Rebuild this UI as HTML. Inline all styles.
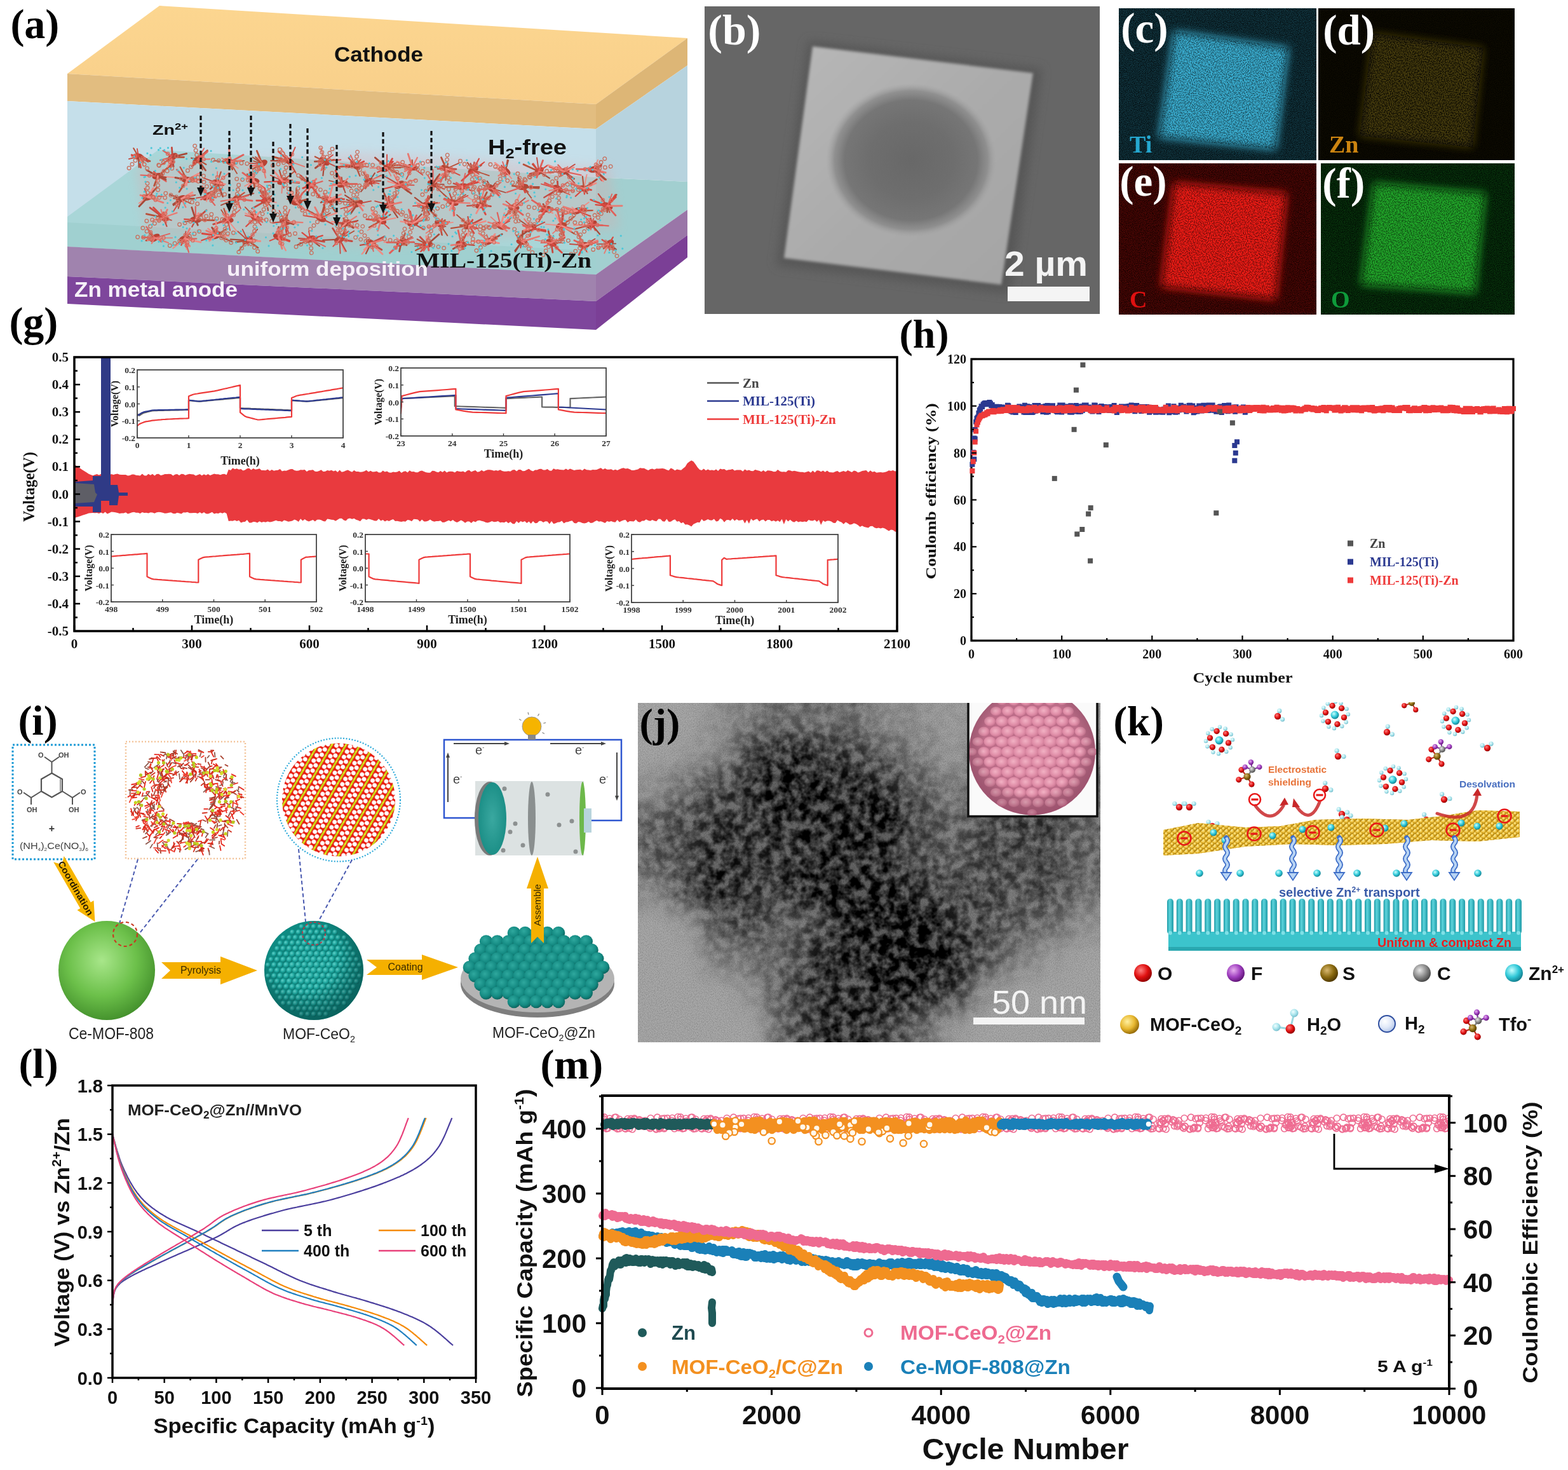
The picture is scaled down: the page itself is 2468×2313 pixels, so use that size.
<!DOCTYPE html>
<html><head><meta charset="utf-8"><title>Figure</title>
<style>html,body{margin:0;padding:0;background:#fff;}svg{display:block;}</style></head>
<body><svg width="2468" height="2313" viewBox="0 0 2468 2313">
<defs><linearGradient id="gTop" x1="0" y1="0" x2="0" y2="1"><stop offset="0" stop-color="#FCD690"/><stop offset="1" stop-color="#F8CF8A"/></linearGradient>
<filter id="blur8" x="-20%" y="-20%" width="140%" height="140%"><feGaussianBlur stdDeviation="8"/></filter>
<filter id="blur2" x="-10%" y="-10%" width="120%" height="120%"><feGaussianBlur stdDeviation="2"/></filter>
<linearGradient id="gSq" x1="0" y1="0" x2="1" y2="1"><stop offset="0" stop-color="#B8B8B8"/><stop offset="0.5" stop-color="#ABABAB"/><stop offset="1" stop-color="#A4A4A4"/></linearGradient>
<radialGradient id="gEll"><stop offset="0" stop-color="#686868"/><stop offset="0.5" stop-color="#6E6E6E"/><stop offset="0.78" stop-color="#767676"/><stop offset="0.9" stop-color="#888888" stop-opacity="0.8"/><stop offset="1" stop-color="#A0A0A0" stop-opacity="0"/></radialGradient>
<clipPath id="clipcf0"><rect x="1761" y="13" width="311" height="239"/></clipPath>
<clipPath id="clipcf1"><rect x="2075" y="13" width="309" height="239"/></clipPath>
<clipPath id="clipcf2"><rect x="1761" y="257" width="311" height="238"/></clipPath>
<clipPath id="clipcf3"><rect x="2079" y="257" width="305" height="238"/></clipPath>
<filter id="edsblur" x="-20%" y="-20%" width="140%" height="140%"><feGaussianBlur stdDeviation="7"/></filter>
<filter id="speck" x="0" y="0" width="100%" height="100%"><feTurbulence type="fractalNoise" baseFrequency="0.9" numOctaves="1" seed="3" result="n"/><feColorMatrix in="n" type="matrix" values="0 0 0 0 0  0 0 0 0 0  0 0 0 0 0  0 0 0 -6 3.6" result="a"/><feComposite in="SourceGraphic" in2="a" operator="in"/></filter>
<filter id="speck2" x="-5%" y="-5%" width="110%" height="110%"><feTurbulence type="fractalNoise" baseFrequency="0.6" numOctaves="1" seed="8" result="n"/><feColorMatrix in="n" type="matrix" values="0 0 0 0 0  0 0 0 0 0  0 0 0 0 0  0 0 0 -5 2.9" result="a"/><feComposite in="SourceGraphic" in2="a" operator="in" result="c"/><feGaussianBlur in="c" stdDeviation="0.6"/></filter>
<radialGradient id="gGreen" cx="0.45" cy="0.4" r="0.65"><stop offset="0" stop-color="#A8E68A"/><stop offset="0.55" stop-color="#6CC04A"/><stop offset="1" stop-color="#3E8A28"/></radialGradient>
<radialGradient id="gBall" cx="0.35" cy="0.35" r="0.7"><stop offset="0" stop-color="#5FD0C8"/><stop offset="0.6" stop-color="#18A098"/><stop offset="1" stop-color="#0B6E68"/></radialGradient>
<radialGradient id="gBall2" cx="0.4" cy="0.35" r="0.7"><stop offset="0" stop-color="#2FA89E"/><stop offset="0.6" stop-color="#148A82"/><stop offset="1" stop-color="#0A5E58"/></radialGradient>
<radialGradient id="gShade" cx="0.4" cy="0.35" r="0.7"><stop offset="0.5" stop-color="#000" stop-opacity="0"/><stop offset="1" stop-color="#043030" stop-opacity="0.45"/></radialGradient>
<radialGradient id="gDisc" cx="0.5" cy="0.5" r="0.6"><stop offset="0" stop-color="#3AA8A0"/><stop offset="1" stop-color="#168A82"/></radialGradient>
<pattern id="latt" width="24" height="12" patternUnits="userSpaceOnUse" patternTransform="rotate(30) scale(0.8)"><rect width="24" height="12" fill="#E81C10"/><rect x="0" y="0" width="4" height="12" fill="#C8D818"/><circle cx="2" cy="6" r="1.8" fill="#F4E820"/><circle cx="10.5" cy="3" r="4.3" fill="#fff"/><circle cx="18.5" cy="9" r="4.3" fill="#fff"/><circle cx="18.5" cy="-3" r="4.3" fill="#fff"/><circle cx="10.5" cy="15" r="4.3" fill="#fff"/></pattern>
<clipPath id="clipJ"><rect x="1004" y="1106" width="728" height="534"/></clipPath>
<clipPath id="clipJi"><rect x="1523" y="1106" width="205" height="179"/></clipPath>
<filter id="temMass" x="-5%" y="-5%" width="110%" height="110%">
<feGaussianBlur in="SourceGraphic" stdDeviation="17" result="m"/>
<feTurbulence type="fractalNoise" baseFrequency="0.065" numOctaves="3" seed="4" result="t"/>
<feColorMatrix in="t" type="matrix" values="0 0 0 0 0  0 0 0 0 0  0 0 0 0 0  2.4 0 0 0 -0.7" result="ta"/>
<feComposite in="m" in2="ta" operator="arithmetic" k1="1.0" k2="0.62" k3="0" k4="0"/>
</filter>
<filter id="grain" x="0" y="0" width="100%" height="100%">
<feTurbulence type="fractalNoise" baseFrequency="0.7" numOctaves="1" seed="9" result="t"/>
<feColorMatrix in="t" type="matrix" values="0 0 0 0 0  0 0 0 0 0  0 0 0 0 0  2 0 0 0 -0.8"/>
</filter>
<radialGradient id="gPink" cx="0.45" cy="0.45" r="0.62"><stop offset="0" stop-color="#F2B2C4"/><stop offset="0.6" stop-color="#E08EA8"/><stop offset="1" stop-color="#C4708C"/></radialGradient>
<radialGradient id="gPinkShade" cx="0.5" cy="0.45" r="0.55"><stop offset="0.7" stop-color="#000" stop-opacity="0"/><stop offset="1" stop-color="#6A2040" stop-opacity="0.35"/></radialGradient>
<clipPath id="clipK"><rect x="1740" y="1105" width="728" height="560"/></clipPath>
<radialGradient id="kO" cx="0.38" cy="0.35" r="0.7"><stop offset="0" stop-color="#FF8080"/><stop offset="0.55" stop-color="#E01010"/><stop offset="1" stop-color="#8A0000"/></radialGradient>
<radialGradient id="kH" cx="0.38" cy="0.35" r="0.7"><stop offset="0" stop-color="#F0FFFF"/><stop offset="0.55" stop-color="#A8E4EC"/><stop offset="1" stop-color="#70B8C8"/></radialGradient>
<radialGradient id="kZn" cx="0.38" cy="0.35" r="0.7"><stop offset="0" stop-color="#C8FFFF"/><stop offset="0.55" stop-color="#30C8D8"/><stop offset="1" stop-color="#107888"/></radialGradient>
<radialGradient id="kF" cx="0.38" cy="0.35" r="0.7"><stop offset="0" stop-color="#E8B0F0"/><stop offset="0.55" stop-color="#A040C0"/><stop offset="1" stop-color="#5A1070"/></radialGradient>
<radialGradient id="kS" cx="0.38" cy="0.35" r="0.7"><stop offset="0" stop-color="#D8B870"/><stop offset="0.55" stop-color="#8A6A10"/><stop offset="1" stop-color="#4A3400"/></radialGradient>
<radialGradient id="kC" cx="0.38" cy="0.35" r="0.7"><stop offset="0" stop-color="#E8E8E8"/><stop offset="0.55" stop-color="#8A8A8A"/><stop offset="1" stop-color="#404040"/></radialGradient>
<radialGradient id="kMofBall" cx="0.38" cy="0.35" r="0.7"><stop offset="0" stop-color="#FFF0A0"/><stop offset="0.55" stop-color="#E8B830"/><stop offset="1" stop-color="#8A6000"/></radialGradient>
<radialGradient id="kH2" cx="0.38" cy="0.35" r="0.7"><stop offset="0" stop-color="#FFFFFF"/><stop offset="0.55" stop-color="#E0E8F8"/><stop offset="1" stop-color="#B0C4E8"/></radialGradient>
<linearGradient id="kPil" x1="0" y1="0" x2="1" y2="0"><stop offset="0" stop-color="#1E9AA6"/><stop offset="0.4" stop-color="#5CD4DC"/><stop offset="1" stop-color="#1E9AA6"/></linearGradient>
<pattern id="kMof" width="9" height="8" patternUnits="userSpaceOnUse"><circle cx="4.5" cy="4" r="4.3" fill="url(#kMofBall)"/><circle cx="0" cy="0" r="3" fill="url(#kMofBall)"/><circle cx="9" cy="0" r="3" fill="url(#kMofBall)"/><circle cx="0" cy="8" r="3" fill="url(#kMofBall)"/><circle cx="9" cy="8" r="3" fill="url(#kMofBall)"/></pattern>
<pattern id="pinkCE" width="120" height="32" patternUnits="userSpaceOnUse" x="950" y="1751"><g fill="none" stroke="#EE6A90" stroke-width="1.6"><circle cx="74.7" cy="20.8" r="5"/><circle cx="95.4" cy="24.8" r="5"/><circle cx="88.8" cy="24.4" r="5"/><circle cx="3.5" cy="15.3" r="5"/><circle cx="123.5" cy="15.3" r="5"/><circle cx="113.2" cy="19.0" r="5"/><circle cx="108.1" cy="8.3" r="5"/><circle cx="56.3" cy="10.9" r="5"/><circle cx="65.3" cy="17.5" r="5"/><circle cx="1.6" cy="10.3" r="5"/><circle cx="121.6" cy="10.3" r="5"/><circle cx="33.5" cy="24.3" r="5"/><circle cx="91.9" cy="9.2" r="5"/><circle cx="95.7" cy="8.8" r="5"/><circle cx="74.1" cy="8.5" r="5"/><circle cx="0.2" cy="23.4" r="5"/><circle cx="120.2" cy="23.4" r="5"/><circle cx="25.1" cy="10.3" r="5"/><circle cx="-2.1" cy="23.4" r="5"/><circle cx="117.9" cy="23.4" r="5"/><circle cx="34.7" cy="25.2" r="5"/><circle cx="64.7" cy="19.6" r="5"/><circle cx="24.6" cy="24.8" r="5"/><circle cx="82.9" cy="25.3" r="5"/><circle cx="107.2" cy="12.0" r="5"/><circle cx="43.3" cy="9.3" r="5"/><circle cx="17.5" cy="7.3" r="5"/><circle cx="36.2" cy="18.1" r="5"/><circle cx="0.4" cy="19.6" r="5"/><circle cx="120.4" cy="19.6" r="5"/><circle cx="40.5" cy="12.2" r="5"/><circle cx="98.2" cy="15.6" r="5"/><circle cx="37.9" cy="15.6" r="5"/><circle cx="84.6" cy="7.1" r="5"/><circle cx="-3.0" cy="6.5" r="5"/><circle cx="117.0" cy="6.5" r="5"/><circle cx="90.0" cy="22.9" r="5"/><circle cx="2.2" cy="21.8" r="5"/><circle cx="122.2" cy="21.8" r="5"/><circle cx="43.9" cy="17.6" r="5"/><circle cx="1.1" cy="6.9" r="5"/><circle cx="121.1" cy="6.9" r="5"/><circle cx="21.7" cy="25.1" r="5"/><circle cx="23.6" cy="21.1" r="5"/><circle cx="111.6" cy="24.8" r="5"/><circle cx="41.3" cy="13.1" r="5"/><circle cx="63.0" cy="21.5" r="5"/><circle cx="13.0" cy="21.0" r="5"/><circle cx="95.7" cy="23.2" r="5"/><circle cx="4.4" cy="24.9" r="5"/><circle cx="124.4" cy="24.9" r="5"/><circle cx="10.9" cy="12.8" r="5"/><circle cx="73.3" cy="24.4" r="5"/><circle cx="40.8" cy="24.5" r="5"/><circle cx="65.4" cy="12.2" r="5"/><circle cx="38.0" cy="9.5" r="5"/><circle cx="9.4" cy="9.0" r="5"/><circle cx="82.7" cy="25.9" r="5"/><circle cx="19.4" cy="7.0" r="5"/><circle cx="-1.6" cy="16.7" r="5"/><circle cx="118.4" cy="16.7" r="5"/><circle cx="48.7" cy="10.7" r="5"/><circle cx="71.3" cy="22.5" r="5"/><circle cx="54.7" cy="14.4" r="5"/><circle cx="6.7" cy="24.3" r="5"/><circle cx="3.9" cy="15.9" r="5"/><circle cx="123.9" cy="15.9" r="5"/><circle cx="100.6" cy="8.6" r="5"/><circle cx="87.8" cy="25.0" r="5"/><circle cx="75.6" cy="21.8" r="5"/><circle cx="12.8" cy="14.7" r="5"/><circle cx="17.9" cy="22.9" r="5"/><circle cx="35.4" cy="15.1" r="5"/><circle cx="-0.1" cy="23.0" r="5"/><circle cx="119.9" cy="23.0" r="5"/><circle cx="-2.9" cy="15.1" r="5"/><circle cx="117.1" cy="15.1" r="5"/><circle cx="58.6" cy="20.6" r="5"/><circle cx="57.5" cy="11.8" r="5"/><circle cx="48.5" cy="8.9" r="5"/><circle cx="45.2" cy="25.8" r="5"/><circle cx="-4.8" cy="18.5" r="5"/><circle cx="115.2" cy="18.5" r="5"/><circle cx="59.9" cy="12.8" r="5"/></g></pattern></defs>
<rect width="2468" height="2313" fill="#fff"/>
<polygon points="106,116 251,9 1082,60 938,164" fill="url(#gTop)" />
<polygon points="938,164 1082,60 1082,103 938,203" fill="#DDB676" />
<polygon points="938,203 1082,103 1082,286 938,279" fill="#B7D3DE" />
<polygon points="938,279 1082,286 1082,330 938,432" fill="#A2CFD0" />
<polygon points="938,432 1082,330 1082,370 938,474" fill="#9A76A8" />
<polygon points="938,474 1082,370 1082,405 938,519" fill="#7B3F96" />
<polygon points="106,116 938,164 938,203 106,159" fill="#E2BD80" />
<polygon points="106,159 938,203 938,432 106,388" fill="#C5DFEA" />
<polygon points="106,341 249,236 938,279 938,432 106,388" fill="#A9D6D8" />
<polygon points="106,350 938,395 938,432 106,388" fill="#A0D0D0" />
<polygon points="106,388 938,432 938,474 106,435" fill="#A083AE" />
<polygon points="106,435 938,474 938,519 106,478" fill="#7E469C" />
<polygon points="213,262 560,240 960,262 975,360 600,388 230,372" fill="#E8A0A0" opacity="0.25" filter="url(#blur8)"/>
<g fill="#B84234"><ellipse cx="217.9" cy="246.5" rx="9" ry="5" transform="rotate(12.1 217.9 246.5)"/><ellipse cx="271.6" cy="247" rx="9" ry="5" transform="rotate(-32.5 271.6 247)"/><ellipse cx="311.2" cy="250.9" rx="9" ry="5" transform="rotate(-38 311.2 250.9)"/><ellipse cx="362.1" cy="255" rx="9" ry="5" transform="rotate(26.8 362.1 255)"/><ellipse cx="412.7" cy="257.7" rx="9" ry="5" transform="rotate(-31.5 412.7 257.7)"/><ellipse cx="455" cy="253.6" rx="9" ry="5" transform="rotate(32.5 455 253.6)"/><ellipse cx="510.7" cy="253.7" rx="9" ry="5" transform="rotate(39.2 510.7 253.7)"/><ellipse cx="559.6" cy="260.6" rx="9" ry="5" transform="rotate(36.5 559.6 260.6)"/><ellipse cx="609" cy="264" rx="9" ry="5" transform="rotate(-34 609 264)"/><ellipse cx="649.1" cy="263.1" rx="9" ry="5" transform="rotate(12.2 649.1 263.1)"/><ellipse cx="702.4" cy="265.5" rx="9" ry="5" transform="rotate(31.6 702.4 265.5)"/><ellipse cx="744.6" cy="267.9" rx="9" ry="5" transform="rotate(-28.6 744.6 267.9)"/><ellipse cx="795.7" cy="269" rx="9" ry="5" transform="rotate(36.3 795.7 269)"/><ellipse cx="848.1" cy="269.8" rx="9" ry="5" transform="rotate(-36.8 848.1 269.8)"/><ellipse cx="887.7" cy="269.8" rx="9" ry="5" transform="rotate(-8.3 887.7 269.8)"/><ellipse cx="934.8" cy="266.5" rx="9" ry="5" transform="rotate(-10.8 934.8 266.5)"/><ellipse cx="248.4" cy="277.2" rx="9" ry="5" transform="rotate(-13.5 248.4 277.2)"/><ellipse cx="294.4" cy="282.9" rx="9" ry="5" transform="rotate(0.6 294.4 282.9)"/><ellipse cx="341.9" cy="287.8" rx="9" ry="5" transform="rotate(16.1 341.9 287.8)"/><ellipse cx="399.5" cy="284.6" rx="9" ry="5" transform="rotate(6.2 399.5 284.6)"/><ellipse cx="444.8" cy="285" rx="9" ry="5" transform="rotate(-24.3 444.8 285)"/><ellipse cx="488.9" cy="291.2" rx="9" ry="5" transform="rotate(-23.2 488.9 291.2)"/><ellipse cx="539" cy="289.5" rx="9" ry="5" transform="rotate(-23.2 539 289.5)"/><ellipse cx="581.5" cy="285" rx="9" ry="5" transform="rotate(12.7 581.5 285)"/><ellipse cx="628.7" cy="290.9" rx="9" ry="5" transform="rotate(-36.8 628.7 290.9)"/><ellipse cx="681.4" cy="289.3" rx="9" ry="5" transform="rotate(20.4 681.4 289.3)"/><ellipse cx="727.5" cy="293.5" rx="9" ry="5" transform="rotate(-11.3 727.5 293.5)"/><ellipse cx="773.7" cy="296.4" rx="9" ry="5" transform="rotate(35.2 773.7 296.4)"/><ellipse cx="822.9" cy="294" rx="9" ry="5" transform="rotate(-6.7 822.9 294)"/><ellipse cx="878.4" cy="297.2" rx="9" ry="5" transform="rotate(31.8 878.4 297.2)"/><ellipse cx="919" cy="296.7" rx="9" ry="5" transform="rotate(10.6 919 296.7)"/><ellipse cx="232.7" cy="310.2" rx="9" ry="5" transform="rotate(-17.2 232.7 310.2)"/><ellipse cx="285.6" cy="312.7" rx="9" ry="5" transform="rotate(-20.6 285.6 312.7)"/><ellipse cx="326.8" cy="308.7" rx="9" ry="5" transform="rotate(-38.8 326.8 308.7)"/><ellipse cx="372" cy="312.6" rx="9" ry="5" transform="rotate(-39.4 372 312.6)"/><ellipse cx="419.3" cy="315.6" rx="9" ry="5" transform="rotate(-11.1 419.3 315.6)"/><ellipse cx="467" cy="318.1" rx="9" ry="5" transform="rotate(-8.5 467 318.1)"/><ellipse cx="517.4" cy="314.4" rx="9" ry="5" transform="rotate(16.1 517.4 314.4)"/><ellipse cx="563" cy="320.5" rx="9" ry="5" transform="rotate(-26.9 563 320.5)"/><ellipse cx="612.4" cy="322.3" rx="9" ry="5" transform="rotate(-22.3 612.4 322.3)"/><ellipse cx="669.1" cy="323" rx="9" ry="5" transform="rotate(-19.6 669.1 323)"/><ellipse cx="713" cy="318.7" rx="9" ry="5" transform="rotate(15.9 713 318.7)"/><ellipse cx="756.6" cy="322.4" rx="9" ry="5" transform="rotate(-24 756.6 322.4)"/><ellipse cx="808.6" cy="326.8" rx="9" ry="5" transform="rotate(4.7 808.6 326.8)"/><ellipse cx="859" cy="329.2" rx="9" ry="5" transform="rotate(-17.4 859 329.2)"/><ellipse cx="908.2" cy="331.9" rx="9" ry="5" transform="rotate(-22.1 908.2 331.9)"/><ellipse cx="955.9" cy="324.1" rx="9" ry="5" transform="rotate(23.8 955.9 324.1)"/><ellipse cx="257.1" cy="342.3" rx="9" ry="5" transform="rotate(28.7 257.1 342.3)"/><ellipse cx="308" cy="345.8" rx="9" ry="5" transform="rotate(4 308 345.8)"/><ellipse cx="358.7" cy="346.5" rx="9" ry="5" transform="rotate(-0.1 358.7 346.5)"/><ellipse cx="401.7" cy="342.3" rx="9" ry="5" transform="rotate(31.4 401.7 342.3)"/><ellipse cx="448.6" cy="348.6" rx="9" ry="5" transform="rotate(16.1 448.6 348.6)"/><ellipse cx="504.9" cy="343.5" rx="9" ry="5" transform="rotate(26.3 504.9 343.5)"/><ellipse cx="544.5" cy="351.3" rx="9" ry="5" transform="rotate(-25.3 544.5 351.3)"/><ellipse cx="599.7" cy="347.3" rx="9" ry="5" transform="rotate(21 599.7 347.3)"/><ellipse cx="649.9" cy="351.4" rx="9" ry="5" transform="rotate(-11.7 649.9 351.4)"/><ellipse cx="692.3" cy="352.5" rx="9" ry="5" transform="rotate(31.1 692.3 352.5)"/><ellipse cx="738.4" cy="355" rx="9" ry="5" transform="rotate(-24.3 738.4 355)"/><ellipse cx="787.9" cy="355.4" rx="9" ry="5" transform="rotate(30.8 787.9 355.4)"/><ellipse cx="836.6" cy="359.2" rx="9" ry="5" transform="rotate(-34.2 836.6 359.2)"/><ellipse cx="883.6" cy="355.1" rx="9" ry="5" transform="rotate(-14 883.6 355.1)"/><ellipse cx="931.6" cy="353.4" rx="9" ry="5" transform="rotate(-34.6 931.6 353.4)"/><ellipse cx="243.7" cy="374.3" rx="9" ry="5" transform="rotate(-36 243.7 374.3)"/><ellipse cx="290.6" cy="375.6" rx="9" ry="5" transform="rotate(-14.2 290.6 375.6)"/><ellipse cx="340.8" cy="370.3" rx="9" ry="5" transform="rotate(-27.9 340.8 370.3)"/><ellipse cx="389.7" cy="378" rx="9" ry="5" transform="rotate(-31 389.7 378)"/><ellipse cx="438.4" cy="373.1" rx="9" ry="5" transform="rotate(23.3 438.4 373.1)"/><ellipse cx="488.5" cy="376.3" rx="9" ry="5" transform="rotate(-24.2 488.5 376.3)"/><ellipse cx="534.6" cy="376.7" rx="9" ry="5" transform="rotate(-21.9 534.6 376.7)"/><ellipse cx="584.1" cy="382.6" rx="9" ry="5" transform="rotate(30.3 584.1 382.6)"/><ellipse cx="631.5" cy="381.3" rx="9" ry="5" transform="rotate(-35.4 631.5 381.3)"/><ellipse cx="672.6" cy="384.7" rx="9" ry="5" transform="rotate(-6 672.6 384.7)"/><ellipse cx="726.2" cy="383.9" rx="9" ry="5" transform="rotate(14.2 726.2 383.9)"/><ellipse cx="769.6" cy="379.6" rx="9" ry="5" transform="rotate(-27.2 769.6 379.6)"/><ellipse cx="821.4" cy="380.1" rx="9" ry="5" transform="rotate(6.4 821.4 380.1)"/><ellipse cx="867.7" cy="382.1" rx="9" ry="5" transform="rotate(28.1 867.7 382.1)"/><ellipse cx="919.2" cy="385.7" rx="9" ry="5" transform="rotate(-3.3 919.2 385.7)"/><ellipse cx="958.3" cy="383.7" rx="9" ry="5" transform="rotate(-35.6 958.3 383.7)"/></g>
<path d="M217.9 246.5L236 253.6M217.9 246.5L225.4 254.2M271.6 247L268.4 261.1M271.6 247L289.5 247.3M311.2 250.9L326.4 236.8M362.1 255L365.7 266.5M412.7 257.7L404.3 237.4M455 253.6L428.9 246.4M510.7 253.7L496.4 264.3M702.4 265.5L694.5 247.7M848.1 269.8L824.1 258.8M934.8 266.5L953.6 282.5M248.4 277.2L242.7 292.3M248.4 277.2L267.4 261.1M294.4 282.9L282 301.9M399.5 284.6L400.5 295.5M628.7 290.9L642.4 301.4M681.4 289.3L691.9 274.3M681.4 289.3L701.6 276.9M727.5 293.5L701 294.4M727.5 293.5L738 294.9M822.9 294L848.1 296M822.9 294L806.4 292.4M232.7 310.2L246.5 295.4M285.6 312.7L273.6 312M467 318.1L466.6 297.5M467 318.1L484.1 313.3M669.1 323L679.1 305.7M669.1 323L683.9 318.1M713 318.7L729.1 315.7M756.6 322.4L766.3 302.6M756.6 322.4L764 316.4M808.6 326.8L811 338.5M908.2 331.9L922.6 328.3M908.2 331.9L893.5 335.4M955.9 324.1L970.1 306.4M955.9 324.1L955.8 333.7M257.1 342.3L230.4 336.6M308 345.8L336.8 346.7M504.9 343.5L510.6 322.7M504.9 343.5L490.2 334.3M599.7 347.3L608.2 341.9M692.3 352.5L700.4 346.5M738.4 355L728.1 346.2M738.4 355L724.4 354.4M243.7 374.3L230 378.3M243.7 374.3L235.6 367.3M389.7 378L371.4 380.9M389.7 378L406 389.8M389.7 378L404 378.3M438.4 373.1L455.7 378.8M488.5 376.3L499.2 374.3M631.5 381.3L640 385.8M821.4 380.1L822.8 363.4M867.7 382.1L863.1 363.3M919.2 385.7L937.2 381.7" stroke="#B8503A" stroke-width="2.8" fill="none" stroke-linecap="round"/><path d="M217.9 246.5L207.2 246.1M311.2 250.9L330.1 250.3M412.7 257.7L418 279.7M510.7 253.7L505.1 232.8M559.6 260.6L535.7 257.5M609 264L630.8 258.4M649.1 263.1L656.8 248M744.6 267.9L755.1 270.7M795.7 269L784.5 276.7M887.7 269.8L893.4 262.4M934.8 266.5L944.5 272.8M539 289.5L547.2 281M539 289.5L518.7 292.3M539 289.5L523.4 289.7M628.7 290.9L655.1 282.2M628.7 290.9L620.2 274.9M285.6 312.7L292.4 326.1M669.1 323L691.8 319.2M713 318.7L739.5 319.7M756.6 322.4L761.3 299.7M808.6 326.8L794.7 341.9M808.6 326.8L831.7 315.4M257.1 342.3L249.6 348.5M257.1 342.3L253.5 330.1M257.1 342.3L240.6 347M257.1 342.3L278.5 334.9M257.1 342.3L262.1 350.3M401.7 342.3L417.2 346.3M448.6 348.6L476.4 350.1M504.9 343.5L511.8 327.4M544.5 351.3L561.1 340.3M544.5 351.3L563.9 359.4M787.9 355.4L768.2 349.6M836.6 359.2L825.1 344.5M243.7 374.3L238.8 383M243.7 374.3L264.9 382M672.6 384.7L659.1 384.4" stroke="#E87A72" stroke-width="2.2" fill="none" stroke-linecap="round"/><path d="M217.9 246.5L233.1 254.3M271.6 247L270.4 232.1M702.4 265.5L717.9 266.1M848.1 269.8L833.9 273.6M934.8 266.5L946.2 261.2M341.9 287.8L351.9 291.4M341.9 287.8L345 296M727.5 293.5L750.7 287M822.9 294L815.8 279.1M878.4 297.2L877.4 285.3M878.4 297.2L864.6 306.5M326.8 308.7L339.9 310.6M419.3 315.6L396.9 328M517.4 314.4L526.1 330.7M612.4 322.3L612 309.1M669.1 323L675.6 336.8M756.6 322.4L772.5 324.6M257.1 342.3L236.1 326.8M308 345.8L324.9 330.8M358.7 346.5L335.7 352.9M358.7 346.5L365.7 337.8M448.6 348.6L450.8 365.6M544.5 351.3L540.8 343.6M649.9 351.4L636.3 346M738.4 355L758.1 344.8M836.6 359.2L858.7 364.2M931.6 353.4L929.5 343.5M438.4 373.1L451.2 368.5M488.5 376.3L510.5 380.3M534.6 376.7L554.1 379.5M534.6 376.7L523.7 359.3M584.1 382.6L605.4 371.9M584.1 382.6L600.8 393M672.6 384.7L661.1 372.7M867.7 382.1L869.9 397" stroke="#C44A40" stroke-width="2.8" fill="none" stroke-linecap="round"/><path d="M217.9 246.5L221.6 263.7M217.9 246.5L207.2 243.8M455 253.6L438.3 238.5M559.6 260.6L572.7 254M559.6 260.6L531.2 262.6M609 264L617.4 249.8M609 264L618.3 254.3M744.6 267.9L726.8 284.2M887.7 269.8L865.2 262.3M934.8 266.5L947 283.8M248.4 277.2L242.5 270.3M488.9 291.2L503.1 310.2M488.9 291.2L476.8 296.1M539 289.5L528.1 268.4M727.5 293.5L753.3 286.4M822.9 294L826.6 302.7M919 296.7L939 282.5M919 296.7L930.6 298.8M419.3 315.6L403.7 315.6M517.4 314.4L541.6 313.4M517.4 314.4L537.9 312.4M612.4 322.3L621.6 329.2M756.6 322.4L764.3 337.4M756.6 322.4L773 307.2M955.9 324.1L929.7 314.2M257.1 342.3L241.5 326.6M448.6 348.6L441.6 369.4M599.7 347.3L609.4 333.9M599.7 347.3L576.9 344.9M692.3 352.5L706.9 349.1M738.4 355L751.2 359.3M738.4 355L746 366.9M738.4 355L743.8 346M836.6 359.2L858.5 362.5M836.6 359.2L825.7 363.4M883.6 355.1L888.5 374.2M340.8 370.3L318.2 367.5M438.4 373.1L455.4 379.7M769.6 379.6L756.9 378.9M867.7 382.1L884.4 397.5M867.7 382.1L886.6 375.3M919.2 385.7L911.2 401M958.3 383.7L965 392.5" stroke="#D9483F" stroke-width="2.8" fill="none" stroke-linecap="round"/><path d="M217.9 246.5L231.4 249.9M271.6 247L273.6 262.3M362.1 255L336.6 252.8M412.7 257.7L397.8 247.5M795.7 269L800.2 252.3M294.4 282.9L308.2 280.5M539 289.5L553 295M539 289.5L543.5 303.2M581.5 285L568.1 301.6M581.5 285L599.8 275.7M681.4 289.3L680 303.6M681.4 289.3L698.5 305.9M681.4 289.3L698.7 290.1M773.7 296.4L795.8 303M285.6 312.7L307.3 306.8M285.6 312.7L280.7 328M326.8 308.7L345.4 293M372 312.6L347.9 322.9M372 312.6L380.6 305.5M612.4 322.3L605.3 328.2M669.1 323L664.4 332.2M756.6 322.4L753.8 299.9M308 345.8L289.2 349.3M544.5 351.3L563.4 347M544.5 351.3L533.1 360.2M692.3 352.5L701.5 356.5M836.6 359.2L817.6 346.2M243.7 374.3L233.6 378M290.6 375.6L279.3 383.5M389.7 378L405.3 360.8M672.6 384.7L653.2 387.4M821.4 380.1L818.6 372.3M958.3 383.7L969.2 383.3" stroke="#A84A3A" stroke-width="1.8" fill="none" stroke-linecap="round"/><path d="M217.9 246.5L226.8 261.7M362.1 255L374.8 264.5M455 253.6L460.1 267.8M795.7 269L805.2 280.9M934.8 266.5L941.1 251.6M248.4 277.2L273.6 279M399.5 284.6L413.3 301.8M399.5 284.6L385.2 292.8M399.5 284.6L386.8 281.7M581.5 285L600.5 276.8M581.5 285L574.5 268.9M628.7 290.9L622.7 270.4M919 296.7L923.6 274.8M232.7 310.2L218.7 319.7M326.8 308.7L325.1 317M372 312.6L383.4 303.1M419.3 315.6L434.7 318.7M563 320.5L544.8 327.5M756.6 322.4L735.5 309.7M808.6 326.8L807.4 344M908.2 331.9L926.8 318.2M908.2 331.9L933.9 330.8M908.2 331.9L900.5 326.1M358.7 346.5L372.1 363.1M401.7 342.3L386 335.4M448.6 348.6L469.7 353.1M599.7 347.3L578.7 362.5M649.9 351.4L656.7 342.7M692.3 352.5L713 349.8M883.6 355.1L859 352.7M931.6 353.4L927.3 343.4M290.6 375.6L293.7 392.5M290.6 375.6L298.5 388.5M534.6 376.7L542.1 395.8M584.1 382.6L594.3 386.5M584.1 382.6L574.5 385.3M631.5 381.3L604.5 381M867.7 382.1L889.4 371.6M867.7 382.1L879.3 377.2M919.2 385.7L924.9 397.3M958.3 383.7L952.5 391.9" stroke="#F08C84" stroke-width="1.8" fill="none" stroke-linecap="round"/><path d="M217.9 246.5L210.2 233.3M311.2 250.9L324.4 258.8M311.2 250.9L318.7 267M412.7 257.7L397.9 265.8M510.7 253.7L495.8 246.4M559.6 260.6L566.4 276.8M559.6 260.6L536.2 261.8M609 264L629.4 274.4M609 264L630.2 263.9M609 264L622.5 259.4M649.1 263.1L648.7 251.9M744.6 267.9L735.8 256M744.6 267.9L757.8 260M795.7 269L798.8 251.9M848.1 269.8L838 258.3M294.4 282.9L283.6 262.8M341.9 287.8L347.7 270.6M399.5 284.6L389.1 273.8M444.8 285L439.8 267.9M488.9 291.2L472.2 279.6M488.9 291.2L474.8 305.2M539 289.5L537.7 279.2M773.7 296.4L786.5 304.3M773.7 296.4L760.9 285.7M919 296.7L916.9 277.5M419.3 315.6L409.6 299.3M517.4 314.4L505.9 317.5M669.1 323L688.2 318.8M713 318.7L698.2 305.6M713 318.7L699.4 312.3M756.6 322.4L765.7 311.1M908.2 331.9L932.4 331.1M358.7 346.5L352.4 328.2M504.9 343.5L511.2 325.8M599.7 347.3L580.9 357.8M649.9 351.4L672.4 344.4M692.3 352.5L695.8 369.8M692.3 352.5L704.1 370.5M738.4 355L710 359.1M883.6 355.1L903.9 367.7M931.6 353.4L905.9 360.1M534.6 376.7L541 365.8M672.6 384.7L654.2 394M672.6 384.7L656.7 376.4M726.2 383.9L732.6 370.1M726.2 383.9L729.6 372.3M958.3 383.7L949.9 391.2" stroke="#B8503A" stroke-width="2.2" fill="none" stroke-linecap="round"/><path d="M217.9 246.5L202.9 250.1M311.2 250.9L304.4 260.9M362.1 255L362.1 244.9M412.7 257.7L392 256.9M412.7 257.7L408.7 267M510.7 253.7L535.1 265.1M559.6 260.6L567.8 251.1M649.1 263.1L624.5 259.5M702.4 265.5L684.4 262.9M702.4 265.5L699.6 278.1M702.4 265.5L688.6 265.8M744.6 267.9L760.1 256.9M848.1 269.8L845 248.1M887.7 269.8L862.5 271M887.7 269.8L904.9 258.6M887.7 269.8L904.5 288.1M341.9 287.8L320.4 280.2M444.8 285L425.8 275.7M488.9 291.2L481.9 278.4M488.9 291.2L474.1 276.4M581.5 285L572.2 272M581.5 285L586 292.8M773.7 296.4L759.6 291M822.9 294L831.5 302.2M232.7 310.2L248.2 309.3M326.8 308.7L309 311.6M372 312.6L378.8 328M467 318.1L452 313.1M517.4 314.4L541.7 317.8M563 320.5L572.4 323.6M563 320.5L584.1 316.3M563 320.5L541.3 317.1M612.4 322.3L590 316.4M808.6 326.8L826.7 311.5M257.1 342.3L269.9 346.6M504.9 343.5L508.4 332M692.3 352.5L694.9 368.8M836.6 359.2L857.3 349.6M883.6 355.1L887.8 333.8M290.6 375.6L292.5 364.1M389.7 378L381.7 360.9M389.7 378L374.2 364M534.6 376.7L535.6 398.7M584.1 382.6L579.2 390M631.5 381.3L652.2 381.3M631.5 381.3L648.8 372.6M726.2 383.9L723.4 393.7M726.2 383.9L730.1 392.3M867.7 382.1L883.5 381.8M919.2 385.7L896.8 384M919.2 385.7L936.6 375.9M919.2 385.7L923.2 395.9M958.3 383.7L939.5 384.1M958.3 383.7L959.4 393.8" stroke="#C44A40" stroke-width="1.8" fill="none" stroke-linecap="round"/><path d="M217.9 246.5L218.7 263.2M311.2 250.9L316.7 258M311.2 250.9L301.1 248.7M455 253.6L426.4 252.8M510.7 253.7L508.4 276.2M702.4 265.5L704.9 257.8M744.6 267.9L740.7 257.3M848.1 269.8L864.9 280.4M848.1 269.8L833.7 277.2M248.4 277.2L236.7 271.3M581.5 285L589.8 272.5M581.5 285L599.1 284.7M773.7 296.4L766.8 285.2M773.7 296.4L779.4 288.4M822.9 294L848.7 294.2M822.9 294L815.4 283.8M919 296.7L924.5 304.4M919 296.7L939.6 282.2M232.7 310.2L220.6 323M285.6 312.7L267.8 306.5M372 312.6L399.1 304.3M419.3 315.6L422 331M517.4 314.4L504.9 318.8M563 320.5L543.1 307.2M563 320.5L545.7 314.2M612.4 322.3L625.8 342.2M669.1 323L652.9 310.8M448.6 348.6L462.2 353.1M599.7 347.3L614.4 337.7M649.9 351.4L663.5 336.9M931.6 353.4L944 368.5M340.8 370.3L364.9 380.2M389.7 378L362.9 376.7M488.5 376.3L502.9 387.1M488.5 376.3L468.1 385.5M534.6 376.7L508.2 377.9M584.1 382.6L576 399M726.2 383.9L730.3 374.1M821.4 380.1L811.1 395.8M821.4 380.1L810.5 394.4" stroke="#A84A3A" stroke-width="2.2" fill="none" stroke-linecap="round"/><path d="M217.9 246.5L215.9 234.2M271.6 247L268.7 265.4M311.2 250.9L301.5 262M455 253.6L440.7 251.6M455 253.6L464.6 231.8M510.7 253.7L536.5 251.3M510.7 253.7L524 243.7M559.6 260.6L552.3 253.3M609 264L609.1 243.3M649.1 263.1L665.3 275.3M649.1 263.1L639.4 282M702.4 265.5L723.7 275.6M744.6 267.9L762.4 255.1M934.8 266.5L918.8 266M444.8 285L460.3 283.5M581.5 285L596.5 288.8M628.7 290.9L651.6 291.4M628.7 290.9L638.7 293.6M878.4 297.2L852 289.5M878.4 297.2L857.4 287.2M232.7 310.2L227.5 296.6M285.6 312.7L272.6 333M419.3 315.6L409.2 300.9M467 318.1L475.2 329.7M517.4 314.4L508.8 322.4M563 320.5L536.3 328.4M669.1 323L650 324.2M713 318.7L736.4 307.7M808.6 326.8L796.4 316.6M859 329.2L855.9 337.2M859 329.2L848.2 333.3M358.7 346.5L345.2 348.8M358.7 346.5L362.1 362.5M401.7 342.3L410.9 354.1M448.6 348.6L454.5 367.4M448.6 348.6L439.5 331.4M504.9 343.5L477.5 339M544.5 351.3L561.6 348.6M599.7 347.3L612.3 359.5M599.7 347.3L604.8 332.7M787.9 355.4L802.2 347.7M931.6 353.4L937 362.7M389.7 378L390.6 386.4M438.4 373.1L457 366M438.4 373.1L424.6 378.9M438.4 373.1L451.8 377.1M488.5 376.3L472.8 378.2M488.5 376.3L486 363.7M534.6 376.7L524.3 387.7M821.4 380.1L839.4 375.4M867.7 382.1L871 370.6M958.3 383.7L941.1 390.3" stroke="#D9483F" stroke-width="1.8" fill="none" stroke-linecap="round"/><path d="M271.6 247L263.9 262.6M412.7 257.7L405.6 247.7M455 253.6L466.6 273.7M649.1 263.1L624.7 254M649.1 263.1L662.9 254.8M744.6 267.9L755.5 288.3M795.7 269L785.5 269.1M795.7 269L780.1 263.4M934.8 266.5L949.5 285.3M248.4 277.2L260.2 281.1M294.4 282.9L291 291.2M294.4 282.9L320.4 283.8M399.5 284.6L391.4 265.8M628.7 290.9L610.4 285.4M681.4 289.3L694.5 280.4M681.4 289.3L696.5 272.9M878.4 297.2L875.3 306.5M419.3 315.6L421.1 325.4M467 318.1L457.2 298.9M467 318.1L464.3 310.3M563 320.5L572.9 324.3M612.4 322.3L616.1 331.6M713 318.7L713.8 340M808.6 326.8L818.1 306.3M859 329.2L864.3 308.7M859 329.2L869.8 335.3M859 329.2L844.4 347.8M358.7 346.5L356.3 332.1M504.9 343.5L530 335.1M544.5 351.3L521.9 348.8M599.7 347.3L622.6 343M649.9 351.4L630.4 348.3M738.4 355L736.4 371.4M883.6 355.1L874.7 338M931.6 353.4L903.2 354.3M290.6 375.6L272.3 390.6M340.8 370.3L339.9 347.6M340.8 370.3L327.4 359.6M438.4 373.1L449.9 394.1M584.1 382.6L569.6 399.7M631.5 381.3L612.9 397.9M726.2 383.9L721.7 399M769.6 379.6L759.9 382.7M821.4 380.1L819.2 368.3M821.4 380.1L837.2 389M821.4 380.1L812.2 370.3" stroke="#F08C84" stroke-width="2.2" fill="none" stroke-linecap="round"/><path d="M271.6 247L254.5 258.9M311.2 250.9L304.7 257.6M455 253.6L459.1 243.3M609 264L594.2 270.9M744.6 267.9L753.5 273.7M744.6 267.9L753.9 249.7M795.7 269L794.6 278.2M848.1 269.8L839.2 257.4M848.1 269.8L861.4 260.3M294.4 282.9L286.9 274.1M399.5 284.6L416.5 295.9M444.8 285L446.6 295.6M444.8 285L416.3 286.4M581.5 285L573.5 294.9M628.7 290.9L605.7 296.8M727.5 293.5L741.4 299.8M727.5 293.5L748.2 284.7M773.7 296.4L785.5 307.8M919 296.7L905.8 308.8M919 296.7L919.9 305.3M419.3 315.6L410 307.8M419.3 315.6L417 296.9M612.4 322.3L628.6 337.3M669.1 323L674 308.1M669.1 323L666.9 337.6M859 329.2L848.2 348.7M908.2 331.9L929.2 340.1M908.2 331.9L921.7 329.6M955.9 324.1L969.7 310M955.9 324.1L968.5 306.3M955.9 324.1L937.5 322.1M308 345.8L290.1 344.8M308 345.8L306.7 337.8M401.7 342.3L387.3 356.2M649.9 351.4L645.8 332.4M787.9 355.4L803.6 343.7M883.6 355.1L883.6 369.3M290.6 375.6L285.3 385.8M340.8 370.3L317.3 378.3M488.5 376.3L475.5 366.1M488.5 376.3L507.8 370.6M534.6 376.7L548.3 364M672.6 384.7L653.4 383.6M672.6 384.7L662.3 395.8M726.2 383.9L734.4 367.6M769.6 379.6L782.5 375.6M958.3 383.7L964.8 373.3M958.3 383.7L947.6 377.2" stroke="#D9483F" stroke-width="2.2" fill="none" stroke-linecap="round"/><path d="M271.6 247L256.7 237M271.6 247L252.2 252.1M510.7 253.7L505.7 268.1M559.6 260.6L579.5 262.5M649.1 263.1L642.7 271M702.4 265.5L693.7 286.8M795.7 269L795.9 280.7M848.1 269.8L839.5 277.3M887.7 269.8L914.6 275.5M887.7 269.8L878.3 259.5M248.4 277.2L221.5 275.5M248.4 277.2L261.6 285.5M399.5 284.6L390.1 295.2M444.8 285L437 277.6M444.8 285L444.1 276.9M488.9 291.2L479.9 300.8M488.9 291.2L507.5 285.3M488.9 291.2L483.3 306.9M681.4 289.3L681.5 267.1M681.4 289.3L673.2 275.7M773.7 296.4L752 298.9M822.9 294L797.8 302.6M919 296.7L908.6 296.4M232.7 310.2L255.5 309M326.8 308.7L337.4 305.8M326.8 308.7L338.2 322.9M372 312.6L390.7 307.8M563 320.5L547.7 333.7M908.2 331.9L891.5 328.5M308 345.8L307.7 325M308 345.8L312.8 338.2M401.7 342.3L413.1 349.5M738.4 355L748 360.8M787.9 355.4L782.8 334.7M883.6 355.1L905 361M931.6 353.4L934.2 344M931.6 353.4L957.7 355.4M243.7 374.3L230.3 356.6M290.6 375.6L297 396.8M290.6 375.6L309.3 375.6M340.8 370.3L341.1 359.6M340.8 370.3L335.6 359.1M631.5 381.3L651.3 380.5M867.7 382.1L856.8 388M919.2 385.7L941.1 381" stroke="#E0605A" stroke-width="2.2" fill="none" stroke-linecap="round"/><path d="M271.6 247L271.8 260.9M455 253.6L465.2 271.3M559.6 260.6L548.6 248.5M744.6 267.9L746.4 255.3M795.7 269L789.4 260.5M934.8 266.5L950.1 271.8M934.8 266.5L946.9 259.1M341.9 287.8L336.3 306.6M488.9 291.2L472.5 275.5M539 289.5L541.6 298.5M628.7 290.9L605.9 277.6M681.4 289.3L699.1 297.6M727.5 293.5L713.8 288.6M822.9 294L812.6 294.3M878.4 297.2L856.3 310.8M419.3 315.6L413.9 301.2M517.4 314.4L501.2 310.1M713 318.7L706.6 301.3M756.6 322.4L735.1 323.9M808.6 326.8L797.5 323.4M955.9 324.1L941.8 305.2M257.1 342.3L262.5 356.1M308 345.8L302.3 356.8M401.7 342.3L401 331.5M448.6 348.6L429.4 350.6M504.9 343.5L524.1 352.8M504.9 343.5L482.6 329.8M544.5 351.3L527.4 350.1M649.9 351.4L667.6 361.2M692.3 352.5L696.1 344.4M738.4 355L736.5 341.2M883.6 355.1L885.6 334.4M488.5 376.3L470.1 375.1M534.6 376.7L544.7 395.4M584.1 382.6L567 385.9M726.2 383.9L746.5 386M821.4 380.1L819.3 389.7" stroke="#C44A40" stroke-width="2.2" fill="none" stroke-linecap="round"/><path d="M271.6 247L284 244.3M311.2 250.9L321.2 233.4M362.1 255L360 244.5M559.6 260.6L551.9 244.3M649.1 263.1L637 266.2M795.7 269L791.1 254.6M887.7 269.8L880.2 278.3M294.4 282.9L315.9 271.2M727.5 293.5L732.3 272.8M727.5 293.5L727.2 302M773.7 296.4L760.6 297.6M773.7 296.4L788.5 286.9M773.7 296.4L784.3 308M878.4 297.2L903.4 300.5M878.4 297.2L896.9 306.4M878.4 297.2L893.6 286.4M878.4 297.2L856.7 288.7M326.8 308.7L337.4 311.1M372 312.6L347.5 316.7M467 318.1L470.4 302.9M517.4 314.4L508.9 304.7M756.6 322.4L762.3 329.3M859 329.2L849.6 342.6M859 329.2L869.6 328.1M955.9 324.1L963.2 305.5M358.7 346.5L377.4 330.2M401.7 342.3L409.8 347M401.7 342.3L386 339M448.6 348.6L455.9 329.8M649.9 351.4L663.9 347M787.9 355.4L765.8 357.2M787.9 355.4L801.3 359.9M787.9 355.4L799.3 357.7M836.6 359.2L831.5 350.8M836.6 359.2L822.1 353.2M931.6 353.4L916 356.6M931.6 353.4L929.9 361.5M931.6 353.4L919.6 339.8M243.7 374.3L233.7 378.3M243.7 374.3L267.2 367.7M290.6 375.6L299.7 365.7M389.7 378L402.8 363.6M389.7 378L398.8 381.5M488.5 376.3L512 387.9M584.1 382.6L587.8 395.4M631.5 381.3L650.3 374.5M672.6 384.7L674.1 373M769.6 379.6L766 369.3M867.7 382.1L851.3 382.1" stroke="#E0605A" stroke-width="1.8" fill="none" stroke-linecap="round"/><path d="M271.6 247L293.7 241.6M311.2 250.9L323.5 268M510.7 253.7L496.8 264M510.7 253.7L495.4 254.1M559.6 260.6L548.7 263M609 264L590.4 248M887.7 269.8L903.5 281.3M934.8 266.5L952 282.3M248.4 277.2L261 282.8M248.4 277.2L261 279.3M248.4 277.2L231 267.8M294.4 282.9L275.9 279.5M341.9 287.8L350.8 309.2M341.9 287.8L331.1 297.3M444.8 285L470.9 287.6M581.5 285L575.1 296.4M628.7 290.9L647.3 304.7M681.4 289.3L673.7 299.8M681.4 289.3L689.1 277.7M232.7 310.2L219 324.8M232.7 310.2L241.7 300.3M285.6 312.7L305.5 312.6M285.6 312.7L272.7 321.3M285.6 312.7L273.2 322.7M372 312.6L362.1 321.3M563 320.5L551.9 336.1M612.4 322.3L604.6 304.2M669.1 323L685.5 339.8M859 329.2L855 321.2M308 345.8L311.3 354.2M308 345.8L301.8 326.3M448.6 348.6L451.7 338.7M544.5 351.3L556.2 358.5M544.5 351.3L537.4 359M836.6 359.2L815 374.3M340.8 370.3L333.6 357.9M438.4 373.1L438.5 357.5M631.5 381.3L637.5 367.7M631.5 381.3L628.6 395.5M672.6 384.7L690.9 368.8M726.2 383.9L713.2 391.6M769.6 379.6L790.2 368.4M958.3 383.7L969.5 392.7" stroke="#A84A3A" stroke-width="2.8" fill="none" stroke-linecap="round"/><path d="M311.2 250.9L326.5 238.6M362.1 255L383.1 243.6M848.1 269.8L844.8 279.3M848.1 269.8L854.5 252.5M934.8 266.5L907.3 266.1M294.4 282.9L278.4 267.1M399.5 284.6L381.9 271.9M539 289.5L534.5 278.4M539 289.5L561.8 289.5M628.7 290.9L645.1 298.4M727.5 293.5L718.3 287.6M727.5 293.5L715.1 296.8M822.9 294L823.8 283.3M919 296.7L898.8 289.1M326.8 308.7L316.3 313.9M326.8 308.7L336.1 314.6M326.8 308.7L318.4 293.3M372 312.6L397 315.8M467 318.1L476.4 303.4M467 318.1L452.3 303.7M612.4 322.3L624.1 307.1M713 318.7L714.9 338.8M713 318.7L698.7 313.4M713 318.7L728.2 313.7M808.6 326.8L823.2 338.1M859 329.2L837.3 314.8M859 329.2L886.3 330.5M955.9 324.1L968.9 338.9M955.9 324.1L942.6 335.9M257.1 342.3L257.3 334.1M358.7 346.5L364.6 337.8M649.9 351.4L643.3 329.9M649.9 351.4L655.6 338.9M787.9 355.4L801.8 359M836.6 359.2L823.6 355.1M883.6 355.1L877.5 332.6M931.6 353.4L948.4 354.7M243.7 374.3L224.5 373.4M488.5 376.3L497.4 382M534.6 376.7L544.5 366.5M631.5 381.3L608.8 381.3M631.5 381.3L613.7 398.2M672.6 384.7L666.9 394.3M672.6 384.7L674.9 393.8M726.2 383.9L721.1 362.5M769.6 379.6L757.9 381.8M769.6 379.6L746.5 380M919.2 385.7L903.9 378.2M919.2 385.7L908.2 365.4" stroke="#E0605A" stroke-width="2.8" fill="none" stroke-linecap="round"/><path d="M362.1 255L373 273M362.1 255L384.4 252.8M412.7 257.7L399 253.3M412.7 257.7L402.1 247M455 253.6L435.7 252.2M510.7 253.7L526.3 250.9M510.7 253.7L500.7 253.4M609 264L621.6 256.8M649.1 263.1L628.2 263.3M702.4 265.5L721.9 256.9M702.4 265.5L701.4 283.7M744.6 267.9L769.9 276.3M341.9 287.8L340.8 301.1M444.8 285L463.6 269.5M539 289.5L517.9 284.2M822.9 294L836.4 311.6M822.9 294L813.4 286.1M878.4 297.2L889.6 303.2M285.6 312.7L299.8 320.1M372 312.6L385 303.1M419.3 315.6L427.4 307.9M419.3 315.6L426.5 325M467 318.1L469.8 306.8M517.4 314.4L527.6 333.2M563 320.5L548.9 321.9M713 318.7L733 306.2M808.6 326.8L795.7 339.1M955.9 324.1L959.6 334.3M308 345.8L316.9 338.5M358.7 346.5L348.2 330.3M401.7 342.3L409.8 332.8M401.7 342.3L385.8 325.9M504.9 343.5L519.9 335.3M544.5 351.3L540.7 373.7M738.4 355L718.9 338M836.6 359.2L834.2 371.8M883.6 355.1L904.4 340.7M340.8 370.3L355.3 360.6M389.7 378L375.9 394.2M534.6 376.7L557.3 363.5M726.2 383.9L727.8 392.7M821.4 380.1L812.7 370" stroke="#B8503A" stroke-width="1.8" fill="none" stroke-linecap="round"/><path d="M362.1 255L379.4 252.5M412.7 257.7L393.4 262.4M559.6 260.6L576.2 257.1M649.1 263.1L637 269.6M649.1 263.1L642.3 242.2M702.4 265.5L703.8 277.2M934.8 266.5L953.3 271.7M341.9 287.8L330.2 286.7M399.5 284.6L398.8 274.1M399.5 284.6L388.6 279.9M444.8 285L470.9 286.6M488.9 291.2L499.5 294.6M488.9 291.2L497.8 281.5M628.7 290.9L619 293.6M232.7 310.2L256.9 318.9M232.7 310.2L221 307.2M285.6 312.7L303.7 306.5M326.8 308.7L340.8 310M326.8 308.7L339.3 297.6M467 318.1L482 332.1M563 320.5L571 331.2M612.4 322.3L631.6 318.4M808.6 326.8L792.2 321.2M908.2 331.9L886.8 325.3M908.2 331.9L888.1 336.6M955.9 324.1L979.1 323.8M257.1 342.3L263.3 329.9M358.7 346.5L350.7 336.5M448.6 348.6L447.7 357.1M448.6 348.6L434.8 365.6M504.9 343.5L487.3 334.8M504.9 343.5L495.7 326.2M599.7 347.3L594.5 363M599.7 347.3L585.7 336.4M692.3 352.5L705.9 349.3M692.3 352.5L673.8 357.6M692.3 352.5L703.6 351.7M787.9 355.4L797.6 363.3M243.7 374.3L232.4 378M290.6 375.6L298.8 359.7M340.8 370.3L324.8 362.9M438.4 373.1L444 391.4M488.5 376.3L477.8 379.9M584.1 382.6L602 377.6M726.2 383.9L710.1 385.8M769.6 379.6L753.8 366.8M821.4 380.1L848.5 372M867.7 382.1L876.1 376.8M919.2 385.7L940.7 378.6" stroke="#E87A72" stroke-width="2.8" fill="none" stroke-linecap="round"/><path d="M362.1 255L369.1 261M362.1 255L360.4 233.4M702.4 265.5L715.3 269.3M795.7 269L779.1 256.4M887.7 269.8L862.9 260M887.7 269.8L903.2 263.5M248.4 277.2L247.5 285.3M294.4 282.9L310.3 286.1M294.4 282.9L293.5 291.7M294.4 282.9L312.8 273.3M341.9 287.8L354.3 289.8M399.5 284.6L414.4 296.8M444.8 285L429.5 267.5M727.5 293.5L728.7 302.8M919 296.7L938 288.1M232.7 310.2L241.3 295.9M232.7 310.2L247.8 309.9M285.6 312.7L302.7 302.7M372 312.6L375.7 326.4M467 318.1L460.8 308.2M517.4 314.4L536.8 305.8M517.4 314.4L522.9 294.3M669.1 323L654.5 318.8M713 318.7L708 330.7M756.6 322.4L749.7 335.6M808.6 326.8L811.2 318.6M908.2 331.9L879.5 331.8M308 345.8L312.4 335.4M401.7 342.3L398.6 327.5M401.7 342.3L407.6 334.4M544.5 351.3L529.9 365.1M599.7 347.3L584.7 331M649.9 351.4L671.7 338.5M738.4 355L764.4 348M787.9 355.4L806.5 337.9M787.9 355.4L794 335.5M836.6 359.2L824.7 361.8M883.6 355.1L898.9 363.3M290.6 375.6L316 381.1M340.8 370.3L329.6 379M340.8 370.3L359.8 371.2M389.7 378L409.8 379.5M584.1 382.6L602 399.7M584.1 382.6L573.2 392.9M672.6 384.7L671 371.6M769.6 379.6L785.4 382.7M769.6 379.6L742.1 379.5M769.6 379.6L779.1 368.4M919.2 385.7L933 380.7" stroke="#F08C84" stroke-width="2.8" fill="none" stroke-linecap="round"/><path d="M362.1 255L349.3 248.8M412.7 257.7L418.1 271.8M412.7 257.7L403.5 274.3M455 253.6L442.5 233.6M455 253.6L479.1 262.2M609 264L582.4 264.3M609 264L615.3 276.7M795.7 269L783.2 266.1M848.1 269.8L867.1 272.9M887.7 269.8L877.4 262.5M341.9 287.8L360.4 271.7M341.9 287.8L342.1 270.2M444.8 285L443.4 303.6M539 289.5L548.1 296.1M581.5 285L573.7 294.2M773.7 296.4L788.2 305.9M878.4 297.2L864.3 299.8M919 296.7L895.6 284.8M372 312.6L355.8 315.3M612.4 322.3L608.8 311.2M612.4 322.3L602.9 327.3M859 329.2L861.8 314.7M358.7 346.5L350.5 351.8M649.9 351.4L644 359.1M692.3 352.5L670.6 366.8M787.9 355.4L772.5 341.3M883.6 355.1L870 367.1M243.7 374.3L253.8 379.7M243.7 374.3L271.3 374.3M290.6 375.6L299.2 387.2M438.4 373.1L436.2 360M438.4 373.1L443.4 358.8M438.4 373.1L447 359.6M534.6 376.7L527.3 385.8M631.5 381.3L624.1 374.4M769.6 379.6L754.1 387.6M821.4 380.1L839.5 362.2M867.7 382.1L842.1 377.7M919.2 385.7L911.8 375.2M958.3 383.7L940.2 390.8M958.3 383.7L951.2 398.5" stroke="#E87A72" stroke-width="1.8" fill="none" stroke-linecap="round"/>
<path d="M224.3 250a2.6 2.6 0 1 0 5.2 0a2.6 2.6 0 1 0 -5.2 0M209.9 246.3a2.6 2.6 0 1 0 5.2 0a2.6 2.6 0 1 0 -5.2 0M222.9 250.4a2.6 2.6 0 1 0 5.2 0a2.6 2.6 0 1 0 -5.2 0M222 248.2a2.6 2.6 0 1 0 5.2 0a2.6 2.6 0 1 0 -5.2 0M209.9 245.1a2.6 2.6 0 1 0 5.2 0a2.6 2.6 0 1 0 -5.2 0M265.1 254.8a2.6 2.6 0 1 0 5.2 0a2.6 2.6 0 1 0 -5.2 0M261.5 242a2.6 2.6 0 1 0 5.2 0a2.6 2.6 0 1 0 -5.2 0M269.1 253.9a2.6 2.6 0 1 0 5.2 0a2.6 2.6 0 1 0 -5.2 0M275.2 245.6a2.6 2.6 0 1 0 5.2 0a2.6 2.6 0 1 0 -5.2 0M270 254.6a2.6 2.6 0 1 0 5.2 0a2.6 2.6 0 1 0 -5.2 0M316.2 244.8a2.6 2.6 0 1 0 5.2 0a2.6 2.6 0 1 0 -5.2 0M318 250.6a2.6 2.6 0 1 0 5.2 0a2.6 2.6 0 1 0 -5.2 0M311.4 254.5a2.6 2.6 0 1 0 5.2 0a2.6 2.6 0 1 0 -5.2 0M358.5 249.8a2.6 2.6 0 1 0 5.2 0a2.6 2.6 0 1 0 -5.2 0M363 258a2.6 2.6 0 1 0 5.2 0a2.6 2.6 0 1 0 -5.2 0M361.3 260.7a2.6 2.6 0 1 0 5.2 0a2.6 2.6 0 1 0 -5.2 0M353.1 251.9a2.6 2.6 0 1 0 5.2 0a2.6 2.6 0 1 0 -5.2 0M405.5 266a2.6 2.6 0 1 0 5.2 0a2.6 2.6 0 1 0 -5.2 0M412.7 268.7a2.6 2.6 0 1 0 5.2 0a2.6 2.6 0 1 0 -5.2 0M402.7 261.8a2.6 2.6 0 1 0 5.2 0a2.6 2.6 0 1 0 -5.2 0M442.8 252.9a2.6 2.6 0 1 0 5.2 0a2.6 2.6 0 1 0 -5.2 0M439.4 250a2.6 2.6 0 1 0 5.2 0a2.6 2.6 0 1 0 -5.2 0M445.2 252.6a2.6 2.6 0 1 0 5.2 0a2.6 2.6 0 1 0 -5.2 0M454.9 260.7a2.6 2.6 0 1 0 5.2 0a2.6 2.6 0 1 0 -5.2 0M457.2 242.7a2.6 2.6 0 1 0 5.2 0a2.6 2.6 0 1 0 -5.2 0M438.1 253.2a2.6 2.6 0 1 0 5.2 0a2.6 2.6 0 1 0 -5.2 0M501 259a2.6 2.6 0 1 0 5.2 0a2.6 2.6 0 1 0 -5.2 0M507 264.9a2.6 2.6 0 1 0 5.2 0a2.6 2.6 0 1 0 -5.2 0M515.9 252.3a2.6 2.6 0 1 0 5.2 0a2.6 2.6 0 1 0 -5.2 0M501.1 258.8a2.6 2.6 0 1 0 5.2 0a2.6 2.6 0 1 0 -5.2 0M503.1 253.5a2.6 2.6 0 1 0 5.2 0a2.6 2.6 0 1 0 -5.2 0M500.5 253.9a2.6 2.6 0 1 0 5.2 0a2.6 2.6 0 1 0 -5.2 0M565.3 258.9a2.6 2.6 0 1 0 5.2 0a2.6 2.6 0 1 0 -5.2 0M567 261.6a2.6 2.6 0 1 0 5.2 0a2.6 2.6 0 1 0 -5.2 0M551.5 261.8a2.6 2.6 0 1 0 5.2 0a2.6 2.6 0 1 0 -5.2 0M561.1 255.8a2.6 2.6 0 1 0 5.2 0a2.6 2.6 0 1 0 -5.2 0M551.5 254.5a2.6 2.6 0 1 0 5.2 0a2.6 2.6 0 1 0 -5.2 0M542.8 261.6a2.6 2.6 0 1 0 5.2 0a2.6 2.6 0 1 0 -5.2 0M616.6 269.2a2.6 2.6 0 1 0 5.2 0a2.6 2.6 0 1 0 -5.2 0M593.1 264.2a2.6 2.6 0 1 0 5.2 0a2.6 2.6 0 1 0 -5.2 0M599 267.5a2.6 2.6 0 1 0 5.2 0a2.6 2.6 0 1 0 -5.2 0M611.1 259.2a2.6 2.6 0 1 0 5.2 0a2.6 2.6 0 1 0 -5.2 0M597.1 256a2.6 2.6 0 1 0 5.2 0a2.6 2.6 0 1 0 -5.2 0M640.5 264.7a2.6 2.6 0 1 0 5.2 0a2.6 2.6 0 1 0 -5.2 0M643.3 267a2.6 2.6 0 1 0 5.2 0a2.6 2.6 0 1 0 -5.2 0M634.2 261.3a2.6 2.6 0 1 0 5.2 0a2.6 2.6 0 1 0 -5.2 0M641.6 272.5a2.6 2.6 0 1 0 5.2 0a2.6 2.6 0 1 0 -5.2 0M710.5 270.6a2.6 2.6 0 1 0 5.2 0a2.6 2.6 0 1 0 -5.2 0M690.8 264.2a2.6 2.6 0 1 0 5.2 0a2.6 2.6 0 1 0 -5.2 0M695.5 276.1a2.6 2.6 0 1 0 5.2 0a2.6 2.6 0 1 0 -5.2 0M707.6 265.8a2.6 2.6 0 1 0 5.2 0a2.6 2.6 0 1 0 -5.2 0M692.9 265.7a2.6 2.6 0 1 0 5.2 0a2.6 2.6 0 1 0 -5.2 0M747.4 278.1a2.6 2.6 0 1 0 5.2 0a2.6 2.6 0 1 0 -5.2 0M742.9 261.6a2.6 2.6 0 1 0 5.2 0a2.6 2.6 0 1 0 -5.2 0M740.1 262.6a2.6 2.6 0 1 0 5.2 0a2.6 2.6 0 1 0 -5.2 0M746.6 258.8a2.6 2.6 0 1 0 5.2 0a2.6 2.6 0 1 0 -5.2 0M787.5 272.8a2.6 2.6 0 1 0 5.2 0a2.6 2.6 0 1 0 -5.2 0M790 264.7a2.6 2.6 0 1 0 5.2 0a2.6 2.6 0 1 0 -5.2 0M785.3 266.2a2.6 2.6 0 1 0 5.2 0a2.6 2.6 0 1 0 -5.2 0M853.9 275.1a2.6 2.6 0 1 0 5.2 0a2.6 2.6 0 1 0 -5.2 0M841.2 273.6a2.6 2.6 0 1 0 5.2 0a2.6 2.6 0 1 0 -5.2 0M838.3 273.5a2.6 2.6 0 1 0 5.2 0a2.6 2.6 0 1 0 -5.2 0M872.7 264.9a2.6 2.6 0 1 0 5.2 0a2.6 2.6 0 1 0 -5.2 0M881.3 274a2.6 2.6 0 1 0 5.2 0a2.6 2.6 0 1 0 -5.2 0M887.9 266.1a2.6 2.6 0 1 0 5.2 0a2.6 2.6 0 1 0 -5.2 0M893.5 278.9a2.6 2.6 0 1 0 5.2 0a2.6 2.6 0 1 0 -5.2 0M935.4 259a2.6 2.6 0 1 0 5.2 0a2.6 2.6 0 1 0 -5.2 0M939.8 269.1a2.6 2.6 0 1 0 5.2 0a2.6 2.6 0 1 0 -5.2 0M938.3 262.8a2.6 2.6 0 1 0 5.2 0a2.6 2.6 0 1 0 -5.2 0M918.5 266.3a2.6 2.6 0 1 0 5.2 0a2.6 2.6 0 1 0 -5.2 0M924.2 266.2a2.6 2.6 0 1 0 5.2 0a2.6 2.6 0 1 0 -5.2 0M938.3 275.2a2.6 2.6 0 1 0 5.2 0a2.6 2.6 0 1 0 -5.2 0M255.3 269.1a2.6 2.6 0 1 0 5.2 0a2.6 2.6 0 1 0 -5.2 0M232.4 276.3a2.6 2.6 0 1 0 5.2 0a2.6 2.6 0 1 0 -5.2 0M239.9 274.2a2.6 2.6 0 1 0 5.2 0a2.6 2.6 0 1 0 -5.2 0M304.8 283.4a2.6 2.6 0 1 0 5.2 0a2.6 2.6 0 1 0 -5.2 0M288.1 278.5a2.6 2.6 0 1 0 5.2 0a2.6 2.6 0 1 0 -5.2 0M298.7 281.7a2.6 2.6 0 1 0 5.2 0a2.6 2.6 0 1 0 -5.2 0M285.6 292.4a2.6 2.6 0 1 0 5.2 0a2.6 2.6 0 1 0 -5.2 0M282.6 281.2a2.6 2.6 0 1 0 5.2 0a2.6 2.6 0 1 0 -5.2 0M345.5 288.8a2.6 2.6 0 1 0 5.2 0a2.6 2.6 0 1 0 -5.2 0M343.7 298.5a2.6 2.6 0 1 0 5.2 0a2.6 2.6 0 1 0 -5.2 0M348.6 279.7a2.6 2.6 0 1 0 5.2 0a2.6 2.6 0 1 0 -5.2 0M340.9 291.9a2.6 2.6 0 1 0 5.2 0a2.6 2.6 0 1 0 -5.2 0M339.4 279a2.6 2.6 0 1 0 5.2 0a2.6 2.6 0 1 0 -5.2 0M336.5 297.2a2.6 2.6 0 1 0 5.2 0a2.6 2.6 0 1 0 -5.2 0M333.4 287.3a2.6 2.6 0 1 0 5.2 0a2.6 2.6 0 1 0 -5.2 0M455.3 285.8a2.6 2.6 0 1 0 5.2 0a2.6 2.6 0 1 0 -5.2 0M450 284.2a2.6 2.6 0 1 0 5.2 0a2.6 2.6 0 1 0 -5.2 0M493.4 300.7a2.6 2.6 0 1 0 5.2 0a2.6 2.6 0 1 0 -5.2 0M490.8 286.3a2.6 2.6 0 1 0 5.2 0a2.6 2.6 0 1 0 -5.2 0M572.2 293.3a2.6 2.6 0 1 0 5.2 0a2.6 2.6 0 1 0 -5.2 0M574.9 289.9a2.6 2.6 0 1 0 5.2 0a2.6 2.6 0 1 0 -5.2 0M575.7 290.7a2.6 2.6 0 1 0 5.2 0a2.6 2.6 0 1 0 -5.2 0M586.4 286.9a2.6 2.6 0 1 0 5.2 0a2.6 2.6 0 1 0 -5.2 0M575.4 276.9a2.6 2.6 0 1 0 5.2 0a2.6 2.6 0 1 0 -5.2 0M574.3 278.5a2.6 2.6 0 1 0 5.2 0a2.6 2.6 0 1 0 -5.2 0M634.3 294.7a2.6 2.6 0 1 0 5.2 0a2.6 2.6 0 1 0 -5.2 0M637.5 291.2a2.6 2.6 0 1 0 5.2 0a2.6 2.6 0 1 0 -5.2 0M623.1 280.7a2.6 2.6 0 1 0 5.2 0a2.6 2.6 0 1 0 -5.2 0M688.9 283.1a2.6 2.6 0 1 0 5.2 0a2.6 2.6 0 1 0 -5.2 0M678.1 296.4a2.6 2.6 0 1 0 5.2 0a2.6 2.6 0 1 0 -5.2 0M687.4 297.6a2.6 2.6 0 1 0 5.2 0a2.6 2.6 0 1 0 -5.2 0M687.7 293.4a2.6 2.6 0 1 0 5.2 0a2.6 2.6 0 1 0 -5.2 0M731.8 296.6a2.6 2.6 0 1 0 5.2 0a2.6 2.6 0 1 0 -5.2 0M718.7 295.1a2.6 2.6 0 1 0 5.2 0a2.6 2.6 0 1 0 -5.2 0M777.5 300.4a2.6 2.6 0 1 0 5.2 0a2.6 2.6 0 1 0 -5.2 0M778.5 291.7a2.6 2.6 0 1 0 5.2 0a2.6 2.6 0 1 0 -5.2 0M760.3 297.6a2.6 2.6 0 1 0 5.2 0a2.6 2.6 0 1 0 -5.2 0M776.4 302.2a2.6 2.6 0 1 0 5.2 0a2.6 2.6 0 1 0 -5.2 0M764.1 293.7a2.6 2.6 0 1 0 5.2 0a2.6 2.6 0 1 0 -5.2 0M778.4 301.1a2.6 2.6 0 1 0 5.2 0a2.6 2.6 0 1 0 -5.2 0M832.9 295a2.6 2.6 0 1 0 5.2 0a2.6 2.6 0 1 0 -5.2 0M833.2 294.1a2.6 2.6 0 1 0 5.2 0a2.6 2.6 0 1 0 -5.2 0M815.5 290a2.6 2.6 0 1 0 5.2 0a2.6 2.6 0 1 0 -5.2 0M815.1 294.2a2.6 2.6 0 1 0 5.2 0a2.6 2.6 0 1 0 -5.2 0M816.5 288.9a2.6 2.6 0 1 0 5.2 0a2.6 2.6 0 1 0 -5.2 0M888.3 298.8a2.6 2.6 0 1 0 5.2 0a2.6 2.6 0 1 0 -5.2 0M865.3 292.2a2.6 2.6 0 1 0 5.2 0a2.6 2.6 0 1 0 -5.2 0M883.4 291.8a2.6 2.6 0 1 0 5.2 0a2.6 2.6 0 1 0 -5.2 0M922.2 297.8a2.6 2.6 0 1 0 5.2 0a2.6 2.6 0 1 0 -5.2 0M919.2 300.6a2.6 2.6 0 1 0 5.2 0a2.6 2.6 0 1 0 -5.2 0M926.7 289.5a2.6 2.6 0 1 0 5.2 0a2.6 2.6 0 1 0 -5.2 0M237.9 309.7a2.6 2.6 0 1 0 5.2 0a2.6 2.6 0 1 0 -5.2 0M242.2 314.6a2.6 2.6 0 1 0 5.2 0a2.6 2.6 0 1 0 -5.2 0M224.3 308.7a2.6 2.6 0 1 0 5.2 0a2.6 2.6 0 1 0 -5.2 0M234.6 305.3a2.6 2.6 0 1 0 5.2 0a2.6 2.6 0 1 0 -5.2 0M276.5 322.8a2.6 2.6 0 1 0 5.2 0a2.6 2.6 0 1 0 -5.2 0M293.8 309.8a2.6 2.6 0 1 0 5.2 0a2.6 2.6 0 1 0 -5.2 0M276.8 317.7a2.6 2.6 0 1 0 5.2 0a2.6 2.6 0 1 0 -5.2 0M292.1 309.6a2.6 2.6 0 1 0 5.2 0a2.6 2.6 0 1 0 -5.2 0M320 301a2.6 2.6 0 1 0 5.2 0a2.6 2.6 0 1 0 -5.2 0M329.5 309.9a2.6 2.6 0 1 0 5.2 0a2.6 2.6 0 1 0 -5.2 0M329.9 315.8a2.6 2.6 0 1 0 5.2 0a2.6 2.6 0 1 0 -5.2 0M330.4 303.1a2.6 2.6 0 1 0 5.2 0a2.6 2.6 0 1 0 -5.2 0M361.3 314a2.6 2.6 0 1 0 5.2 0a2.6 2.6 0 1 0 -5.2 0M381.9 314.2a2.6 2.6 0 1 0 5.2 0a2.6 2.6 0 1 0 -5.2 0M371.3 319.5a2.6 2.6 0 1 0 5.2 0a2.6 2.6 0 1 0 -5.2 0M364.5 316.9a2.6 2.6 0 1 0 5.2 0a2.6 2.6 0 1 0 -5.2 0M417.6 320.5a2.6 2.6 0 1 0 5.2 0a2.6 2.6 0 1 0 -5.2 0M420.7 311.8a2.6 2.6 0 1 0 5.2 0a2.6 2.6 0 1 0 -5.2 0M411.9 307.4a2.6 2.6 0 1 0 5.2 0a2.6 2.6 0 1 0 -5.2 0M415.5 306.2a2.6 2.6 0 1 0 5.2 0a2.6 2.6 0 1 0 -5.2 0M464.2 307.8a2.6 2.6 0 1 0 5.2 0a2.6 2.6 0 1 0 -5.2 0M469.1 310.8a2.6 2.6 0 1 0 5.2 0a2.6 2.6 0 1 0 -5.2 0M463 314.2a2.6 2.6 0 1 0 5.2 0a2.6 2.6 0 1 0 -5.2 0M457.1 310.9a2.6 2.6 0 1 0 5.2 0a2.6 2.6 0 1 0 -5.2 0M510.5 318.4a2.6 2.6 0 1 0 5.2 0a2.6 2.6 0 1 0 -5.2 0M508.5 316.6a2.6 2.6 0 1 0 5.2 0a2.6 2.6 0 1 0 -5.2 0M510.5 309.6a2.6 2.6 0 1 0 5.2 0a2.6 2.6 0 1 0 -5.2 0M526.9 316.1a2.6 2.6 0 1 0 5.2 0a2.6 2.6 0 1 0 -5.2 0M519.1 322.5a2.6 2.6 0 1 0 5.2 0a2.6 2.6 0 1 0 -5.2 0M506.7 312.3a2.6 2.6 0 1 0 5.2 0a2.6 2.6 0 1 0 -5.2 0M553.3 321.2a2.6 2.6 0 1 0 5.2 0a2.6 2.6 0 1 0 -5.2 0M550.4 313.8a2.6 2.6 0 1 0 5.2 0a2.6 2.6 0 1 0 -5.2 0M549.5 318.8a2.6 2.6 0 1 0 5.2 0a2.6 2.6 0 1 0 -5.2 0M605.9 313.3a2.6 2.6 0 1 0 5.2 0a2.6 2.6 0 1 0 -5.2 0M617.9 329.8a2.6 2.6 0 1 0 5.2 0a2.6 2.6 0 1 0 -5.2 0M611.7 327a2.6 2.6 0 1 0 5.2 0a2.6 2.6 0 1 0 -5.2 0M669 315.5a2.6 2.6 0 1 0 5.2 0a2.6 2.6 0 1 0 -5.2 0M656.9 323.6a2.6 2.6 0 1 0 5.2 0a2.6 2.6 0 1 0 -5.2 0M677.8 321.1a2.6 2.6 0 1 0 5.2 0a2.6 2.6 0 1 0 -5.2 0M664.2 327.6a2.6 2.6 0 1 0 5.2 0a2.6 2.6 0 1 0 -5.2 0M711.4 328.7a2.6 2.6 0 1 0 5.2 0a2.6 2.6 0 1 0 -5.2 0M720.4 312.5a2.6 2.6 0 1 0 5.2 0a2.6 2.6 0 1 0 -5.2 0M703.3 316.1a2.6 2.6 0 1 0 5.2 0a2.6 2.6 0 1 0 -5.2 0M743.5 316a2.6 2.6 0 1 0 5.2 0a2.6 2.6 0 1 0 -5.2 0M752.6 311.1a2.6 2.6 0 1 0 5.2 0a2.6 2.6 0 1 0 -5.2 0M758.9 312.5a2.6 2.6 0 1 0 5.2 0a2.6 2.6 0 1 0 -5.2 0M762 323.5a2.6 2.6 0 1 0 5.2 0a2.6 2.6 0 1 0 -5.2 0M743.3 323.2a2.6 2.6 0 1 0 5.2 0a2.6 2.6 0 1 0 -5.2 0M799.5 332.9a2.6 2.6 0 1 0 5.2 0a2.6 2.6 0 1 0 -5.2 0M800.4 325.1a2.6 2.6 0 1 0 5.2 0a2.6 2.6 0 1 0 -5.2 0M799 334.3a2.6 2.6 0 1 0 5.2 0a2.6 2.6 0 1 0 -5.2 0M817.5 321.1a2.6 2.6 0 1 0 5.2 0a2.6 2.6 0 1 0 -5.2 0M807.3 322.7a2.6 2.6 0 1 0 5.2 0a2.6 2.6 0 1 0 -5.2 0M810.8 316.5a2.6 2.6 0 1 0 5.2 0a2.6 2.6 0 1 0 -5.2 0M845.6 322a2.6 2.6 0 1 0 5.2 0a2.6 2.6 0 1 0 -5.2 0M859 318.9a2.6 2.6 0 1 0 5.2 0a2.6 2.6 0 1 0 -5.2 0M861.8 332.2a2.6 2.6 0 1 0 5.2 0a2.6 2.6 0 1 0 -5.2 0M854.4 325.2a2.6 2.6 0 1 0 5.2 0a2.6 2.6 0 1 0 -5.2 0M916.1 336a2.6 2.6 0 1 0 5.2 0a2.6 2.6 0 1 0 -5.2 0M912.8 330.1a2.6 2.6 0 1 0 5.2 0a2.6 2.6 0 1 0 -5.2 0M914.9 325.1a2.6 2.6 0 1 0 5.2 0a2.6 2.6 0 1 0 -5.2 0M918.5 331.3a2.6 2.6 0 1 0 5.2 0a2.6 2.6 0 1 0 -5.2 0M946.2 314.7a2.6 2.6 0 1 0 5.2 0a2.6 2.6 0 1 0 -5.2 0M959.6 315.2a2.6 2.6 0 1 0 5.2 0a2.6 2.6 0 1 0 -5.2 0M257.6 336.1a2.6 2.6 0 1 0 5.2 0a2.6 2.6 0 1 0 -5.2 0M260.9 344.4a2.6 2.6 0 1 0 5.2 0a2.6 2.6 0 1 0 -5.2 0M257 346.3a2.6 2.6 0 1 0 5.2 0a2.6 2.6 0 1 0 -5.2 0M254.6 338.2a2.6 2.6 0 1 0 5.2 0a2.6 2.6 0 1 0 -5.2 0M319.8 346.3a2.6 2.6 0 1 0 5.2 0a2.6 2.6 0 1 0 -5.2 0M313.9 338.3a2.6 2.6 0 1 0 5.2 0a2.6 2.6 0 1 0 -5.2 0M307.8 342a2.6 2.6 0 1 0 5.2 0a2.6 2.6 0 1 0 -5.2 0M365.4 338.4a2.6 2.6 0 1 0 5.2 0a2.6 2.6 0 1 0 -5.2 0M354.9 339.3a2.6 2.6 0 1 0 5.2 0a2.6 2.6 0 1 0 -5.2 0M406.8 344.3a2.6 2.6 0 1 0 5.2 0a2.6 2.6 0 1 0 -5.2 0M397.5 334.9a2.6 2.6 0 1 0 5.2 0a2.6 2.6 0 1 0 -5.2 0M403.7 348.2a2.6 2.6 0 1 0 5.2 0a2.6 2.6 0 1 0 -5.2 0M391.9 349.2a2.6 2.6 0 1 0 5.2 0a2.6 2.6 0 1 0 -5.2 0M391.1 334.1a2.6 2.6 0 1 0 5.2 0a2.6 2.6 0 1 0 -5.2 0M404.8 345.9a2.6 2.6 0 1 0 5.2 0a2.6 2.6 0 1 0 -5.2 0M449 358a2.6 2.6 0 1 0 5.2 0a2.6 2.6 0 1 0 -5.2 0M459.9 349.4a2.6 2.6 0 1 0 5.2 0a2.6 2.6 0 1 0 -5.2 0M447.6 343.7a2.6 2.6 0 1 0 5.2 0a2.6 2.6 0 1 0 -5.2 0M504.1 337.7a2.6 2.6 0 1 0 5.2 0a2.6 2.6 0 1 0 -5.2 0M495 338.9a2.6 2.6 0 1 0 5.2 0a2.6 2.6 0 1 0 -5.2 0M540 362.5a2.6 2.6 0 1 0 5.2 0a2.6 2.6 0 1 0 -5.2 0M547.7 354.9a2.6 2.6 0 1 0 5.2 0a2.6 2.6 0 1 0 -5.2 0M540 347.5a2.6 2.6 0 1 0 5.2 0a2.6 2.6 0 1 0 -5.2 0M585.7 346.1a2.6 2.6 0 1 0 5.2 0a2.6 2.6 0 1 0 -5.2 0M586.6 354.9a2.6 2.6 0 1 0 5.2 0a2.6 2.6 0 1 0 -5.2 0M590.1 341.9a2.6 2.6 0 1 0 5.2 0a2.6 2.6 0 1 0 -5.2 0M644 340.7a2.6 2.6 0 1 0 5.2 0a2.6 2.6 0 1 0 -5.2 0M637.6 349.8a2.6 2.6 0 1 0 5.2 0a2.6 2.6 0 1 0 -5.2 0M694.3 354.5a2.6 2.6 0 1 0 5.2 0a2.6 2.6 0 1 0 -5.2 0M691.6 348.5a2.6 2.6 0 1 0 5.2 0a2.6 2.6 0 1 0 -5.2 0M691 360.7a2.6 2.6 0 1 0 5.2 0a2.6 2.6 0 1 0 -5.2 0M700.1 351.1a2.6 2.6 0 1 0 5.2 0a2.6 2.6 0 1 0 -5.2 0M697 350.8a2.6 2.6 0 1 0 5.2 0a2.6 2.6 0 1 0 -5.2 0M695.4 352.1a2.6 2.6 0 1 0 5.2 0a2.6 2.6 0 1 0 -5.2 0M730.6 350.6a2.6 2.6 0 1 0 5.2 0a2.6 2.6 0 1 0 -5.2 0M726.1 346.5a2.6 2.6 0 1 0 5.2 0a2.6 2.6 0 1 0 -5.2 0M728.8 354.7a2.6 2.6 0 1 0 5.2 0a2.6 2.6 0 1 0 -5.2 0M734.8 348.1a2.6 2.6 0 1 0 5.2 0a2.6 2.6 0 1 0 -5.2 0M774.3 356.3a2.6 2.6 0 1 0 5.2 0a2.6 2.6 0 1 0 -5.2 0M791 356.6a2.6 2.6 0 1 0 5.2 0a2.6 2.6 0 1 0 -5.2 0M792.2 357.2a2.6 2.6 0 1 0 5.2 0a2.6 2.6 0 1 0 -5.2 0M775.4 352.5a2.6 2.6 0 1 0 5.2 0a2.6 2.6 0 1 0 -5.2 0M828 360.5a2.6 2.6 0 1 0 5.2 0a2.6 2.6 0 1 0 -5.2 0M831.4 355a2.6 2.6 0 1 0 5.2 0a2.6 2.6 0 1 0 -5.2 0M826.7 356.2a2.6 2.6 0 1 0 5.2 0a2.6 2.6 0 1 0 -5.2 0M845 361.7a2.6 2.6 0 1 0 5.2 0a2.6 2.6 0 1 0 -5.2 0M882 344.7a2.6 2.6 0 1 0 5.2 0a2.6 2.6 0 1 0 -5.2 0M881 362.2a2.6 2.6 0 1 0 5.2 0a2.6 2.6 0 1 0 -5.2 0M874.2 361.1a2.6 2.6 0 1 0 5.2 0a2.6 2.6 0 1 0 -5.2 0M883.4 364.6a2.6 2.6 0 1 0 5.2 0a2.6 2.6 0 1 0 -5.2 0M937.4 354a2.6 2.6 0 1 0 5.2 0a2.6 2.6 0 1 0 -5.2 0M923 346.6a2.6 2.6 0 1 0 5.2 0a2.6 2.6 0 1 0 -5.2 0M928 348.5a2.6 2.6 0 1 0 5.2 0a2.6 2.6 0 1 0 -5.2 0M234.4 365.4a2.6 2.6 0 1 0 5.2 0a2.6 2.6 0 1 0 -5.2 0M236.1 376.3a2.6 2.6 0 1 0 5.2 0a2.6 2.6 0 1 0 -5.2 0M234.2 376.3a2.6 2.6 0 1 0 5.2 0a2.6 2.6 0 1 0 -5.2 0M254.9 374.3a2.6 2.6 0 1 0 5.2 0a2.6 2.6 0 1 0 -5.2 0M251.7 378.2a2.6 2.6 0 1 0 5.2 0a2.6 2.6 0 1 0 -5.2 0M300.7 378.4a2.6 2.6 0 1 0 5.2 0a2.6 2.6 0 1 0 -5.2 0M285.3 380.7a2.6 2.6 0 1 0 5.2 0a2.6 2.6 0 1 0 -5.2 0M292.3 381.4a2.6 2.6 0 1 0 5.2 0a2.6 2.6 0 1 0 -5.2 0M291.2 386.2a2.6 2.6 0 1 0 5.2 0a2.6 2.6 0 1 0 -5.2 0M297.4 375.6a2.6 2.6 0 1 0 5.2 0a2.6 2.6 0 1 0 -5.2 0M289 369.9a2.6 2.6 0 1 0 5.2 0a2.6 2.6 0 1 0 -5.2 0M282.4 379.5a2.6 2.6 0 1 0 5.2 0a2.6 2.6 0 1 0 -5.2 0M337.7 358.9a2.6 2.6 0 1 0 5.2 0a2.6 2.6 0 1 0 -5.2 0M326.5 374.3a2.6 2.6 0 1 0 5.2 0a2.6 2.6 0 1 0 -5.2 0M338.4 364.9a2.6 2.6 0 1 0 5.2 0a2.6 2.6 0 1 0 -5.2 0M334.6 364.1a2.6 2.6 0 1 0 5.2 0a2.6 2.6 0 1 0 -5.2 0M350.3 375.2a2.6 2.6 0 1 0 5.2 0a2.6 2.6 0 1 0 -5.2 0M394.9 369.4a2.6 2.6 0 1 0 5.2 0a2.6 2.6 0 1 0 -5.2 0M397.1 378.8a2.6 2.6 0 1 0 5.2 0a2.6 2.6 0 1 0 -5.2 0M434.7 366.6a2.6 2.6 0 1 0 5.2 0a2.6 2.6 0 1 0 -5.2 0M444.3 376.4a2.6 2.6 0 1 0 5.2 0a2.6 2.6 0 1 0 -5.2 0M440.1 366.3a2.6 2.6 0 1 0 5.2 0a2.6 2.6 0 1 0 -5.2 0M438.6 382.3a2.6 2.6 0 1 0 5.2 0a2.6 2.6 0 1 0 -5.2 0M441.6 383.6a2.6 2.6 0 1 0 5.2 0a2.6 2.6 0 1 0 -5.2 0M480.6 378.1a2.6 2.6 0 1 0 5.2 0a2.6 2.6 0 1 0 -5.2 0M491.3 375.3a2.6 2.6 0 1 0 5.2 0a2.6 2.6 0 1 0 -5.2 0M541.8 378.1a2.6 2.6 0 1 0 5.2 0a2.6 2.6 0 1 0 -5.2 0M526.9 382.2a2.6 2.6 0 1 0 5.2 0a2.6 2.6 0 1 0 -5.2 0M583.4 389a2.6 2.6 0 1 0 5.2 0a2.6 2.6 0 1 0 -5.2 0M579.1 386.3a2.6 2.6 0 1 0 5.2 0a2.6 2.6 0 1 0 -5.2 0M586.6 384.5a2.6 2.6 0 1 0 5.2 0a2.6 2.6 0 1 0 -5.2 0M589.9 387.8a2.6 2.6 0 1 0 5.2 0a2.6 2.6 0 1 0 -5.2 0M576.7 383.9a2.6 2.6 0 1 0 5.2 0a2.6 2.6 0 1 0 -5.2 0M619.6 389.6a2.6 2.6 0 1 0 5.2 0a2.6 2.6 0 1 0 -5.2 0M639.3 381.3a2.6 2.6 0 1 0 5.2 0a2.6 2.6 0 1 0 -5.2 0M620 389.7a2.6 2.6 0 1 0 5.2 0a2.6 2.6 0 1 0 -5.2 0M631.9 374.5a2.6 2.6 0 1 0 5.2 0a2.6 2.6 0 1 0 -5.2 0M633.2 383.5a2.6 2.6 0 1 0 5.2 0a2.6 2.6 0 1 0 -5.2 0M670.8 378.8a2.6 2.6 0 1 0 5.2 0a2.6 2.6 0 1 0 -5.2 0M660.8 389.3a2.6 2.6 0 1 0 5.2 0a2.6 2.6 0 1 0 -5.2 0M660.3 386.1a2.6 2.6 0 1 0 5.2 0a2.6 2.6 0 1 0 -5.2 0M664.8 390.2a2.6 2.6 0 1 0 5.2 0a2.6 2.6 0 1 0 -5.2 0M717.1 387.8a2.6 2.6 0 1 0 5.2 0a2.6 2.6 0 1 0 -5.2 0M725.3 378.1a2.6 2.6 0 1 0 5.2 0a2.6 2.6 0 1 0 -5.2 0M721.3 391.5a2.6 2.6 0 1 0 5.2 0a2.6 2.6 0 1 0 -5.2 0M725.6 388.1a2.6 2.6 0 1 0 5.2 0a2.6 2.6 0 1 0 -5.2 0M774.9 381.2a2.6 2.6 0 1 0 5.2 0a2.6 2.6 0 1 0 -5.2 0M777.3 374a2.6 2.6 0 1 0 5.2 0a2.6 2.6 0 1 0 -5.2 0M771.7 374a2.6 2.6 0 1 0 5.2 0a2.6 2.6 0 1 0 -5.2 0M827.8 371.1a2.6 2.6 0 1 0 5.2 0a2.6 2.6 0 1 0 -5.2 0M817.4 376.2a2.6 2.6 0 1 0 5.2 0a2.6 2.6 0 1 0 -5.2 0M826.7 384.5a2.6 2.6 0 1 0 5.2 0a2.6 2.6 0 1 0 -5.2 0M862.8 372.7a2.6 2.6 0 1 0 5.2 0a2.6 2.6 0 1 0 -5.2 0M873.5 389.8a2.6 2.6 0 1 0 5.2 0a2.6 2.6 0 1 0 -5.2 0M866.8 376.3a2.6 2.6 0 1 0 5.2 0a2.6 2.6 0 1 0 -5.2 0M852.3 379.9a2.6 2.6 0 1 0 5.2 0a2.6 2.6 0 1 0 -5.2 0M927.4 382.1a2.6 2.6 0 1 0 5.2 0a2.6 2.6 0 1 0 -5.2 0M927.6 383.3a2.6 2.6 0 1 0 5.2 0a2.6 2.6 0 1 0 -5.2 0M908.9 381.9a2.6 2.6 0 1 0 5.2 0a2.6 2.6 0 1 0 -5.2 0M925.3 380.8a2.6 2.6 0 1 0 5.2 0a2.6 2.6 0 1 0 -5.2 0M918.6 390.8a2.6 2.6 0 1 0 5.2 0a2.6 2.6 0 1 0 -5.2 0M961.3 388.2a2.6 2.6 0 1 0 5.2 0a2.6 2.6 0 1 0 -5.2 0M956.2 388.8a2.6 2.6 0 1 0 5.2 0a2.6 2.6 0 1 0 -5.2 0M950.3 380.5a2.6 2.6 0 1 0 5.2 0a2.6 2.6 0 1 0 -5.2 0" fill="none" stroke="#D86A5C" stroke-width="1.2"/><path d="M219.7 252.7a2.8 2.8 0 1 0 5.6 0a2.8 2.8 0 1 0 -5.6 0M224.3 258.8a2.8 2.8 0 1 0 5.6 0a2.8 2.8 0 1 0 -5.6 0M228.8 265a2.8 2.8 0 1 0 5.6 0a2.8 2.8 0 1 0 -5.6 0M210.2 252.5a2.8 2.8 0 1 0 5.6 0a2.8 2.8 0 1 0 -5.6 0M205.2 258.5a2.8 2.8 0 1 0 5.6 0a2.8 2.8 0 1 0 -5.6 0M200.3 264.5a2.8 2.8 0 1 0 5.6 0a2.8 2.8 0 1 0 -5.6 0M261.7 251.5a2.8 2.8 0 1 0 5.6 0a2.8 2.8 0 1 0 -5.6 0M254.7 256a2.8 2.8 0 1 0 5.6 0a2.8 2.8 0 1 0 -5.6 0M247.7 260.5a2.8 2.8 0 1 0 5.6 0a2.8 2.8 0 1 0 -5.6 0M261.5 251.2a2.8 2.8 0 1 0 5.6 0a2.8 2.8 0 1 0 -5.6 0M254.3 255.5a2.8 2.8 0 1 0 5.6 0a2.8 2.8 0 1 0 -5.6 0M247 259.8a2.8 2.8 0 1 0 5.6 0a2.8 2.8 0 1 0 -5.6 0M306.9 243.8a2.8 2.8 0 1 0 5.6 0a2.8 2.8 0 1 0 -5.6 0M305.4 236.7a2.8 2.8 0 1 0 5.6 0a2.8 2.8 0 1 0 -5.6 0M303.9 229.6a2.8 2.8 0 1 0 5.6 0a2.8 2.8 0 1 0 -5.6 0M303.1 256.8a2.8 2.8 0 1 0 5.6 0a2.8 2.8 0 1 0 -5.6 0M297.9 262.6a2.8 2.8 0 1 0 5.6 0a2.8 2.8 0 1 0 -5.6 0M292.6 268.4a2.8 2.8 0 1 0 5.6 0a2.8 2.8 0 1 0 -5.6 0M350.4 253.9a2.8 2.8 0 1 0 5.6 0a2.8 2.8 0 1 0 -5.6 0M341.5 252.9a2.8 2.8 0 1 0 5.6 0a2.8 2.8 0 1 0 -5.6 0M332.6 251.8a2.8 2.8 0 1 0 5.6 0a2.8 2.8 0 1 0 -5.6 0M368.3 255.8a2.8 2.8 0 1 0 5.6 0a2.8 2.8 0 1 0 -5.6 0M377.2 256.7a2.8 2.8 0 1 0 5.6 0a2.8 2.8 0 1 0 -5.6 0M386.1 257.5a2.8 2.8 0 1 0 5.6 0a2.8 2.8 0 1 0 -5.6 0M403.9 263a2.8 2.8 0 1 0 5.6 0a2.8 2.8 0 1 0 -5.6 0M397.9 268.4a2.8 2.8 0 1 0 5.6 0a2.8 2.8 0 1 0 -5.6 0M391.9 273.8a2.8 2.8 0 1 0 5.6 0a2.8 2.8 0 1 0 -5.6 0M405.1 263.8a2.8 2.8 0 1 0 5.6 0a2.8 2.8 0 1 0 -5.6 0M400.4 269.9a2.8 2.8 0 1 0 5.6 0a2.8 2.8 0 1 0 -5.6 0M395.7 276a2.8 2.8 0 1 0 5.6 0a2.8 2.8 0 1 0 -5.6 0M443.7 255.9a2.8 2.8 0 1 0 5.6 0a2.8 2.8 0 1 0 -5.6 0M435.2 258.3a2.8 2.8 0 1 0 5.6 0a2.8 2.8 0 1 0 -5.6 0M426.7 260.6a2.8 2.8 0 1 0 5.6 0a2.8 2.8 0 1 0 -5.6 0M447.3 247.6a2.8 2.8 0 1 0 5.6 0a2.8 2.8 0 1 0 -5.6 0M442.4 241.5a2.8 2.8 0 1 0 5.6 0a2.8 2.8 0 1 0 -5.6 0M437.5 235.5a2.8 2.8 0 1 0 5.6 0a2.8 2.8 0 1 0 -5.6 0M512 247.2a2.8 2.8 0 1 0 5.6 0a2.8 2.8 0 1 0 -5.6 0M516.1 240.8a2.8 2.8 0 1 0 5.6 0a2.8 2.8 0 1 0 -5.6 0M520.2 234.4a2.8 2.8 0 1 0 5.6 0a2.8 2.8 0 1 0 -5.6 0M506 246.6a2.8 2.8 0 1 0 5.6 0a2.8 2.8 0 1 0 -5.6 0M504 239.6a2.8 2.8 0 1 0 5.6 0a2.8 2.8 0 1 0 -5.6 0M502.1 232.6a2.8 2.8 0 1 0 5.6 0a2.8 2.8 0 1 0 -5.6 0M557.7 253.4a2.8 2.8 0 1 0 5.6 0a2.8 2.8 0 1 0 -5.6 0M558.7 246.3a2.8 2.8 0 1 0 5.6 0a2.8 2.8 0 1 0 -5.6 0M559.7 239.1a2.8 2.8 0 1 0 5.6 0a2.8 2.8 0 1 0 -5.6 0M565.8 260.3a2.8 2.8 0 1 0 5.6 0a2.8 2.8 0 1 0 -5.6 0M574.8 260a2.8 2.8 0 1 0 5.6 0a2.8 2.8 0 1 0 -5.6 0M583.8 259.7a2.8 2.8 0 1 0 5.6 0a2.8 2.8 0 1 0 -5.6 0M614.1 267.5a2.8 2.8 0 1 0 5.6 0a2.8 2.8 0 1 0 -5.6 0M621.9 271a2.8 2.8 0 1 0 5.6 0a2.8 2.8 0 1 0 -5.6 0M629.8 274.5a2.8 2.8 0 1 0 5.6 0a2.8 2.8 0 1 0 -5.6 0M614.4 261.1a2.8 2.8 0 1 0 5.6 0a2.8 2.8 0 1 0 -5.6 0M622.6 258.2a2.8 2.8 0 1 0 5.6 0a2.8 2.8 0 1 0 -5.6 0M630.9 255.3a2.8 2.8 0 1 0 5.6 0a2.8 2.8 0 1 0 -5.6 0M654.3 266.3a2.8 2.8 0 1 0 5.6 0a2.8 2.8 0 1 0 -5.6 0M662.4 269.5a2.8 2.8 0 1 0 5.6 0a2.8 2.8 0 1 0 -5.6 0M670.5 272.7a2.8 2.8 0 1 0 5.6 0a2.8 2.8 0 1 0 -5.6 0M654.4 260.1a2.8 2.8 0 1 0 5.6 0a2.8 2.8 0 1 0 -5.6 0M662.6 257a2.8 2.8 0 1 0 5.6 0a2.8 2.8 0 1 0 -5.6 0M670.7 253.9a2.8 2.8 0 1 0 5.6 0a2.8 2.8 0 1 0 -5.6 0M701.2 272.6a2.8 2.8 0 1 0 5.6 0a2.8 2.8 0 1 0 -5.6 0M702.8 279.7a2.8 2.8 0 1 0 5.6 0a2.8 2.8 0 1 0 -5.6 0M704.4 286.8a2.8 2.8 0 1 0 5.6 0a2.8 2.8 0 1 0 -5.6 0M700.2 258.3a2.8 2.8 0 1 0 5.6 0a2.8 2.8 0 1 0 -5.6 0M700.8 251.2a2.8 2.8 0 1 0 5.6 0a2.8 2.8 0 1 0 -5.6 0M701.4 244a2.8 2.8 0 1 0 5.6 0a2.8 2.8 0 1 0 -5.6 0M735.1 263a2.8 2.8 0 1 0 5.6 0a2.8 2.8 0 1 0 -5.6 0M728.4 258.2a2.8 2.8 0 1 0 5.6 0a2.8 2.8 0 1 0 -5.6 0M721.7 253.4a2.8 2.8 0 1 0 5.6 0a2.8 2.8 0 1 0 -5.6 0M741.1 275a2.8 2.8 0 1 0 5.6 0a2.8 2.8 0 1 0 -5.6 0M740.4 282.2a2.8 2.8 0 1 0 5.6 0a2.8 2.8 0 1 0 -5.6 0M739.7 289.4a2.8 2.8 0 1 0 5.6 0a2.8 2.8 0 1 0 -5.6 0M785 265.6a2.8 2.8 0 1 0 5.6 0a2.8 2.8 0 1 0 -5.6 0M777 262.2a2.8 2.8 0 1 0 5.6 0a2.8 2.8 0 1 0 -5.6 0M769.1 258.8a2.8 2.8 0 1 0 5.6 0a2.8 2.8 0 1 0 -5.6 0M788.7 275.3a2.8 2.8 0 1 0 5.6 0a2.8 2.8 0 1 0 -5.6 0M784.6 281.7a2.8 2.8 0 1 0 5.6 0a2.8 2.8 0 1 0 -5.6 0M780.4 288.1a2.8 2.8 0 1 0 5.6 0a2.8 2.8 0 1 0 -5.6 0M838.3 274.4a2.8 2.8 0 1 0 5.6 0a2.8 2.8 0 1 0 -5.6 0M831.4 279a2.8 2.8 0 1 0 5.6 0a2.8 2.8 0 1 0 -5.6 0M824.4 283.5a2.8 2.8 0 1 0 5.6 0a2.8 2.8 0 1 0 -5.6 0M837.8 273.9a2.8 2.8 0 1 0 5.6 0a2.8 2.8 0 1 0 -5.6 0M830.4 277.9a2.8 2.8 0 1 0 5.6 0a2.8 2.8 0 1 0 -5.6 0M823 282a2.8 2.8 0 1 0 5.6 0a2.8 2.8 0 1 0 -5.6 0M878.9 275.1a2.8 2.8 0 1 0 5.6 0a2.8 2.8 0 1 0 -5.6 0M872.8 280.4a2.8 2.8 0 1 0 5.6 0a2.8 2.8 0 1 0 -5.6 0M866.7 285.7a2.8 2.8 0 1 0 5.6 0a2.8 2.8 0 1 0 -5.6 0M875.9 269.6a2.8 2.8 0 1 0 5.6 0a2.8 2.8 0 1 0 -5.6 0M866.9 269.4a2.8 2.8 0 1 0 5.6 0a2.8 2.8 0 1 0 -5.6 0M857.9 269.3a2.8 2.8 0 1 0 5.6 0a2.8 2.8 0 1 0 -5.6 0M937.7 260.9a2.8 2.8 0 1 0 5.6 0a2.8 2.8 0 1 0 -5.6 0M943.3 255.3a2.8 2.8 0 1 0 5.6 0a2.8 2.8 0 1 0 -5.6 0M949 249.7a2.8 2.8 0 1 0 5.6 0a2.8 2.8 0 1 0 -5.6 0M940.8 264.9a2.8 2.8 0 1 0 5.6 0a2.8 2.8 0 1 0 -5.6 0M949.6 263.4a2.8 2.8 0 1 0 5.6 0a2.8 2.8 0 1 0 -5.6 0M958.4 261.9a2.8 2.8 0 1 0 5.6 0a2.8 2.8 0 1 0 -5.6 0M245.7 284.4a2.8 2.8 0 1 0 5.6 0a2.8 2.8 0 1 0 -5.6 0M245.8 291.6a2.8 2.8 0 1 0 5.6 0a2.8 2.8 0 1 0 -5.6 0M245.9 298.8a2.8 2.8 0 1 0 5.6 0a2.8 2.8 0 1 0 -5.6 0M253 273.1a2.8 2.8 0 1 0 5.6 0a2.8 2.8 0 1 0 -5.6 0M260.4 269a2.8 2.8 0 1 0 5.6 0a2.8 2.8 0 1 0 -5.6 0M267.8 264.9a2.8 2.8 0 1 0 5.6 0a2.8 2.8 0 1 0 -5.6 0M300.5 284.1a2.8 2.8 0 1 0 5.6 0a2.8 2.8 0 1 0 -5.6 0M309.3 285.3a2.8 2.8 0 1 0 5.6 0a2.8 2.8 0 1 0 -5.6 0M318.2 286.5a2.8 2.8 0 1 0 5.6 0a2.8 2.8 0 1 0 -5.6 0M300.2 281a2.8 2.8 0 1 0 5.6 0a2.8 2.8 0 1 0 -5.6 0M308.9 279a2.8 2.8 0 1 0 5.6 0a2.8 2.8 0 1 0 -5.6 0M317.6 277a2.8 2.8 0 1 0 5.6 0a2.8 2.8 0 1 0 -5.6 0M337.1 294.8a2.8 2.8 0 1 0 5.6 0a2.8 2.8 0 1 0 -5.6 0M335 301.8a2.8 2.8 0 1 0 5.6 0a2.8 2.8 0 1 0 -5.6 0M332.9 308.8a2.8 2.8 0 1 0 5.6 0a2.8 2.8 0 1 0 -5.6 0M330.9 290.6a2.8 2.8 0 1 0 5.6 0a2.8 2.8 0 1 0 -5.6 0M322.6 293.5a2.8 2.8 0 1 0 5.6 0a2.8 2.8 0 1 0 -5.6 0M314.3 296.3a2.8 2.8 0 1 0 5.6 0a2.8 2.8 0 1 0 -5.6 0M387.8 283.6a2.8 2.8 0 1 0 5.6 0a2.8 2.8 0 1 0 -5.6 0M378.9 282.6a2.8 2.8 0 1 0 5.6 0a2.8 2.8 0 1 0 -5.6 0M369.9 281.6a2.8 2.8 0 1 0 5.6 0a2.8 2.8 0 1 0 -5.6 0M401.5 290.7a2.8 2.8 0 1 0 5.6 0a2.8 2.8 0 1 0 -5.6 0M406.2 296.8a2.8 2.8 0 1 0 5.6 0a2.8 2.8 0 1 0 -5.6 0M411 302.9a2.8 2.8 0 1 0 5.6 0a2.8 2.8 0 1 0 -5.6 0M446.8 291.1a2.8 2.8 0 1 0 5.6 0a2.8 2.8 0 1 0 -5.6 0M451.6 297.2a2.8 2.8 0 1 0 5.6 0a2.8 2.8 0 1 0 -5.6 0M456.3 303.3a2.8 2.8 0 1 0 5.6 0a2.8 2.8 0 1 0 -5.6 0M443.8 277.9a2.8 2.8 0 1 0 5.6 0a2.8 2.8 0 1 0 -5.6 0M445.6 270.9a2.8 2.8 0 1 0 5.6 0a2.8 2.8 0 1 0 -5.6 0M447.4 263.8a2.8 2.8 0 1 0 5.6 0a2.8 2.8 0 1 0 -5.6 0M479.7 286.2a2.8 2.8 0 1 0 5.6 0a2.8 2.8 0 1 0 -5.6 0M473.3 281.1a2.8 2.8 0 1 0 5.6 0a2.8 2.8 0 1 0 -5.6 0M466.8 276.1a2.8 2.8 0 1 0 5.6 0a2.8 2.8 0 1 0 -5.6 0M493.9 294.9a2.8 2.8 0 1 0 5.6 0a2.8 2.8 0 1 0 -5.6 0M501.6 298.6a2.8 2.8 0 1 0 5.6 0a2.8 2.8 0 1 0 -5.6 0M509.3 302.2a2.8 2.8 0 1 0 5.6 0a2.8 2.8 0 1 0 -5.6 0M530.7 283.8a2.8 2.8 0 1 0 5.6 0a2.8 2.8 0 1 0 -5.6 0M525.3 278.1a2.8 2.8 0 1 0 5.6 0a2.8 2.8 0 1 0 -5.6 0M519.8 272.4a2.8 2.8 0 1 0 5.6 0a2.8 2.8 0 1 0 -5.6 0M545.1 290.5a2.8 2.8 0 1 0 5.6 0a2.8 2.8 0 1 0 -5.6 0M554 291.4a2.8 2.8 0 1 0 5.6 0a2.8 2.8 0 1 0 -5.6 0M563 292.3a2.8 2.8 0 1 0 5.6 0a2.8 2.8 0 1 0 -5.6 0M573.7 279a2.8 2.8 0 1 0 5.6 0a2.8 2.8 0 1 0 -5.6 0M568.7 273a2.8 2.8 0 1 0 5.6 0a2.8 2.8 0 1 0 -5.6 0M563.6 267.1a2.8 2.8 0 1 0 5.6 0a2.8 2.8 0 1 0 -5.6 0M572.6 290.3a2.8 2.8 0 1 0 5.6 0a2.8 2.8 0 1 0 -5.6 0M566.5 295.5a2.8 2.8 0 1 0 5.6 0a2.8 2.8 0 1 0 -5.6 0M560.4 300.8a2.8 2.8 0 1 0 5.6 0a2.8 2.8 0 1 0 -5.6 0M622.2 297.5a2.8 2.8 0 1 0 5.6 0a2.8 2.8 0 1 0 -5.6 0M618.6 304.1a2.8 2.8 0 1 0 5.6 0a2.8 2.8 0 1 0 -5.6 0M614.9 310.6a2.8 2.8 0 1 0 5.6 0a2.8 2.8 0 1 0 -5.6 0M634.4 288.6a2.8 2.8 0 1 0 5.6 0a2.8 2.8 0 1 0 -5.6 0M642.9 286.3a2.8 2.8 0 1 0 5.6 0a2.8 2.8 0 1 0 -5.6 0M651.5 284.1a2.8 2.8 0 1 0 5.6 0a2.8 2.8 0 1 0 -5.6 0M673.1 294.9a2.8 2.8 0 1 0 5.6 0a2.8 2.8 0 1 0 -5.6 0M667.6 300.6a2.8 2.8 0 1 0 5.6 0a2.8 2.8 0 1 0 -5.6 0M662.1 306.3a2.8 2.8 0 1 0 5.6 0a2.8 2.8 0 1 0 -5.6 0M686.9 292a2.8 2.8 0 1 0 5.6 0a2.8 2.8 0 1 0 -5.6 0M695.3 294.8a2.8 2.8 0 1 0 5.6 0a2.8 2.8 0 1 0 -5.6 0M703.6 297.5a2.8 2.8 0 1 0 5.6 0a2.8 2.8 0 1 0 -5.6 0M733.4 295.2a2.8 2.8 0 1 0 5.6 0a2.8 2.8 0 1 0 -5.6 0M742.1 296.9a2.8 2.8 0 1 0 5.6 0a2.8 2.8 0 1 0 -5.6 0M750.9 298.7a2.8 2.8 0 1 0 5.6 0a2.8 2.8 0 1 0 -5.6 0M724.3 300.7a2.8 2.8 0 1 0 5.6 0a2.8 2.8 0 1 0 -5.6 0M724 307.9a2.8 2.8 0 1 0 5.6 0a2.8 2.8 0 1 0 -5.6 0M723.7 315.1a2.8 2.8 0 1 0 5.6 0a2.8 2.8 0 1 0 -5.6 0M762 295.8a2.8 2.8 0 1 0 5.6 0a2.8 2.8 0 1 0 -5.6 0M753 295.2a2.8 2.8 0 1 0 5.6 0a2.8 2.8 0 1 0 -5.6 0M744 294.6a2.8 2.8 0 1 0 5.6 0a2.8 2.8 0 1 0 -5.6 0M764.8 291.1a2.8 2.8 0 1 0 5.6 0a2.8 2.8 0 1 0 -5.6 0M758.7 285.8a2.8 2.8 0 1 0 5.6 0a2.8 2.8 0 1 0 -5.6 0M752.6 280.6a2.8 2.8 0 1 0 5.6 0a2.8 2.8 0 1 0 -5.6 0M817.4 287.1a2.8 2.8 0 1 0 5.6 0a2.8 2.8 0 1 0 -5.6 0M814.7 280.2a2.8 2.8 0 1 0 5.6 0a2.8 2.8 0 1 0 -5.6 0M812.1 273.3a2.8 2.8 0 1 0 5.6 0a2.8 2.8 0 1 0 -5.6 0M812 290.7a2.8 2.8 0 1 0 5.6 0a2.8 2.8 0 1 0 -5.6 0M804 287.4a2.8 2.8 0 1 0 5.6 0a2.8 2.8 0 1 0 -5.6 0M796 284.2a2.8 2.8 0 1 0 5.6 0a2.8 2.8 0 1 0 -5.6 0M876.2 304.4a2.8 2.8 0 1 0 5.6 0a2.8 2.8 0 1 0 -5.6 0M876.7 311.6a2.8 2.8 0 1 0 5.6 0a2.8 2.8 0 1 0 -5.6 0M877.2 318.8a2.8 2.8 0 1 0 5.6 0a2.8 2.8 0 1 0 -5.6 0M871 303.4a2.8 2.8 0 1 0 5.6 0a2.8 2.8 0 1 0 -5.6 0M866.4 309.6a2.8 2.8 0 1 0 5.6 0a2.8 2.8 0 1 0 -5.6 0M861.9 315.8a2.8 2.8 0 1 0 5.6 0a2.8 2.8 0 1 0 -5.6 0M907.5 298.4a2.8 2.8 0 1 0 5.6 0a2.8 2.8 0 1 0 -5.6 0M898.7 300.2a2.8 2.8 0 1 0 5.6 0a2.8 2.8 0 1 0 -5.6 0M890 302a2.8 2.8 0 1 0 5.6 0a2.8 2.8 0 1 0 -5.6 0M907.6 294.6a2.8 2.8 0 1 0 5.6 0a2.8 2.8 0 1 0 -5.6 0M899 292.4a2.8 2.8 0 1 0 5.6 0a2.8 2.8 0 1 0 -5.6 0M890.4 290.3a2.8 2.8 0 1 0 5.6 0a2.8 2.8 0 1 0 -5.6 0M238.9 310.5a2.8 2.8 0 1 0 5.6 0a2.8 2.8 0 1 0 -5.6 0M247.9 310.8a2.8 2.8 0 1 0 5.6 0a2.8 2.8 0 1 0 -5.6 0M256.9 311.1a2.8 2.8 0 1 0 5.6 0a2.8 2.8 0 1 0 -5.6 0M229.6 303a2.8 2.8 0 1 0 5.6 0a2.8 2.8 0 1 0 -5.6 0M229.4 295.8a2.8 2.8 0 1 0 5.6 0a2.8 2.8 0 1 0 -5.6 0M229.2 288.6a2.8 2.8 0 1 0 5.6 0a2.8 2.8 0 1 0 -5.6 0M291.2 315.4a2.8 2.8 0 1 0 5.6 0a2.8 2.8 0 1 0 -5.6 0M299.6 318a2.8 2.8 0 1 0 5.6 0a2.8 2.8 0 1 0 -5.6 0M307.9 320.7a2.8 2.8 0 1 0 5.6 0a2.8 2.8 0 1 0 -5.6 0M274.6 309.9a2.8 2.8 0 1 0 5.6 0a2.8 2.8 0 1 0 -5.6 0M266.3 307a2.8 2.8 0 1 0 5.6 0a2.8 2.8 0 1 0 -5.6 0M258 304.1a2.8 2.8 0 1 0 5.6 0a2.8 2.8 0 1 0 -5.6 0M330.8 304a2.8 2.8 0 1 0 5.6 0a2.8 2.8 0 1 0 -5.6 0M337.6 299.3a2.8 2.8 0 1 0 5.6 0a2.8 2.8 0 1 0 -5.6 0M344.4 294.6a2.8 2.8 0 1 0 5.6 0a2.8 2.8 0 1 0 -5.6 0M332.9 307.7a2.8 2.8 0 1 0 5.6 0a2.8 2.8 0 1 0 -5.6 0M341.8 306.8a2.8 2.8 0 1 0 5.6 0a2.8 2.8 0 1 0 -5.6 0M350.7 305.9a2.8 2.8 0 1 0 5.6 0a2.8 2.8 0 1 0 -5.6 0M368.1 319.7a2.8 2.8 0 1 0 5.6 0a2.8 2.8 0 1 0 -5.6 0M366.9 326.9a2.8 2.8 0 1 0 5.6 0a2.8 2.8 0 1 0 -5.6 0M365.8 334a2.8 2.8 0 1 0 5.6 0a2.8 2.8 0 1 0 -5.6 0M370.5 305.5a2.8 2.8 0 1 0 5.6 0a2.8 2.8 0 1 0 -5.6 0M371.7 298.3a2.8 2.8 0 1 0 5.6 0a2.8 2.8 0 1 0 -5.6 0M372.9 291.2a2.8 2.8 0 1 0 5.6 0a2.8 2.8 0 1 0 -5.6 0M418 308.5a2.8 2.8 0 1 0 5.6 0a2.8 2.8 0 1 0 -5.6 0M419.5 301.4a2.8 2.8 0 1 0 5.6 0a2.8 2.8 0 1 0 -5.6 0M421 294.3a2.8 2.8 0 1 0 5.6 0a2.8 2.8 0 1 0 -5.6 0M414.5 322.6a2.8 2.8 0 1 0 5.6 0a2.8 2.8 0 1 0 -5.6 0M412.4 329.6a2.8 2.8 0 1 0 5.6 0a2.8 2.8 0 1 0 -5.6 0M410.4 336.6a2.8 2.8 0 1 0 5.6 0a2.8 2.8 0 1 0 -5.6 0M464.8 310.9a2.8 2.8 0 1 0 5.6 0a2.8 2.8 0 1 0 -5.6 0M465.4 303.8a2.8 2.8 0 1 0 5.6 0a2.8 2.8 0 1 0 -5.6 0M466 296.6a2.8 2.8 0 1 0 5.6 0a2.8 2.8 0 1 0 -5.6 0M468.6 324.4a2.8 2.8 0 1 0 5.6 0a2.8 2.8 0 1 0 -5.6 0M473 330.7a2.8 2.8 0 1 0 5.6 0a2.8 2.8 0 1 0 -5.6 0M477.4 337a2.8 2.8 0 1 0 5.6 0a2.8 2.8 0 1 0 -5.6 0M523.3 316.3a2.8 2.8 0 1 0 5.6 0a2.8 2.8 0 1 0 -5.6 0M532 318.1a2.8 2.8 0 1 0 5.6 0a2.8 2.8 0 1 0 -5.6 0M540.7 319.9a2.8 2.8 0 1 0 5.6 0a2.8 2.8 0 1 0 -5.6 0M506.4 311.5a2.8 2.8 0 1 0 5.6 0a2.8 2.8 0 1 0 -5.6 0M498.1 308.5a2.8 2.8 0 1 0 5.6 0a2.8 2.8 0 1 0 -5.6 0M489.9 305.6a2.8 2.8 0 1 0 5.6 0a2.8 2.8 0 1 0 -5.6 0M559.6 313.3a2.8 2.8 0 1 0 5.6 0a2.8 2.8 0 1 0 -5.6 0M559 306.1a2.8 2.8 0 1 0 5.6 0a2.8 2.8 0 1 0 -5.6 0M558.4 298.9a2.8 2.8 0 1 0 5.6 0a2.8 2.8 0 1 0 -5.6 0M556.9 313.7a2.8 2.8 0 1 0 5.6 0a2.8 2.8 0 1 0 -5.6 0M553.7 307a2.8 2.8 0 1 0 5.6 0a2.8 2.8 0 1 0 -5.6 0M550.4 300.3a2.8 2.8 0 1 0 5.6 0a2.8 2.8 0 1 0 -5.6 0M613.8 315.9a2.8 2.8 0 1 0 5.6 0a2.8 2.8 0 1 0 -5.6 0M617.9 309.5a2.8 2.8 0 1 0 5.6 0a2.8 2.8 0 1 0 -5.6 0M622 303.1a2.8 2.8 0 1 0 5.6 0a2.8 2.8 0 1 0 -5.6 0M616.1 327.3a2.8 2.8 0 1 0 5.6 0a2.8 2.8 0 1 0 -5.6 0M622.5 332.3a2.8 2.8 0 1 0 5.6 0a2.8 2.8 0 1 0 -5.6 0M629 337.4a2.8 2.8 0 1 0 5.6 0a2.8 2.8 0 1 0 -5.6 0M667.6 330.1a2.8 2.8 0 1 0 5.6 0a2.8 2.8 0 1 0 -5.6 0M668.9 337.2a2.8 2.8 0 1 0 5.6 0a2.8 2.8 0 1 0 -5.6 0M670.3 344.3a2.8 2.8 0 1 0 5.6 0a2.8 2.8 0 1 0 -5.6 0M666.4 330.2a2.8 2.8 0 1 0 5.6 0a2.8 2.8 0 1 0 -5.6 0M666.4 337.4a2.8 2.8 0 1 0 5.6 0a2.8 2.8 0 1 0 -5.6 0M666.5 344.6a2.8 2.8 0 1 0 5.6 0a2.8 2.8 0 1 0 -5.6 0M711.6 311.6a2.8 2.8 0 1 0 5.6 0a2.8 2.8 0 1 0 -5.6 0M713 304.5a2.8 2.8 0 1 0 5.6 0a2.8 2.8 0 1 0 -5.6 0M714.3 297.4a2.8 2.8 0 1 0 5.6 0a2.8 2.8 0 1 0 -5.6 0M702.1 321.9a2.8 2.8 0 1 0 5.6 0a2.8 2.8 0 1 0 -5.6 0M694 325a2.8 2.8 0 1 0 5.6 0a2.8 2.8 0 1 0 -5.6 0M685.9 328.1a2.8 2.8 0 1 0 5.6 0a2.8 2.8 0 1 0 -5.6 0M750 315.9a2.8 2.8 0 1 0 5.6 0a2.8 2.8 0 1 0 -5.6 0M746.2 309.4a2.8 2.8 0 1 0 5.6 0a2.8 2.8 0 1 0 -5.6 0M742.3 302.9a2.8 2.8 0 1 0 5.6 0a2.8 2.8 0 1 0 -5.6 0M759.8 317a2.8 2.8 0 1 0 5.6 0a2.8 2.8 0 1 0 -5.6 0M765.8 311.7a2.8 2.8 0 1 0 5.6 0a2.8 2.8 0 1 0 -5.6 0M771.8 306.3a2.8 2.8 0 1 0 5.6 0a2.8 2.8 0 1 0 -5.6 0M806.8 333.9a2.8 2.8 0 1 0 5.6 0a2.8 2.8 0 1 0 -5.6 0M807.9 341.1a2.8 2.8 0 1 0 5.6 0a2.8 2.8 0 1 0 -5.6 0M808.9 348.2a2.8 2.8 0 1 0 5.6 0a2.8 2.8 0 1 0 -5.6 0M808.4 333.7a2.8 2.8 0 1 0 5.6 0a2.8 2.8 0 1 0 -5.6 0M811 340.6a2.8 2.8 0 1 0 5.6 0a2.8 2.8 0 1 0 -5.6 0M813.6 347.5a2.8 2.8 0 1 0 5.6 0a2.8 2.8 0 1 0 -5.6 0M847.3 328.1a2.8 2.8 0 1 0 5.6 0a2.8 2.8 0 1 0 -5.6 0M838.4 326.9a2.8 2.8 0 1 0 5.6 0a2.8 2.8 0 1 0 -5.6 0M829.6 325.8a2.8 2.8 0 1 0 5.6 0a2.8 2.8 0 1 0 -5.6 0M865.2 329.3a2.8 2.8 0 1 0 5.6 0a2.8 2.8 0 1 0 -5.6 0M874.2 329.4a2.8 2.8 0 1 0 5.6 0a2.8 2.8 0 1 0 -5.6 0M883.2 329.6a2.8 2.8 0 1 0 5.6 0a2.8 2.8 0 1 0 -5.6 0M896.6 333.2a2.8 2.8 0 1 0 5.6 0a2.8 2.8 0 1 0 -5.6 0M887.7 334.6a2.8 2.8 0 1 0 5.6 0a2.8 2.8 0 1 0 -5.6 0M878.9 335.9a2.8 2.8 0 1 0 5.6 0a2.8 2.8 0 1 0 -5.6 0M900.5 337.9a2.8 2.8 0 1 0 5.6 0a2.8 2.8 0 1 0 -5.6 0M895.6 344a2.8 2.8 0 1 0 5.6 0a2.8 2.8 0 1 0 -5.6 0M890.6 350a2.8 2.8 0 1 0 5.6 0a2.8 2.8 0 1 0 -5.6 0M948.3 330.2a2.8 2.8 0 1 0 5.6 0a2.8 2.8 0 1 0 -5.6 0M943.5 336.3a2.8 2.8 0 1 0 5.6 0a2.8 2.8 0 1 0 -5.6 0M938.6 342.3a2.8 2.8 0 1 0 5.6 0a2.8 2.8 0 1 0 -5.6 0M946.5 329a2.8 2.8 0 1 0 5.6 0a2.8 2.8 0 1 0 -5.6 0M939.9 333.9a2.8 2.8 0 1 0 5.6 0a2.8 2.8 0 1 0 -5.6 0M933.3 338.8a2.8 2.8 0 1 0 5.6 0a2.8 2.8 0 1 0 -5.6 0M247.5 347a2.8 2.8 0 1 0 5.6 0a2.8 2.8 0 1 0 -5.6 0M240.6 351.6a2.8 2.8 0 1 0 5.6 0a2.8 2.8 0 1 0 -5.6 0M233.8 356.3a2.8 2.8 0 1 0 5.6 0a2.8 2.8 0 1 0 -5.6 0M245.6 344.1a2.8 2.8 0 1 0 5.6 0a2.8 2.8 0 1 0 -5.6 0M236.9 345.9a2.8 2.8 0 1 0 5.6 0a2.8 2.8 0 1 0 -5.6 0M228.1 347.7a2.8 2.8 0 1 0 5.6 0a2.8 2.8 0 1 0 -5.6 0M313.5 343a2.8 2.8 0 1 0 5.6 0a2.8 2.8 0 1 0 -5.6 0M321.7 340.1a2.8 2.8 0 1 0 5.6 0a2.8 2.8 0 1 0 -5.6 0M330 337.2a2.8 2.8 0 1 0 5.6 0a2.8 2.8 0 1 0 -5.6 0M296.8 348.3a2.8 2.8 0 1 0 5.6 0a2.8 2.8 0 1 0 -5.6 0M288.3 350.7a2.8 2.8 0 1 0 5.6 0a2.8 2.8 0 1 0 -5.6 0M279.8 353.2a2.8 2.8 0 1 0 5.6 0a2.8 2.8 0 1 0 -5.6 0M347.1 345.3a2.8 2.8 0 1 0 5.6 0a2.8 2.8 0 1 0 -5.6 0M338.2 344.1a2.8 2.8 0 1 0 5.6 0a2.8 2.8 0 1 0 -5.6 0M329.3 342.9a2.8 2.8 0 1 0 5.6 0a2.8 2.8 0 1 0 -5.6 0M353.7 353.4a2.8 2.8 0 1 0 5.6 0a2.8 2.8 0 1 0 -5.6 0M351.4 360.4a2.8 2.8 0 1 0 5.6 0a2.8 2.8 0 1 0 -5.6 0M349.1 367.4a2.8 2.8 0 1 0 5.6 0a2.8 2.8 0 1 0 -5.6 0M407.6 344.1a2.8 2.8 0 1 0 5.6 0a2.8 2.8 0 1 0 -5.6 0M416.3 346a2.8 2.8 0 1 0 5.6 0a2.8 2.8 0 1 0 -5.6 0M424.9 347.9a2.8 2.8 0 1 0 5.6 0a2.8 2.8 0 1 0 -5.6 0M398.5 349.4a2.8 2.8 0 1 0 5.6 0a2.8 2.8 0 1 0 -5.6 0M398.2 356.6a2.8 2.8 0 1 0 5.6 0a2.8 2.8 0 1 0 -5.6 0M397.8 363.8a2.8 2.8 0 1 0 5.6 0a2.8 2.8 0 1 0 -5.6 0M445.9 341.4a2.8 2.8 0 1 0 5.6 0a2.8 2.8 0 1 0 -5.6 0M446 334.2a2.8 2.8 0 1 0 5.6 0a2.8 2.8 0 1 0 -5.6 0M446.1 327a2.8 2.8 0 1 0 5.6 0a2.8 2.8 0 1 0 -5.6 0M440 343.2a2.8 2.8 0 1 0 5.6 0a2.8 2.8 0 1 0 -5.6 0M434.1 337.7a2.8 2.8 0 1 0 5.6 0a2.8 2.8 0 1 0 -5.6 0M428.2 332.3a2.8 2.8 0 1 0 5.6 0a2.8 2.8 0 1 0 -5.6 0M496.7 349.2a2.8 2.8 0 1 0 5.6 0a2.8 2.8 0 1 0 -5.6 0M491.2 354.9a2.8 2.8 0 1 0 5.6 0a2.8 2.8 0 1 0 -5.6 0M485.8 360.6a2.8 2.8 0 1 0 5.6 0a2.8 2.8 0 1 0 -5.6 0M507.2 337.5a2.8 2.8 0 1 0 5.6 0a2.8 2.8 0 1 0 -5.6 0M512.2 331.5a2.8 2.8 0 1 0 5.6 0a2.8 2.8 0 1 0 -5.6 0M517.3 325.6a2.8 2.8 0 1 0 5.6 0a2.8 2.8 0 1 0 -5.6 0M541.7 344.1a2.8 2.8 0 1 0 5.6 0a2.8 2.8 0 1 0 -5.6 0M541.7 336.9a2.8 2.8 0 1 0 5.6 0a2.8 2.8 0 1 0 -5.6 0M541.7 329.7a2.8 2.8 0 1 0 5.6 0a2.8 2.8 0 1 0 -5.6 0M550.5 352.9a2.8 2.8 0 1 0 5.6 0a2.8 2.8 0 1 0 -5.6 0M559.3 354.5a2.8 2.8 0 1 0 5.6 0a2.8 2.8 0 1 0 -5.6 0M568 356.1a2.8 2.8 0 1 0 5.6 0a2.8 2.8 0 1 0 -5.6 0M588.5 344.7a2.8 2.8 0 1 0 5.6 0a2.8 2.8 0 1 0 -5.6 0M580.1 342.1a2.8 2.8 0 1 0 5.6 0a2.8 2.8 0 1 0 -5.6 0M571.7 339.5a2.8 2.8 0 1 0 5.6 0a2.8 2.8 0 1 0 -5.6 0M592.6 341a2.8 2.8 0 1 0 5.6 0a2.8 2.8 0 1 0 -5.6 0M588.3 334.7a2.8 2.8 0 1 0 5.6 0a2.8 2.8 0 1 0 -5.6 0M584 328.3a2.8 2.8 0 1 0 5.6 0a2.8 2.8 0 1 0 -5.6 0M645 358.4a2.8 2.8 0 1 0 5.6 0a2.8 2.8 0 1 0 -5.6 0M642.9 365.4a2.8 2.8 0 1 0 5.6 0a2.8 2.8 0 1 0 -5.6 0M640.8 372.4a2.8 2.8 0 1 0 5.6 0a2.8 2.8 0 1 0 -5.6 0M641.7 345.7a2.8 2.8 0 1 0 5.6 0a2.8 2.8 0 1 0 -5.6 0M636.3 339.9a2.8 2.8 0 1 0 5.6 0a2.8 2.8 0 1 0 -5.6 0M630.9 334.1a2.8 2.8 0 1 0 5.6 0a2.8 2.8 0 1 0 -5.6 0M680.9 354.6a2.8 2.8 0 1 0 5.6 0a2.8 2.8 0 1 0 -5.6 0M672.3 356.6a2.8 2.8 0 1 0 5.6 0a2.8 2.8 0 1 0 -5.6 0M663.6 358.7a2.8 2.8 0 1 0 5.6 0a2.8 2.8 0 1 0 -5.6 0M685.8 345.9a2.8 2.8 0 1 0 5.6 0a2.8 2.8 0 1 0 -5.6 0M682.1 339.4a2.8 2.8 0 1 0 5.6 0a2.8 2.8 0 1 0 -5.6 0M678.4 332.8a2.8 2.8 0 1 0 5.6 0a2.8 2.8 0 1 0 -5.6 0M744.5 355.6a2.8 2.8 0 1 0 5.6 0a2.8 2.8 0 1 0 -5.6 0M753.5 356.2a2.8 2.8 0 1 0 5.6 0a2.8 2.8 0 1 0 -5.6 0M762.5 356.7a2.8 2.8 0 1 0 5.6 0a2.8 2.8 0 1 0 -5.6 0M737.6 362a2.8 2.8 0 1 0 5.6 0a2.8 2.8 0 1 0 -5.6 0M739.6 369a2.8 2.8 0 1 0 5.6 0a2.8 2.8 0 1 0 -5.6 0M741.6 376a2.8 2.8 0 1 0 5.6 0a2.8 2.8 0 1 0 -5.6 0M776.3 356.9a2.8 2.8 0 1 0 5.6 0a2.8 2.8 0 1 0 -5.6 0M767.4 358.3a2.8 2.8 0 1 0 5.6 0a2.8 2.8 0 1 0 -5.6 0M758.6 359.8a2.8 2.8 0 1 0 5.6 0a2.8 2.8 0 1 0 -5.6 0M776.2 356.4a2.8 2.8 0 1 0 5.6 0a2.8 2.8 0 1 0 -5.6 0M767.2 357.4a2.8 2.8 0 1 0 5.6 0a2.8 2.8 0 1 0 -5.6 0M758.3 358.3a2.8 2.8 0 1 0 5.6 0a2.8 2.8 0 1 0 -5.6 0M838.5 353.1a2.8 2.8 0 1 0 5.6 0a2.8 2.8 0 1 0 -5.6 0M843.2 346.9a2.8 2.8 0 1 0 5.6 0a2.8 2.8 0 1 0 -5.6 0M847.8 340.8a2.8 2.8 0 1 0 5.6 0a2.8 2.8 0 1 0 -5.6 0M831.9 352.2a2.8 2.8 0 1 0 5.6 0a2.8 2.8 0 1 0 -5.6 0M830 345.1a2.8 2.8 0 1 0 5.6 0a2.8 2.8 0 1 0 -5.6 0M828.2 338.1a2.8 2.8 0 1 0 5.6 0a2.8 2.8 0 1 0 -5.6 0M880.9 362.3a2.8 2.8 0 1 0 5.6 0a2.8 2.8 0 1 0 -5.6 0M881 369.5a2.8 2.8 0 1 0 5.6 0a2.8 2.8 0 1 0 -5.6 0M881.1 376.7a2.8 2.8 0 1 0 5.6 0a2.8 2.8 0 1 0 -5.6 0M880.4 362.3a2.8 2.8 0 1 0 5.6 0a2.8 2.8 0 1 0 -5.6 0M880 369.5a2.8 2.8 0 1 0 5.6 0a2.8 2.8 0 1 0 -5.6 0M879.6 376.7a2.8 2.8 0 1 0 5.6 0a2.8 2.8 0 1 0 -5.6 0M922.8 358.8a2.8 2.8 0 1 0 5.6 0a2.8 2.8 0 1 0 -5.6 0M916.8 364.2a2.8 2.8 0 1 0 5.6 0a2.8 2.8 0 1 0 -5.6 0M910.8 369.5a2.8 2.8 0 1 0 5.6 0a2.8 2.8 0 1 0 -5.6 0M919.9 352.4a2.8 2.8 0 1 0 5.6 0a2.8 2.8 0 1 0 -5.6 0M911 351.4a2.8 2.8 0 1 0 5.6 0a2.8 2.8 0 1 0 -5.6 0M902.1 350.3a2.8 2.8 0 1 0 5.6 0a2.8 2.8 0 1 0 -5.6 0M231.9 373.9a2.8 2.8 0 1 0 5.6 0a2.8 2.8 0 1 0 -5.6 0M222.9 373.4a2.8 2.8 0 1 0 5.6 0a2.8 2.8 0 1 0 -5.6 0M213.9 373a2.8 2.8 0 1 0 5.6 0a2.8 2.8 0 1 0 -5.6 0M234.6 369.1a2.8 2.8 0 1 0 5.6 0a2.8 2.8 0 1 0 -5.6 0M228.3 363.9a2.8 2.8 0 1 0 5.6 0a2.8 2.8 0 1 0 -5.6 0M222.1 358.8a2.8 2.8 0 1 0 5.6 0a2.8 2.8 0 1 0 -5.6 0M280.1 379.3a2.8 2.8 0 1 0 5.6 0a2.8 2.8 0 1 0 -5.6 0M272.3 382.9a2.8 2.8 0 1 0 5.6 0a2.8 2.8 0 1 0 -5.6 0M264.5 386.5a2.8 2.8 0 1 0 5.6 0a2.8 2.8 0 1 0 -5.6 0M295.5 371.8a2.8 2.8 0 1 0 5.6 0a2.8 2.8 0 1 0 -5.6 0M303.1 367.9a2.8 2.8 0 1 0 5.6 0a2.8 2.8 0 1 0 -5.6 0M310.7 364.1a2.8 2.8 0 1 0 5.6 0a2.8 2.8 0 1 0 -5.6 0M345.7 374.1a2.8 2.8 0 1 0 5.6 0a2.8 2.8 0 1 0 -5.6 0M353.3 377.9a2.8 2.8 0 1 0 5.6 0a2.8 2.8 0 1 0 -5.6 0M360.9 381.7a2.8 2.8 0 1 0 5.6 0a2.8 2.8 0 1 0 -5.6 0M346.9 368.9a2.8 2.8 0 1 0 5.6 0a2.8 2.8 0 1 0 -5.6 0M355.7 367.6a2.8 2.8 0 1 0 5.6 0a2.8 2.8 0 1 0 -5.6 0M364.6 366.3a2.8 2.8 0 1 0 5.6 0a2.8 2.8 0 1 0 -5.6 0M392.2 383.8a2.8 2.8 0 1 0 5.6 0a2.8 2.8 0 1 0 -5.6 0M397.6 389.6a2.8 2.8 0 1 0 5.6 0a2.8 2.8 0 1 0 -5.6 0M402.9 395.4a2.8 2.8 0 1 0 5.6 0a2.8 2.8 0 1 0 -5.6 0M382.3 384.2a2.8 2.8 0 1 0 5.6 0a2.8 2.8 0 1 0 -5.6 0M377.7 390.4a2.8 2.8 0 1 0 5.6 0a2.8 2.8 0 1 0 -5.6 0M373.1 396.6a2.8 2.8 0 1 0 5.6 0a2.8 2.8 0 1 0 -5.6 0M444.3 371.2a2.8 2.8 0 1 0 5.6 0a2.8 2.8 0 1 0 -5.6 0M453 369.4a2.8 2.8 0 1 0 5.6 0a2.8 2.8 0 1 0 -5.6 0M461.7 367.5a2.8 2.8 0 1 0 5.6 0a2.8 2.8 0 1 0 -5.6 0M438 366.2a2.8 2.8 0 1 0 5.6 0a2.8 2.8 0 1 0 -5.6 0M440.5 359.2a2.8 2.8 0 1 0 5.6 0a2.8 2.8 0 1 0 -5.6 0M443 352.3a2.8 2.8 0 1 0 5.6 0a2.8 2.8 0 1 0 -5.6 0M478.2 380.3a2.8 2.8 0 1 0 5.6 0a2.8 2.8 0 1 0 -5.6 0M470.8 384.3a2.8 2.8 0 1 0 5.6 0a2.8 2.8 0 1 0 -5.6 0M463.3 388.3a2.8 2.8 0 1 0 5.6 0a2.8 2.8 0 1 0 -5.6 0M486.3 383.5a2.8 2.8 0 1 0 5.6 0a2.8 2.8 0 1 0 -5.6 0M486.9 390.7a2.8 2.8 0 1 0 5.6 0a2.8 2.8 0 1 0 -5.6 0M487.5 397.9a2.8 2.8 0 1 0 5.6 0a2.8 2.8 0 1 0 -5.6 0M530.6 369.6a2.8 2.8 0 1 0 5.6 0a2.8 2.8 0 1 0 -5.6 0M529.4 362.5a2.8 2.8 0 1 0 5.6 0a2.8 2.8 0 1 0 -5.6 0M528.1 355.3a2.8 2.8 0 1 0 5.6 0a2.8 2.8 0 1 0 -5.6 0M532.1 369.5a2.8 2.8 0 1 0 5.6 0a2.8 2.8 0 1 0 -5.6 0M532.4 362.3a2.8 2.8 0 1 0 5.6 0a2.8 2.8 0 1 0 -5.6 0M532.7 355.1a2.8 2.8 0 1 0 5.6 0a2.8 2.8 0 1 0 -5.6 0M576.3 376.6a2.8 2.8 0 1 0 5.6 0a2.8 2.8 0 1 0 -5.6 0M571.2 370.7a2.8 2.8 0 1 0 5.6 0a2.8 2.8 0 1 0 -5.6 0M566.1 364.7a2.8 2.8 0 1 0 5.6 0a2.8 2.8 0 1 0 -5.6 0M573.1 379.6a2.8 2.8 0 1 0 5.6 0a2.8 2.8 0 1 0 -5.6 0M565 376.6a2.8 2.8 0 1 0 5.6 0a2.8 2.8 0 1 0 -5.6 0M556.8 373.6a2.8 2.8 0 1 0 5.6 0a2.8 2.8 0 1 0 -5.6 0M630.6 374.3a2.8 2.8 0 1 0 5.6 0a2.8 2.8 0 1 0 -5.6 0M632.4 367.2a2.8 2.8 0 1 0 5.6 0a2.8 2.8 0 1 0 -5.6 0M634.2 360.2a2.8 2.8 0 1 0 5.6 0a2.8 2.8 0 1 0 -5.6 0M620 379.6a2.8 2.8 0 1 0 5.6 0a2.8 2.8 0 1 0 -5.6 0M611.3 377.9a2.8 2.8 0 1 0 5.6 0a2.8 2.8 0 1 0 -5.6 0M602.5 376.1a2.8 2.8 0 1 0 5.6 0a2.8 2.8 0 1 0 -5.6 0M678.5 386.5a2.8 2.8 0 1 0 5.6 0a2.8 2.8 0 1 0 -5.6 0M687.2 388.4a2.8 2.8 0 1 0 5.6 0a2.8 2.8 0 1 0 -5.6 0M695.9 390.3a2.8 2.8 0 1 0 5.6 0a2.8 2.8 0 1 0 -5.6 0M671.7 377.6a2.8 2.8 0 1 0 5.6 0a2.8 2.8 0 1 0 -5.6 0M673.7 370.6a2.8 2.8 0 1 0 5.6 0a2.8 2.8 0 1 0 -5.6 0M675.6 363.6a2.8 2.8 0 1 0 5.6 0a2.8 2.8 0 1 0 -5.6 0M732.3 382.7a2.8 2.8 0 1 0 5.6 0a2.8 2.8 0 1 0 -5.6 0M741.2 381.5a2.8 2.8 0 1 0 5.6 0a2.8 2.8 0 1 0 -5.6 0M750.1 380.3a2.8 2.8 0 1 0 5.6 0a2.8 2.8 0 1 0 -5.6 0M724.7 376.8a2.8 2.8 0 1 0 5.6 0a2.8 2.8 0 1 0 -5.6 0M726 369.7a2.8 2.8 0 1 0 5.6 0a2.8 2.8 0 1 0 -5.6 0M727.3 362.5a2.8 2.8 0 1 0 5.6 0a2.8 2.8 0 1 0 -5.6 0M760.2 384.5a2.8 2.8 0 1 0 5.6 0a2.8 2.8 0 1 0 -5.6 0M753.7 389.4a2.8 2.8 0 1 0 5.6 0a2.8 2.8 0 1 0 -5.6 0M747.1 394.3a2.8 2.8 0 1 0 5.6 0a2.8 2.8 0 1 0 -5.6 0M762.1 373.4a2.8 2.8 0 1 0 5.6 0a2.8 2.8 0 1 0 -5.6 0M757.4 367.3a2.8 2.8 0 1 0 5.6 0a2.8 2.8 0 1 0 -5.6 0M752.7 361.2a2.8 2.8 0 1 0 5.6 0a2.8 2.8 0 1 0 -5.6 0M824.1 385.8a2.8 2.8 0 1 0 5.6 0a2.8 2.8 0 1 0 -5.6 0M829.6 391.4a2.8 2.8 0 1 0 5.6 0a2.8 2.8 0 1 0 -5.6 0M835.1 397.1a2.8 2.8 0 1 0 5.6 0a2.8 2.8 0 1 0 -5.6 0M814.7 373.6a2.8 2.8 0 1 0 5.6 0a2.8 2.8 0 1 0 -5.6 0M810.9 367.1a2.8 2.8 0 1 0 5.6 0a2.8 2.8 0 1 0 -5.6 0M807 360.6a2.8 2.8 0 1 0 5.6 0a2.8 2.8 0 1 0 -5.6 0M873.8 380.9a2.8 2.8 0 1 0 5.6 0a2.8 2.8 0 1 0 -5.6 0M882.7 379.7a2.8 2.8 0 1 0 5.6 0a2.8 2.8 0 1 0 -5.6 0M891.6 378.6a2.8 2.8 0 1 0 5.6 0a2.8 2.8 0 1 0 -5.6 0M860.7 388.4a2.8 2.8 0 1 0 5.6 0a2.8 2.8 0 1 0 -5.6 0M856.4 394.7a2.8 2.8 0 1 0 5.6 0a2.8 2.8 0 1 0 -5.6 0M852.2 401.1a2.8 2.8 0 1 0 5.6 0a2.8 2.8 0 1 0 -5.6 0M912.4 379.2a2.8 2.8 0 1 0 5.6 0a2.8 2.8 0 1 0 -5.6 0M908.3 372.8a2.8 2.8 0 1 0 5.6 0a2.8 2.8 0 1 0 -5.6 0M904.2 366.4a2.8 2.8 0 1 0 5.6 0a2.8 2.8 0 1 0 -5.6 0M909.7 390.4a2.8 2.8 0 1 0 5.6 0a2.8 2.8 0 1 0 -5.6 0M903 395.2a2.8 2.8 0 1 0 5.6 0a2.8 2.8 0 1 0 -5.6 0M896.3 400a2.8 2.8 0 1 0 5.6 0a2.8 2.8 0 1 0 -5.6 0M959.7 390.1a2.8 2.8 0 1 0 5.6 0a2.8 2.8 0 1 0 -5.6 0M963.9 396.4a2.8 2.8 0 1 0 5.6 0a2.8 2.8 0 1 0 -5.6 0M968.2 402.8a2.8 2.8 0 1 0 5.6 0a2.8 2.8 0 1 0 -5.6 0M947.3 386.7a2.8 2.8 0 1 0 5.6 0a2.8 2.8 0 1 0 -5.6 0M939.1 389.7a2.8 2.8 0 1 0 5.6 0a2.8 2.8 0 1 0 -5.6 0M930.9 392.7a2.8 2.8 0 1 0 5.6 0a2.8 2.8 0 1 0 -5.6 0" fill="none" stroke="#C8705E" stroke-width="1.3"/><path d="M235.3 243.9a1.6 1.6 0 1 0 3.2 0a1.6 1.6 0 1 0 -3.2 0M236.6 232.9a1.6 1.6 0 1 0 3.2 0a1.6 1.6 0 1 0 -3.2 0M218.8 255.7a1.6 1.6 0 1 0 3.2 0a1.6 1.6 0 1 0 -3.2 0M230.3 241.3a1.6 1.6 0 1 0 3.2 0a1.6 1.6 0 1 0 -3.2 0M209.7 246.3a1.6 1.6 0 1 0 3.2 0a1.6 1.6 0 1 0 -3.2 0M252.5 251.3a1.6 1.6 0 1 0 3.2 0a1.6 1.6 0 1 0 -3.2 0M250.7 233.1a1.6 1.6 0 1 0 3.2 0a1.6 1.6 0 1 0 -3.2 0M257.1 236.2a1.6 1.6 0 1 0 3.2 0a1.6 1.6 0 1 0 -3.2 0M262.9 232.7a1.6 1.6 0 1 0 3.2 0a1.6 1.6 0 1 0 -3.2 0M248 235.8a1.6 1.6 0 1 0 3.2 0a1.6 1.6 0 1 0 -3.2 0M330.5 237.5a1.6 1.6 0 1 0 3.2 0a1.6 1.6 0 1 0 -3.2 0M292.1 250a1.6 1.6 0 1 0 3.2 0a1.6 1.6 0 1 0 -3.2 0M302.5 250.4a1.6 1.6 0 1 0 3.2 0a1.6 1.6 0 1 0 -3.2 0M331 254.4a1.6 1.6 0 1 0 3.2 0a1.6 1.6 0 1 0 -3.2 0M287.7 264a1.6 1.6 0 1 0 3.2 0a1.6 1.6 0 1 0 -3.2 0M357.9 244.8a1.6 1.6 0 1 0 3.2 0a1.6 1.6 0 1 0 -3.2 0M338.7 264.6a1.6 1.6 0 1 0 3.2 0a1.6 1.6 0 1 0 -3.2 0M346.1 254.1a1.6 1.6 0 1 0 3.2 0a1.6 1.6 0 1 0 -3.2 0M370.4 256.8a1.6 1.6 0 1 0 3.2 0a1.6 1.6 0 1 0 -3.2 0M352.9 255.6a1.6 1.6 0 1 0 3.2 0a1.6 1.6 0 1 0 -3.2 0M409.2 264.2a1.6 1.6 0 1 0 3.2 0a1.6 1.6 0 1 0 -3.2 0M406 258.2a1.6 1.6 0 1 0 3.2 0a1.6 1.6 0 1 0 -3.2 0M402.1 272.4a1.6 1.6 0 1 0 3.2 0a1.6 1.6 0 1 0 -3.2 0M394 271.1a1.6 1.6 0 1 0 3.2 0a1.6 1.6 0 1 0 -3.2 0M399.1 269.7a1.6 1.6 0 1 0 3.2 0a1.6 1.6 0 1 0 -3.2 0M460 258.6a1.6 1.6 0 1 0 3.2 0a1.6 1.6 0 1 0 -3.2 0M455.4 266a1.6 1.6 0 1 0 3.2 0a1.6 1.6 0 1 0 -3.2 0M474.1 247.4a1.6 1.6 0 1 0 3.2 0a1.6 1.6 0 1 0 -3.2 0M440.9 244.9a1.6 1.6 0 1 0 3.2 0a1.6 1.6 0 1 0 -3.2 0M440.1 265.8a1.6 1.6 0 1 0 3.2 0a1.6 1.6 0 1 0 -3.2 0M509.7 251.4a1.6 1.6 0 1 0 3.2 0a1.6 1.6 0 1 0 -3.2 0M518 253.8a1.6 1.6 0 1 0 3.2 0a1.6 1.6 0 1 0 -3.2 0M527.2 261.8a1.6 1.6 0 1 0 3.2 0a1.6 1.6 0 1 0 -3.2 0M512.2 263.7a1.6 1.6 0 1 0 3.2 0a1.6 1.6 0 1 0 -3.2 0M487.9 259.6a1.6 1.6 0 1 0 3.2 0a1.6 1.6 0 1 0 -3.2 0M560.1 254.6a1.6 1.6 0 1 0 3.2 0a1.6 1.6 0 1 0 -3.2 0M539.8 259.7a1.6 1.6 0 1 0 3.2 0a1.6 1.6 0 1 0 -3.2 0M548.7 247a1.6 1.6 0 1 0 3.2 0a1.6 1.6 0 1 0 -3.2 0M558.3 276.4a1.6 1.6 0 1 0 3.2 0a1.6 1.6 0 1 0 -3.2 0M579.7 257a1.6 1.6 0 1 0 3.2 0a1.6 1.6 0 1 0 -3.2 0M603.5 267.7a1.6 1.6 0 1 0 3.2 0a1.6 1.6 0 1 0 -3.2 0M591.5 275.9a1.6 1.6 0 1 0 3.2 0a1.6 1.6 0 1 0 -3.2 0M606.8 277.2a1.6 1.6 0 1 0 3.2 0a1.6 1.6 0 1 0 -3.2 0M609.6 253.5a1.6 1.6 0 1 0 3.2 0a1.6 1.6 0 1 0 -3.2 0M603.7 257a1.6 1.6 0 1 0 3.2 0a1.6 1.6 0 1 0 -3.2 0M666.3 264a1.6 1.6 0 1 0 3.2 0a1.6 1.6 0 1 0 -3.2 0M646.1 261.5a1.6 1.6 0 1 0 3.2 0a1.6 1.6 0 1 0 -3.2 0M659.9 254.3a1.6 1.6 0 1 0 3.2 0a1.6 1.6 0 1 0 -3.2 0M632.2 278.2a1.6 1.6 0 1 0 3.2 0a1.6 1.6 0 1 0 -3.2 0M630.3 273.5a1.6 1.6 0 1 0 3.2 0a1.6 1.6 0 1 0 -3.2 0M691.8 280a1.6 1.6 0 1 0 3.2 0a1.6 1.6 0 1 0 -3.2 0M700.6 255.5a1.6 1.6 0 1 0 3.2 0a1.6 1.6 0 1 0 -3.2 0M688.6 262.9a1.6 1.6 0 1 0 3.2 0a1.6 1.6 0 1 0 -3.2 0M708.1 279.9a1.6 1.6 0 1 0 3.2 0a1.6 1.6 0 1 0 -3.2 0M685.3 262.1a1.6 1.6 0 1 0 3.2 0a1.6 1.6 0 1 0 -3.2 0M752.5 262a1.6 1.6 0 1 0 3.2 0a1.6 1.6 0 1 0 -3.2 0M733.1 252a1.6 1.6 0 1 0 3.2 0a1.6 1.6 0 1 0 -3.2 0M754.2 281.2a1.6 1.6 0 1 0 3.2 0a1.6 1.6 0 1 0 -3.2 0M748.9 282a1.6 1.6 0 1 0 3.2 0a1.6 1.6 0 1 0 -3.2 0M722 259.3a1.6 1.6 0 1 0 3.2 0a1.6 1.6 0 1 0 -3.2 0M789.5 284.7a1.6 1.6 0 1 0 3.2 0a1.6 1.6 0 1 0 -3.2 0M794.4 260.4a1.6 1.6 0 1 0 3.2 0a1.6 1.6 0 1 0 -3.2 0M807.7 273.9a1.6 1.6 0 1 0 3.2 0a1.6 1.6 0 1 0 -3.2 0M815.7 256.2a1.6 1.6 0 1 0 3.2 0a1.6 1.6 0 1 0 -3.2 0M793 279.2a1.6 1.6 0 1 0 3.2 0a1.6 1.6 0 1 0 -3.2 0M865.9 267.7a1.6 1.6 0 1 0 3.2 0a1.6 1.6 0 1 0 -3.2 0M831.4 257.5a1.6 1.6 0 1 0 3.2 0a1.6 1.6 0 1 0 -3.2 0M828.5 272.3a1.6 1.6 0 1 0 3.2 0a1.6 1.6 0 1 0 -3.2 0M840.5 278.6a1.6 1.6 0 1 0 3.2 0a1.6 1.6 0 1 0 -3.2 0M830.2 255.5a1.6 1.6 0 1 0 3.2 0a1.6 1.6 0 1 0 -3.2 0M872 253.9a1.6 1.6 0 1 0 3.2 0a1.6 1.6 0 1 0 -3.2 0M907.5 268.6a1.6 1.6 0 1 0 3.2 0a1.6 1.6 0 1 0 -3.2 0M883.8 273.6a1.6 1.6 0 1 0 3.2 0a1.6 1.6 0 1 0 -3.2 0M900.1 280.5a1.6 1.6 0 1 0 3.2 0a1.6 1.6 0 1 0 -3.2 0M899.8 266.6a1.6 1.6 0 1 0 3.2 0a1.6 1.6 0 1 0 -3.2 0M931.1 267.1a1.6 1.6 0 1 0 3.2 0a1.6 1.6 0 1 0 -3.2 0M941.5 279.1a1.6 1.6 0 1 0 3.2 0a1.6 1.6 0 1 0 -3.2 0M922.3 267.6a1.6 1.6 0 1 0 3.2 0a1.6 1.6 0 1 0 -3.2 0M948.9 274.1a1.6 1.6 0 1 0 3.2 0a1.6 1.6 0 1 0 -3.2 0M927.5 262.5a1.6 1.6 0 1 0 3.2 0a1.6 1.6 0 1 0 -3.2 0M226.8 278.2a1.6 1.6 0 1 0 3.2 0a1.6 1.6 0 1 0 -3.2 0M242.7 268.8a1.6 1.6 0 1 0 3.2 0a1.6 1.6 0 1 0 -3.2 0M227.4 286.1a1.6 1.6 0 1 0 3.2 0a1.6 1.6 0 1 0 -3.2 0M225.4 278.8a1.6 1.6 0 1 0 3.2 0a1.6 1.6 0 1 0 -3.2 0M266.2 265.7a1.6 1.6 0 1 0 3.2 0a1.6 1.6 0 1 0 -3.2 0M281.1 295.3a1.6 1.6 0 1 0 3.2 0a1.6 1.6 0 1 0 -3.2 0M305.5 279.5a1.6 1.6 0 1 0 3.2 0a1.6 1.6 0 1 0 -3.2 0M296.5 285a1.6 1.6 0 1 0 3.2 0a1.6 1.6 0 1 0 -3.2 0M278.3 268a1.6 1.6 0 1 0 3.2 0a1.6 1.6 0 1 0 -3.2 0M275.7 286.8a1.6 1.6 0 1 0 3.2 0a1.6 1.6 0 1 0 -3.2 0M341.4 281a1.6 1.6 0 1 0 3.2 0a1.6 1.6 0 1 0 -3.2 0M351.4 273.5a1.6 1.6 0 1 0 3.2 0a1.6 1.6 0 1 0 -3.2 0M333.6 274.9a1.6 1.6 0 1 0 3.2 0a1.6 1.6 0 1 0 -3.2 0M348.9 298.2a1.6 1.6 0 1 0 3.2 0a1.6 1.6 0 1 0 -3.2 0M360.9 290.8a1.6 1.6 0 1 0 3.2 0a1.6 1.6 0 1 0 -3.2 0M390.3 274.7a1.6 1.6 0 1 0 3.2 0a1.6 1.6 0 1 0 -3.2 0M418.8 292a1.6 1.6 0 1 0 3.2 0a1.6 1.6 0 1 0 -3.2 0M380.4 299.4a1.6 1.6 0 1 0 3.2 0a1.6 1.6 0 1 0 -3.2 0M380.4 280.9a1.6 1.6 0 1 0 3.2 0a1.6 1.6 0 1 0 -3.2 0M419.2 294.1a1.6 1.6 0 1 0 3.2 0a1.6 1.6 0 1 0 -3.2 0M462.6 285.6a1.6 1.6 0 1 0 3.2 0a1.6 1.6 0 1 0 -3.2 0M425.6 287.4a1.6 1.6 0 1 0 3.2 0a1.6 1.6 0 1 0 -3.2 0M445 291.9a1.6 1.6 0 1 0 3.2 0a1.6 1.6 0 1 0 -3.2 0M443.7 289.4a1.6 1.6 0 1 0 3.2 0a1.6 1.6 0 1 0 -3.2 0M457.7 285.7a1.6 1.6 0 1 0 3.2 0a1.6 1.6 0 1 0 -3.2 0M504.8 280.1a1.6 1.6 0 1 0 3.2 0a1.6 1.6 0 1 0 -3.2 0M478.7 287.5a1.6 1.6 0 1 0 3.2 0a1.6 1.6 0 1 0 -3.2 0M469.1 293.3a1.6 1.6 0 1 0 3.2 0a1.6 1.6 0 1 0 -3.2 0M479.6 305.4a1.6 1.6 0 1 0 3.2 0a1.6 1.6 0 1 0 -3.2 0M488.7 286.2a1.6 1.6 0 1 0 3.2 0a1.6 1.6 0 1 0 -3.2 0M517.4 297.1a1.6 1.6 0 1 0 3.2 0a1.6 1.6 0 1 0 -3.2 0M559.3 299.4a1.6 1.6 0 1 0 3.2 0a1.6 1.6 0 1 0 -3.2 0M519.5 289a1.6 1.6 0 1 0 3.2 0a1.6 1.6 0 1 0 -3.2 0M548.7 278.2a1.6 1.6 0 1 0 3.2 0a1.6 1.6 0 1 0 -3.2 0M524.8 286.8a1.6 1.6 0 1 0 3.2 0a1.6 1.6 0 1 0 -3.2 0M594.1 294.2a1.6 1.6 0 1 0 3.2 0a1.6 1.6 0 1 0 -3.2 0M582.7 277.2a1.6 1.6 0 1 0 3.2 0a1.6 1.6 0 1 0 -3.2 0M571.2 282.5a1.6 1.6 0 1 0 3.2 0a1.6 1.6 0 1 0 -3.2 0M571.9 282.8a1.6 1.6 0 1 0 3.2 0a1.6 1.6 0 1 0 -3.2 0M586.2 298.9a1.6 1.6 0 1 0 3.2 0a1.6 1.6 0 1 0 -3.2 0M637.1 289.9a1.6 1.6 0 1 0 3.2 0a1.6 1.6 0 1 0 -3.2 0M612.4 305.8a1.6 1.6 0 1 0 3.2 0a1.6 1.6 0 1 0 -3.2 0M610.2 305.4a1.6 1.6 0 1 0 3.2 0a1.6 1.6 0 1 0 -3.2 0M612.3 300.6a1.6 1.6 0 1 0 3.2 0a1.6 1.6 0 1 0 -3.2 0M626 299.8a1.6 1.6 0 1 0 3.2 0a1.6 1.6 0 1 0 -3.2 0M675.4 289.9a1.6 1.6 0 1 0 3.2 0a1.6 1.6 0 1 0 -3.2 0M669.3 299.9a1.6 1.6 0 1 0 3.2 0a1.6 1.6 0 1 0 -3.2 0M672 289.5a1.6 1.6 0 1 0 3.2 0a1.6 1.6 0 1 0 -3.2 0M666.7 280.1a1.6 1.6 0 1 0 3.2 0a1.6 1.6 0 1 0 -3.2 0M661.9 299a1.6 1.6 0 1 0 3.2 0a1.6 1.6 0 1 0 -3.2 0M719.4 306.4a1.6 1.6 0 1 0 3.2 0a1.6 1.6 0 1 0 -3.2 0M743.7 304.3a1.6 1.6 0 1 0 3.2 0a1.6 1.6 0 1 0 -3.2 0M705.9 302.6a1.6 1.6 0 1 0 3.2 0a1.6 1.6 0 1 0 -3.2 0M735.1 298.2a1.6 1.6 0 1 0 3.2 0a1.6 1.6 0 1 0 -3.2 0M747.2 279.3a1.6 1.6 0 1 0 3.2 0a1.6 1.6 0 1 0 -3.2 0M784.8 310a1.6 1.6 0 1 0 3.2 0a1.6 1.6 0 1 0 -3.2 0M774.8 307.1a1.6 1.6 0 1 0 3.2 0a1.6 1.6 0 1 0 -3.2 0M755.4 304.5a1.6 1.6 0 1 0 3.2 0a1.6 1.6 0 1 0 -3.2 0M792.8 294.2a1.6 1.6 0 1 0 3.2 0a1.6 1.6 0 1 0 -3.2 0M761.6 288a1.6 1.6 0 1 0 3.2 0a1.6 1.6 0 1 0 -3.2 0M837 289.4a1.6 1.6 0 1 0 3.2 0a1.6 1.6 0 1 0 -3.2 0M840.3 309a1.6 1.6 0 1 0 3.2 0a1.6 1.6 0 1 0 -3.2 0M802.4 289.4a1.6 1.6 0 1 0 3.2 0a1.6 1.6 0 1 0 -3.2 0M810 304.5a1.6 1.6 0 1 0 3.2 0a1.6 1.6 0 1 0 -3.2 0M839.4 302.9a1.6 1.6 0 1 0 3.2 0a1.6 1.6 0 1 0 -3.2 0M874 312.6a1.6 1.6 0 1 0 3.2 0a1.6 1.6 0 1 0 -3.2 0M890.2 310.4a1.6 1.6 0 1 0 3.2 0a1.6 1.6 0 1 0 -3.2 0M890.7 308.3a1.6 1.6 0 1 0 3.2 0a1.6 1.6 0 1 0 -3.2 0M857.2 297.8a1.6 1.6 0 1 0 3.2 0a1.6 1.6 0 1 0 -3.2 0M897 311.1a1.6 1.6 0 1 0 3.2 0a1.6 1.6 0 1 0 -3.2 0M922.4 295.7a1.6 1.6 0 1 0 3.2 0a1.6 1.6 0 1 0 -3.2 0M909.1 288.4a1.6 1.6 0 1 0 3.2 0a1.6 1.6 0 1 0 -3.2 0M905.1 297.1a1.6 1.6 0 1 0 3.2 0a1.6 1.6 0 1 0 -3.2 0M912.3 299.4a1.6 1.6 0 1 0 3.2 0a1.6 1.6 0 1 0 -3.2 0M895.9 292a1.6 1.6 0 1 0 3.2 0a1.6 1.6 0 1 0 -3.2 0M252.6 306.4a1.6 1.6 0 1 0 3.2 0a1.6 1.6 0 1 0 -3.2 0M222.3 311.4a1.6 1.6 0 1 0 3.2 0a1.6 1.6 0 1 0 -3.2 0M244.4 308.2a1.6 1.6 0 1 0 3.2 0a1.6 1.6 0 1 0 -3.2 0M225.7 301.7a1.6 1.6 0 1 0 3.2 0a1.6 1.6 0 1 0 -3.2 0M245.2 304.8a1.6 1.6 0 1 0 3.2 0a1.6 1.6 0 1 0 -3.2 0M266.7 315a1.6 1.6 0 1 0 3.2 0a1.6 1.6 0 1 0 -3.2 0M289.8 319.9a1.6 1.6 0 1 0 3.2 0a1.6 1.6 0 1 0 -3.2 0M292.5 297.1a1.6 1.6 0 1 0 3.2 0a1.6 1.6 0 1 0 -3.2 0M262.1 319.5a1.6 1.6 0 1 0 3.2 0a1.6 1.6 0 1 0 -3.2 0M286.4 326.1a1.6 1.6 0 1 0 3.2 0a1.6 1.6 0 1 0 -3.2 0M306.1 314.3a1.6 1.6 0 1 0 3.2 0a1.6 1.6 0 1 0 -3.2 0M332.9 311.4a1.6 1.6 0 1 0 3.2 0a1.6 1.6 0 1 0 -3.2 0M321.4 305.4a1.6 1.6 0 1 0 3.2 0a1.6 1.6 0 1 0 -3.2 0M334.5 293.4a1.6 1.6 0 1 0 3.2 0a1.6 1.6 0 1 0 -3.2 0M341.4 295.5a1.6 1.6 0 1 0 3.2 0a1.6 1.6 0 1 0 -3.2 0M365.4 317.6a1.6 1.6 0 1 0 3.2 0a1.6 1.6 0 1 0 -3.2 0M373.4 306.5a1.6 1.6 0 1 0 3.2 0a1.6 1.6 0 1 0 -3.2 0M365.6 299.3a1.6 1.6 0 1 0 3.2 0a1.6 1.6 0 1 0 -3.2 0M356.2 323.8a1.6 1.6 0 1 0 3.2 0a1.6 1.6 0 1 0 -3.2 0M362.6 317.8a1.6 1.6 0 1 0 3.2 0a1.6 1.6 0 1 0 -3.2 0M397.6 326.9a1.6 1.6 0 1 0 3.2 0a1.6 1.6 0 1 0 -3.2 0M422.4 301.1a1.6 1.6 0 1 0 3.2 0a1.6 1.6 0 1 0 -3.2 0M406.5 303.2a1.6 1.6 0 1 0 3.2 0a1.6 1.6 0 1 0 -3.2 0M430.5 306.3a1.6 1.6 0 1 0 3.2 0a1.6 1.6 0 1 0 -3.2 0M435.9 323.6a1.6 1.6 0 1 0 3.2 0a1.6 1.6 0 1 0 -3.2 0M472.8 321.3a1.6 1.6 0 1 0 3.2 0a1.6 1.6 0 1 0 -3.2 0M463.7 326.6a1.6 1.6 0 1 0 3.2 0a1.6 1.6 0 1 0 -3.2 0M480 305.8a1.6 1.6 0 1 0 3.2 0a1.6 1.6 0 1 0 -3.2 0M456.2 313.7a1.6 1.6 0 1 0 3.2 0a1.6 1.6 0 1 0 -3.2 0M452.5 304.1a1.6 1.6 0 1 0 3.2 0a1.6 1.6 0 1 0 -3.2 0M521.4 324.6a1.6 1.6 0 1 0 3.2 0a1.6 1.6 0 1 0 -3.2 0M524.8 327.4a1.6 1.6 0 1 0 3.2 0a1.6 1.6 0 1 0 -3.2 0M535.3 314.2a1.6 1.6 0 1 0 3.2 0a1.6 1.6 0 1 0 -3.2 0M515.7 303.4a1.6 1.6 0 1 0 3.2 0a1.6 1.6 0 1 0 -3.2 0M507 317a1.6 1.6 0 1 0 3.2 0a1.6 1.6 0 1 0 -3.2 0M545.8 323a1.6 1.6 0 1 0 3.2 0a1.6 1.6 0 1 0 -3.2 0M563.8 334.6a1.6 1.6 0 1 0 3.2 0a1.6 1.6 0 1 0 -3.2 0M555.2 312.1a1.6 1.6 0 1 0 3.2 0a1.6 1.6 0 1 0 -3.2 0M558.8 312.8a1.6 1.6 0 1 0 3.2 0a1.6 1.6 0 1 0 -3.2 0M549.4 335.4a1.6 1.6 0 1 0 3.2 0a1.6 1.6 0 1 0 -3.2 0M605.2 329.9a1.6 1.6 0 1 0 3.2 0a1.6 1.6 0 1 0 -3.2 0M630.5 329.4a1.6 1.6 0 1 0 3.2 0a1.6 1.6 0 1 0 -3.2 0M590.7 325.6a1.6 1.6 0 1 0 3.2 0a1.6 1.6 0 1 0 -3.2 0M593.2 323.9a1.6 1.6 0 1 0 3.2 0a1.6 1.6 0 1 0 -3.2 0M624.2 309.9a1.6 1.6 0 1 0 3.2 0a1.6 1.6 0 1 0 -3.2 0M684.1 326.5a1.6 1.6 0 1 0 3.2 0a1.6 1.6 0 1 0 -3.2 0M673.3 330.2a1.6 1.6 0 1 0 3.2 0a1.6 1.6 0 1 0 -3.2 0M651.8 319.3a1.6 1.6 0 1 0 3.2 0a1.6 1.6 0 1 0 -3.2 0M648.3 338.7a1.6 1.6 0 1 0 3.2 0a1.6 1.6 0 1 0 -3.2 0M661.2 325.3a1.6 1.6 0 1 0 3.2 0a1.6 1.6 0 1 0 -3.2 0M727.6 304.9a1.6 1.6 0 1 0 3.2 0a1.6 1.6 0 1 0 -3.2 0M710.7 331.5a1.6 1.6 0 1 0 3.2 0a1.6 1.6 0 1 0 -3.2 0M701.6 311a1.6 1.6 0 1 0 3.2 0a1.6 1.6 0 1 0 -3.2 0M690.4 308a1.6 1.6 0 1 0 3.2 0a1.6 1.6 0 1 0 -3.2 0M701.2 325.3a1.6 1.6 0 1 0 3.2 0a1.6 1.6 0 1 0 -3.2 0M739.8 337.8a1.6 1.6 0 1 0 3.2 0a1.6 1.6 0 1 0 -3.2 0M758.3 313.8a1.6 1.6 0 1 0 3.2 0a1.6 1.6 0 1 0 -3.2 0M760.2 332.4a1.6 1.6 0 1 0 3.2 0a1.6 1.6 0 1 0 -3.2 0M754 307.4a1.6 1.6 0 1 0 3.2 0a1.6 1.6 0 1 0 -3.2 0M761.5 327.3a1.6 1.6 0 1 0 3.2 0a1.6 1.6 0 1 0 -3.2 0M818.4 331.3a1.6 1.6 0 1 0 3.2 0a1.6 1.6 0 1 0 -3.2 0M798.1 342.6a1.6 1.6 0 1 0 3.2 0a1.6 1.6 0 1 0 -3.2 0M794.5 329a1.6 1.6 0 1 0 3.2 0a1.6 1.6 0 1 0 -3.2 0M791.9 338.4a1.6 1.6 0 1 0 3.2 0a1.6 1.6 0 1 0 -3.2 0M823.2 319.3a1.6 1.6 0 1 0 3.2 0a1.6 1.6 0 1 0 -3.2 0M845.3 330.5a1.6 1.6 0 1 0 3.2 0a1.6 1.6 0 1 0 -3.2 0M863.3 330.7a1.6 1.6 0 1 0 3.2 0a1.6 1.6 0 1 0 -3.2 0M879.1 330.2a1.6 1.6 0 1 0 3.2 0a1.6 1.6 0 1 0 -3.2 0M872.4 343.8a1.6 1.6 0 1 0 3.2 0a1.6 1.6 0 1 0 -3.2 0M838.8 344.3a1.6 1.6 0 1 0 3.2 0a1.6 1.6 0 1 0 -3.2 0M908.7 328.1a1.6 1.6 0 1 0 3.2 0a1.6 1.6 0 1 0 -3.2 0M920.9 341.3a1.6 1.6 0 1 0 3.2 0a1.6 1.6 0 1 0 -3.2 0M922.9 327.3a1.6 1.6 0 1 0 3.2 0a1.6 1.6 0 1 0 -3.2 0M887.5 347.2a1.6 1.6 0 1 0 3.2 0a1.6 1.6 0 1 0 -3.2 0M896.4 337a1.6 1.6 0 1 0 3.2 0a1.6 1.6 0 1 0 -3.2 0M933.1 314.5a1.6 1.6 0 1 0 3.2 0a1.6 1.6 0 1 0 -3.2 0M957.4 310a1.6 1.6 0 1 0 3.2 0a1.6 1.6 0 1 0 -3.2 0M940.2 331.1a1.6 1.6 0 1 0 3.2 0a1.6 1.6 0 1 0 -3.2 0M944.4 318.5a1.6 1.6 0 1 0 3.2 0a1.6 1.6 0 1 0 -3.2 0M943 334.8a1.6 1.6 0 1 0 3.2 0a1.6 1.6 0 1 0 -3.2 0M237.5 353.4a1.6 1.6 0 1 0 3.2 0a1.6 1.6 0 1 0 -3.2 0M258.6 326.8a1.6 1.6 0 1 0 3.2 0a1.6 1.6 0 1 0 -3.2 0M255.4 353.4a1.6 1.6 0 1 0 3.2 0a1.6 1.6 0 1 0 -3.2 0M243 340.8a1.6 1.6 0 1 0 3.2 0a1.6 1.6 0 1 0 -3.2 0M269.8 332.7a1.6 1.6 0 1 0 3.2 0a1.6 1.6 0 1 0 -3.2 0M323.1 331.7a1.6 1.6 0 1 0 3.2 0a1.6 1.6 0 1 0 -3.2 0M303.5 350.3a1.6 1.6 0 1 0 3.2 0a1.6 1.6 0 1 0 -3.2 0M286.6 357.4a1.6 1.6 0 1 0 3.2 0a1.6 1.6 0 1 0 -3.2 0M287.6 348.9a1.6 1.6 0 1 0 3.2 0a1.6 1.6 0 1 0 -3.2 0M292.4 359.3a1.6 1.6 0 1 0 3.2 0a1.6 1.6 0 1 0 -3.2 0M350.4 354.5a1.6 1.6 0 1 0 3.2 0a1.6 1.6 0 1 0 -3.2 0M357 360.2a1.6 1.6 0 1 0 3.2 0a1.6 1.6 0 1 0 -3.2 0M339.2 346a1.6 1.6 0 1 0 3.2 0a1.6 1.6 0 1 0 -3.2 0M373.1 349.6a1.6 1.6 0 1 0 3.2 0a1.6 1.6 0 1 0 -3.2 0M358.9 333.3a1.6 1.6 0 1 0 3.2 0a1.6 1.6 0 1 0 -3.2 0M419.8 335.3a1.6 1.6 0 1 0 3.2 0a1.6 1.6 0 1 0 -3.2 0M402.5 357.9a1.6 1.6 0 1 0 3.2 0a1.6 1.6 0 1 0 -3.2 0M418 349.5a1.6 1.6 0 1 0 3.2 0a1.6 1.6 0 1 0 -3.2 0M401.6 333.9a1.6 1.6 0 1 0 3.2 0a1.6 1.6 0 1 0 -3.2 0M382.3 329.6a1.6 1.6 0 1 0 3.2 0a1.6 1.6 0 1 0 -3.2 0M433.8 352.6a1.6 1.6 0 1 0 3.2 0a1.6 1.6 0 1 0 -3.2 0M462.3 357.8a1.6 1.6 0 1 0 3.2 0a1.6 1.6 0 1 0 -3.2 0M429.1 355.6a1.6 1.6 0 1 0 3.2 0a1.6 1.6 0 1 0 -3.2 0M440.4 337.8a1.6 1.6 0 1 0 3.2 0a1.6 1.6 0 1 0 -3.2 0M467.5 354.2a1.6 1.6 0 1 0 3.2 0a1.6 1.6 0 1 0 -3.2 0M508.6 336.8a1.6 1.6 0 1 0 3.2 0a1.6 1.6 0 1 0 -3.2 0M485.2 336.1a1.6 1.6 0 1 0 3.2 0a1.6 1.6 0 1 0 -3.2 0M512.2 341.6a1.6 1.6 0 1 0 3.2 0a1.6 1.6 0 1 0 -3.2 0M510.4 353.3a1.6 1.6 0 1 0 3.2 0a1.6 1.6 0 1 0 -3.2 0M486.7 349.3a1.6 1.6 0 1 0 3.2 0a1.6 1.6 0 1 0 -3.2 0M535.2 339.7a1.6 1.6 0 1 0 3.2 0a1.6 1.6 0 1 0 -3.2 0M562.8 363.9a1.6 1.6 0 1 0 3.2 0a1.6 1.6 0 1 0 -3.2 0M527.3 354.1a1.6 1.6 0 1 0 3.2 0a1.6 1.6 0 1 0 -3.2 0M546.3 336.8a1.6 1.6 0 1 0 3.2 0a1.6 1.6 0 1 0 -3.2 0M538.2 359.3a1.6 1.6 0 1 0 3.2 0a1.6 1.6 0 1 0 -3.2 0M609.2 340.1a1.6 1.6 0 1 0 3.2 0a1.6 1.6 0 1 0 -3.2 0M592.1 360.7a1.6 1.6 0 1 0 3.2 0a1.6 1.6 0 1 0 -3.2 0M599.4 340.5a1.6 1.6 0 1 0 3.2 0a1.6 1.6 0 1 0 -3.2 0M603.8 339.6a1.6 1.6 0 1 0 3.2 0a1.6 1.6 0 1 0 -3.2 0M610 332.6a1.6 1.6 0 1 0 3.2 0a1.6 1.6 0 1 0 -3.2 0M664.8 347.7a1.6 1.6 0 1 0 3.2 0a1.6 1.6 0 1 0 -3.2 0M665.8 358.2a1.6 1.6 0 1 0 3.2 0a1.6 1.6 0 1 0 -3.2 0M660.3 354.8a1.6 1.6 0 1 0 3.2 0a1.6 1.6 0 1 0 -3.2 0M648.7 354.9a1.6 1.6 0 1 0 3.2 0a1.6 1.6 0 1 0 -3.2 0M666.1 345.3a1.6 1.6 0 1 0 3.2 0a1.6 1.6 0 1 0 -3.2 0M699.9 351a1.6 1.6 0 1 0 3.2 0a1.6 1.6 0 1 0 -3.2 0M683.8 342.6a1.6 1.6 0 1 0 3.2 0a1.6 1.6 0 1 0 -3.2 0M686.4 345.5a1.6 1.6 0 1 0 3.2 0a1.6 1.6 0 1 0 -3.2 0M677.3 360a1.6 1.6 0 1 0 3.2 0a1.6 1.6 0 1 0 -3.2 0M691.4 350.5a1.6 1.6 0 1 0 3.2 0a1.6 1.6 0 1 0 -3.2 0M740.5 351.1a1.6 1.6 0 1 0 3.2 0a1.6 1.6 0 1 0 -3.2 0M715.2 365.6a1.6 1.6 0 1 0 3.2 0a1.6 1.6 0 1 0 -3.2 0M749.4 353.8a1.6 1.6 0 1 0 3.2 0a1.6 1.6 0 1 0 -3.2 0M716.7 367.4a1.6 1.6 0 1 0 3.2 0a1.6 1.6 0 1 0 -3.2 0M738.3 341.3a1.6 1.6 0 1 0 3.2 0a1.6 1.6 0 1 0 -3.2 0M806.4 363.7a1.6 1.6 0 1 0 3.2 0a1.6 1.6 0 1 0 -3.2 0M803.1 342.5a1.6 1.6 0 1 0 3.2 0a1.6 1.6 0 1 0 -3.2 0M770.6 356.4a1.6 1.6 0 1 0 3.2 0a1.6 1.6 0 1 0 -3.2 0M791.4 349.8a1.6 1.6 0 1 0 3.2 0a1.6 1.6 0 1 0 -3.2 0M786.7 370.1a1.6 1.6 0 1 0 3.2 0a1.6 1.6 0 1 0 -3.2 0M814.3 365a1.6 1.6 0 1 0 3.2 0a1.6 1.6 0 1 0 -3.2 0M850.4 357a1.6 1.6 0 1 0 3.2 0a1.6 1.6 0 1 0 -3.2 0M851.6 349a1.6 1.6 0 1 0 3.2 0a1.6 1.6 0 1 0 -3.2 0M854.5 357.3a1.6 1.6 0 1 0 3.2 0a1.6 1.6 0 1 0 -3.2 0M844.1 351.3a1.6 1.6 0 1 0 3.2 0a1.6 1.6 0 1 0 -3.2 0M861.2 361.2a1.6 1.6 0 1 0 3.2 0a1.6 1.6 0 1 0 -3.2 0M869.2 347.4a1.6 1.6 0 1 0 3.2 0a1.6 1.6 0 1 0 -3.2 0M902.4 359.7a1.6 1.6 0 1 0 3.2 0a1.6 1.6 0 1 0 -3.2 0M886 360.1a1.6 1.6 0 1 0 3.2 0a1.6 1.6 0 1 0 -3.2 0M886.3 361.3a1.6 1.6 0 1 0 3.2 0a1.6 1.6 0 1 0 -3.2 0M913 345.4a1.6 1.6 0 1 0 3.2 0a1.6 1.6 0 1 0 -3.2 0M943.1 346.6a1.6 1.6 0 1 0 3.2 0a1.6 1.6 0 1 0 -3.2 0M924.8 361.9a1.6 1.6 0 1 0 3.2 0a1.6 1.6 0 1 0 -3.2 0M917.9 343.6a1.6 1.6 0 1 0 3.2 0a1.6 1.6 0 1 0 -3.2 0M917.7 349.7a1.6 1.6 0 1 0 3.2 0a1.6 1.6 0 1 0 -3.2 0M255.8 387.2a1.6 1.6 0 1 0 3.2 0a1.6 1.6 0 1 0 -3.2 0M248.4 380.3a1.6 1.6 0 1 0 3.2 0a1.6 1.6 0 1 0 -3.2 0M221.5 379a1.6 1.6 0 1 0 3.2 0a1.6 1.6 0 1 0 -3.2 0M254.1 379.6a1.6 1.6 0 1 0 3.2 0a1.6 1.6 0 1 0 -3.2 0M226.2 370a1.6 1.6 0 1 0 3.2 0a1.6 1.6 0 1 0 -3.2 0M311 364a1.6 1.6 0 1 0 3.2 0a1.6 1.6 0 1 0 -3.2 0M281.2 383.7a1.6 1.6 0 1 0 3.2 0a1.6 1.6 0 1 0 -3.2 0M274.4 373.2a1.6 1.6 0 1 0 3.2 0a1.6 1.6 0 1 0 -3.2 0M270.6 385.9a1.6 1.6 0 1 0 3.2 0a1.6 1.6 0 1 0 -3.2 0M301.8 367.7a1.6 1.6 0 1 0 3.2 0a1.6 1.6 0 1 0 -3.2 0M341.1 367.1a1.6 1.6 0 1 0 3.2 0a1.6 1.6 0 1 0 -3.2 0M323.1 378.2a1.6 1.6 0 1 0 3.2 0a1.6 1.6 0 1 0 -3.2 0M333.6 376.9a1.6 1.6 0 1 0 3.2 0a1.6 1.6 0 1 0 -3.2 0M334 370.1a1.6 1.6 0 1 0 3.2 0a1.6 1.6 0 1 0 -3.2 0M333.3 386.2a1.6 1.6 0 1 0 3.2 0a1.6 1.6 0 1 0 -3.2 0M389.1 372.3a1.6 1.6 0 1 0 3.2 0a1.6 1.6 0 1 0 -3.2 0M384.4 377.4a1.6 1.6 0 1 0 3.2 0a1.6 1.6 0 1 0 -3.2 0M377.5 363.8a1.6 1.6 0 1 0 3.2 0a1.6 1.6 0 1 0 -3.2 0M369.8 367.2a1.6 1.6 0 1 0 3.2 0a1.6 1.6 0 1 0 -3.2 0M370.1 382a1.6 1.6 0 1 0 3.2 0a1.6 1.6 0 1 0 -3.2 0M428.4 367.2a1.6 1.6 0 1 0 3.2 0a1.6 1.6 0 1 0 -3.2 0M446.5 358.9a1.6 1.6 0 1 0 3.2 0a1.6 1.6 0 1 0 -3.2 0M441.6 359.9a1.6 1.6 0 1 0 3.2 0a1.6 1.6 0 1 0 -3.2 0M416.9 373.5a1.6 1.6 0 1 0 3.2 0a1.6 1.6 0 1 0 -3.2 0M421.4 386.9a1.6 1.6 0 1 0 3.2 0a1.6 1.6 0 1 0 -3.2 0M481.9 386.2a1.6 1.6 0 1 0 3.2 0a1.6 1.6 0 1 0 -3.2 0M496.1 371.9a1.6 1.6 0 1 0 3.2 0a1.6 1.6 0 1 0 -3.2 0M504.1 375a1.6 1.6 0 1 0 3.2 0a1.6 1.6 0 1 0 -3.2 0M489.2 363.3a1.6 1.6 0 1 0 3.2 0a1.6 1.6 0 1 0 -3.2 0M506.4 390.4a1.6 1.6 0 1 0 3.2 0a1.6 1.6 0 1 0 -3.2 0M546.8 368.8a1.6 1.6 0 1 0 3.2 0a1.6 1.6 0 1 0 -3.2 0M539.9 372.9a1.6 1.6 0 1 0 3.2 0a1.6 1.6 0 1 0 -3.2 0M548 365a1.6 1.6 0 1 0 3.2 0a1.6 1.6 0 1 0 -3.2 0M534.8 371.5a1.6 1.6 0 1 0 3.2 0a1.6 1.6 0 1 0 -3.2 0M547.1 371.8a1.6 1.6 0 1 0 3.2 0a1.6 1.6 0 1 0 -3.2 0M580.8 384.8a1.6 1.6 0 1 0 3.2 0a1.6 1.6 0 1 0 -3.2 0M561.6 370.8a1.6 1.6 0 1 0 3.2 0a1.6 1.6 0 1 0 -3.2 0M604.5 372.5a1.6 1.6 0 1 0 3.2 0a1.6 1.6 0 1 0 -3.2 0M573.3 383.1a1.6 1.6 0 1 0 3.2 0a1.6 1.6 0 1 0 -3.2 0M593.3 369.8a1.6 1.6 0 1 0 3.2 0a1.6 1.6 0 1 0 -3.2 0M618.1 391.6a1.6 1.6 0 1 0 3.2 0a1.6 1.6 0 1 0 -3.2 0M618.1 370.9a1.6 1.6 0 1 0 3.2 0a1.6 1.6 0 1 0 -3.2 0M646.3 396.6a1.6 1.6 0 1 0 3.2 0a1.6 1.6 0 1 0 -3.2 0M639.7 368.8a1.6 1.6 0 1 0 3.2 0a1.6 1.6 0 1 0 -3.2 0M628.3 384.3a1.6 1.6 0 1 0 3.2 0a1.6 1.6 0 1 0 -3.2 0M670 385a1.6 1.6 0 1 0 3.2 0a1.6 1.6 0 1 0 -3.2 0M680.3 390.4a1.6 1.6 0 1 0 3.2 0a1.6 1.6 0 1 0 -3.2 0M690.9 388.5a1.6 1.6 0 1 0 3.2 0a1.6 1.6 0 1 0 -3.2 0M655.9 389.6a1.6 1.6 0 1 0 3.2 0a1.6 1.6 0 1 0 -3.2 0M681.8 368.8a1.6 1.6 0 1 0 3.2 0a1.6 1.6 0 1 0 -3.2 0M709.2 394.7a1.6 1.6 0 1 0 3.2 0a1.6 1.6 0 1 0 -3.2 0M704.4 383.8a1.6 1.6 0 1 0 3.2 0a1.6 1.6 0 1 0 -3.2 0M734.8 381.4a1.6 1.6 0 1 0 3.2 0a1.6 1.6 0 1 0 -3.2 0M730.3 390.6a1.6 1.6 0 1 0 3.2 0a1.6 1.6 0 1 0 -3.2 0M710.5 372a1.6 1.6 0 1 0 3.2 0a1.6 1.6 0 1 0 -3.2 0M760.7 378.9a1.6 1.6 0 1 0 3.2 0a1.6 1.6 0 1 0 -3.2 0M771.5 394.9a1.6 1.6 0 1 0 3.2 0a1.6 1.6 0 1 0 -3.2 0M753.1 392.2a1.6 1.6 0 1 0 3.2 0a1.6 1.6 0 1 0 -3.2 0M754.4 395.4a1.6 1.6 0 1 0 3.2 0a1.6 1.6 0 1 0 -3.2 0M755.3 384.8a1.6 1.6 0 1 0 3.2 0a1.6 1.6 0 1 0 -3.2 0M800.1 395.7a1.6 1.6 0 1 0 3.2 0a1.6 1.6 0 1 0 -3.2 0M821.6 387.8a1.6 1.6 0 1 0 3.2 0a1.6 1.6 0 1 0 -3.2 0M803.5 384.5a1.6 1.6 0 1 0 3.2 0a1.6 1.6 0 1 0 -3.2 0M814.3 372a1.6 1.6 0 1 0 3.2 0a1.6 1.6 0 1 0 -3.2 0M833.6 365.1a1.6 1.6 0 1 0 3.2 0a1.6 1.6 0 1 0 -3.2 0M859.2 369.1a1.6 1.6 0 1 0 3.2 0a1.6 1.6 0 1 0 -3.2 0M860.8 369.7a1.6 1.6 0 1 0 3.2 0a1.6 1.6 0 1 0 -3.2 0M886.8 382a1.6 1.6 0 1 0 3.2 0a1.6 1.6 0 1 0 -3.2 0M856.6 376.6a1.6 1.6 0 1 0 3.2 0a1.6 1.6 0 1 0 -3.2 0M869.6 371.8a1.6 1.6 0 1 0 3.2 0a1.6 1.6 0 1 0 -3.2 0M939.3 370.5a1.6 1.6 0 1 0 3.2 0a1.6 1.6 0 1 0 -3.2 0M921.9 392a1.6 1.6 0 1 0 3.2 0a1.6 1.6 0 1 0 -3.2 0M914.3 396.2a1.6 1.6 0 1 0 3.2 0a1.6 1.6 0 1 0 -3.2 0M934.9 386.1a1.6 1.6 0 1 0 3.2 0a1.6 1.6 0 1 0 -3.2 0M914.5 397.5a1.6 1.6 0 1 0 3.2 0a1.6 1.6 0 1 0 -3.2 0M975.7 371.1a1.6 1.6 0 1 0 3.2 0a1.6 1.6 0 1 0 -3.2 0M957.3 397.4a1.6 1.6 0 1 0 3.2 0a1.6 1.6 0 1 0 -3.2 0M960.5 383.7a1.6 1.6 0 1 0 3.2 0a1.6 1.6 0 1 0 -3.2 0M978.2 391.2a1.6 1.6 0 1 0 3.2 0a1.6 1.6 0 1 0 -3.2 0M967.3 393.9a1.6 1.6 0 1 0 3.2 0a1.6 1.6 0 1 0 -3.2 0" fill="#4CC8D8"/>
<line x1="316" y1="182" x2="316" y2="297" stroke="#111" stroke-width="3.2" stroke-dasharray="7 4"/>
<polygon points="310,295 322,295 316,309" fill="#111" />
<line x1="361" y1="206" x2="361" y2="322" stroke="#111" stroke-width="3.2" stroke-dasharray="7 4"/>
<polygon points="355,320 367,320 361,334" fill="#111" />
<line x1="395" y1="182" x2="395" y2="297" stroke="#111" stroke-width="3.2" stroke-dasharray="7 4"/>
<polygon points="389,295 401,295 395,309" fill="#111" />
<line x1="430" y1="223" x2="430" y2="338" stroke="#111" stroke-width="3.2" stroke-dasharray="7 4"/>
<polygon points="424,336 436,336 430,350" fill="#111" />
<line x1="457" y1="195" x2="457" y2="310" stroke="#111" stroke-width="3.2" stroke-dasharray="7 4"/>
<polygon points="451,308 463,308 457,322" fill="#111" />
<line x1="484" y1="202" x2="484" y2="318" stroke="#111" stroke-width="3.2" stroke-dasharray="7 4"/>
<polygon points="478,316 490,316 484,330" fill="#111" />
<line x1="530" y1="228" x2="530" y2="344" stroke="#111" stroke-width="3.2" stroke-dasharray="7 4"/>
<polygon points="524,342 536,342 530,356" fill="#111" />
<line x1="603" y1="208" x2="603" y2="324" stroke="#111" stroke-width="3.2" stroke-dasharray="7 4"/>
<polygon points="597,322 609,322 603,336" fill="#111" />
<line x1="679" y1="206" x2="679" y2="322" stroke="#111" stroke-width="3.2" stroke-dasharray="7 4"/>
<polygon points="673,320 685,320 679,334" fill="#111" />
<text x="526" y="97" font-family="'Liberation Sans', sans-serif" font-size="34" font-weight="bold" fill="#111" text-anchor="start" textLength="140" lengthAdjust="spacingAndGlyphs">Cathode</text>
<text x="240" y="212" font-family="'Liberation Sans', sans-serif" font-size="22" font-weight="bold" fill="#111" text-anchor="start" textLength="56" lengthAdjust="spacingAndGlyphs">Zn<tspan font-size="14" dy="-8">2+</tspan></text>
<text x="768" y="243" font-family="'Liberation Sans', sans-serif" font-size="33" font-weight="bold" fill="#111" text-anchor="start" textLength="124" lengthAdjust="spacingAndGlyphs">H<tspan font-size="22" dy="6">2</tspan><tspan dy="-6">-free</tspan></text>
<text x="655" y="421" font-family="'Liberation Serif', serif" font-size="34" font-weight="bold" fill="#111" text-anchor="start" textLength="276" lengthAdjust="spacingAndGlyphs">MIL-125(Ti)-Zn</text>
<text x="357" y="434" font-family="'Liberation Sans', sans-serif" font-size="32" font-weight="bold" fill="#F6F0F8" text-anchor="start" textLength="317" lengthAdjust="spacingAndGlyphs">uniform deposition</text>
<text x="117" y="467" font-family="'Liberation Sans', sans-serif" font-size="33" font-weight="bold" fill="#F6F0F8" text-anchor="start" textLength="257" lengthAdjust="spacingAndGlyphs">Zn metal anode</text>
<text x="16.4" y="59.5" font-family="'Liberation Serif', serif" font-size="66" font-weight="bold" fill="#000" text-anchor="start" >(a)</text>
<rect x="1109" y="10" width="622" height="484" fill="#666666" />
<polygon points="1272,64 1640,108 1590,462 1222,418" fill="#575757" filter="url(#blur8)"/>
<polygon points="1279,73 1626,115 1576,448 1234,406" fill="url(#gSq)" filter="url(#blur2)"/>
<ellipse cx="1434" cy="252" rx="134" ry="121" fill="url(#gEll)"/>
<text x="1581" y="434" font-family="'Liberation Sans', sans-serif" font-size="56" font-weight="bold" fill="#F4F4F4" text-anchor="start" textLength="131" lengthAdjust="spacingAndGlyphs">2 µm</text>
<rect x="1586" y="451" width="129" height="23" fill="#F4F4F4" />
<text x="1114.3" y="69.9" font-family="'Liberation Serif', serif" font-size="68" font-weight="bold" fill="#FFFFFF" text-anchor="start" >(b)</text>
<rect x="1761" y="13" width="311" height="239" fill="#061418" />
<g clip-path="url(#clipcf0)">
<rect x="1761" y="13" width="311" height="239" fill="#3AAFD2" filter="url(#speck)" opacity="0.2"/>
<polygon points="1848,49 2028,75 2008,235 1824,216" fill="#3AAFD2" filter="url(#edsblur)"/>
<polygon points="1848,49 2028,75 2008,235 1824,216" fill="#000" filter="url(#speck2)" opacity="0.45"/>
</g>
<text x="1764.3" y="67.2" font-family="'Liberation Serif', serif" font-size="67" font-weight="bold" fill="#FFFFFF" text-anchor="start" >(c)</text>
<text x="1778" y="240" font-family="'Liberation Serif', serif" font-size="38" font-weight="bold" fill="#25A8D0" text-anchor="start" >Ti</text>
<rect x="2075" y="13" width="309" height="239" fill="#050400" />
<g clip-path="url(#clipcf1)">
<rect x="2075" y="13" width="309" height="239" fill="#443A0A" filter="url(#speck)" opacity="0.12"/>
<polygon points="2160,52 2335,75 2318,232 2140,214" fill="#443A0A" filter="url(#edsblur)"/>
<polygon points="2160,52 2335,75 2318,232 2140,214" fill="#000" filter="url(#speck2)" opacity="0.7"/>
</g>
<text x="2082.3" y="70.2" font-family="'Liberation Serif', serif" font-size="67" font-weight="bold" fill="#FFFFFF" text-anchor="start" >(d)</text>
<text x="2092" y="240" font-family="'Liberation Serif', serif" font-size="38" font-weight="bold" fill="#CC8410" text-anchor="start" >Zn</text>
<rect x="1761" y="257" width="311" height="238" fill="#1E0201" />
<g clip-path="url(#clipcf2)">
<rect x="1761" y="257" width="311" height="238" fill="#F21A14" filter="url(#speck)" opacity="0.2"/>
<polygon points="1848,288 2025,304 2008,471 1828,451" fill="#F21A14" filter="url(#edsblur)"/>
<polygon points="1848,288 2025,304 2008,471 1828,451" fill="#000" filter="url(#speck2)" opacity="0.45"/>
</g>
<text x="1762.3" y="308.2" font-family="'Liberation Serif', serif" font-size="67" font-weight="bold" fill="#FFFFFF" text-anchor="start" >(e)</text>
<text x="1778" y="484" font-family="'Liberation Serif', serif" font-size="38" font-weight="bold" fill="#E01010" text-anchor="start" >C</text>
<rect x="2079" y="257" width="305" height="238" fill="#011204" />
<g clip-path="url(#clipcf3)">
<rect x="2079" y="257" width="305" height="238" fill="#22A82A" filter="url(#speck)" opacity="0.2"/>
<polygon points="2162,288 2338,304 2322,461 2142,448" fill="#22A82A" filter="url(#edsblur)"/>
<polygon points="2162,288 2338,304 2322,461 2142,448" fill="#000" filter="url(#speck2)" opacity="0.45"/>
</g>
<text x="2081.3" y="311.2" font-family="'Liberation Serif', serif" font-size="67" font-weight="bold" fill="#FFFFFF" text-anchor="start" >(f)</text>
<text x="2095" y="484" font-family="'Liberation Serif', serif" font-size="38" font-weight="bold" fill="#0E9A3A" text-anchor="start" >O</text>
<polygon points="117,731 120.2,733.1 123.5,735.2 126.7,737.3 129.9,739.4 133.2,741.5 136.4,743.6 139.7,745.7 142.9,746.9 146.1,748.3 149.4,747 152.6,746.1 155.8,747.4 159.1,745.8 162.3,745.8 165.6,747.6 168.8,748.4 172,747.5 175.3,746 178.5,747.1 181.8,746.1 185,745.6 188.2,746.8 191.5,747.1 194.7,747 197.9,746.9 201.2,748.5 204.4,748 207.7,746.4 210.9,746.4 214.1,747.8 217.4,748 220.6,748.4 223.8,745.5 227.1,748.2 230.3,748.4 233.6,745.7 236.8,747.8 240,745.8 243.3,748.4 246.5,745.9 249.7,745.8 253,747.9 256.2,747.2 259.4,746.1 262.7,745.9 265.9,745.8 269.2,746.1 272.4,748.4 275.6,746.4 278.9,746.1 282.1,748.1 285.4,745.8 288.6,746.1 291.8,747.8 295.1,746.4 298.3,745.8 301.5,746.2 304.8,746.6 308,748.4 311.2,747.2 314.5,746 317.7,748.2 321,746.2 324.2,747.7 327.4,746.1 330.7,748.1 333.9,746.8 337.1,745.6 340.4,746.2 343.6,746.3 346.9,747.3 350.1,746 353.3,745.7 356.6,747.2 359.8,738.8 363.1,740.1 366.3,736.5 369.5,738.3 372.8,737.2 376,738.8 379.2,738 382.5,740.6 385.7,739.4 388.9,737.3 392.2,736.8 395.4,739.6 398.7,736.9 401.9,738.8 405.1,738.2 408.4,737.3 411.6,740 414.9,740.1 418.1,740.3 421.3,738.6 424.6,740.9 427.8,739 431,740.8 434.3,739.9 437.5,739.8 440.8,737.9 444,741.6 447.2,740.6 450.5,740.7 453.7,739.5 456.9,738.2 460.2,738 463.4,739.9 466.6,740.8 469.9,740.5 473.1,739.2 476.4,739.4 479.6,739.1 482.8,741.9 486.1,740.1 489.3,739.7 492.6,739.3 495.8,741.8 499,742.1 502.3,741 505.5,739.2 508.7,742.1 512,741.7 515.2,740 518.5,740.7 521.7,739.8 524.9,741.5 528.2,740.3 531.4,743 534.6,739.5 537.9,742.7 541.1,742.1 544.4,740.5 547.6,739.4 550.8,741.2 554.1,742.7 557.3,740 560.5,742 563.8,742.1 567,742.8 570.2,742.4 573.5,741.6 576.7,739.7 580,742.6 583.2,740.8 586.4,742.6 589.7,742.3 592.9,741.4 596.1,743.5 599.4,743.6 602.6,740.4 605.9,742.4 609.1,741.4 612.3,743.5 615.6,743.7 618.8,742.6 622,742.9 625.3,742.5 628.5,740.8 631.8,743.9 635,742.1 638.2,741.3 641.5,743.4 644.7,740.3 648,742.2 651.2,741.9 654.4,743.2 657.7,743.2 660.9,741.3 664.1,740.5 667.4,742 670.6,743.3 673.9,743.7 677.1,743.7 680.3,740.8 683.6,741 686.8,742.4 690,743.2 693.3,741 696.5,743.1 699.8,740.6 703,743.6 706.2,741.9 709.5,741.8 712.7,742 715.9,743.4 719.2,741.1 722.4,741.7 725.6,742.2 728.9,741.5 732.1,743.2 735.4,740.4 738.6,739.8 741.8,742.5 745.1,741.1 748.3,739.9 751.5,742.8 754.8,742.1 758,739.7 761.3,741.7 764.5,740.3 767.7,739.2 771,739.3 774.2,739.7 777.5,740.8 780.7,740.1 783.9,740.7 787.2,739.3 790.4,741 793.6,741.8 796.9,741.7 800.1,741.2 803.4,741.8 806.6,739.4 809.8,739 813.1,741.6 816.3,738.9 819.5,738.9 822.8,741.2 826,741 829.2,739.3 832.5,737.7 835.7,740.3 839,741.4 842.2,739.5 845.4,739.5 848.7,738.1 851.9,737.8 855.1,739.5 858.4,739.5 861.6,737.9 864.9,740.5 868.1,740.8 871.3,737.3 874.6,738.8 877.8,738.2 881,738.9 884.3,739.2 887.5,739.6 890.8,737.5 894,739.6 897.2,737.4 900.5,738.7 903.7,740.1 907,739.3 910.2,739 913.4,738.8 916.7,740.3 919.9,737.4 923.1,739.3 926.4,739.6 929.6,739.9 932.9,739 936.1,739.3 939.3,739.1 942.6,737.5 945.8,736.2 949,738.7 952.3,737 955.5,738.8 958.8,738.7 962,738.2 965.2,740 968.5,738.8 971.7,739.9 974.9,738.5 978.2,737 981.4,736.2 984.6,737.5 987.9,737 991.1,738.2 994.4,739.9 997.6,740 1000.8,739.2 1004.1,738.4 1007.3,736.2 1010.5,736.7 1013.8,736.7 1017,738.5 1020.3,739.9 1023.5,738.2 1026.7,737.6 1030,738.8 1033.2,737.3 1036.5,737.4 1039.7,737.2 1042.9,736.9 1046.2,737.8 1049.4,739.3 1052.6,740.3 1055.9,736.6 1059.1,738.1 1062.3,740.3 1065.6,738.6 1068.8,739.2 1072.1,739.8 1075.3,737 1078.5,734.5 1081.8,728.9 1085,726.4 1088.2,724.5 1091.5,726.2 1094.7,730.6 1098,735.4 1101.2,739 1104.4,739.9 1107.7,737.5 1110.9,740.2 1114.2,738.6 1117.4,739.9 1120.6,739.6 1123.9,740.3 1127.1,738.4 1130.3,741.1 1133.6,737.6 1136.8,738.6 1140,738 1143.3,740.3 1146.5,739.2 1149.8,739.1 1153,738.1 1156.2,740.4 1159.5,739.6 1162.7,739.5 1166,739.4 1169.2,741.8 1172.4,738.6 1175.7,740.5 1178.9,739.5 1182.1,741 1185.4,741.3 1188.6,739 1191.8,740 1195.1,740.8 1198.3,742.3 1201.6,739.9 1204.8,742.5 1208,740.2 1211.3,740.4 1214.5,741.1 1217.8,742.3 1221,742 1224.2,739.1 1227.5,741.4 1230.7,742.4 1233.9,742.3 1237.2,742.8 1240.4,739.9 1243.7,740.3 1246.9,741.5 1250.1,740.8 1253.4,741.4 1256.6,742.3 1259.8,742.8 1263.1,742.8 1266.3,743.4 1269.5,742.5 1272.8,741.4 1276,743.7 1279.3,740.5 1282.5,743.6 1285.7,740.2 1289,740.5 1292.2,742.2 1295.5,740.6 1298.7,742.7 1301.9,740.6 1305.2,742.9 1308.4,743.2 1311.6,743.5 1314.9,742.1 1318.1,740.9 1321.3,743.2 1324.6,742.1 1327.8,741.1 1331.1,742.6 1334.3,740 1337.5,741.5 1340.8,742.9 1344,740.6 1347.2,741.3 1350.5,743.5 1353.7,742.5 1357,741 1360.2,740.6 1363.4,740 1366.7,743.3 1369.9,740.2 1373.2,742.8 1376.4,741.8 1379.6,743.7 1382.9,743.3 1386.1,743 1389.3,743.5 1392.6,743.1 1395.8,741.9 1399,740.3 1402.3,740.9 1405.5,739.9 1408.8,741.5 1412,741 1412,836.9 1408.8,836.6 1405.5,834 1402.3,833.5 1399,835.6 1395.8,833.6 1392.6,831.5 1389.3,830.4 1386.1,831.5 1382.9,830.4 1379.6,831.3 1376.4,830.2 1373.2,827.8 1369.9,828.1 1366.7,830.4 1363.4,829.8 1360.2,829 1357,827.3 1353.7,829.1 1350.5,826.2 1347.2,824.3 1344,823.3 1340.8,825 1337.5,825.4 1334.3,823.2 1331.1,821.5 1327.8,824.7 1324.6,821.8 1321.3,820.6 1318.1,818.6 1314.9,823 1311.6,822.8 1308.4,820.5 1305.2,819.6 1301.9,819.4 1298.7,820.9 1295.5,818.9 1292.2,826.1 1289,818 1285.7,820.9 1282.5,817.9 1279.3,819.6 1276,819.3 1272.8,818.1 1269.5,821.3 1266.3,820.4 1263.1,821.3 1259.8,820.4 1256.6,821.6 1253.4,819.6 1250.1,821.7 1246.9,820.6 1243.7,817.8 1240.4,820.4 1237.2,817 1233.9,825.1 1230.7,816.8 1227.5,821.3 1224.2,819 1221,820.7 1217.8,819.1 1214.5,820.2 1211.3,818.1 1208,817.9 1204.8,820.5 1201.6,817.6 1198.3,818.2 1195.1,820.5 1191.8,816.5 1188.6,817.6 1185.4,819.3 1182.1,816.2 1178.9,824.1 1175.7,818.1 1172.4,823.6 1169.2,817.8 1166,818.4 1162.7,818.9 1159.5,816.9 1156.2,819.4 1153,816.1 1149.8,819.3 1146.5,817.9 1143.3,818.3 1140,821.8 1136.8,817.6 1133.6,815.8 1130.3,819.9 1127.1,820.4 1123.9,816.5 1120.6,818.7 1117.4,818.4 1114.2,816.9 1110.9,818.7 1107.7,820 1104.4,816.8 1101.2,822.2 1098,821.7 1094.7,823.3 1091.5,824.7 1088.2,828.5 1085,826.4 1081.8,825.3 1078.5,825.6 1075.3,821.7 1072.1,823.3 1068.8,820 1065.6,820.7 1062.3,817.3 1059.1,818.5 1055.9,820.7 1052.6,820.9 1049.4,816.5 1046.2,820.8 1042.9,820.2 1039.7,816.7 1036.5,816.6 1033.2,820.2 1030,819.4 1026.7,818.1 1023.5,819.8 1020.3,818.9 1017,817.2 1013.8,819.4 1010.5,819.4 1007.3,821.8 1004.1,821 1000.8,817.6 997.6,820.5 994.4,820.2 991.1,820 987.9,822 984.6,818.1 981.4,818.6 978.2,819.7 974.9,821.5 971.7,818 968.5,821.7 965.2,821.2 962,820 958.8,821 955.5,819.9 952.3,823 949,821.5 945.8,820.2 942.6,820.8 939.3,818.9 936.1,820.6 932.9,822.5 929.6,823.1 926.4,820.8 923.1,822.7 919.9,823.4 916.7,822.9 913.4,821.5 910.2,821 907,823.4 903.7,823.1 900.5,819.2 897.2,820 894,821.2 890.8,821.5 887.5,823.5 884.3,819.4 881,821.5 877.8,821.7 874.6,823.2 871.3,824.2 868.1,819.9 864.9,824.4 861.6,820.5 858.4,820.2 855.1,822.1 851.9,819.7 848.7,819.8 845.4,822.9 842.2,823.3 839,820.1 835.7,824 832.5,820.5 829.2,822.9 826,820.1 822.8,821.6 819.5,819.9 816.3,823 813.1,820.1 809.8,824.4 806.6,824 803.4,820.9 800.1,823.3 796.9,820.4 793.6,822.3 790.4,821.8 787.2,822.3 783.9,819.9 780.7,821.1 777.5,821.2 774.2,820 771,821.5 767.7,822.5 764.5,821.9 761.3,820.4 758,819.8 754.8,818.8 751.5,819.2 748.3,821.6 745.1,820.1 741.8,822.9 738.6,820.5 735.4,820.6 732.1,822.8 728.9,820.2 725.6,818.4 722.4,820.5 719.2,822 715.9,820.5 712.7,818 709.5,820.3 706.2,818.7 703,820.2 699.8,821.8 696.5,822 693.3,819.3 690,820.1 686.8,819.9 683.6,820.8 680.3,819.7 677.1,817.5 673.9,819.4 670.6,820.4 667.4,820.5 664.1,817.5 660.9,820.7 657.7,817.5 654.4,816.9 651.2,816.7 648,820.3 644.7,818.6 641.5,818.1 638.2,820.8 635,820.2 631.8,821.1 628.5,820.6 625.3,819.7 622,820.1 618.8,817 615.6,818.3 612.3,819.9 609.1,818.7 605.9,820.4 602.6,818 599.4,819.4 596.1,816.2 592.9,819.6 589.7,819.4 586.4,818.2 583.2,817.3 580,816.5 576.7,817.9 573.5,816.4 570.2,816.5 567,820.3 563.8,818.8 560.5,817.7 557.3,815.7 554.1,816.7 550.8,815.6 547.6,816.2 544.4,819.5 541.1,818.4 537.9,815.7 534.6,815.7 531.4,817.8 528.2,819.8 524.9,818.1 521.7,817.7 518.5,817 515.2,816.5 512,820.4 508.7,820 505.5,818.2 502.3,817.4 499,817.8 495.8,820.4 492.6,818.1 489.3,819.3 486.1,820.5 482.8,819.3 479.6,816.9 476.4,819.5 473.1,816.3 469.9,820.9 466.6,818.8 463.4,817.5 460.2,819.4 456.9,820.2 453.7,820.7 450.5,819.5 447.2,818.6 444,821.1 440.8,820 437.5,819.9 434.3,818.8 431,819.9 427.8,821 424.6,821.5 421.3,820.6 418.1,821.8 414.9,820.9 411.6,821.9 408.4,820.2 405.1,822.5 401.9,821.3 398.7,820.9 395.4,822.6 392.2,822.4 388.9,818.1 385.7,820.9 382.5,821.3 379.2,822.6 376,818.8 372.8,820.1 369.5,818.6 366.3,819.7 363.1,819.4 359.8,819.9 356.6,808.1 353.3,806.2 350.1,807.7 346.9,806.4 343.6,808 340.4,807.6 337.1,808.4 333.9,805.8 330.7,807.3 327.4,808.4 324.2,808.3 321,806.1 317.7,808 314.5,806 311.2,808.1 308,807 304.8,806.9 301.5,807.3 298.3,807.2 295.1,805.7 291.8,806.5 288.6,806.3 285.4,808.5 282.1,807.4 278.9,806.7 275.6,808.2 272.4,807.9 269.2,806.3 265.9,806.8 262.7,807.4 259.4,807.7 256.2,806.8 253,806 249.7,805.7 246.5,806.2 243.3,807.8 240,806.5 236.8,806.3 233.6,807.4 230.3,806.7 227.1,806.9 223.8,806.1 220.6,808 217.4,806.7 214.1,806.7 210.9,805.7 207.7,806.2 204.4,807.6 201.2,808.5 197.9,806.3 194.7,807.5 191.5,807.4 188.2,808 185,806.9 181.8,806.2 178.5,805.7 175.3,805.5 172,807.3 168.8,808.4 165.6,805.6 162.3,807.9 159.1,806.4 155.8,807.9 152.6,807 149.4,807.3 146.1,806.9 142.9,807.2 139.7,807.6 136.4,808.7 133.2,809.8 129.9,810.8 126.7,811.9 123.5,812.9 120.2,814 117,815" fill="#E93A3E" />
<polygon points="118,758 146,756 146,749 159,749 159,562 174,562 174,763 185,763 187,775 201,775 201,780 187,780 185,795 172,795 172,788 159,788 159,806 146,806 146,797 118,797" fill="#2F3A86" />
<polygon points="118,760 148,762 150,775 153,778 148,790 118,792" fill="#5E5E66" />
<rect x="117" y="562" width="1295" height="431" fill="none" stroke="#000" stroke-width="3.5"/>
<line x1="117" y1="993" x2="126" y2="993" stroke="#000" stroke-width="2.5" />
<line x1="117" y1="971.5" x2="122" y2="971.5" stroke="#000" stroke-width="2.5" />
<line x1="117" y1="949.9" x2="126" y2="949.9" stroke="#000" stroke-width="2.5" />
<line x1="117" y1="928.4" x2="122" y2="928.4" stroke="#000" stroke-width="2.5" />
<line x1="117" y1="906.8" x2="126" y2="906.8" stroke="#000" stroke-width="2.5" />
<line x1="117" y1="885.2" x2="122" y2="885.2" stroke="#000" stroke-width="2.5" />
<line x1="117" y1="863.7" x2="126" y2="863.7" stroke="#000" stroke-width="2.5" />
<line x1="117" y1="842.1" x2="122" y2="842.1" stroke="#000" stroke-width="2.5" />
<line x1="117" y1="820.6" x2="126" y2="820.6" stroke="#000" stroke-width="2.5" />
<line x1="117" y1="799" x2="122" y2="799" stroke="#000" stroke-width="2.5" />
<line x1="117" y1="777.5" x2="126" y2="777.5" stroke="#000" stroke-width="2.5" />
<line x1="117" y1="756" x2="122" y2="756" stroke="#000" stroke-width="2.5" />
<line x1="117" y1="734.4" x2="126" y2="734.4" stroke="#000" stroke-width="2.5" />
<line x1="117" y1="712.8" x2="122" y2="712.8" stroke="#000" stroke-width="2.5" />
<line x1="117" y1="691.3" x2="126" y2="691.3" stroke="#000" stroke-width="2.5" />
<line x1="117" y1="669.8" x2="122" y2="669.8" stroke="#000" stroke-width="2.5" />
<line x1="117" y1="648.2" x2="126" y2="648.2" stroke="#000" stroke-width="2.5" />
<line x1="117" y1="626.6" x2="122" y2="626.6" stroke="#000" stroke-width="2.5" />
<line x1="117" y1="605.1" x2="126" y2="605.1" stroke="#000" stroke-width="2.5" />
<line x1="117" y1="583.5" x2="122" y2="583.5" stroke="#000" stroke-width="2.5" />
<line x1="117" y1="562" x2="126" y2="562" stroke="#000" stroke-width="2.5" />
<line x1="117" y1="993" x2="117" y2="984" stroke="#000" stroke-width="2.5" />
<line x1="209.5" y1="993" x2="209.5" y2="988" stroke="#000" stroke-width="2.5" />
<line x1="302" y1="993" x2="302" y2="984" stroke="#000" stroke-width="2.5" />
<line x1="394.5" y1="993" x2="394.5" y2="988" stroke="#000" stroke-width="2.5" />
<line x1="487" y1="993" x2="487" y2="984" stroke="#000" stroke-width="2.5" />
<line x1="579.5" y1="993" x2="579.5" y2="988" stroke="#000" stroke-width="2.5" />
<line x1="672" y1="993" x2="672" y2="984" stroke="#000" stroke-width="2.5" />
<line x1="764.5" y1="993" x2="764.5" y2="988" stroke="#000" stroke-width="2.5" />
<line x1="857" y1="993" x2="857" y2="984" stroke="#000" stroke-width="2.5" />
<line x1="949.5" y1="993" x2="949.5" y2="988" stroke="#000" stroke-width="2.5" />
<line x1="1042" y1="993" x2="1042" y2="984" stroke="#000" stroke-width="2.5" />
<line x1="1134.5" y1="993" x2="1134.5" y2="988" stroke="#000" stroke-width="2.5" />
<line x1="1227" y1="993" x2="1227" y2="984" stroke="#000" stroke-width="2.5" />
<line x1="1319.5" y1="993" x2="1319.5" y2="988" stroke="#000" stroke-width="2.5" />
<line x1="1412" y1="993" x2="1412" y2="984" stroke="#000" stroke-width="2.5" />
<text x="108" y="1000" font-family="'Liberation Serif', serif" font-size="21" font-weight="bold" fill="#111" text-anchor="end" >-0.5</text>
<text x="108" y="956.9" font-family="'Liberation Serif', serif" font-size="21" font-weight="bold" fill="#111" text-anchor="end" >-0.4</text>
<text x="108" y="913.8" font-family="'Liberation Serif', serif" font-size="21" font-weight="bold" fill="#111" text-anchor="end" >-0.3</text>
<text x="108" y="870.7" font-family="'Liberation Serif', serif" font-size="21" font-weight="bold" fill="#111" text-anchor="end" >-0.2</text>
<text x="108" y="827.6" font-family="'Liberation Serif', serif" font-size="21" font-weight="bold" fill="#111" text-anchor="end" >-0.1</text>
<text x="108" y="784.5" font-family="'Liberation Serif', serif" font-size="21" font-weight="bold" fill="#111" text-anchor="end" >0.0</text>
<text x="108" y="741.4" font-family="'Liberation Serif', serif" font-size="21" font-weight="bold" fill="#111" text-anchor="end" >0.1</text>
<text x="108" y="698.3" font-family="'Liberation Serif', serif" font-size="21" font-weight="bold" fill="#111" text-anchor="end" >0.2</text>
<text x="108" y="655.2" font-family="'Liberation Serif', serif" font-size="21" font-weight="bold" fill="#111" text-anchor="end" >0.3</text>
<text x="108" y="612.1" font-family="'Liberation Serif', serif" font-size="21" font-weight="bold" fill="#111" text-anchor="end" >0.4</text>
<text x="108" y="569" font-family="'Liberation Serif', serif" font-size="21" font-weight="bold" fill="#111" text-anchor="end" >0.5</text>
<text x="117" y="1020" font-family="'Liberation Serif', serif" font-size="21" font-weight="bold" fill="#111" text-anchor="middle" >0</text>
<text x="302" y="1020" font-family="'Liberation Serif', serif" font-size="21" font-weight="bold" fill="#111" text-anchor="middle" >300</text>
<text x="487" y="1020" font-family="'Liberation Serif', serif" font-size="21" font-weight="bold" fill="#111" text-anchor="middle" >600</text>
<text x="672" y="1020" font-family="'Liberation Serif', serif" font-size="21" font-weight="bold" fill="#111" text-anchor="middle" >900</text>
<text x="857" y="1020" font-family="'Liberation Serif', serif" font-size="21" font-weight="bold" fill="#111" text-anchor="middle" >1200</text>
<text x="1042" y="1020" font-family="'Liberation Serif', serif" font-size="21" font-weight="bold" fill="#111" text-anchor="middle" >1500</text>
<text x="1227" y="1020" font-family="'Liberation Serif', serif" font-size="21" font-weight="bold" fill="#111" text-anchor="middle" >1800</text>
<text x="1412" y="1020" font-family="'Liberation Serif', serif" font-size="21" font-weight="bold" fill="#111" text-anchor="middle" >2100</text>
<text x="0" y="0" font-family="'Liberation Serif', serif" font-size="26" font-weight="bold" fill="#111" text-anchor="middle" transform="translate(54 766) rotate(-90)" textLength="110" lengthAdjust="spacingAndGlyphs">Voltage(V)</text>
<line x1="1113" y1="602.5" x2="1163" y2="602.5" stroke="#555555" stroke-width="2.5" />
<text x="1169" y="609.5" font-family="'Liberation Serif', serif" font-size="21" font-weight="bold" fill="#444" text-anchor="start" >Zn</text>
<line x1="1113" y1="631" x2="1163" y2="631" stroke="#2B3990" stroke-width="2.5" />
<text x="1169" y="638" font-family="'Liberation Serif', serif" font-size="21" font-weight="bold" fill="#2B3990" text-anchor="start" >MIL-125(Ti)</text>
<line x1="1113" y1="659.5" x2="1163" y2="659.5" stroke="#EE3A3A" stroke-width="2.5" />
<text x="1169" y="666.5" font-family="'Liberation Serif', serif" font-size="21" font-weight="bold" fill="#EE3A3A" text-anchor="start" >MIL-125(Ti)-Zn</text>
<rect x="216" y="582" width="324" height="107" fill="#FFFFFF" />
<polyline points="216,651.5 219.4,653.8 222.8,651.5 226.1,649.7 229.5,648.9 232.9,648 236.2,647.2 239.6,646.4 243,646.1 246.4,646.1 249.8,646 253.1,645.9 256.5,645.8 259.9,645.7 263.2,645.7 266.6,645.6 270,645.5 273.4,645.4 276.8,645.3 280.1,645.3 283.5,645.2 286.9,645.1 290.2,645 293.6,644.9 297,644.9 297,630.1 300.4,630.5 303.8,630.8 307.1,631.2 310.5,631.5 313.9,631.7 317.2,631.4 320.6,631.1 324,630.8 327.4,630.5 330.8,630.2 334.1,629.9 337.5,629.5 340.9,629.2 344.2,628.9 347.6,628.6 351,628.3 354.4,628 357.8,627.7 361.1,627.4 364.5,627.1 367.9,626.8 371.2,626.5 374.6,626.2 378,625.9 378,642.2 381.4,642.3 384.8,642.5 388.1,642.6 391.5,642.7 394.9,642.9 398.2,643 401.6,643.1 405,643.3 408.4,643.4 411.8,643.5 415.1,643.7 418.5,643.8 421.9,643.9 425.2,644.1 428.6,644.2 432,644.3 435.4,644.5 438.8,644.6 442.1,644.7 445.5,644.9 448.9,645 452.2,645.1 455.6,645.3 459,645.4 459,630.1 462.4,630.4 465.8,630.6 469.1,630.8 472.5,631 475.9,631.3 479.2,631.5 482.6,631.7 486,631.5 489.4,631.2 492.8,630.8 496.1,630.5 499.5,630.1 502.9,629.8 506.2,629.5 509.6,629.1 513,628.8 516.4,628.5 519.8,628.1 523.1,627.8 526.5,627.5 529.9,627.1 533.2,626.8 536.6,626.5 540,626.1" fill="none" stroke="#666666" stroke-width="2.2" stroke-linejoin="round"/>
<polyline points="216,654.2 219.4,652 222.8,649.8 226.1,648.4 229.5,647.7 232.9,647 236.2,646.3 239.6,645.5 243,645.3 246.4,645.3 249.8,645.2 253.1,645.2 256.5,645.1 259.9,645 263.2,645 266.6,644.9 270,644.8 273.4,644.8 276.8,644.7 280.1,644.6 283.5,644.6 286.9,644.5 290.2,644.5 293.6,644.4 297,644.3 297,629.6 300.4,630 303.8,630.4 307.1,630.8 310.5,631.2 313.9,631.4 317.2,631.1 320.6,630.7 324,630.4 327.4,630 330.8,629.7 334.1,629.3 337.5,629 340.9,628.6 344.2,628.3 347.6,627.9 351,627.6 354.4,627.2 357.8,626.9 361.1,626.5 364.5,626.2 367.9,625.8 371.2,625.5 374.6,625.1 378,624.8 378,643 381.4,643.1 384.8,643.3 388.1,643.4 391.5,643.5 394.9,643.7 398.2,643.8 401.6,643.9 405,644.1 408.4,644.2 411.8,644.3 415.1,644.5 418.5,644.6 421.9,644.7 425.2,644.9 428.6,645 432,645.1 435.4,645.3 438.8,645.4 442.1,645.5 445.5,645.7 448.9,645.8 452.2,645.9 455.6,646.1 459,646.2 459,629.6 462.4,629.9 465.8,630.1 469.1,630.4 472.5,630.7 475.9,630.9 479.2,631.2 482.6,631.4 486,631.2 489.4,630.8 492.8,630.5 496.1,630.1 499.5,629.7 502.9,629.4 506.2,629 509.6,628.6 513,628.3 516.4,627.9 519.8,627.5 523.1,627.2 526.5,626.8 529.9,626.4 533.2,626.1 536.6,625.7 540,625.3" fill="none" stroke="#2B3990" stroke-width="2.2" stroke-linejoin="round"/>
<polyline points="216,670.3 219.4,667.3 222.8,665.7 226.1,664.4 229.5,663.4 232.9,662.9 236.2,662.3 239.6,661.7 243,661.3 246.4,661 249.8,660.7 253.1,660.4 256.5,660 259.9,659.9 263.2,659.7 266.6,659.5 270,659.3 273.4,659.1 276.8,659 280.1,658.8 283.5,658.7 286.9,658.6 290.2,658.5 293.6,658.4 297,658.2 297,623.5 300.4,622.1 303.8,620.8 307.1,620 310.5,619.5 313.9,618.9 317.2,618.4 320.6,617.9 324,617.4 327.4,616.9 330.8,616.4 334.1,615.9 337.5,615.4 340.9,614.7 344.2,613.9 347.6,613.1 351,612.3 354.4,611.5 357.8,610.8 361.1,610 364.5,609.2 367.9,608.4 371.2,607.6 374.6,606.9 378,606.1 378,648.9 381.4,651.7 384.8,654.4 388.1,656.1 391.5,656.9 394.9,657.8 398.2,658.6 401.6,659.5 405,660.3 408.4,660.5 411.8,660.2 415.1,659.8 418.5,659.5 421.9,659.2 425.2,658.9 428.6,658.6 432,658.3 435.4,658 438.8,657.7 442.1,657.4 445.5,657.1 448.9,656.8 452.2,656.4 455.6,656.1 459,655.8 459,626.1 462.4,624.7 465.8,623.2 469.1,622.3 472.5,621.7 475.9,621.2 479.2,620.6 482.6,620 486,619.5 489.4,618.9 492.8,618.3 496.1,617.8 499.5,617.2 502.9,616.6 506.2,616.1 509.6,615.5 513,614.9 516.4,614.3 519.8,613.8 523.1,613.2 526.5,612.6 529.9,612.1 533.2,611.5 536.6,610.9 540,610.4" fill="none" stroke="#EE3A3A" stroke-width="2.2" stroke-linejoin="round"/>
<rect x="216" y="582" width="324" height="107" fill="none" stroke="#444" stroke-width="1.8"/>
<line x1="216" y1="689" x2="220" y2="689" stroke="#444" stroke-width="1.5" />
<text x="213" y="694" font-family="'Liberation Serif', serif" font-size="13.5" font-weight="bold" fill="#333" text-anchor="end" >-0.2</text>
<line x1="216" y1="662.2" x2="220" y2="662.2" stroke="#444" stroke-width="1.5" />
<text x="213" y="667.2" font-family="'Liberation Serif', serif" font-size="13.5" font-weight="bold" fill="#333" text-anchor="end" >-0.1</text>
<line x1="216" y1="635.5" x2="220" y2="635.5" stroke="#444" stroke-width="1.5" />
<text x="213" y="640.5" font-family="'Liberation Serif', serif" font-size="13.5" font-weight="bold" fill="#333" text-anchor="end" >0.0</text>
<line x1="216" y1="608.8" x2="220" y2="608.8" stroke="#444" stroke-width="1.5" />
<text x="213" y="613.8" font-family="'Liberation Serif', serif" font-size="13.5" font-weight="bold" fill="#333" text-anchor="end" >0.1</text>
<line x1="216" y1="582" x2="220" y2="582" stroke="#444" stroke-width="1.5" />
<text x="213" y="587" font-family="'Liberation Serif', serif" font-size="13.5" font-weight="bold" fill="#333" text-anchor="end" >0.2</text>
<line x1="216" y1="689" x2="216" y2="685" stroke="#444" stroke-width="1.5" />
<text x="216" y="705" font-family="'Liberation Serif', serif" font-size="13.5" font-weight="bold" fill="#333" text-anchor="middle" >0</text>
<line x1="297" y1="689" x2="297" y2="685" stroke="#444" stroke-width="1.5" />
<text x="297" y="705" font-family="'Liberation Serif', serif" font-size="13.5" font-weight="bold" fill="#333" text-anchor="middle" >1</text>
<line x1="378" y1="689" x2="378" y2="685" stroke="#444" stroke-width="1.5" />
<text x="378" y="705" font-family="'Liberation Serif', serif" font-size="13.5" font-weight="bold" fill="#333" text-anchor="middle" >2</text>
<line x1="459" y1="689" x2="459" y2="685" stroke="#444" stroke-width="1.5" />
<text x="459" y="705" font-family="'Liberation Serif', serif" font-size="13.5" font-weight="bold" fill="#333" text-anchor="middle" >3</text>
<line x1="540" y1="689" x2="540" y2="685" stroke="#444" stroke-width="1.5" />
<text x="540" y="705" font-family="'Liberation Serif', serif" font-size="13.5" font-weight="bold" fill="#333" text-anchor="middle" >4</text>
<text x="378" y="731" font-family="'Liberation Serif', serif" font-size="18" font-weight="bold" fill="#222" text-anchor="middle" >Time(h)</text>
<text x="0" y="0" font-family="'Liberation Serif', serif" font-size="16" font-weight="bold" fill="#222" text-anchor="middle" transform="translate(186 635.5) rotate(-90)">Voltage(V)</text>
<rect x="631" y="579" width="323" height="107" fill="#FFFFFF" />
<polyline points="631,640.5 631.2,638.9 631.4,637.2 631.6,635.5 631.8,633.8 632,632.2 632.2,630.5 632.4,628.8 632.6,627.1 632.6,627.1 643,626.6 653.4,626.1 663.8,625.6 674.2,625.1 684.6,624.6 695,624.1 705.4,623.6 715.8,623.1 715.8,639.2 725.9,639.5 736,639.9 746.1,640.2 756.2,640.5 766.3,640.9 776.4,641.2 786.4,641.5 796.5,641.9 796.5,627.1 803.6,626.8 810.7,626.5 817.7,626.1 824.8,625.8 831.9,625.5 838.9,625.1 846,624.8 853.1,624.5 853.1,640.5 858.6,640.6 864.2,640.7 869.7,640.7 875.3,640.8 880.8,640.9 886.4,640.9 891.9,641 897.5,641.1 897.5,627.1 904.5,626.8 911.6,626.5 918.7,626.1 925.7,625.8 932.8,625.5 939.9,625.1 946.9,624.8 954,624.5" fill="none" stroke="#666666" stroke-width="2.2" stroke-linejoin="round"/>
<polyline points="631,643.2 631.2,641.2 631.4,639.2 631.6,637.2 631.8,635.2 632,633.2 632.2,631.2 632.4,629.2 632.6,627.1 632.6,627.1 643.2,626.5 653.8,625.8 664.4,625.1 675,624.5 685.6,623.8 696.2,623.1 706.8,622.5 717.4,621.8 717.4,643.2 727.3,643.5 737.2,643.9 747.1,644.2 757,644.5 766.9,644.9 776.8,645.2 786.6,645.5 796.5,645.9 796.5,625.8 806.8,625 817.1,624.1 827.4,623.3 837.7,622.5 848,621.6 858.3,620.8 868.6,620 878.9,619.1 878.9,640.5 888.3,641 897.7,641.5 907.1,642 916.5,642.5 925.8,643 935.2,643.5 944.6,644 954,644.5" fill="none" stroke="#2B3990" stroke-width="2.2" stroke-linejoin="round"/>
<polyline points="631,651.2 631.1,648.9 631.3,646.5 631.4,644.2 631.5,641.9 631.7,639.5 631.8,637.2 631.9,634.8 632.1,632.5 632.2,630.2 632.3,627.8 632.5,625.5 632.6,623.1 632.6,623.1 639.7,621.3 646.7,619.4 653.8,617.6 660.9,616.2 667.9,615.7 675,615.2 682.1,614.6 689.1,614.1 696.2,613.5 703.3,613 710.3,612.4 717.4,611.9 717.4,644.5 724,645.7 730.6,646.8 737.2,647.9 743.8,648.6 750.4,648.8 757,649 763.6,649.2 770.2,649.4 776.8,649.6 783.3,649.8 789.9,650 796.5,650.2 796.5,623.1 803.4,621.3 810.3,619.4 817.1,617.6 824,616.2 830.9,615.7 837.7,615.2 844.6,614.6 851.4,614.1 858.3,613.5 865.2,613 872,612.4 878.9,611.9 878.9,644.5 885.2,645.7 891.4,646.8 897.7,647.9 903.9,648.6 910.2,648.8 916.5,649 922.7,649.2 929,649.4 935.2,649.6 941.5,649.8 947.7,650 954,650.2" fill="none" stroke="#EE3A3A" stroke-width="2.2" stroke-linejoin="round"/>
<rect x="631" y="579" width="323" height="107" fill="none" stroke="#444" stroke-width="1.8"/>
<line x1="631" y1="686" x2="635" y2="686" stroke="#444" stroke-width="1.5" />
<text x="628" y="691" font-family="'Liberation Serif', serif" font-size="13.5" font-weight="bold" fill="#333" text-anchor="end" >-0.2</text>
<line x1="631" y1="659.2" x2="635" y2="659.2" stroke="#444" stroke-width="1.5" />
<text x="628" y="664.2" font-family="'Liberation Serif', serif" font-size="13.5" font-weight="bold" fill="#333" text-anchor="end" >-0.1</text>
<line x1="631" y1="632.5" x2="635" y2="632.5" stroke="#444" stroke-width="1.5" />
<text x="628" y="637.5" font-family="'Liberation Serif', serif" font-size="13.5" font-weight="bold" fill="#333" text-anchor="end" >0.0</text>
<line x1="631" y1="605.8" x2="635" y2="605.8" stroke="#444" stroke-width="1.5" />
<text x="628" y="610.8" font-family="'Liberation Serif', serif" font-size="13.5" font-weight="bold" fill="#333" text-anchor="end" >0.1</text>
<line x1="631" y1="579" x2="635" y2="579" stroke="#444" stroke-width="1.5" />
<text x="628" y="584" font-family="'Liberation Serif', serif" font-size="13.5" font-weight="bold" fill="#333" text-anchor="end" >0.2</text>
<line x1="631" y1="686" x2="631" y2="682" stroke="#444" stroke-width="1.5" />
<text x="631" y="702" font-family="'Liberation Serif', serif" font-size="13.5" font-weight="bold" fill="#333" text-anchor="middle" >23</text>
<line x1="711.8" y1="686" x2="711.8" y2="682" stroke="#444" stroke-width="1.5" />
<text x="711.8" y="702" font-family="'Liberation Serif', serif" font-size="13.5" font-weight="bold" fill="#333" text-anchor="middle" >24</text>
<line x1="792.5" y1="686" x2="792.5" y2="682" stroke="#444" stroke-width="1.5" />
<text x="792.5" y="702" font-family="'Liberation Serif', serif" font-size="13.5" font-weight="bold" fill="#333" text-anchor="middle" >25</text>
<line x1="873.2" y1="686" x2="873.2" y2="682" stroke="#444" stroke-width="1.5" />
<text x="873.2" y="702" font-family="'Liberation Serif', serif" font-size="13.5" font-weight="bold" fill="#333" text-anchor="middle" >26</text>
<line x1="954" y1="686" x2="954" y2="682" stroke="#444" stroke-width="1.5" />
<text x="954" y="702" font-family="'Liberation Serif', serif" font-size="13.5" font-weight="bold" fill="#333" text-anchor="middle" >27</text>
<text x="792.5" y="720" font-family="'Liberation Serif', serif" font-size="18" font-weight="bold" fill="#222" text-anchor="middle" >Time(h)</text>
<text x="0" y="0" font-family="'Liberation Serif', serif" font-size="16" font-weight="bold" fill="#222" text-anchor="middle" transform="translate(601 632.5) rotate(-90)">Voltage(V)</text>
<rect x="175" y="841" width="323" height="106" fill="#FFFFFF" />
<polyline points="175,875.5 177.4,875.3 179.7,875.1 182.1,874.9 184.4,874.7 186.8,874.5 189.1,874.3 191.5,874.1 193.8,873.9 196.2,873.8 198.6,873.6 200.9,873.4 203.3,873.2 205.6,873 208,872.8 210.3,872.6 212.7,872.4 215,872.3 217.4,872.1 219.7,871.9 222.1,871.7 224.5,871.5 226.8,871.3 229.2,871.1 231.5,870.9 231.5,907.2 234.9,908.9 238.3,910.6 241.6,911.4 245,911.6 248.3,911.9 251.7,912.1 255.1,912.4 258.4,912.6 261.8,912.8 265.2,913.1 268.5,913.3 271.9,913.6 275.3,913.8 278.6,914.1 282,914.3 285.4,914.6 288.7,914.8 292.1,915.1 295.5,915.3 298.8,915.5 302.2,915.8 305.5,916 308.9,916.3 312.3,916.5 312.3,880.8 315.6,879.1 319,877.4 322.4,876.6 325.7,876.3 329.1,876.1 332.5,875.8 335.8,875.5 339.2,875.3 342.6,875 345.9,874.7 349.3,874.5 352.6,874.2 356,873.9 359.4,873.6 362.7,873.4 366.1,873.1 369.5,872.8 372.8,872.6 376.2,872.3 379.6,872 382.9,871.8 386.3,871.5 389.7,871.2 393,870.9 393,907.2 396.4,908.9 399.8,910.6 403.1,911.4 406.5,911.6 409.8,911.9 413.2,912.1 416.6,912.4 419.9,912.6 423.3,912.8 426.7,913.1 430,913.3 433.4,913.6 436.8,913.8 440.1,914.1 443.5,914.3 446.9,914.6 450.2,914.8 453.6,915.1 457,915.3 460.3,915.5 463.7,915.8 467,916 470.4,916.3 473.8,916.5 473.8,880.8 474.8,880.2 475.8,879.6 476.8,879.1 477.8,878.5 478.8,878 479.8,877.4 480.8,876.9 481.9,876.7 482.9,876.6 483.9,876.6 484.9,876.5 485.9,876.4 486.9,876.3 487.9,876.2 488.9,876.2 489.9,876.1 490.9,876 491.9,875.9 493,875.8 494,875.8 495,875.7 496,875.6 497,875.5 498,875.5" fill="none" stroke="#EE3A3A" stroke-width="2.2" stroke-linejoin="round"/>
<rect x="175" y="841" width="323" height="106" fill="none" stroke="#444" stroke-width="1.8"/>
<line x1="175" y1="947" x2="179" y2="947" stroke="#444" stroke-width="1.5" />
<text x="172" y="952" font-family="'Liberation Serif', serif" font-size="13.5" font-weight="bold" fill="#333" text-anchor="end" >-0.2</text>
<line x1="175" y1="920.5" x2="179" y2="920.5" stroke="#444" stroke-width="1.5" />
<text x="172" y="925.5" font-family="'Liberation Serif', serif" font-size="13.5" font-weight="bold" fill="#333" text-anchor="end" >-0.1</text>
<line x1="175" y1="894" x2="179" y2="894" stroke="#444" stroke-width="1.5" />
<text x="172" y="899" font-family="'Liberation Serif', serif" font-size="13.5" font-weight="bold" fill="#333" text-anchor="end" >0.0</text>
<line x1="175" y1="867.5" x2="179" y2="867.5" stroke="#444" stroke-width="1.5" />
<text x="172" y="872.5" font-family="'Liberation Serif', serif" font-size="13.5" font-weight="bold" fill="#333" text-anchor="end" >0.1</text>
<line x1="175" y1="841" x2="179" y2="841" stroke="#444" stroke-width="1.5" />
<text x="172" y="846" font-family="'Liberation Serif', serif" font-size="13.5" font-weight="bold" fill="#333" text-anchor="end" >0.2</text>
<line x1="175" y1="947" x2="175" y2="943" stroke="#444" stroke-width="1.5" />
<text x="175" y="963" font-family="'Liberation Serif', serif" font-size="13.5" font-weight="bold" fill="#333" text-anchor="middle" >498</text>
<line x1="255.8" y1="947" x2="255.8" y2="943" stroke="#444" stroke-width="1.5" />
<text x="255.8" y="963" font-family="'Liberation Serif', serif" font-size="13.5" font-weight="bold" fill="#333" text-anchor="middle" >499</text>
<line x1="336.5" y1="947" x2="336.5" y2="943" stroke="#444" stroke-width="1.5" />
<text x="336.5" y="963" font-family="'Liberation Serif', serif" font-size="13.5" font-weight="bold" fill="#333" text-anchor="middle" >500</text>
<line x1="417.2" y1="947" x2="417.2" y2="943" stroke="#444" stroke-width="1.5" />
<text x="417.2" y="963" font-family="'Liberation Serif', serif" font-size="13.5" font-weight="bold" fill="#333" text-anchor="middle" >501</text>
<line x1="498" y1="947" x2="498" y2="943" stroke="#444" stroke-width="1.5" />
<text x="498" y="963" font-family="'Liberation Serif', serif" font-size="13.5" font-weight="bold" fill="#333" text-anchor="middle" >502</text>
<text x="336.5" y="981" font-family="'Liberation Serif', serif" font-size="18" font-weight="bold" fill="#222" text-anchor="middle" >Time(h)</text>
<text x="0" y="0" font-family="'Liberation Serif', serif" font-size="16" font-weight="bold" fill="#222" text-anchor="middle" transform="translate(145 894) rotate(-90)">Voltage(V)</text>
<rect x="575" y="841" width="322" height="106" fill="#FFFFFF" />
<polyline points="575,871.5 575.2,871.5 575.5,871.5 575.7,871.5 575.9,871.5 576.2,871.5 576.4,871.5 576.6,871.5 576.9,871.5 577.1,871.5 577.3,871.5 577.6,871.5 577.8,871.5 578.1,871.5 578.3,871.5 578.5,871.5 578.8,871.5 579,871.5 579.2,871.5 579.5,871.5 579.7,871.5 579.9,871.5 580.2,871.5 580.4,871.5 580.6,871.5 580.6,907.2 583.9,908.9 587.2,910.6 590.5,911.4 593.8,911.7 597.1,912 600.4,912.3 603.6,912.6 606.9,912.9 610.2,913.2 613.5,913.6 616.8,913.9 620.1,914.2 623.4,914.5 626.7,914.8 629.9,915.1 633.2,915.4 636.5,915.7 639.8,916 643.1,916.3 646.4,916.6 649.7,916.9 653,917.2 656.2,917.5 659.5,917.9 659.5,880.8 662.9,879.1 666.2,877.4 669.6,876.6 672.9,876.4 676.3,876.1 679.6,875.9 683,875.6 686.4,875.4 689.7,875.2 693.1,874.9 696.4,874.7 699.8,874.4 703.1,874.2 706.5,873.9 709.8,873.7 713.2,873.4 716.5,873.2 719.9,872.9 723.3,872.7 726.6,872.5 730,872.2 733.3,872 736.7,871.7 740,871.5 740,907.2 743.4,908.9 746.7,910.6 750.1,911.4 753.4,911.7 756.8,912 760.1,912.3 763.5,912.6 766.9,912.9 770.2,913.2 773.6,913.6 776.9,913.9 780.3,914.2 783.6,914.5 787,914.8 790.3,915.1 793.7,915.4 797,915.7 800.4,916 803.8,916.3 807.1,916.6 810.5,916.9 813.8,917.2 817.2,917.5 820.5,917.9 820.5,880.8 823.7,879.1 826.9,877.4 830.1,876.6 833.3,876.4 836.5,876.1 839.6,875.9 842.8,875.6 846,875.4 849.2,875.2 852.4,874.9 855.6,874.7 858.8,874.4 861.9,874.2 865.1,873.9 868.3,873.7 871.5,873.4 874.7,873.2 877.9,872.9 881.1,872.7 884.3,872.5 887.4,872.2 890.6,872 893.8,871.7 897,871.5" fill="none" stroke="#EE3A3A" stroke-width="2.2" stroke-linejoin="round"/>
<rect x="575" y="841" width="322" height="106" fill="none" stroke="#444" stroke-width="1.8"/>
<line x1="575" y1="947" x2="579" y2="947" stroke="#444" stroke-width="1.5" />
<text x="572" y="952" font-family="'Liberation Serif', serif" font-size="13.5" font-weight="bold" fill="#333" text-anchor="end" >-0.2</text>
<line x1="575" y1="920.5" x2="579" y2="920.5" stroke="#444" stroke-width="1.5" />
<text x="572" y="925.5" font-family="'Liberation Serif', serif" font-size="13.5" font-weight="bold" fill="#333" text-anchor="end" >-0.1</text>
<line x1="575" y1="894" x2="579" y2="894" stroke="#444" stroke-width="1.5" />
<text x="572" y="899" font-family="'Liberation Serif', serif" font-size="13.5" font-weight="bold" fill="#333" text-anchor="end" >0.0</text>
<line x1="575" y1="867.5" x2="579" y2="867.5" stroke="#444" stroke-width="1.5" />
<text x="572" y="872.5" font-family="'Liberation Serif', serif" font-size="13.5" font-weight="bold" fill="#333" text-anchor="end" >0.1</text>
<line x1="575" y1="841" x2="579" y2="841" stroke="#444" stroke-width="1.5" />
<text x="572" y="846" font-family="'Liberation Serif', serif" font-size="13.5" font-weight="bold" fill="#333" text-anchor="end" >0.2</text>
<line x1="575" y1="947" x2="575" y2="943" stroke="#444" stroke-width="1.5" />
<text x="575" y="963" font-family="'Liberation Serif', serif" font-size="13.5" font-weight="bold" fill="#333" text-anchor="middle" >1498</text>
<line x1="655.5" y1="947" x2="655.5" y2="943" stroke="#444" stroke-width="1.5" />
<text x="655.5" y="963" font-family="'Liberation Serif', serif" font-size="13.5" font-weight="bold" fill="#333" text-anchor="middle" >1499</text>
<line x1="736" y1="947" x2="736" y2="943" stroke="#444" stroke-width="1.5" />
<text x="736" y="963" font-family="'Liberation Serif', serif" font-size="13.5" font-weight="bold" fill="#333" text-anchor="middle" >1500</text>
<line x1="816.5" y1="947" x2="816.5" y2="943" stroke="#444" stroke-width="1.5" />
<text x="816.5" y="963" font-family="'Liberation Serif', serif" font-size="13.5" font-weight="bold" fill="#333" text-anchor="middle" >1501</text>
<line x1="897" y1="947" x2="897" y2="943" stroke="#444" stroke-width="1.5" />
<text x="897" y="963" font-family="'Liberation Serif', serif" font-size="13.5" font-weight="bold" fill="#333" text-anchor="middle" >1502</text>
<text x="736" y="981" font-family="'Liberation Serif', serif" font-size="18" font-weight="bold" fill="#222" text-anchor="middle" >Time(h)</text>
<text x="0" y="0" font-family="'Liberation Serif', serif" font-size="16" font-weight="bold" fill="#222" text-anchor="middle" transform="translate(545 894) rotate(-90)">Voltage(V)</text>
<rect x="994" y="841" width="325" height="107" fill="#FFFFFF" />
<polyline points="994,879.8 996.5,879.6 999.1,879.3 1001.6,879.1 1004.2,878.9 1006.7,878.7 1009.2,878.5 1011.8,878.2 1014.3,878 1016.9,877.8 1019.4,877.6 1021.9,877.3 1024.5,877.1 1027,876.9 1029.5,876.7 1032.1,876.4 1034.6,876.2 1037.2,876 1039.7,875.8 1042.2,875.6 1044.8,875.3 1047.3,875.1 1049.9,874.9 1052.4,874.7 1054.9,874.4 1054.9,905.2 1058.3,906.3 1061.7,907.4 1065.1,908.1 1068.5,908.5 1071.9,908.8 1075.2,909.2 1078.6,909.6 1082,910 1085.4,910.3 1088.8,910.7 1092.2,911.1 1095.6,911.4 1098.9,911.8 1102.3,912.2 1105.7,912.6 1109.1,912.9 1112.5,913.3 1115.9,913.7 1119.3,914 1122.6,914.4 1126,916.6 1129.4,919 1132.8,920.1 1136.2,921.2 1136.2,881.1 1139.7,877.8 1143.3,879.8 1146.9,879.5 1150.4,879.3 1154,879 1157.5,878.8 1161.1,878.6 1164.6,878.3 1168.2,878.1 1171.7,877.8 1175.3,877.6 1178.8,877.3 1182.4,877.1 1186,876.9 1189.5,876.6 1193.1,876.4 1196.6,876.1 1200.2,875.9 1203.7,875.6 1207.3,875.4 1210.8,875.2 1214.4,874.9 1217.9,874.7 1221.5,874.4 1221.5,905.2 1224.9,906.3 1228.3,907.4 1231.7,908.1 1235,908.5 1238.4,908.8 1241.8,909.2 1245.2,909.6 1248.6,910 1252,910.3 1255.4,910.7 1258.7,911.1 1262.1,911.4 1265.5,911.8 1268.9,912.2 1272.3,912.6 1275.7,912.9 1279.1,913.3 1282.4,913.7 1285.8,914 1289.2,914.4 1292.6,916.6 1296,919 1299.4,920.1 1302.7,921.2 1302.7,881.1 1303.4,881.1 1304.1,881 1304.8,881 1305.5,880.9 1306.1,880.8 1306.8,880.8 1307.5,880.7 1308.2,880.7 1308.8,880.6 1309.5,880.6 1310.2,880.5 1310.9,880.5 1311.6,880.4 1312.2,880.3 1312.9,880.3 1313.6,880.2 1314.3,880.2 1314.9,880.1 1315.6,880.1 1316.3,880 1317,880 1317.6,879.9 1318.3,879.8 1319,879.8" fill="none" stroke="#EE3A3A" stroke-width="2.2" stroke-linejoin="round"/>
<rect x="994" y="841" width="325" height="107" fill="none" stroke="#444" stroke-width="1.8"/>
<line x1="994" y1="948" x2="998" y2="948" stroke="#444" stroke-width="1.5" />
<text x="991" y="953" font-family="'Liberation Serif', serif" font-size="13.5" font-weight="bold" fill="#333" text-anchor="end" >-0.2</text>
<line x1="994" y1="921.2" x2="998" y2="921.2" stroke="#444" stroke-width="1.5" />
<text x="991" y="926.2" font-family="'Liberation Serif', serif" font-size="13.5" font-weight="bold" fill="#333" text-anchor="end" >-0.1</text>
<line x1="994" y1="894.5" x2="998" y2="894.5" stroke="#444" stroke-width="1.5" />
<text x="991" y="899.5" font-family="'Liberation Serif', serif" font-size="13.5" font-weight="bold" fill="#333" text-anchor="end" >0.0</text>
<line x1="994" y1="867.8" x2="998" y2="867.8" stroke="#444" stroke-width="1.5" />
<text x="991" y="872.8" font-family="'Liberation Serif', serif" font-size="13.5" font-weight="bold" fill="#333" text-anchor="end" >0.1</text>
<line x1="994" y1="841" x2="998" y2="841" stroke="#444" stroke-width="1.5" />
<text x="991" y="846" font-family="'Liberation Serif', serif" font-size="13.5" font-weight="bold" fill="#333" text-anchor="end" >0.2</text>
<line x1="994" y1="948" x2="994" y2="944" stroke="#444" stroke-width="1.5" />
<text x="994" y="964" font-family="'Liberation Serif', serif" font-size="13.5" font-weight="bold" fill="#333" text-anchor="middle" >1998</text>
<line x1="1075.2" y1="948" x2="1075.2" y2="944" stroke="#444" stroke-width="1.5" />
<text x="1075.2" y="964" font-family="'Liberation Serif', serif" font-size="13.5" font-weight="bold" fill="#333" text-anchor="middle" >1999</text>
<line x1="1156.5" y1="948" x2="1156.5" y2="944" stroke="#444" stroke-width="1.5" />
<text x="1156.5" y="964" font-family="'Liberation Serif', serif" font-size="13.5" font-weight="bold" fill="#333" text-anchor="middle" >2000</text>
<line x1="1237.8" y1="948" x2="1237.8" y2="944" stroke="#444" stroke-width="1.5" />
<text x="1237.8" y="964" font-family="'Liberation Serif', serif" font-size="13.5" font-weight="bold" fill="#333" text-anchor="middle" >2001</text>
<line x1="1319" y1="948" x2="1319" y2="944" stroke="#444" stroke-width="1.5" />
<text x="1319" y="964" font-family="'Liberation Serif', serif" font-size="13.5" font-weight="bold" fill="#333" text-anchor="middle" >2002</text>
<text x="1156.5" y="982" font-family="'Liberation Serif', serif" font-size="18" font-weight="bold" fill="#222" text-anchor="middle" >Time(h)</text>
<text x="0" y="0" font-family="'Liberation Serif', serif" font-size="16" font-weight="bold" fill="#222" text-anchor="middle" transform="translate(964 894.5) rotate(-90)">Voltage(V)</text>
<text x="14.4" y="528.5" font-family="'Liberation Serif', serif" font-size="66" font-weight="bold" fill="#000" text-anchor="start" >(g)</text>
<rect x="1529" y="565" width="853" height="443" fill="none" stroke="#000" stroke-width="3.2"/>
<path fill="#2B3990" d="M1526.4 726.7h8v8h-8zM1527.8 707.8h8v8h-8zM1529.3 685.4h8v8h-8zM1530.7 672h8v8h-8zM1532.1 659.8h8v8h-8zM1533.5 654.2h8v8h-8zM1535 652.6h8v8h-8zM1536.4 646h8v8h-8zM1537.8 641.2h8v8h-8zM1539.2 639.2h8v8h-8zM1540.6 635.2h8v8h-8zM1542.1 636h8v8h-8zM1543.5 632.6h8v8h-8zM1544.9 631.3h8v8h-8zM1546.3 630.2h8v8h-8zM1547.7 630.1h8v8h-8zM1549.2 632.2h8v8h-8zM1550.6 631.4h8v8h-8zM1552 631.2h8v8h-8zM1553.4 628.9h8v8h-8zM1554.9 630.7h8v8h-8zM1556.3 634.2h8v8h-8zM1557.7 633.1h8v8h-8zM1559.1 636.8h8v8h-8zM1560.5 636.2h8v8h-8zM1562 638.2h8v8h-8zM1563.4 638.9h8v8h-8zM1564.8 635.8h8v8h-8zM1566.2 638.4h8v8h-8zM1567.7 638.6h8v8h-8zM1569.1 635.9h8v8h-8zM1570.5 636.5h8v8h-8zM1571.9 638.8h8v8h-8zM1573.3 636.5h8v8h-8zM1574.8 638.3h8v8h-8zM1576.2 637.9h8v8h-8zM1577.6 639.8h8v8h-8zM1579 637.3h8v8h-8zM1580.4 638.4h8v8h-8zM1581.9 633.8h8v8h-8zM1583.3 634.6h8v8h-8zM1584.7 641.6h8v8h-8zM1586.1 640.9h8v8h-8zM1587.6 643.2h8v8h-8zM1589 643.4h8v8h-8zM1590.4 644.4h8v8h-8zM1591.8 641.6h8v8h-8zM1593.2 638h8v8h-8zM1594.7 645.1h8v8h-8zM1596.1 637.2h8v8h-8zM1597.5 641.2h8v8h-8zM1598.9 641.5h8v8h-8zM1600.3 635.5h8v8h-8zM1601.8 639.5h8v8h-8zM1603.2 641.4h8v8h-8zM1604.6 639.5h8v8h-8zM1606 636.8h8v8h-8zM1607.5 644.5h8v8h-8zM1608.9 633.7h8v8h-8zM1610.3 644.9h8v8h-8zM1611.7 636.3h8v8h-8zM1613.1 635.2h8v8h-8zM1614.6 645h8v8h-8zM1616 635.9h8v8h-8zM1617.4 640.8h8v8h-8zM1618.8 638.3h8v8h-8zM1620.3 645.1h8v8h-8zM1621.7 644.6h8v8h-8zM1623.1 643h8v8h-8zM1624.5 633.9h8v8h-8zM1625.9 642.8h8v8h-8zM1627.4 636.2h8v8h-8zM1628.8 634.2h8v8h-8zM1630.2 634h8v8h-8zM1631.6 641.1h8v8h-8zM1633 641h8v8h-8zM1634.5 639h8v8h-8zM1635.9 636h8v8h-8zM1637.3 643.9h8v8h-8zM1638.7 636.3h8v8h-8zM1640.2 635.8h8v8h-8zM1641.6 635h8v8h-8zM1643 644.7h8v8h-8zM1644.4 634h8v8h-8zM1645.8 644.1h8v8h-8zM1647.3 641.1h8v8h-8zM1648.7 638h8v8h-8zM1650.1 634.3h8v8h-8zM1651.5 641.2h8v8h-8zM1653 634.3h8v8h-8zM1654.4 638.7h8v8h-8zM1655.8 641.5h8v8h-8zM1657.2 641.4h8v8h-8zM1658.6 643.1h8v8h-8zM1660.1 644.2h8v8h-8zM1661.5 643.4h8v8h-8zM1662.9 637h8v8h-8zM1664.3 633.4h8v8h-8zM1665.7 643.3h8v8h-8zM1667.2 644.6h8v8h-8zM1668.6 633.5h8v8h-8zM1670 638.9h8v8h-8zM1671.4 640.4h8v8h-8zM1672.9 642.4h8v8h-8zM1674.3 638.2h8v8h-8zM1675.7 635.4h8v8h-8zM1677.1 639.8h8v8h-8zM1678.5 640.2h8v8h-8zM1680 644.5h8v8h-8zM1681.4 634.3h8v8h-8zM1682.8 644.8h8v8h-8zM1684.2 639.3h8v8h-8zM1685.6 635.3h8v8h-8zM1687.1 643.6h8v8h-8zM1688.5 636.5h8v8h-8zM1689.9 633.9h8v8h-8zM1691.3 637.7h8v8h-8zM1692.8 635.9h8v8h-8zM1694.2 643.9h8v8h-8zM1695.6 640h8v8h-8zM1697 643.4h8v8h-8zM1698.4 635.2h8v8h-8zM1699.9 641.7h8v8h-8zM1701.3 639.8h8v8h-8zM1702.7 633.4h8v8h-8zM1704.1 635.1h8v8h-8zM1705.6 633.6h8v8h-8zM1707 639.8h8v8h-8zM1708.4 639.4h8v8h-8zM1709.8 636.6h8v8h-8zM1711.2 639.5h8v8h-8zM1712.7 641.7h8v8h-8zM1714.1 640.4h8v8h-8zM1715.5 643.4h8v8h-8zM1716.9 640.7h8v8h-8zM1718.3 633.5h8v8h-8zM1719.8 633.8h8v8h-8zM1721.2 637.8h8v8h-8zM1722.6 639.3h8v8h-8zM1724 641.2h8v8h-8zM1725.5 644.1h8v8h-8zM1726.9 642h8v8h-8zM1728.3 635.9h8v8h-8zM1729.7 634.9h8v8h-8zM1731.1 640.9h8v8h-8zM1732.6 635.9h8v8h-8zM1734 636h8v8h-8zM1735.4 637h8v8h-8zM1736.8 637.3h8v8h-8zM1738.2 636.2h8v8h-8zM1739.7 640.9h8v8h-8zM1741.1 636.8h8v8h-8zM1742.5 641.9h8v8h-8zM1743.9 639.4h8v8h-8zM1745.4 636.1h8v8h-8zM1746.8 637h8v8h-8zM1748.2 641.7h8v8h-8zM1749.6 634h8v8h-8zM1751 637.5h8v8h-8zM1752.5 638.3h8v8h-8zM1753.9 645h8v8h-8zM1755.3 638.7h8v8h-8zM1756.7 642.2h8v8h-8zM1758.2 637.2h8v8h-8zM1759.6 639.7h8v8h-8zM1761 635.5h8v8h-8zM1762.4 637.5h8v8h-8zM1763.8 635.7h8v8h-8zM1765.3 641.1h8v8h-8zM1766.7 637.6h8v8h-8zM1768.1 636.5h8v8h-8zM1769.5 635.4h8v8h-8zM1770.9 641h8v8h-8zM1772.4 635.2h8v8h-8zM1773.8 634.9h8v8h-8zM1775.2 637h8v8h-8zM1776.6 633.6h8v8h-8zM1778.1 633.9h8v8h-8zM1779.5 639h8v8h-8zM1780.9 638.9h8v8h-8zM1782.3 643.2h8v8h-8zM1783.7 635.3h8v8h-8zM1785.2 634.1h8v8h-8zM1786.6 639.5h8v8h-8zM1788 637h8v8h-8zM1789.4 636.7h8v8h-8zM1790.9 636.5h8v8h-8zM1792.3 643.1h8v8h-8zM1793.7 636h8v8h-8zM1795.1 638.3h8v8h-8zM1796.5 637.3h8v8h-8zM1798 640.2h8v8h-8zM1799.4 637.8h8v8h-8zM1800.8 636h8v8h-8zM1802.2 637.6h8v8h-8zM1803.6 636.7h8v8h-8zM1805.1 644.8h8v8h-8zM1806.5 643.3h8v8h-8zM1807.9 640h8v8h-8zM1809.3 637.5h8v8h-8zM1810.8 642.6h8v8h-8zM1812.2 637.1h8v8h-8zM1813.6 637.7h8v8h-8zM1815 644.7h8v8h-8zM1816.4 639.6h8v8h-8zM1817.9 642.5h8v8h-8zM1819.3 644.5h8v8h-8zM1820.7 643.6h8v8h-8zM1822.1 641.4h8v8h-8zM1823.5 643h8v8h-8zM1825 642.9h8v8h-8zM1826.4 644.7h8v8h-8zM1827.8 639.7h8v8h-8zM1829.2 640.7h8v8h-8zM1830.7 637.9h8v8h-8zM1832.1 638.2h8v8h-8zM1833.5 642.4h8v8h-8zM1834.9 634.5h8v8h-8zM1836.3 645.2h8v8h-8zM1837.8 640.4h8v8h-8zM1839.2 641.9h8v8h-8zM1840.6 640.3h8v8h-8zM1842 643.8h8v8h-8zM1843.5 635.3h8v8h-8zM1844.9 640.8h8v8h-8zM1846.3 644.7h8v8h-8zM1847.7 637.9h8v8h-8zM1849.1 644h8v8h-8zM1850.6 638.7h8v8h-8zM1852 641.2h8v8h-8zM1853.4 638.3h8v8h-8zM1854.8 633.8h8v8h-8zM1856.2 635.5h8v8h-8zM1857.7 640.2h8v8h-8zM1859.1 635.6h8v8h-8zM1860.5 637.6h8v8h-8zM1861.9 640.8h8v8h-8zM1863.4 643.5h8v8h-8zM1864.8 638.1h8v8h-8zM1866.2 638.5h8v8h-8zM1867.6 633.9h8v8h-8zM1869 633.7h8v8h-8zM1870.5 638h8v8h-8zM1871.9 641h8v8h-8zM1873.3 634.6h8v8h-8zM1874.7 645.2h8v8h-8zM1876.2 643.9h8v8h-8zM1877.6 638.5h8v8h-8zM1879 637.9h8v8h-8zM1880.4 643.5h8v8h-8zM1881.8 637.7h8v8h-8zM1883.3 634.6h8v8h-8zM1884.7 640.7h8v8h-8zM1886.1 640.1h8v8h-8zM1887.5 642.5h8v8h-8zM1888.9 641.7h8v8h-8zM1890.4 633.7h8v8h-8zM1891.8 640.7h8v8h-8zM1893.2 633.8h8v8h-8zM1894.6 634.4h8v8h-8zM1896.1 638.1h8v8h-8zM1897.5 642.1h8v8h-8zM1898.9 633.6h8v8h-8zM1900.3 639.3h8v8h-8zM1901.7 640.3h8v8h-8zM1903.2 641.4h8v8h-8zM1904.6 633.5h8v8h-8zM1906 639.4h8v8h-8zM1907.4 641.8h8v8h-8zM1908.8 639.5h8v8h-8zM1910.3 643.7h8v8h-8zM1911.7 637.8h8v8h-8zM1913.1 639.9h8v8h-8zM1914.5 641.7h8v8h-8zM1916 635.9h8v8h-8zM1917.4 635.4h8v8h-8zM1918.8 645h8v8h-8zM1920.2 638.9h8v8h-8zM1921.6 641.9h8v8h-8zM1923.1 634.1h8v8h-8zM1924.5 635.9h8v8h-8zM1925.9 642.3h8v8h-8zM1927.3 642h8v8h-8zM1928.8 643.3h8v8h-8zM1930.2 633.5h8v8h-8zM1931.6 641.7h8v8h-8zM1933 638h8v8h-8zM1934.4 639.6h8v8h-8zM1935.9 637.6h8v8h-8zM1937.3 638h8v8h-8zM1938.7 636.4h8v8h-8zM1940.1 643.8h8v8h-8zM1941.5 636.2h8v8h-8zM1943 641.6h8v8h-8zM1944.4 638.9h8v8h-8zM1945.8 641.2h8v8h-8zM1947.2 641.7h8v8h-8zM1948.7 638.9h8v8h-8zM1950.1 639.7h8v8h-8zM1951.5 640.9h8v8h-8zM1952.9 636.4h8v8h-8zM1954.3 638.2h8v8h-8zM1955.8 644.7h8v8h-8zM1957.2 642.2h8v8h-8zM1958.6 639.8h8v8h-8zM1939.3 720.8h8v8h-8zM1940.8 708.7h8v8h-8zM1939.3 696.9h8v8h-8zM1943 691.3h8v8h-8zM1529.3 718.6h8v8h-8zM1530.7 686.5h8v8h-8z"/>
<path fill="#EE3A3A" d="M1526.4 737h8v8h-8zM1527.8 722.3h8v8h-8zM1529.3 708.5h8v8h-8zM1530.7 691.6h8v8h-8zM1532.1 674.6h8v8h-8zM1533.5 664.6h8v8h-8zM1535 660.5h8v8h-8zM1536.4 656.4h8v8h-8zM1537.8 653.8h8v8h-8zM1539.2 651.5h8v8h-8zM1540.6 649.5h8v8h-8zM1542.1 650.3h8v8h-8zM1543.5 649.6h8v8h-8zM1544.9 647.5h8v8h-8zM1546.3 648.7h8v8h-8zM1547.7 647.6h8v8h-8zM1549.2 645.3h8v8h-8zM1550.6 646.8h8v8h-8zM1552 643.8h8v8h-8zM1553.4 643.5h8v8h-8zM1554.9 644.1h8v8h-8zM1556.3 644.3h8v8h-8zM1557.7 642.7h8v8h-8zM1559.1 642.1h8v8h-8zM1560.5 644.2h8v8h-8zM1562 643h8v8h-8zM1563.4 642.6h8v8h-8zM1564.8 642.6h8v8h-8zM1566.2 642.9h8v8h-8zM1567.7 643.2h8v8h-8zM1569.1 641.8h8v8h-8zM1570.5 640.9h8v8h-8zM1571.9 642.9h8v8h-8zM1573.3 642.3h8v8h-8zM1574.8 640.3h8v8h-8zM1576.2 640.2h8v8h-8zM1577.6 640.4h8v8h-8zM1579 642.1h8v8h-8zM1580.4 639.9h8v8h-8zM1581.9 636.8h8v8h-8zM1583.3 636.7h8v8h-8zM1584.7 638.4h8v8h-8zM1586.1 642.3h8v8h-8zM1587.6 637.6h8v8h-8zM1589 641.3h8v8h-8zM1590.4 638.8h8v8h-8zM1591.8 637h8v8h-8zM1593.2 638.4h8v8h-8zM1594.7 641.8h8v8h-8zM1596.1 640.9h8v8h-8zM1597.5 637.2h8v8h-8zM1598.9 641.7h8v8h-8zM1600.3 639h8v8h-8zM1601.8 640.1h8v8h-8zM1603.2 641.6h8v8h-8zM1604.6 638.9h8v8h-8zM1606 642.3h8v8h-8zM1607.5 641.9h8v8h-8zM1608.9 640.3h8v8h-8zM1610.3 642.2h8v8h-8zM1611.7 642.2h8v8h-8zM1613.1 639.2h8v8h-8zM1614.6 638.2h8v8h-8zM1616 637.4h8v8h-8zM1617.4 641.8h8v8h-8zM1618.8 640h8v8h-8zM1620.3 640.7h8v8h-8zM1621.7 639h8v8h-8zM1623.1 639.7h8v8h-8zM1624.5 637h8v8h-8zM1625.9 640.4h8v8h-8zM1627.4 642.3h8v8h-8zM1628.8 638.5h8v8h-8zM1630.2 641.7h8v8h-8zM1631.6 638.9h8v8h-8zM1633 639.6h8v8h-8zM1634.5 637.2h8v8h-8zM1635.9 639.3h8v8h-8zM1637.3 638.9h8v8h-8zM1638.7 641h8v8h-8zM1640.2 639.3h8v8h-8zM1641.6 641.1h8v8h-8zM1643 638.2h8v8h-8zM1644.4 639.5h8v8h-8zM1645.8 641.8h8v8h-8zM1647.3 641.2h8v8h-8zM1648.7 640.4h8v8h-8zM1650.1 638.2h8v8h-8zM1651.5 641.5h8v8h-8zM1653 638.4h8v8h-8zM1654.4 638.7h8v8h-8zM1655.8 642.1h8v8h-8zM1657.2 638.6h8v8h-8zM1658.6 642h8v8h-8zM1660.1 641.8h8v8h-8zM1661.5 639.1h8v8h-8zM1662.9 641.2h8v8h-8zM1664.3 637.4h8v8h-8zM1665.7 639.7h8v8h-8zM1667.2 640.7h8v8h-8zM1668.6 637.9h8v8h-8zM1670 642.4h8v8h-8zM1671.4 638.3h8v8h-8zM1672.9 642.3h8v8h-8zM1674.3 641.7h8v8h-8zM1675.7 637h8v8h-8zM1677.1 638.6h8v8h-8zM1678.5 641.3h8v8h-8zM1680 641.9h8v8h-8zM1681.4 636.8h8v8h-8zM1682.8 638.7h8v8h-8zM1684.2 637.7h8v8h-8zM1685.6 641.8h8v8h-8zM1687.1 638.9h8v8h-8zM1688.5 640.5h8v8h-8zM1689.9 641.2h8v8h-8zM1691.3 640.6h8v8h-8zM1692.8 639h8v8h-8zM1694.2 640.5h8v8h-8zM1695.6 640.3h8v8h-8zM1697 641.8h8v8h-8zM1698.4 637.7h8v8h-8zM1699.9 638.8h8v8h-8zM1701.3 637.8h8v8h-8zM1702.7 640h8v8h-8zM1704.1 637.6h8v8h-8zM1705.6 639.5h8v8h-8zM1707 639.1h8v8h-8zM1708.4 639.2h8v8h-8zM1709.8 638.2h8v8h-8zM1711.2 640.2h8v8h-8zM1712.7 642h8v8h-8zM1714.1 642.4h8v8h-8zM1715.5 641.4h8v8h-8zM1716.9 642.4h8v8h-8zM1718.3 637.3h8v8h-8zM1719.8 639.7h8v8h-8zM1721.2 638.1h8v8h-8zM1722.6 642.6h8v8h-8zM1724 639.8h8v8h-8zM1725.5 637.3h8v8h-8zM1726.9 638.9h8v8h-8zM1728.3 640.1h8v8h-8zM1729.7 639.8h8v8h-8zM1731.1 642h8v8h-8zM1732.6 641.7h8v8h-8zM1734 641.6h8v8h-8zM1735.4 640.4h8v8h-8zM1736.8 640.3h8v8h-8zM1738.2 637.4h8v8h-8zM1739.7 641.7h8v8h-8zM1741.1 641.1h8v8h-8zM1742.5 640.9h8v8h-8zM1743.9 641.6h8v8h-8zM1745.4 640.9h8v8h-8zM1746.8 641.2h8v8h-8zM1748.2 639.7h8v8h-8zM1749.6 642.4h8v8h-8zM1751 637.1h8v8h-8zM1752.5 640.4h8v8h-8zM1753.9 637h8v8h-8zM1755.3 638.5h8v8h-8zM1756.7 638.6h8v8h-8zM1758.2 639.8h8v8h-8zM1759.6 637h8v8h-8zM1761 641.9h8v8h-8zM1762.4 638.6h8v8h-8zM1763.8 640.9h8v8h-8zM1765.3 638.6h8v8h-8zM1766.7 638.3h8v8h-8zM1768.1 641.6h8v8h-8zM1769.5 641.4h8v8h-8zM1770.9 642.4h8v8h-8zM1772.4 641.2h8v8h-8zM1773.8 642.1h8v8h-8zM1775.2 640.2h8v8h-8zM1776.6 636.8h8v8h-8zM1778.1 640.4h8v8h-8zM1779.5 640.7h8v8h-8zM1780.9 639.8h8v8h-8zM1782.3 640.9h8v8h-8zM1783.7 638.3h8v8h-8zM1785.2 638.3h8v8h-8zM1786.6 641.6h8v8h-8zM1788 641.2h8v8h-8zM1789.4 638.6h8v8h-8zM1790.9 637h8v8h-8zM1792.3 638.8h8v8h-8zM1793.7 640h8v8h-8zM1795.1 636.8h8v8h-8zM1796.5 642.5h8v8h-8zM1798 642.2h8v8h-8zM1799.4 638h8v8h-8zM1800.8 640.2h8v8h-8zM1802.2 642.3h8v8h-8zM1803.6 639.3h8v8h-8zM1805.1 636.7h8v8h-8zM1806.5 639.5h8v8h-8zM1807.9 640.5h8v8h-8zM1809.3 642h8v8h-8zM1810.8 642.2h8v8h-8zM1812.2 637.3h8v8h-8zM1813.6 639.7h8v8h-8zM1815 637.1h8v8h-8zM1816.4 642.3h8v8h-8zM1817.9 641.1h8v8h-8zM1819.3 642.3h8v8h-8zM1820.7 640.2h8v8h-8zM1822.1 642.2h8v8h-8zM1823.5 641.1h8v8h-8zM1825 640.2h8v8h-8zM1826.4 640.8h8v8h-8zM1827.8 642.3h8v8h-8zM1829.2 642.4h8v8h-8zM1830.7 636.8h8v8h-8zM1832.1 641.5h8v8h-8zM1833.5 639.6h8v8h-8zM1834.9 640.2h8v8h-8zM1836.3 639.4h8v8h-8zM1837.8 642.1h8v8h-8zM1839.2 640.7h8v8h-8zM1840.6 641.9h8v8h-8zM1842 639.4h8v8h-8zM1843.5 637.1h8v8h-8zM1844.9 639.1h8v8h-8zM1846.3 637.5h8v8h-8zM1847.7 641.3h8v8h-8zM1849.1 642.5h8v8h-8zM1850.6 639.4h8v8h-8zM1852 639.7h8v8h-8zM1853.4 639.2h8v8h-8zM1854.8 640.4h8v8h-8zM1856.2 638.9h8v8h-8zM1857.7 638.3h8v8h-8zM1859.1 637.2h8v8h-8zM1860.5 640.8h8v8h-8zM1861.9 639.9h8v8h-8zM1863.4 637.7h8v8h-8zM1864.8 641.3h8v8h-8zM1866.2 641.9h8v8h-8zM1867.6 640.7h8v8h-8zM1869 642.1h8v8h-8zM1870.5 638h8v8h-8zM1871.9 637.7h8v8h-8zM1873.3 640.7h8v8h-8zM1874.7 641.8h8v8h-8zM1876.2 642.1h8v8h-8zM1877.6 641.1h8v8h-8zM1879 642.1h8v8h-8zM1880.4 640.1h8v8h-8zM1881.8 639.2h8v8h-8zM1883.3 641.1h8v8h-8zM1884.7 642.2h8v8h-8zM1886.1 638.4h8v8h-8zM1887.5 642.3h8v8h-8zM1888.9 641.4h8v8h-8zM1890.4 640.9h8v8h-8zM1891.8 640.4h8v8h-8zM1893.2 642h8v8h-8zM1894.6 640.1h8v8h-8zM1896.1 640.7h8v8h-8zM1897.5 638.1h8v8h-8zM1898.9 639.3h8v8h-8zM1900.3 637.3h8v8h-8zM1901.7 638.7h8v8h-8zM1903.2 638.1h8v8h-8zM1904.6 639.2h8v8h-8zM1906 640h8v8h-8zM1907.4 637.8h8v8h-8zM1908.8 638.7h8v8h-8zM1910.3 636.9h8v8h-8zM1911.7 638.3h8v8h-8zM1913.1 638.4h8v8h-8zM1914.5 641h8v8h-8zM1916 637.8h8v8h-8zM1917.4 640.3h8v8h-8zM1918.8 641.8h8v8h-8zM1920.2 642.2h8v8h-8zM1921.6 641.6h8v8h-8zM1923.1 641h8v8h-8zM1924.5 638.6h8v8h-8zM1925.9 640.9h8v8h-8zM1927.3 642.2h8v8h-8zM1928.8 638.1h8v8h-8zM1930.2 639.3h8v8h-8zM1931.6 642.4h8v8h-8zM1933 642.3h8v8h-8zM1934.4 641.8h8v8h-8zM1935.9 640.5h8v8h-8zM1937.3 637.5h8v8h-8zM1938.7 637h8v8h-8zM1940.1 639h8v8h-8zM1941.5 641.2h8v8h-8zM1943 640.1h8v8h-8zM1944.4 640.4h8v8h-8zM1945.8 640.6h8v8h-8zM1947.2 642.5h8v8h-8zM1948.7 639.1h8v8h-8zM1950.1 637.7h8v8h-8zM1951.5 638.3h8v8h-8zM1952.9 642h8v8h-8zM1954.3 639.5h8v8h-8zM1955.8 641.6h8v8h-8zM1957.2 638.4h8v8h-8zM1958.6 640h8v8h-8zM1960 637h8v8h-8zM1961.5 637.9h8v8h-8zM1962.9 641.9h8v8h-8zM1964.3 640.7h8v8h-8zM1965.7 637.2h8v8h-8zM1967.1 639.9h8v8h-8zM1968.6 640h8v8h-8zM1970 640h8v8h-8zM1971.4 638.1h8v8h-8zM1972.8 637.1h8v8h-8zM1974.2 639.4h8v8h-8zM1975.7 636.9h8v8h-8zM1977.1 639.1h8v8h-8zM1978.5 642h8v8h-8zM1979.9 637.8h8v8h-8zM1981.4 640.1h8v8h-8zM1982.8 642.3h8v8h-8zM1984.2 636.8h8v8h-8zM1985.6 642.4h8v8h-8zM1987 639.2h8v8h-8zM1988.5 639.7h8v8h-8zM1989.9 637.4h8v8h-8zM1991.3 640.3h8v8h-8zM1992.7 641.3h8v8h-8zM1994.2 640.9h8v8h-8zM1995.6 641.4h8v8h-8zM1997 639.3h8v8h-8zM1998.4 640.5h8v8h-8zM1999.8 638.1h8v8h-8zM2001.3 641.2h8v8h-8zM2002.7 640.5h8v8h-8zM2004.1 641.1h8v8h-8zM2005.5 636.8h8v8h-8zM2006.9 637.6h8v8h-8zM2008.4 637.6h8v8h-8zM2009.8 638.9h8v8h-8zM2011.2 640.2h8v8h-8zM2012.6 641.7h8v8h-8zM2014.1 637.7h8v8h-8zM2015.5 639.7h8v8h-8zM2016.9 642.4h8v8h-8zM2018.3 641.6h8v8h-8zM2019.7 642h8v8h-8zM2021.2 638.3h8v8h-8zM2022.6 637.3h8v8h-8zM2024 641.4h8v8h-8zM2025.4 637.9h8v8h-8zM2026.8 640.7h8v8h-8zM2028.3 638.6h8v8h-8zM2029.7 637.5h8v8h-8zM2031.1 638.9h8v8h-8zM2032.5 637.9h8v8h-8zM2034 640.4h8v8h-8zM2035.4 642.5h8v8h-8zM2036.8 639.6h8v8h-8zM2038.2 639.1h8v8h-8zM2039.6 641.5h8v8h-8zM2041.1 640.3h8v8h-8zM2042.5 640.7h8v8h-8zM2043.9 642.4h8v8h-8zM2045.3 640.7h8v8h-8zM2046.8 640.3h8v8h-8zM2048.2 639.8h8v8h-8zM2049.6 638.4h8v8h-8zM2051 640.2h8v8h-8zM2052.4 636.8h8v8h-8zM2053.9 637.8h8v8h-8zM2055.3 637.1h8v8h-8zM2056.7 638.5h8v8h-8zM2058.1 638.6h8v8h-8zM2059.5 639.4h8v8h-8zM2061 637.9h8v8h-8zM2062.4 640.4h8v8h-8zM2063.8 639.1h8v8h-8zM2065.2 638.6h8v8h-8zM2066.7 639.5h8v8h-8zM2068.1 640.9h8v8h-8zM2069.5 642.1h8v8h-8zM2070.9 642.1h8v8h-8zM2072.3 640.5h8v8h-8zM2073.8 639.2h8v8h-8zM2075.2 638.1h8v8h-8zM2076.6 638.4h8v8h-8zM2078 640.8h8v8h-8zM2079.4 637.1h8v8h-8zM2080.9 641h8v8h-8zM2082.3 638.4h8v8h-8zM2083.7 642.2h8v8h-8zM2085.1 638.1h8v8h-8zM2086.6 638.6h8v8h-8zM2088 636.9h8v8h-8zM2089.4 637.3h8v8h-8zM2090.8 638.5h8v8h-8zM2092.2 637.6h8v8h-8zM2093.7 638.2h8v8h-8zM2095.1 639h8v8h-8zM2096.5 641.4h8v8h-8zM2097.9 639.5h8v8h-8zM2099.4 637.3h8v8h-8zM2100.8 641.2h8v8h-8zM2102.2 636.8h8v8h-8zM2103.6 639.4h8v8h-8zM2105 640.3h8v8h-8zM2106.5 642.6h8v8h-8zM2107.9 640.3h8v8h-8zM2109.3 641.5h8v8h-8zM2110.7 638.7h8v8h-8zM2112.1 637.3h8v8h-8zM2113.6 637.2h8v8h-8zM2115 639h8v8h-8zM2116.4 640.3h8v8h-8zM2117.8 641.9h8v8h-8zM2119.3 638.5h8v8h-8zM2120.7 639.3h8v8h-8zM2122.1 638.4h8v8h-8zM2123.5 640.4h8v8h-8zM2124.9 637.3h8v8h-8zM2126.4 641.3h8v8h-8zM2127.8 640.8h8v8h-8zM2129.2 641h8v8h-8zM2130.6 638.9h8v8h-8zM2132.1 637.3h8v8h-8zM2133.5 641.6h8v8h-8zM2134.9 638.8h8v8h-8zM2136.3 638.1h8v8h-8zM2137.7 641.3h8v8h-8zM2139.2 642.2h8v8h-8zM2140.6 639.2h8v8h-8zM2142 637.7h8v8h-8zM2143.4 637.4h8v8h-8zM2144.8 638.3h8v8h-8zM2146.3 640.1h8v8h-8zM2147.7 640.1h8v8h-8zM2149.1 639.5h8v8h-8zM2150.5 637.2h8v8h-8zM2152 640.8h8v8h-8zM2153.4 640.9h8v8h-8zM2154.8 639h8v8h-8zM2156.2 636.9h8v8h-8zM2157.6 641.5h8v8h-8zM2159.1 642.4h8v8h-8zM2160.5 641.9h8v8h-8zM2161.9 639.3h8v8h-8zM2163.3 639h8v8h-8zM2164.8 641.5h8v8h-8zM2166.2 641.5h8v8h-8zM2167.6 639.1h8v8h-8zM2169 638.8h8v8h-8zM2170.4 638.5h8v8h-8zM2171.9 638.3h8v8h-8zM2173.3 642.2h8v8h-8zM2174.7 639.7h8v8h-8zM2176.1 637.7h8v8h-8zM2177.5 636.9h8v8h-8zM2179 640.7h8v8h-8zM2180.4 637.6h8v8h-8zM2181.8 638.8h8v8h-8zM2183.2 637.1h8v8h-8zM2184.7 641.2h8v8h-8zM2186.1 638.5h8v8h-8zM2187.5 637.6h8v8h-8zM2188.9 639.8h8v8h-8zM2190.3 642h8v8h-8zM2191.8 641.4h8v8h-8zM2193.2 641.7h8v8h-8zM2194.6 642h8v8h-8zM2196 641.7h8v8h-8zM2197.4 638.9h8v8h-8zM2198.9 642h8v8h-8zM2200.3 638.1h8v8h-8zM2201.7 638.2h8v8h-8zM2203.1 637.8h8v8h-8zM2204.6 637.8h8v8h-8zM2206 638.4h8v8h-8zM2207.4 637.1h8v8h-8zM2208.8 636.9h8v8h-8zM2210.2 638.9h8v8h-8zM2211.7 636.9h8v8h-8zM2213.1 642h8v8h-8zM2214.5 642h8v8h-8zM2215.9 642.2h8v8h-8zM2217.4 641.4h8v8h-8zM2218.8 640.4h8v8h-8zM2220.2 639.9h8v8h-8zM2221.6 638.6h8v8h-8zM2223 638.2h8v8h-8zM2224.5 642.1h8v8h-8zM2225.9 640.2h8v8h-8zM2227.3 639.4h8v8h-8zM2228.7 640.4h8v8h-8zM2230.1 641.9h8v8h-8zM2231.6 639.1h8v8h-8zM2233 640.4h8v8h-8zM2234.4 638.5h8v8h-8zM2235.8 639.7h8v8h-8zM2237.3 636.9h8v8h-8zM2238.7 637h8v8h-8zM2240.1 642.2h8v8h-8zM2241.5 638.1h8v8h-8zM2242.9 638.3h8v8h-8zM2244.4 640.8h8v8h-8zM2245.8 641.9h8v8h-8zM2247.2 639.8h8v8h-8zM2248.6 640.5h8v8h-8zM2250.1 638.2h8v8h-8zM2251.5 637.2h8v8h-8zM2252.9 640.3h8v8h-8zM2254.3 640.9h8v8h-8zM2255.7 639.6h8v8h-8zM2257.2 638.5h8v8h-8zM2258.6 637.9h8v8h-8zM2260 639.2h8v8h-8zM2261.4 640.8h8v8h-8zM2262.8 640.6h8v8h-8zM2264.3 637.6h8v8h-8zM2265.7 639.5h8v8h-8zM2267.1 642.3h8v8h-8zM2268.5 640.1h8v8h-8zM2270 641.2h8v8h-8zM2271.4 638.7h8v8h-8zM2272.8 642.2h8v8h-8zM2274.2 641h8v8h-8zM2275.6 642h8v8h-8zM2277.1 639.8h8v8h-8zM2278.5 636.8h8v8h-8zM2279.9 639.4h8v8h-8zM2281.3 640.3h8v8h-8zM2282.7 637.1h8v8h-8zM2284.2 642h8v8h-8zM2285.6 640.5h8v8h-8zM2287 637.8h8v8h-8zM2288.4 642.6h8v8h-8zM2289.9 638.1h8v8h-8zM2291.3 640.5h8v8h-8zM2292.7 642.5h8v8h-8zM2294.1 642.9h8v8h-8zM2295.5 641.7h8v8h-8zM2297 642.2h8v8h-8zM2298.4 641.4h8v8h-8zM2299.8 644.1h8v8h-8zM2301.2 643.1h8v8h-8zM2302.7 638.7h8v8h-8zM2304.1 641.8h8v8h-8zM2305.5 641.6h8v8h-8zM2306.9 643.9h8v8h-8zM2308.3 642.8h8v8h-8zM2309.8 638.8h8v8h-8zM2311.2 640.4h8v8h-8zM2312.6 641.4h8v8h-8zM2314 644.1h8v8h-8zM2315.4 642.1h8v8h-8zM2316.9 639.8h8v8h-8zM2318.3 641.9h8v8h-8zM2319.7 640.9h8v8h-8zM2321.1 639.1h8v8h-8zM2322.6 640.6h8v8h-8zM2324 640.7h8v8h-8zM2325.4 644.2h8v8h-8zM2326.8 644.3h8v8h-8zM2328.2 639.9h8v8h-8zM2329.7 642h8v8h-8zM2331.1 639.3h8v8h-8zM2332.5 639.6h8v8h-8zM2333.9 639h8v8h-8zM2335.3 642.2h8v8h-8zM2336.8 638.5h8v8h-8zM2338.2 640h8v8h-8zM2339.6 639.2h8v8h-8zM2341 643.6h8v8h-8zM2342.5 639.8h8v8h-8zM2343.9 641.9h8v8h-8zM2345.3 638.7h8v8h-8zM2346.7 638.6h8v8h-8zM2348.1 643.2h8v8h-8zM2349.6 641.9h8v8h-8zM2351 642.8h8v8h-8zM2352.4 641.7h8v8h-8zM2353.8 642.7h8v8h-8zM2355.3 640.5h8v8h-8zM2356.7 643.7h8v8h-8zM2358.1 643.4h8v8h-8zM2359.5 641.7h8v8h-8zM2360.9 644h8v8h-8zM2362.4 642.2h8v8h-8zM2363.8 639.1h8v8h-8zM2365.2 639.2h8v8h-8zM2366.6 643.3h8v8h-8zM2368 644.3h8v8h-8zM2369.5 639.5h8v8h-8zM2370.9 638.8h8v8h-8zM2372.3 640.9h8v8h-8zM2373.7 643.6h8v8h-8zM2375.2 643h8v8h-8zM2376.6 639h8v8h-8zM2378 638.9h8v8h-8z"/>
<rect x="1700.4" y="570.2" width="8" height="8" fill="#555555" />
<rect x="1689.9" y="609.7" width="8" height="8" fill="#555555" />
<rect x="1686.6" y="671.8" width="8" height="8" fill="#555555" />
<rect x="1736.8" y="696.1" width="8" height="8" fill="#555555" />
<rect x="1655.8" y="748.9" width="8" height="8" fill="#555555" />
<rect x="1712.7" y="795.1" width="8" height="8" fill="#555555" />
<rect x="1709.1" y="804.6" width="8" height="8" fill="#555555" />
<rect x="1699.3" y="829" width="8" height="8" fill="#555555" />
<rect x="1691.3" y="836.4" width="8" height="8" fill="#555555" />
<rect x="1712.1" y="878.5" width="8" height="8" fill="#555555" />
<rect x="1910.3" y="803.2" width="8" height="8" fill="#555555" />
<rect x="1935.9" y="661.4" width="8" height="8" fill="#555555" />
<rect x="1916" y="643.7" width="8" height="8" fill="#555555" />
<line x1="1529" y1="1008" x2="1537" y2="1008" stroke="#000" stroke-width="2.2" />
<text x="1521" y="1015" font-family="'Liberation Serif', serif" font-size="20" font-weight="bold" fill="#111" text-anchor="end" >0</text>
<line x1="1529" y1="971.1" x2="1533" y2="971.1" stroke="#000" stroke-width="2.2" />
<line x1="1529" y1="934.2" x2="1537" y2="934.2" stroke="#000" stroke-width="2.2" />
<text x="1521" y="941.2" font-family="'Liberation Serif', serif" font-size="20" font-weight="bold" fill="#111" text-anchor="end" >20</text>
<line x1="1529" y1="897.2" x2="1533" y2="897.2" stroke="#000" stroke-width="2.2" />
<line x1="1529" y1="860.3" x2="1537" y2="860.3" stroke="#000" stroke-width="2.2" />
<text x="1521" y="867.3" font-family="'Liberation Serif', serif" font-size="20" font-weight="bold" fill="#111" text-anchor="end" >40</text>
<line x1="1529" y1="823.4" x2="1533" y2="823.4" stroke="#000" stroke-width="2.2" />
<line x1="1529" y1="786.5" x2="1537" y2="786.5" stroke="#000" stroke-width="2.2" />
<text x="1521" y="793.5" font-family="'Liberation Serif', serif" font-size="20" font-weight="bold" fill="#111" text-anchor="end" >60</text>
<line x1="1529" y1="749.6" x2="1533" y2="749.6" stroke="#000" stroke-width="2.2" />
<line x1="1529" y1="712.7" x2="1537" y2="712.7" stroke="#000" stroke-width="2.2" />
<text x="1521" y="719.7" font-family="'Liberation Serif', serif" font-size="20" font-weight="bold" fill="#111" text-anchor="end" >80</text>
<line x1="1529" y1="675.8" x2="1533" y2="675.8" stroke="#000" stroke-width="2.2" />
<line x1="1529" y1="638.8" x2="1537" y2="638.8" stroke="#000" stroke-width="2.2" />
<text x="1521" y="645.8" font-family="'Liberation Serif', serif" font-size="20" font-weight="bold" fill="#111" text-anchor="end" >100</text>
<line x1="1529" y1="601.9" x2="1533" y2="601.9" stroke="#000" stroke-width="2.2" />
<line x1="1529" y1="565" x2="1537" y2="565" stroke="#000" stroke-width="2.2" />
<text x="1521" y="572" font-family="'Liberation Serif', serif" font-size="20" font-weight="bold" fill="#111" text-anchor="end" >120</text>
<line x1="1529" y1="1008" x2="1529" y2="1000" stroke="#000" stroke-width="2.2" />
<text x="1529" y="1036" font-family="'Liberation Serif', serif" font-size="20" font-weight="bold" fill="#111" text-anchor="middle" >0</text>
<line x1="1600.1" y1="1008" x2="1600.1" y2="1004" stroke="#000" stroke-width="2.2" />
<line x1="1671.2" y1="1008" x2="1671.2" y2="1000" stroke="#000" stroke-width="2.2" />
<text x="1671.2" y="1036" font-family="'Liberation Serif', serif" font-size="20" font-weight="bold" fill="#111" text-anchor="middle" >100</text>
<line x1="1742.2" y1="1008" x2="1742.2" y2="1004" stroke="#000" stroke-width="2.2" />
<line x1="1813.3" y1="1008" x2="1813.3" y2="1000" stroke="#000" stroke-width="2.2" />
<text x="1813.3" y="1036" font-family="'Liberation Serif', serif" font-size="20" font-weight="bold" fill="#111" text-anchor="middle" >200</text>
<line x1="1884.4" y1="1008" x2="1884.4" y2="1004" stroke="#000" stroke-width="2.2" />
<line x1="1955.5" y1="1008" x2="1955.5" y2="1000" stroke="#000" stroke-width="2.2" />
<text x="1955.5" y="1036" font-family="'Liberation Serif', serif" font-size="20" font-weight="bold" fill="#111" text-anchor="middle" >300</text>
<line x1="2026.6" y1="1008" x2="2026.6" y2="1004" stroke="#000" stroke-width="2.2" />
<line x1="2097.7" y1="1008" x2="2097.7" y2="1000" stroke="#000" stroke-width="2.2" />
<text x="2097.7" y="1036" font-family="'Liberation Serif', serif" font-size="20" font-weight="bold" fill="#111" text-anchor="middle" >400</text>
<line x1="2168.8" y1="1008" x2="2168.8" y2="1004" stroke="#000" stroke-width="2.2" />
<line x1="2239.8" y1="1008" x2="2239.8" y2="1000" stroke="#000" stroke-width="2.2" />
<text x="2239.8" y="1036" font-family="'Liberation Serif', serif" font-size="20" font-weight="bold" fill="#111" text-anchor="middle" >500</text>
<line x1="2310.9" y1="1008" x2="2310.9" y2="1004" stroke="#000" stroke-width="2.2" />
<line x1="2382" y1="1008" x2="2382" y2="1000" stroke="#000" stroke-width="2.2" />
<text x="2382" y="1036" font-family="'Liberation Serif', serif" font-size="20" font-weight="bold" fill="#111" text-anchor="middle" >600</text>
<text x="1956" y="1074" font-family="'Liberation Serif', serif" font-size="24" font-weight="bold" fill="#111" text-anchor="middle" textLength="157" lengthAdjust="spacingAndGlyphs">Cycle number</text>
<text x="0" y="0" font-family="'Liberation Serif', serif" font-size="24" font-weight="bold" fill="#111" text-anchor="middle" transform="translate(1473 773) rotate(-90)" textLength="277" lengthAdjust="spacingAndGlyphs">Coulomb efficiency (%)</text>
<rect x="2121" y="850.5" width="9" height="9" fill="#555555" />
<text x="2156" y="862" font-family="'Liberation Serif', serif" font-size="20" font-weight="bold" fill="#444" text-anchor="start" >Zn</text>
<rect x="2121" y="879.5" width="9" height="9" fill="#2B3990" />
<text x="2156" y="891" font-family="'Liberation Serif', serif" font-size="20" font-weight="bold" fill="#2B3990" text-anchor="start" >MIL-125(Ti)</text>
<rect x="2121" y="908.5" width="9" height="9" fill="#EE3A3A" />
<text x="2156" y="920" font-family="'Liberation Serif', serif" font-size="20" font-weight="bold" fill="#EE3A3A" text-anchor="start" >MIL-125(Ti)-Zn</text>
<text x="1415.4" y="547.2" font-family="'Liberation Serif', serif" font-size="64" font-weight="bold" fill="#000" text-anchor="start" >(h)</text>
<rect x="20" y="1172" width="129" height="180" fill="#fff" stroke="#1D9BD6" stroke-width="3" stroke-dasharray="3 3"/>
<polygon points="81.5,1216.5 98,1226 98,1245 81.5,1254.5 65,1245 65,1226" fill="none" stroke="#555" stroke-width="2.2"/>
<polyline points="98,1226 98,1245" fill="none" stroke="#555" stroke-width="1.2" transform="translate(-3 0)"/>
<path d="M81.5 1216.5 V1199 M81.5 1199 L70 1191 M81.5 1199 L93 1191 M65 1245 L49 1255 L37 1247 M49 1255 V1266 M98 1245 L114 1255 L126 1247 M114 1255 V1266" stroke="#555" stroke-width="2" fill="none"/>
<text x="60" y="1192" font-family="'Liberation Sans',sans-serif" font-size="11" fill="#444" font-weight="bold">O</text><text x="92" y="1192" font-family="'Liberation Sans',sans-serif" font-size="11" fill="#444" font-weight="bold">OH</text>
<text x="27" y="1250" font-family="'Liberation Sans',sans-serif" font-size="11" fill="#444" font-weight="bold">O</text><text x="127" y="1250" font-family="'Liberation Sans',sans-serif" font-size="11" fill="#444" font-weight="bold">O</text>
<text x="42" y="1278" font-family="'Liberation Sans',sans-serif" font-size="11" fill="#444" font-weight="bold">OH</text><text x="108" y="1278" font-family="'Liberation Sans',sans-serif" font-size="11" fill="#444" font-weight="bold">OH</text>
<text x="81.5" y="1309" font-family="'Liberation Sans', sans-serif" font-size="16" font-weight="bold" fill="#333" text-anchor="middle" >+</text>
<text x="31" y="1336" font-family="'Liberation Sans',sans-serif" font-size="15.5" fill="#444" textLength="108" lengthAdjust="spacingAndGlyphs">(NH<tspan font-size="8" dy="3">4</tspan><tspan dy="-3">)</tspan><tspan font-size="8" dy="3">2</tspan><tspan dy="-3">Ce(NO</tspan><tspan font-size="8" dy="3">3</tspan><tspan dy="-3">)</tspan><tspan font-size="8" dy="3">6</tspan></text>
<rect x="198" y="1167" width="188" height="184" fill="#fff" stroke="#F3C49A" stroke-width="2.5" stroke-dasharray="2 3"/>
<path d="M334.5 1323.9L331.9 1329.7M296.2 1293.1L299 1299.5M377 1257.8L370.5 1260.5M371.3 1269.7L379 1271.9M230 1276.7L233 1282.4M257.9 1204L254.2 1206.3M242.5 1220.8L240.6 1225.4M241.3 1306.9L236.8 1314.2M231.1 1262.3L237.1 1268.2M238.3 1238.3L240.5 1245.7M293.5 1311.1L286.9 1314M342.6 1226.7L348.9 1229.7M297.3 1224.5L292.5 1231.9M290.4 1311.7L282 1312.8M331 1302.6L337 1306.6M332.3 1217.4L330.6 1225.5M295.3 1216.3L293.3 1221.5M258.2 1300.4L253.7 1300.5M224.4 1290.3L226.2 1295.7M317.9 1333.3L315.1 1336.7M374 1232L367.8 1234M254.6 1290.5L261.9 1295.4M249.1 1314.5L243.7 1316.8M248.5 1258.7L246 1265.8M348.4 1327.7L353.2 1331M324.6 1213.3L326.8 1221.5M305.1 1329.9L297.5 1334M214.1 1263L211.6 1267M259.2 1300.3L256 1308.1M250.1 1302.2L244.4 1304.7M289.4 1294.2L292.3 1301.3M324.8 1234.8L328.8 1240.8M302.5 1302.5L302.6 1310.1M377.1 1275L370.7 1276.6M265.9 1337.4L266.6 1342.3M301.8 1198.3L309.1 1203M302.1 1213.2L302.6 1218.5M342 1274.8L347.4 1276.4M327.6 1335L328.7 1339.9M302.3 1300.6L298.2 1301.1M235.9 1265.6L228.1 1268.4M275.1 1327.5L270.7 1333.8M358.9 1250.7L355 1256M256.7 1209.6L254 1214.3M250.8 1254.2L246 1260.3M219.4 1279.1L226.5 1280.2M254.8 1223.5L249.9 1230.2M221.1 1246.3L219.1 1251M368.5 1278.5L364.8 1283.8M308.7 1217L307.2 1223.6M335.7 1202.3L342.4 1206.3M344.7 1271.6L350.8 1276.9M215.1 1232.8L207.2 1234.5M237.7 1262.7L236.2 1269.7M272 1305L275 1311M249 1303.4L242.1 1305.4M306.7 1301.3L305.6 1310M247.6 1206L252.7 1207.9M260 1207.4L264.8 1213.3M238.2 1254.7L245.6 1258.7M328 1320.4L323.3 1326M345.8 1303.9L342.3 1311.2M292.9 1309.5L292.9 1315.1M351.3 1210.8L353.3 1217.8M302.8 1207.5L306.9 1215.2M266.8 1303.5L272.2 1309.2M284.8 1297.3L283.4 1302.5M347.7 1243.1L341.5 1244.2M272.3 1301.5L281 1302.6M274.4 1195.8L276.6 1202.3M230.1 1247.8L236 1254M254.5 1316L251.6 1319M346 1330.8L347.5 1338M335.3 1278.1L330.4 1285.2M355.1 1271.9L356.6 1278.7M234.9 1245.4L230.7 1246.2M246.1 1191.5L249 1197.1M251.7 1242.5L259.6 1243.4M246.1 1278L248.2 1282.9M303.9 1303.6L303.9 1312.3M249.5 1263L253 1268.1M286.4 1310.9L288.6 1316.7M255.6 1226.2L261.5 1230.3M327 1272.8L321.3 1272.9M367.1 1219.8L370.9 1221.5M205.6 1251.1L201.5 1253.9M279.9 1335L284.7 1337.2M319.2 1310L317.7 1315.7M207.2 1244.1L215.1 1244.3M280.3 1305.4L283.7 1311.2M300.3 1296L304.9 1296.4M346 1281.9L342 1282.1M294.3 1189.1L300.9 1191.6M276.4 1334.4L274.3 1340.3M221.3 1270.3L220 1276.6M351.4 1215.3L356 1218.7M354.8 1312.4L347.1 1314.3M250.2 1251.4L244.2 1251.7M259.7 1305.1L267.4 1307.7M346 1279.5L341.8 1280.4M251.6 1266.1L247.6 1273.7M252.6 1246.6L256.8 1247.6M322.3 1233.1L323.5 1239.3M249 1218.6L247 1225.7M282.8 1330.8L274.2 1331.8M350.9 1313.1L354.6 1320.1M306.2 1207.8L303.8 1214.8M346.6 1265.6L354.3 1266.3M262.4 1219.6L255.8 1224.9M368.9 1292.4L363.2 1294.9M244.3 1336.7L249 1341.9M332.5 1238.2L328 1242.3M295.8 1181.7L290.6 1185.4M355.8 1220.2L356.8 1226.9M334.8 1327L327.3 1327.1M278.5 1315L272.6 1318.5M226.8 1301.1L232.2 1306.4M221 1261.4L216.2 1266.4M347.7 1231L350.5 1236.9M347.7 1321L348.5 1327M258.6 1221.4L262.8 1225.2M264.8 1190.9L271.8 1193.4M366.9 1262.1L366.4 1269.4M336.6 1261.1L331.6 1262.9M335.9 1255.5L329.9 1259.1M234.9 1302.7L240 1309.1M342.6 1232.7L335 1233.6M315.6 1205.2L323.6 1209M330.6 1241.4L325.7 1242.9M231.3 1311.1L235.9 1316.4M239.6 1295.2L239 1300.5M354.1 1268.7L348 1268.7M217.6 1275.6L216.2 1281.3M341.1 1194L336.2 1195.7M254.8 1233.1L251.2 1239.3M345.3 1241.7L338.3 1246.3M344.4 1314.3L351.9 1317.1M237.3 1215.2L230.8 1218.6M337.2 1262.6L337.9 1268.5M317.7 1290.5L312.2 1292.5M265.5 1307.9L265.1 1312.4M364.7 1218.2L370.5 1221M337.4 1212.5L333.9 1217.3M257.1 1312.6L250.4 1313.4M313.5 1210.4L315.3 1218.5M254.7 1270L257.8 1274.5M257.9 1329.2L255.1 1332.7M337.5 1267.2L341.6 1270.4M361.1 1290.4L359.8 1296.6M264.7 1232.4L267.5 1237.6M294.5 1203.4L290.2 1203.9M224.6 1290.8L228.7 1292.8M218.9 1249.6L214.4 1250.5M255.4 1195.6L257.6 1202.3M324.6 1209.3L324.2 1214M258.8 1222.4L263.1 1223.5M355.6 1243L352.5 1249.1M206.1 1272.3L207.2 1276.2M247.2 1206.1L251.1 1211.5M229 1230L227.1 1238.6M303.7 1209.7L309.2 1215.9M354.7 1255.3L355.7 1262M252.4 1187L257.8 1189.8M285.8 1314L294.3 1315.5M225 1247.8L223.6 1252.9M239.4 1227.7L236 1232.1M316.9 1338L319.8 1345.2M273.2 1185.8L268.1 1187M243.4 1187.1L249.4 1187.4M215.1 1254.7L209.4 1255.4M232.5 1297.8L235.9 1304.8M333.4 1226.5L334.6 1234.7M236.4 1313.7L234.2 1322.2M253.5 1338.6L260.9 1338.9M353.5 1261.8L359 1265.3M258.9 1239.1L261.2 1246.2M249.7 1225.4L247.7 1229.4M329.8 1238.2L324.2 1245.3M218.9 1299.3L214.3 1301.2M267.7 1210.1L265.7 1215M218.9 1277.9L221.1 1285.6M258.6 1226.5L252 1231.7M289.1 1224.3L282.9 1230M292.6 1330.5L289.2 1332.7M349.4 1270.5L343.1 1271.1M364 1280.1L367.3 1288.4M274.6 1299.3L278.1 1302M357.8 1274.5L349.3 1277.1M320.4 1210.5L322.6 1215.3M239.1 1273.6L234.5 1280.5M333.6 1230.5L326 1234.6M372.3 1261.4L373 1266.1M219.5 1235.2L224.1 1238.7M316.4 1332.6L316.9 1338.3M228.5 1221.8L221.9 1223.3M338.6 1310.6L333.7 1315.5M333.7 1205.1L329.7 1206.9M313.3 1310.2L310 1313.5M340 1201.8L342.9 1205.3M323 1234L321.9 1238.3M355.4 1283.5L360.6 1287.8M212.3 1251.4L208.5 1255.6M335.5 1222.2L330.8 1225.5M254.9 1281.3L260.3 1288.1M329 1240.2L331.8 1245.4M238 1192.7L244.9 1193.2M324.7 1238.3L324.2 1246.9M359.4 1245.2L365.4 1246.2M319.3 1224.5L320.5 1228.8M322.9 1284.1L326 1289.3M262.7 1281.4L259.6 1287M300.3 1295.3L293.1 1296.2M362.2 1249.5L357.2 1255.6M340.9 1203.4L343.2 1212.1M288.3 1311.8L287.1 1317.4M252.6 1233.4L245.4 1235.9M220.4 1230.2L214.5 1232.2M339.4 1248.5L337.6 1257.2M251.5 1212.6L248.5 1215.5M250 1187.1L252.4 1191.3M332.7 1183.7L336.2 1190.7M320.1 1220.8L316.2 1223.4M241.6 1193L239.6 1199.7M285.2 1209.2L289.3 1210M357.6 1291.9L362.1 1293.3M345 1273.7L348.2 1281.1M376.9 1238.5L383.7 1242.8M347.1 1247.1L349.1 1255.3M209.7 1277.5L210 1283.4M228.6 1301.1L224.3 1304.9M286.9 1212.9L291.3 1218.9M254.9 1330.4L260.4 1335.4M288.9 1301.9L284.9 1307.2M259.8 1291.5L268.3 1292.5M250.8 1212.7L256.3 1214.1M292.7 1293.9L289.3 1298.3M239.1 1265.4L242.3 1269.6M347.2 1276.8L338.3 1277.9M375.2 1248.2L380.7 1250.9M339.8 1205L335 1208.6M267.6 1197.4L263.4 1203.8M316.7 1305.1L311.7 1309.7M236.5 1272.4L241.9 1276.2M254.8 1295.8L251.2 1298.4M340.7 1312.9L333.9 1318.5M341.8 1269.9L338.1 1272.5" stroke="#E5251A" stroke-width="1.8" fill="none" stroke-linecap="round"/><path d="M360.1 1255L355.2 1255.5M315.6 1337.6L308.3 1340.1M339 1259.8L336.9 1266M316.5 1184.5L314.6 1190.3M316.1 1327.2L311 1332.1M338.1 1321.5L330 1321.7M220.4 1263.2L219.7 1267.5M284.8 1180.5L289 1186.7M249.8 1202.7L242.5 1207.7M264.9 1234.2L262.2 1239.8M326.7 1312.8L323.6 1317.8M261.9 1289.6L255.5 1294.5M309.2 1295.7L303.3 1299.6M235.4 1245.8L231.1 1252.1M351.8 1222.7L357.9 1227.7M363.8 1231.5L369.5 1231.7M350.7 1234.2L346 1236M358.5 1307.3L357.9 1315.8M300.9 1325.4L301.2 1332.1M244.9 1290.6L241.5 1297.4M235.1 1205.9L238.6 1208.8M272.2 1200.2L277.2 1201.6M248.3 1240.2L250 1247.9M329.2 1189L326.6 1192.2M264.7 1235.5L258.1 1241.5M232.4 1273.4L232.2 1278.6M214.1 1271.4L211 1276.1M251.7 1232.4L251.7 1236.8M312.2 1317.7L308.4 1323.1M348.6 1298.1L344 1299.5M333.3 1267L329.1 1274M326.9 1240.5L320.6 1246.2M204.8 1243.5L204.6 1249.9M360.2 1268.9L368.3 1272.4M222.1 1228.5L221.9 1233.3M329.5 1331.2L337.2 1334.8M307.3 1217.8L304.1 1223.2M315.7 1214.8L313.4 1219.2M322.2 1309.3L327.7 1312.1M341.5 1284L339.7 1291.9M337.2 1263.3L331.1 1265.5M255.2 1302.9L251.9 1307M240.9 1281.6L238.4 1286.4M355.9 1222.1L355 1227.7M228.9 1208.5L233.6 1210.4M349.2 1246.9L344.7 1252M331.7 1238.7L325.2 1241.4M229.2 1254.4L225.5 1257.2M365.4 1224.7L362.5 1229.7M320.4 1210.9L322.3 1217.2M250.4 1213.8L253.5 1221.2M329.1 1337.9L329.7 1344.9M346.3 1284.4L337.5 1285.1M331.9 1180.7L336.2 1181M214.3 1246.8L208.3 1252.8M372.7 1243.1L376.1 1246M295.3 1311.2L299.3 1315.5M237.1 1323L229.8 1328M240.8 1284.7L246.9 1287.4M352.5 1304.8L350.4 1313.3M282 1217.7L283 1225.9M263.9 1185.3L261.8 1193.8M263.3 1216.7L257.7 1222.1M340 1237.8L348.6 1240.1M375.7 1237.8L375.2 1242.9M251.4 1289.8L255.4 1290.5M242.8 1265.2L242.7 1273.3M247.6 1326.3L248.3 1334.2M233.7 1200.6L227.7 1206.8M310.9 1221.5L314.8 1223M233.2 1307.8L229 1311.9M230.1 1252.1L225.2 1252.4M289.4 1186.3L289 1191.1M295.8 1191.4L295.6 1198.1M262 1228.7L258 1230.7M286.3 1204.8L279.8 1206.4M267.5 1196.2L267.8 1204.8M268.5 1309.2L261.7 1314.2M355.3 1216.2L352.2 1220.6M367.1 1260.3L360.8 1266M210.7 1271.1L213.9 1279.4M273.6 1185.3L272.1 1193.9M247.5 1226.4L249.6 1231M374 1268L372.4 1271.6M293.4 1221.1L288.5 1225M244.4 1296.3L236.8 1299.7M292.5 1316.2L297.1 1318.4M301.1 1294.6L304.5 1299.2M238.7 1271L243.8 1273.6M365.9 1228.5L365.6 1236M334.1 1281.1L339.3 1284.7M370.6 1271.9L372.7 1275.8M235.3 1265.2L238.2 1272.9M260.6 1186.1L257.3 1188.7M281.5 1310.3L287.1 1312.7M230.8 1287.9L223.5 1290.6M353.1 1252.3L347.9 1257.4M316.4 1303.9L320.6 1305.7M294.7 1187.8L291.5 1194.5M261.5 1308L263.6 1313.4M239 1263.1L241.1 1270.4M267.3 1297.4L263.4 1303.9M262.6 1330.7L266.5 1338.3M254.1 1270.3L257.8 1273.1M362.8 1277.5L359.3 1284.8M215.8 1270.3L218.6 1273.9M250 1308.5L245.1 1313.9M298.3 1332.6L291.4 1336.6M337.8 1184.2L338.5 1191.1M256 1325.6L258.8 1329.2M296.1 1188.8L296.5 1195.5M347.5 1221.9L341.7 1222.2M297 1318.6L296.8 1324.1M296.3 1182.4L303 1188M303.4 1295.4L298.9 1297M240 1328.4L236.6 1334.1M271.2 1297.3L269.2 1302" stroke="#8E5A4E" stroke-width="1.8" fill="none" stroke-linecap="round"/><path d="M342 1317.5L334.8 1319.3M337.7 1256.1L336.4 1262.8M336.5 1265.9L330.8 1272.8M294.2 1300.8L289.5 1301.9M316.3 1223.6L320 1227.5M288.2 1308L294.4 1314.2M228.2 1304.8L226.4 1309.3M347.8 1207.6L344.6 1210M291.7 1325L294 1328.6M233.1 1198.5L239.2 1200.2M288.3 1315.1L288.4 1320.7M338.4 1282L330.8 1283.3M251.6 1231.9L254.8 1240M208.8 1242.5L202.9 1243M316.7 1208.3L320.5 1210M279.7 1300.4L276.2 1306.6M302.8 1190.4L300.4 1195.1M318.1 1214.8L318.4 1219M286.8 1191.4L280.9 1191.5M370.6 1274L365.6 1276.2M309.6 1303.5L304.2 1309.4M309.3 1299.5L316.6 1300.8M305.8 1329.3L313 1329.8M242.2 1317.7L248.6 1318.4M252.7 1183.3L260.4 1184.5M287 1222.9L284.3 1229.3M347.5 1189.7L351.6 1193.8M329.5 1226.9L323.8 1226.9M298.3 1298.6L303.3 1299M357.6 1261.1L350.9 1266.2M339.5 1257.9L331 1258.9M272.6 1182.1L279 1186.2M339.1 1311.6L337.3 1315.6M341.1 1287.3L332.8 1287.7M353.3 1296.8L358.5 1302.5M314.7 1301.8L309.3 1308.8M344.5 1277.8L346.7 1283M256.5 1234.1L259 1241.8M312.5 1179.9L320.2 1183.7M339.5 1298.2L336.9 1303.1M329.5 1327.5L335.2 1328.9M238.7 1223.1L234.1 1228.1M260.7 1186.7L265.3 1191.1M264.8 1228.2L264.4 1234.1M295.7 1323.6L299.4 1326.6M345.2 1323.6L344.9 1327.8M341.5 1300.7L341.4 1306.3M340.2 1240.5L345.4 1240.8M323.4 1191.8L323.6 1198.8M367.3 1247.5L371.7 1249.9M297.9 1185.3L297.6 1190.8M339.4 1253.5L332.5 1255.7M325.3 1216L321 1221.2M319.4 1290.2L323.8 1292.3M350.3 1227.6L351 1232.2M348.7 1207.2L343.6 1207.4M304.3 1224.8L299.7 1230.3M250.5 1261.6L249 1269.7M255.8 1243L260.3 1244.6M301.4 1316L294.5 1316.9M268.6 1188L267.9 1193.5M252 1335L253.1 1342.4M320.1 1336L313.9 1339.4M261.7 1297.1L268.9 1299.1M338.8 1255L330 1255.8M242.4 1251L238.5 1252M337.1 1264.2L333.6 1266.4M341.5 1292.9L337.3 1295.5M240.9 1213.5L236.9 1217.4M313.5 1307.5L319.6 1308.8M253.3 1215.9L256.2 1223.7M272.7 1333L269.2 1336.3M283.5 1335.1L283 1340.7M244.7 1253.7L248.4 1256M288.8 1201L283.1 1206.6M251.2 1240.5L248.1 1248M232.7 1207.2L240.3 1208.9M341.1 1287.6L345.1 1294M287.1 1318.8L284.2 1327.2M326.4 1290.4L326.9 1295M244.6 1243.7L241.9 1251.5M253.7 1245L252.7 1249.8M354.5 1203.3L358.4 1205.4M258.2 1285.5L263.1 1287.1M281.1 1214.2L274.3 1218.2M261.7 1222.8L267.9 1228.8M258.3 1209.9L253.5 1214.7M281.8 1203.9L284.8 1208.7M347.2 1247.6L344.7 1256.1M223.5 1228.5L226.9 1232.6M356.5 1218.9L354.9 1225.8M329 1206.7L325.3 1210.8M247.3 1334.5L250.2 1338.6M229.9 1218.1L237 1221.4M274.5 1192.9L283.3 1193.2M261.5 1237.8L256.5 1243.2M240.7 1193.2L235 1194.5M327.6 1199.5L330.9 1206.2M297.2 1323.6L305 1324.1M360.2 1290.7L353.2 1291.4M211.8 1236L207.2 1240.4M287.5 1207.4L294 1209.2M342.7 1248.2L346.2 1255.9M246.7 1289.2L248.7 1296.1M340.7 1213L347.1 1215.3M216.9 1260.7L220.9 1261.3M296.3 1203.6L301.5 1209M307.4 1332.6L312.3 1333.5M336.2 1242.7L339.6 1245M276.8 1215.7L272.2 1220.4M274.7 1180.7L272.2 1187.9M245.7 1234.3L242.2 1240.3M239 1284.7L235.6 1287.7M301.7 1320.6L299.8 1327.3M308 1298.9L302.7 1300M262 1238L257.6 1245.7M248.1 1299.3L243 1302.1M296.8 1207.8L304.1 1212.2M246.2 1277.8L245.8 1283.2M251.4 1204.7L249.7 1210.6M262.8 1222.8L266.3 1224.9M339.3 1226.8L346 1229.1M342.4 1253.5L340 1257M321.9 1230.1L321.4 1235.5M297.3 1219.3L294.4 1226.3M301 1308.7L298.3 1312M372.6 1289.7L376.5 1296.5M276.3 1184.6L270.2 1185.8M251.7 1232.1L250 1239.1M293.7 1299.6L289.7 1302.8M287.2 1320.7L280.7 1326M334.3 1219.2L336.5 1225.1M304.4 1188.6L297.4 1190.6M353.6 1295.6L354.1 1301.1M249.7 1241.1L253 1244.9M216.8 1277.7L218.1 1285.8M304.1 1311.3L306.7 1317.7M256.2 1237.8L263.4 1239.2M231.2 1316.4L225 1319M239.6 1287.5L243.2 1289.4M281.4 1307.6L285.2 1312.7M342.3 1295.7L341.7 1301.6M234.5 1281.1L236 1288.9M309.8 1299.4L308.8 1304.7M267.2 1289L274.4 1292.8M262 1200.4L263.7 1206M370.2 1245.2L364.8 1247.8M246.6 1290.9L251.5 1296.6M296.7 1295.5L289.7 1298.3" stroke="#A8402E" stroke-width="1.8" fill="none" stroke-linecap="round"/><path d="M356.2 1242.7L352.1 1248.6M319.2 1335.5L313.5 1337.6M353.8 1242.4L357.3 1247.8M236.2 1205.4L240.1 1212.2M221.3 1302.9L214.3 1303.8M216 1247.4L221.1 1247.9M331.5 1276.3L335 1280.5M336 1180.7L332 1180.8M270.2 1213L264.7 1213.9M267 1216.4L274.8 1218.9M307.3 1206.6L312.4 1207.1M221 1235.1L215.3 1241.2M314.6 1329.3L317.7 1334.7M273 1223.8L268.4 1225M308.5 1188.5L303.6 1189.6M243.2 1305.7L240.8 1311M339.5 1194.4L332.1 1196.7M242.9 1261.9L238.4 1265.2M279.2 1310.1L279.3 1315.4M246.6 1255.6L241.6 1256M321.4 1325.3L316.8 1326.8M325.6 1319.8L321.8 1327.2M244.9 1285.9L241.9 1289.4M316.2 1212.2L313.1 1214.7M241.6 1228.9L242.9 1233.9M253.7 1212.8L256.3 1221.2M236.2 1273.8L237.2 1280.1M303 1190.9L301.8 1196M355.2 1245.4L356.5 1250.3M310.1 1224.1L307.8 1228.6M257.8 1276.1L250.1 1276.6M303.6 1213.5L304 1220.6M306.8 1335.4L304.7 1340M327.3 1217.2L323.1 1219.1M278.4 1323.9L282.1 1328.3M314.3 1330.7L321.2 1335.2M320.7 1232.4L316.7 1235.7M247.6 1210.7L249.6 1217.6M336.4 1209.9L330 1210M343.1 1276.4L347.1 1281.8M262.3 1238.3L260.4 1241.8M277.8 1200.5L285.8 1202.9M300.7 1305.1L301.7 1309.5M222.3 1280L228.6 1282.6M245.7 1285.2L243.9 1290.5M367.4 1273.6L368.4 1280.4M302.4 1310.3L310.7 1310.8M349.2 1292L355.4 1293M258.5 1195.1L256.2 1201.5M321.4 1205.9L322.4 1213.8M314 1222.5L319.8 1226.5M337.6 1278.6L342.6 1284.2M347.9 1240.1L340.9 1243.2M361.6 1224.6L366.1 1226.3M227.7 1299.6L231.6 1307.4M236.8 1201.9L236.2 1206.9M311.3 1202L316.1 1202.7M294.9 1301.9L298.4 1309.6M334.6 1213.7L331.7 1217.5M257.7 1324.4L263.3 1325.4M307 1301.5L314.4 1303M277.2 1190L272.4 1192.4M345.6 1246.2L349.2 1249.2M326.6 1233.8L326.1 1239.6M370.7 1243.9L366.6 1246.4M263.7 1223.6L259.8 1225.6M263.3 1218.1L257.8 1222M299.9 1303.1L300 1307.9M207.8 1277.9L207.5 1283.1M353.4 1256.9L356.2 1263.1M206 1276.6L209.4 1281.2M273.3 1188.6L264.7 1190.9M270.9 1207.3L265.2 1210.5M270.5 1199.9L265.7 1207.3M260.3 1224.8L253.7 1227M247.1 1190.4L252.1 1195.5M346.7 1212.3L342.9 1214.6M230.5 1298.9L235.2 1301.7M239.1 1260L236.7 1265.9M341.6 1219.2L340.3 1223.9M277.1 1180.5L276 1187.4M300.9 1301.3L293.7 1304.4M310.7 1308.2L317.7 1309.5M303.8 1210.5L308.8 1213.9M218 1232.3L211.5 1236.9M354 1300L351.2 1305.9M273.5 1325.5L273.9 1333.5M359.4 1306.1L364 1309M301.8 1203.6L308.1 1205.3M334.5 1195.4L332.7 1201.7M312.7 1315.4L310.5 1319.3M305.3 1222.1L298.4 1226.9M300.7 1332.2L307.9 1334.3M294.3 1224.1L294.8 1232.1M351.1 1301.9L346.7 1307M228.7 1213.5L234.1 1218.8M331.6 1284.7L325.9 1290.7M215.8 1287.7L214 1291.2M213.5 1249.4L206.6 1254.4M360.7 1289.5L365.9 1294M325.8 1278.7L318.7 1279.5M315.3 1323.8L318.9 1326.2M245.8 1282.7L241 1285.6M243.7 1216L238.4 1219.8M238.6 1249.2L239.4 1254.1M378.8 1252.9L383.3 1254.9M276.8 1213.1L277.5 1217.6M254.5 1290.2L249.2 1296.1M231.6 1295.5L225.7 1301.8M375.1 1253.7L380.3 1255.4M215.2 1238.7L208 1239M224.6 1258.9L221.9 1262.1M334.5 1182.8L327.9 1182.9M228.7 1214.9L229.2 1221M297.5 1199.9L291.8 1204.2M320.5 1338.8L316.4 1339.2M212.6 1277L216.2 1280.5M333.4 1244.8L338.4 1250.8M255.9 1293.9L255.2 1300.6M279.1 1296L285.6 1296.3M330.1 1211L329.8 1218.3M316.1 1292L314.6 1299.8" stroke="#D2301E" stroke-width="1.8" fill="none" stroke-linecap="round"/><path d="M373.3 1251.2L373.7 1256.5M204.5 1252.3L208.6 1253.2M247.9 1277.4L243.1 1283.9M244.6 1305L249.4 1308.9M296.7 1194.3L290 1197.5M244.2 1291.1L240.5 1297.5M268.4 1223.7L270 1231.7M288 1295.7L294.5 1296.5M246.1 1281.7L251.1 1285.8M251.8 1309.9L249.9 1314.4M334.1 1234.9L332.4 1240.4M366.3 1239.1L358.6 1239.5M236.3 1271.9L233.6 1278.4M337.8 1278.8L344.7 1281.1M293.9 1182L300.6 1184.3M362.7 1284.8L360.7 1291M247.6 1206L251.9 1207.7M267.1 1187.6L269.9 1196M294 1218.1L296.5 1221.9M285.8 1305.3L280.1 1309.5M330.9 1326.7L332.5 1332.1M232.1 1302.1L225.1 1305.5M380.1 1249.7L375.8 1250.9M265 1335.7L272.8 1339.4M206.8 1255.9L203.8 1262.4M231.1 1290.6L228.3 1295.2M317.3 1323.9L308.6 1324.1M334.2 1291.9L339.7 1294M259.4 1310.1L255.9 1314.1M282.5 1329.6L284.3 1337.3M260.2 1331.7L265.3 1338M211.9 1285.4L217 1286.9M293.6 1218.3L288.7 1221.8M249.2 1236.5L247.5 1240.4M212 1248.2L206.7 1248.5M315.6 1216.4L318.8 1221.9M264.7 1297.8L260.9 1302.7M219.8 1282.6L213.3 1286.3M308.4 1186L301.5 1186.1M288.5 1219.1L294.9 1223.6M242.1 1334.2L250.6 1334.7M286.4 1225L294.1 1225.6M342 1232.8L344.1 1240.6M356 1224.4L351.1 1226.9M226.2 1290.3L231.7 1293.2M337.7 1233.7L333.7 1236.1M246 1319.7L242.4 1327.2M345.7 1245.9L343.5 1254.2M244.3 1234.9L240.2 1237.1M227.9 1295.2L228.8 1300M226.2 1284.5L232.9 1286.1M378.1 1277.3L383.5 1282M219 1225.1L226.4 1227.2M243.4 1278.9L248.4 1284.5M238.1 1292.9L241.6 1296.9M301.2 1296.2L304.2 1303.3M234.3 1268.7L229.1 1271.8M301.3 1185.7L297.6 1193.8M345.4 1242.5L341.2 1246.3M265.2 1186.8L264.7 1192.2M351.9 1241L357 1241.7M255.8 1249.1L253.9 1254.2M323.5 1217.2L318 1223.5M335.3 1223L329.3 1223.5M287.7 1192.1L292.9 1192.3M300.1 1182.2L294.8 1183.3M305.1 1317.1L301.7 1323.2M358.1 1296.5L366.3 1299.8M347.7 1250.9L346 1258.4M335.1 1241L329.7 1244.9M276.9 1199.8L285.2 1202.8M320.8 1189.3L316.9 1191.8M215.7 1287.6L208.3 1289.6M244.6 1241.9L247.9 1244.9M342.5 1309.5L334.7 1314M268.1 1217.3L261.3 1217.7M358.7 1267.2L357.2 1272.1M363.2 1276.4L370 1277.7M293.1 1294L298.4 1294.8M334.9 1220.4L330 1221.5M300.7 1317.4L297.2 1325.3M355.5 1271.4L356.2 1276.1M295.3 1302.5L299.6 1303.5M366.7 1262.9L374.5 1265.6M357.7 1252L351.2 1252.4M294.2 1214.8L292.3 1218.6M234.6 1302.1L232.9 1307.1M333.4 1291.5L337.1 1294.9M243.9 1296.4L247.5 1300.8M257.1 1282.3L253 1287M290.2 1325.4L283.6 1326.6M342.8 1219.2L343.7 1224.5M250.3 1251.9L252 1260M237.8 1202.6L235.4 1208.8M266.8 1290.3L267.6 1295.3M265 1218.8L268.6 1223.4M351.4 1244.5L344.7 1249M312.2 1328.9L312.5 1333.1M254.5 1242.8L246.2 1242.8M253.4 1292.8L260.1 1296.6M296.2 1185.6L291.4 1189.5M312.3 1181.8L320.4 1184.1M256.6 1322L249.4 1327M347.5 1319.4L353.4 1321.5M354.5 1239.6L356.1 1243.5M248.8 1249.1L248.1 1257M274.7 1214.9L278 1219.8M276.8 1204.6L270.8 1207" stroke="#F04030" stroke-width="1.8" fill="none" stroke-linecap="round"/>
<path d="M339.7 1212.4a2.6 2.6 0 1 0 5.2 0a2.6 2.6 0 1 0 -5.2 0M327.8 1290.6a2.6 2.6 0 1 0 5.2 0a2.6 2.6 0 1 0 -5.2 0M332.8 1309.4a2.6 2.6 0 1 0 5.2 0a2.6 2.6 0 1 0 -5.2 0M361.1 1261.7a2.6 2.6 0 1 0 5.2 0a2.6 2.6 0 1 0 -5.2 0M282.1 1192.6a2.6 2.6 0 1 0 5.2 0a2.6 2.6 0 1 0 -5.2 0M362.4 1222.7a2.6 2.6 0 1 0 5.2 0a2.6 2.6 0 1 0 -5.2 0M249.3 1224a2.6 2.6 0 1 0 5.2 0a2.6 2.6 0 1 0 -5.2 0M352.4 1311.8a2.6 2.6 0 1 0 5.2 0a2.6 2.6 0 1 0 -5.2 0M215.1 1232.3a2.6 2.6 0 1 0 5.2 0a2.6 2.6 0 1 0 -5.2 0M306.7 1191.7a2.6 2.6 0 1 0 5.2 0a2.6 2.6 0 1 0 -5.2 0M233.2 1224.2a2.6 2.6 0 1 0 5.2 0a2.6 2.6 0 1 0 -5.2 0M307.8 1327.7a2.6 2.6 0 1 0 5.2 0a2.6 2.6 0 1 0 -5.2 0M356 1293.4a2.6 2.6 0 1 0 5.2 0a2.6 2.6 0 1 0 -5.2 0M260 1214.3a2.6 2.6 0 1 0 5.2 0a2.6 2.6 0 1 0 -5.2 0M246.9 1200.1a2.6 2.6 0 1 0 5.2 0a2.6 2.6 0 1 0 -5.2 0M259.4 1213.5a2.6 2.6 0 1 0 5.2 0a2.6 2.6 0 1 0 -5.2 0M306.9 1304.9a2.6 2.6 0 1 0 5.2 0a2.6 2.6 0 1 0 -5.2 0M328.7 1233.4a2.6 2.6 0 1 0 5.2 0a2.6 2.6 0 1 0 -5.2 0M342.8 1261.7a2.6 2.6 0 1 0 5.2 0a2.6 2.6 0 1 0 -5.2 0M270.3 1295.2a2.6 2.6 0 1 0 5.2 0a2.6 2.6 0 1 0 -5.2 0M210.8 1262.8a2.6 2.6 0 1 0 5.2 0a2.6 2.6 0 1 0 -5.2 0M352.7 1213.6a2.6 2.6 0 1 0 5.2 0a2.6 2.6 0 1 0 -5.2 0M275.8 1195.6a2.6 2.6 0 1 0 5.2 0a2.6 2.6 0 1 0 -5.2 0M329.9 1236a2.6 2.6 0 1 0 5.2 0a2.6 2.6 0 1 0 -5.2 0M295.3 1328.1a2.6 2.6 0 1 0 5.2 0a2.6 2.6 0 1 0 -5.2 0M337.8 1246.4a2.6 2.6 0 1 0 5.2 0a2.6 2.6 0 1 0 -5.2 0M358.4 1268.8a2.6 2.6 0 1 0 5.2 0a2.6 2.6 0 1 0 -5.2 0" fill="#C8D41E"/><path d="M317.5 1308.7a2.6 2.6 0 1 0 5.2 0a2.6 2.6 0 1 0 -5.2 0M361.6 1235.5a2.6 2.6 0 1 0 5.2 0a2.6 2.6 0 1 0 -5.2 0M272.3 1310.7a2.6 2.6 0 1 0 5.2 0a2.6 2.6 0 1 0 -5.2 0M228.5 1289.4a2.6 2.6 0 1 0 5.2 0a2.6 2.6 0 1 0 -5.2 0M260.8 1214.4a2.6 2.6 0 1 0 5.2 0a2.6 2.6 0 1 0 -5.2 0M302.9 1205.8a2.6 2.6 0 1 0 5.2 0a2.6 2.6 0 1 0 -5.2 0M238.5 1225.8a2.6 2.6 0 1 0 5.2 0a2.6 2.6 0 1 0 -5.2 0M346.9 1215.5a2.6 2.6 0 1 0 5.2 0a2.6 2.6 0 1 0 -5.2 0M255.1 1200.2a2.6 2.6 0 1 0 5.2 0a2.6 2.6 0 1 0 -5.2 0M280.7 1299.5a2.6 2.6 0 1 0 5.2 0a2.6 2.6 0 1 0 -5.2 0M227.5 1256.2a2.6 2.6 0 1 0 5.2 0a2.6 2.6 0 1 0 -5.2 0M295.7 1187.5a2.6 2.6 0 1 0 5.2 0a2.6 2.6 0 1 0 -5.2 0M331.5 1243.8a2.6 2.6 0 1 0 5.2 0a2.6 2.6 0 1 0 -5.2 0M364.3 1293.7a2.6 2.6 0 1 0 5.2 0a2.6 2.6 0 1 0 -5.2 0M216 1261.5a2.6 2.6 0 1 0 5.2 0a2.6 2.6 0 1 0 -5.2 0M220.2 1267.2a2.6 2.6 0 1 0 5.2 0a2.6 2.6 0 1 0 -5.2 0M338.6 1241.8a2.6 2.6 0 1 0 5.2 0a2.6 2.6 0 1 0 -5.2 0M303.8 1326.8a2.6 2.6 0 1 0 5.2 0a2.6 2.6 0 1 0 -5.2 0M246.3 1281.9a2.6 2.6 0 1 0 5.2 0a2.6 2.6 0 1 0 -5.2 0M352.5 1260.9a2.6 2.6 0 1 0 5.2 0a2.6 2.6 0 1 0 -5.2 0M255.2 1296.5a2.6 2.6 0 1 0 5.2 0a2.6 2.6 0 1 0 -5.2 0M335.2 1212.4a2.6 2.6 0 1 0 5.2 0a2.6 2.6 0 1 0 -5.2 0M258.6 1329.3a2.6 2.6 0 1 0 5.2 0a2.6 2.6 0 1 0 -5.2 0M288.8 1299.9a2.6 2.6 0 1 0 5.2 0a2.6 2.6 0 1 0 -5.2 0M262.1 1187.3a2.6 2.6 0 1 0 5.2 0a2.6 2.6 0 1 0 -5.2 0M318.3 1216.2a2.6 2.6 0 1 0 5.2 0a2.6 2.6 0 1 0 -5.2 0M248.1 1309.2a2.6 2.6 0 1 0 5.2 0a2.6 2.6 0 1 0 -5.2 0M249.5 1286a2.6 2.6 0 1 0 5.2 0a2.6 2.6 0 1 0 -5.2 0M294.3 1299.3a2.6 2.6 0 1 0 5.2 0a2.6 2.6 0 1 0 -5.2 0M224.4 1241.5a2.6 2.6 0 1 0 5.2 0a2.6 2.6 0 1 0 -5.2 0M302.1 1200.9a2.6 2.6 0 1 0 5.2 0a2.6 2.6 0 1 0 -5.2 0M218.9 1219.7a2.6 2.6 0 1 0 5.2 0a2.6 2.6 0 1 0 -5.2 0M297.3 1218.2a2.6 2.6 0 1 0 5.2 0a2.6 2.6 0 1 0 -5.2 0M268.8 1210.3a2.6 2.6 0 1 0 5.2 0a2.6 2.6 0 1 0 -5.2 0M314.4 1330.6a2.6 2.6 0 1 0 5.2 0a2.6 2.6 0 1 0 -5.2 0M332.1 1275.2a2.6 2.6 0 1 0 5.2 0a2.6 2.6 0 1 0 -5.2 0" fill="#B8C820"/><path d="M295.7 1335a2.6 2.6 0 1 0 5.2 0a2.6 2.6 0 1 0 -5.2 0M279.1 1196.1a2.6 2.6 0 1 0 5.2 0a2.6 2.6 0 1 0 -5.2 0M338.8 1305.2a2.6 2.6 0 1 0 5.2 0a2.6 2.6 0 1 0 -5.2 0M328.7 1221.4a2.6 2.6 0 1 0 5.2 0a2.6 2.6 0 1 0 -5.2 0M231.6 1220.6a2.6 2.6 0 1 0 5.2 0a2.6 2.6 0 1 0 -5.2 0M229.5 1225.8a2.6 2.6 0 1 0 5.2 0a2.6 2.6 0 1 0 -5.2 0M248.1 1269a2.6 2.6 0 1 0 5.2 0a2.6 2.6 0 1 0 -5.2 0M339.4 1208.2a2.6 2.6 0 1 0 5.2 0a2.6 2.6 0 1 0 -5.2 0M254 1280.7a2.6 2.6 0 1 0 5.2 0a2.6 2.6 0 1 0 -5.2 0M298.2 1314.8a2.6 2.6 0 1 0 5.2 0a2.6 2.6 0 1 0 -5.2 0M244.5 1294a2.6 2.6 0 1 0 5.2 0a2.6 2.6 0 1 0 -5.2 0M291.6 1326.6a2.6 2.6 0 1 0 5.2 0a2.6 2.6 0 1 0 -5.2 0M346.6 1250.2a2.6 2.6 0 1 0 5.2 0a2.6 2.6 0 1 0 -5.2 0M292 1306.8a2.6 2.6 0 1 0 5.2 0a2.6 2.6 0 1 0 -5.2 0M346 1217.1a2.6 2.6 0 1 0 5.2 0a2.6 2.6 0 1 0 -5.2 0M214.6 1246.7a2.6 2.6 0 1 0 5.2 0a2.6 2.6 0 1 0 -5.2 0M217.3 1229.9a2.6 2.6 0 1 0 5.2 0a2.6 2.6 0 1 0 -5.2 0M249.9 1211.3a2.6 2.6 0 1 0 5.2 0a2.6 2.6 0 1 0 -5.2 0M373.1 1253.1a2.6 2.6 0 1 0 5.2 0a2.6 2.6 0 1 0 -5.2 0M243.1 1208.9a2.6 2.6 0 1 0 5.2 0a2.6 2.6 0 1 0 -5.2 0M295.1 1329.2a2.6 2.6 0 1 0 5.2 0a2.6 2.6 0 1 0 -5.2 0M323.9 1215.4a2.6 2.6 0 1 0 5.2 0a2.6 2.6 0 1 0 -5.2 0M296.5 1306.9a2.6 2.6 0 1 0 5.2 0a2.6 2.6 0 1 0 -5.2 0M358.2 1248a2.6 2.6 0 1 0 5.2 0a2.6 2.6 0 1 0 -5.2 0M344.5 1290.4a2.6 2.6 0 1 0 5.2 0a2.6 2.6 0 1 0 -5.2 0M262.5 1322.3a2.6 2.6 0 1 0 5.2 0a2.6 2.6 0 1 0 -5.2 0M351.9 1241.9a2.6 2.6 0 1 0 5.2 0a2.6 2.6 0 1 0 -5.2 0" fill="#D8DC30"/>
<circle cx="533" cy="1258.5" r="97" fill="#fff" stroke="#2AA8D8" stroke-width="2.2" stroke-dasharray="2 2.5"/>
<circle cx="533" cy="1258.5" r="89" fill="url(#latt)"/>
<path d="M217 1352 L186 1460 M311 1352 L220 1468 M470 1336 L481 1450 M554 1353 L500 1452" stroke="#4A5AB0" stroke-width="2" stroke-dasharray="6 4" fill="none"/>
<g transform="translate(121 1401) rotate(60)">
<polygon points="-57,-9.5 27,-9.5 27,-15 57,0 27,15 27,9.5 -57,9.5 -47,0" fill="#F7B500" />
<text x="-4" y="5" font-family="'Liberation Sans', sans-serif" font-size="14.5" font-weight="bold" fill="#2A1E00" text-anchor="middle" textLength="96" lengthAdjust="spacingAndGlyphs">Coordination</text>
</g>
<ellipse cx="168" cy="1527" rx="76" ry="78" fill="url(#gGreen)"/>
<circle cx="197" cy="1470" r="19" fill="none" stroke="#C83A20" stroke-width="2.2" stroke-dasharray="5 4"/>
<polygon points="254,1514 347,1514 347,1505 405,1527 347,1549 347,1540 254,1540 268,1527" fill="#F5B000" />
<text x="316" y="1532" font-family="'Liberation Sans', sans-serif" font-size="16" font-weight="normal" fill="#3A2A00" text-anchor="middle" >Pyrolysis</text>
<circle cx="494" cy="1527" r="78" fill="#0E8A82"/>
<g fill="url(#gBall)"><circle cx="474.8" cy="1458.2" r="4"/><circle cx="484.4" cy="1458.2" r="4"/><circle cx="494" cy="1458.2" r="4.1"/><circle cx="503.6" cy="1458.2" r="4"/><circle cx="513.2" cy="1458.2" r="4"/><circle cx="460.4" cy="1466.8" r="4.1"/><circle cx="470" cy="1466.8" r="4.2"/><circle cx="479.6" cy="1466.8" r="4.3"/><circle cx="489.2" cy="1466.8" r="4.3"/><circle cx="498.8" cy="1466.8" r="4.3"/><circle cx="508.4" cy="1466.8" r="4.3"/><circle cx="518" cy="1466.8" r="4.2"/><circle cx="527.6" cy="1466.8" r="4.1"/><circle cx="446" cy="1475.4" r="4"/><circle cx="455.6" cy="1475.4" r="4.2"/><circle cx="465.2" cy="1475.4" r="4.4"/><circle cx="474.8" cy="1475.4" r="4.5"/><circle cx="484.4" cy="1475.4" r="4.6"/><circle cx="494" cy="1475.4" r="4.6"/><circle cx="503.6" cy="1475.4" r="4.6"/><circle cx="513.2" cy="1475.4" r="4.5"/><circle cx="522.8" cy="1475.4" r="4.4"/><circle cx="532.4" cy="1475.4" r="4.2"/><circle cx="542" cy="1475.4" r="4"/><circle cx="441.2" cy="1484" r="4.1"/><circle cx="450.8" cy="1484" r="4.3"/><circle cx="460.4" cy="1484" r="4.5"/><circle cx="470" cy="1484" r="4.7"/><circle cx="479.6" cy="1484" r="4.8"/><circle cx="489.2" cy="1484" r="4.8"/><circle cx="498.8" cy="1484" r="4.8"/><circle cx="508.4" cy="1484" r="4.8"/><circle cx="518" cy="1484" r="4.7"/><circle cx="527.6" cy="1484" r="4.5"/><circle cx="537.2" cy="1484" r="4.3"/><circle cx="546.8" cy="1484" r="4.1"/><circle cx="436.4" cy="1492.6" r="4.1"/><circle cx="446" cy="1492.6" r="4.4"/><circle cx="455.6" cy="1492.6" r="4.6"/><circle cx="465.2" cy="1492.6" r="4.8"/><circle cx="474.8" cy="1492.6" r="4.9"/><circle cx="484.4" cy="1492.6" r="5"/><circle cx="494" cy="1492.6" r="5"/><circle cx="503.6" cy="1492.6" r="5"/><circle cx="513.2" cy="1492.6" r="4.9"/><circle cx="522.8" cy="1492.6" r="4.8"/><circle cx="532.4" cy="1492.6" r="4.6"/><circle cx="542" cy="1492.6" r="4.4"/><circle cx="551.6" cy="1492.6" r="4.1"/><circle cx="431.6" cy="1501.2" r="4.1"/><circle cx="441.2" cy="1501.2" r="4.4"/><circle cx="450.8" cy="1501.2" r="4.6"/><circle cx="460.4" cy="1501.2" r="4.8"/><circle cx="470" cy="1501.2" r="5"/><circle cx="479.6" cy="1501.2" r="5.1"/><circle cx="489.2" cy="1501.2" r="5.1"/><circle cx="498.8" cy="1501.2" r="5.1"/><circle cx="508.4" cy="1501.2" r="5.1"/><circle cx="518" cy="1501.2" r="5"/><circle cx="527.6" cy="1501.2" r="4.8"/><circle cx="537.2" cy="1501.2" r="4.6"/><circle cx="546.8" cy="1501.2" r="4.4"/><circle cx="556.4" cy="1501.2" r="4.1"/><circle cx="426.8" cy="1509.8" r="4"/><circle cx="436.4" cy="1509.8" r="4.4"/><circle cx="446" cy="1509.8" r="4.6"/><circle cx="455.6" cy="1509.8" r="4.8"/><circle cx="465.2" cy="1509.8" r="5"/><circle cx="474.8" cy="1509.8" r="5.1"/><circle cx="484.4" cy="1509.8" r="5.2"/><circle cx="494" cy="1509.8" r="5.2"/><circle cx="503.6" cy="1509.8" r="5.2"/><circle cx="513.2" cy="1509.8" r="5.1"/><circle cx="522.8" cy="1509.8" r="5"/><circle cx="532.4" cy="1509.8" r="4.8"/><circle cx="542" cy="1509.8" r="4.6"/><circle cx="551.6" cy="1509.8" r="4.4"/><circle cx="561.2" cy="1509.8" r="4"/><circle cx="422" cy="1518.4" r="3.9"/><circle cx="431.6" cy="1518.4" r="4.3"/><circle cx="441.2" cy="1518.4" r="4.6"/><circle cx="450.8" cy="1518.4" r="4.8"/><circle cx="460.4" cy="1518.4" r="5"/><circle cx="470" cy="1518.4" r="5.1"/><circle cx="479.6" cy="1518.4" r="5.2"/><circle cx="489.2" cy="1518.4" r="5.3"/><circle cx="498.8" cy="1518.4" r="5.3"/><circle cx="508.4" cy="1518.4" r="5.2"/><circle cx="518" cy="1518.4" r="5.1"/><circle cx="527.6" cy="1518.4" r="5"/><circle cx="537.2" cy="1518.4" r="4.8"/><circle cx="546.8" cy="1518.4" r="4.6"/><circle cx="556.4" cy="1518.4" r="4.3"/><circle cx="566" cy="1518.4" r="3.9"/><circle cx="426.8" cy="1527" r="4.1"/><circle cx="436.4" cy="1527" r="4.4"/><circle cx="446" cy="1527" r="4.7"/><circle cx="455.6" cy="1527" r="4.9"/><circle cx="465.2" cy="1527" r="5.1"/><circle cx="474.8" cy="1527" r="5.2"/><circle cx="484.4" cy="1527" r="5.3"/><circle cx="494" cy="1527" r="5.3"/><circle cx="503.6" cy="1527" r="5.3"/><circle cx="513.2" cy="1527" r="5.2"/><circle cx="522.8" cy="1527" r="5.1"/><circle cx="532.4" cy="1527" r="4.9"/><circle cx="542" cy="1527" r="4.7"/><circle cx="551.6" cy="1527" r="4.4"/><circle cx="561.2" cy="1527" r="4.1"/><circle cx="422" cy="1535.6" r="3.9"/><circle cx="431.6" cy="1535.6" r="4.3"/><circle cx="441.2" cy="1535.6" r="4.6"/><circle cx="450.8" cy="1535.6" r="4.8"/><circle cx="460.4" cy="1535.6" r="5"/><circle cx="470" cy="1535.6" r="5.1"/><circle cx="479.6" cy="1535.6" r="5.2"/><circle cx="489.2" cy="1535.6" r="5.3"/><circle cx="498.8" cy="1535.6" r="5.3"/><circle cx="508.4" cy="1535.6" r="5.2"/><circle cx="518" cy="1535.6" r="5.1"/><circle cx="527.6" cy="1535.6" r="5"/><circle cx="537.2" cy="1535.6" r="4.8"/><circle cx="546.8" cy="1535.6" r="4.6"/><circle cx="556.4" cy="1535.6" r="4.3"/><circle cx="566" cy="1535.6" r="3.9"/><circle cx="426.8" cy="1544.2" r="4"/><circle cx="436.4" cy="1544.2" r="4.4"/><circle cx="446" cy="1544.2" r="4.6"/><circle cx="455.6" cy="1544.2" r="4.8"/><circle cx="465.2" cy="1544.2" r="5"/><circle cx="474.8" cy="1544.2" r="5.1"/><circle cx="484.4" cy="1544.2" r="5.2"/><circle cx="494" cy="1544.2" r="5.2"/><circle cx="503.6" cy="1544.2" r="5.2"/><circle cx="513.2" cy="1544.2" r="5.1"/><circle cx="522.8" cy="1544.2" r="5"/><circle cx="532.4" cy="1544.2" r="4.8"/><circle cx="542" cy="1544.2" r="4.6"/><circle cx="551.6" cy="1544.2" r="4.4"/><circle cx="561.2" cy="1544.2" r="4"/><circle cx="431.6" cy="1552.8" r="4.1"/><circle cx="441.2" cy="1552.8" r="4.4"/><circle cx="450.8" cy="1552.8" r="4.6"/><circle cx="460.4" cy="1552.8" r="4.8"/><circle cx="470" cy="1552.8" r="5"/><circle cx="479.6" cy="1552.8" r="5.1"/><circle cx="489.2" cy="1552.8" r="5.1"/><circle cx="498.8" cy="1552.8" r="5.1"/><circle cx="508.4" cy="1552.8" r="5.1"/><circle cx="518" cy="1552.8" r="5"/><circle cx="527.6" cy="1552.8" r="4.8"/><circle cx="537.2" cy="1552.8" r="4.6"/><circle cx="546.8" cy="1552.8" r="4.4"/><circle cx="556.4" cy="1552.8" r="4.1"/><circle cx="436.4" cy="1561.4" r="4.1"/><circle cx="446" cy="1561.4" r="4.4"/><circle cx="455.6" cy="1561.4" r="4.6"/><circle cx="465.2" cy="1561.4" r="4.8"/><circle cx="474.8" cy="1561.4" r="4.9"/><circle cx="484.4" cy="1561.4" r="5"/><circle cx="494" cy="1561.4" r="5"/><circle cx="503.6" cy="1561.4" r="5"/><circle cx="513.2" cy="1561.4" r="4.9"/><circle cx="522.8" cy="1561.4" r="4.8"/><circle cx="532.4" cy="1561.4" r="4.6"/><circle cx="542" cy="1561.4" r="4.4"/><circle cx="551.6" cy="1561.4" r="4.1"/><circle cx="441.2" cy="1570" r="4.1"/><circle cx="450.8" cy="1570" r="4.3"/><circle cx="460.4" cy="1570" r="4.5"/><circle cx="470" cy="1570" r="4.7"/><circle cx="479.6" cy="1570" r="4.8"/><circle cx="489.2" cy="1570" r="4.8"/><circle cx="498.8" cy="1570" r="4.8"/><circle cx="508.4" cy="1570" r="4.8"/><circle cx="518" cy="1570" r="4.7"/><circle cx="527.6" cy="1570" r="4.5"/><circle cx="537.2" cy="1570" r="4.3"/><circle cx="546.8" cy="1570" r="4.1"/><circle cx="446" cy="1578.6" r="4"/><circle cx="455.6" cy="1578.6" r="4.2"/><circle cx="465.2" cy="1578.6" r="4.4"/><circle cx="474.8" cy="1578.6" r="4.5"/><circle cx="484.4" cy="1578.6" r="4.6"/><circle cx="494" cy="1578.6" r="4.6"/><circle cx="503.6" cy="1578.6" r="4.6"/><circle cx="513.2" cy="1578.6" r="4.5"/><circle cx="522.8" cy="1578.6" r="4.4"/><circle cx="532.4" cy="1578.6" r="4.2"/><circle cx="542" cy="1578.6" r="4"/><circle cx="460.4" cy="1587.2" r="4.1"/><circle cx="470" cy="1587.2" r="4.2"/><circle cx="479.6" cy="1587.2" r="4.3"/><circle cx="489.2" cy="1587.2" r="4.3"/><circle cx="498.8" cy="1587.2" r="4.3"/><circle cx="508.4" cy="1587.2" r="4.3"/><circle cx="518" cy="1587.2" r="4.2"/><circle cx="527.6" cy="1587.2" r="4.1"/><circle cx="474.8" cy="1595.8" r="4"/><circle cx="484.4" cy="1595.8" r="4"/><circle cx="494" cy="1595.8" r="4.1"/><circle cx="503.6" cy="1595.8" r="4"/><circle cx="513.2" cy="1595.8" r="4"/></g>
<circle cx="494" cy="1527" r="78" fill="url(#gShade)"/>
<circle cx="494" cy="1469" r="18" fill="none" stroke="#C83040" stroke-width="1.6" stroke-dasharray="4 3"/>
<polygon points="577,1510 664,1510 664,1502 721,1522 664,1542 664,1534 577,1534 593,1522" fill="#F5B000" />
<text x="638" y="1527" font-family="'Liberation Sans', sans-serif" font-size="16" font-weight="normal" fill="#3A2A00" text-anchor="middle" >Coating</text>
<ellipse cx="846" cy="1548" rx="121" ry="53" fill="#7E7E7E"/>
<ellipse cx="846" cy="1540" rx="121" ry="53" fill="#B4B4B4"/>
<g fill="url(#gBall2)"><circle cx="809" cy="1468" r="10.3"/><circle cx="826.5" cy="1468" r="10.3"/><circle cx="844" cy="1468" r="10.3"/><circle cx="861.5" cy="1468" r="10.3"/><circle cx="879" cy="1468" r="10.3"/><circle cx="765.2" cy="1481.5" r="10.3"/><circle cx="782.7" cy="1481.5" r="10.3"/><circle cx="800.2" cy="1481.5" r="10.3"/><circle cx="817.7" cy="1481.5" r="10.3"/><circle cx="835.2" cy="1481.5" r="10.3"/><circle cx="852.7" cy="1481.5" r="10.3"/><circle cx="870.2" cy="1481.5" r="10.3"/><circle cx="887.7" cy="1481.5" r="10.3"/><circle cx="905.2" cy="1481.5" r="10.3"/><circle cx="922.7" cy="1481.5" r="10.3"/><circle cx="756.5" cy="1495" r="10.3"/><circle cx="774" cy="1495" r="10.3"/><circle cx="791.5" cy="1495" r="10.3"/><circle cx="809" cy="1495" r="10.3"/><circle cx="826.5" cy="1495" r="10.3"/><circle cx="844" cy="1495" r="10.3"/><circle cx="861.5" cy="1495" r="10.3"/><circle cx="879" cy="1495" r="10.3"/><circle cx="896.5" cy="1495" r="10.3"/><circle cx="914" cy="1495" r="10.3"/><circle cx="931.5" cy="1495" r="10.3"/><circle cx="747.7" cy="1508.5" r="10.3"/><circle cx="765.2" cy="1508.5" r="10.3"/><circle cx="782.7" cy="1508.5" r="10.3"/><circle cx="800.2" cy="1508.5" r="10.3"/><circle cx="817.7" cy="1508.5" r="10.3"/><circle cx="835.2" cy="1508.5" r="10.3"/><circle cx="852.7" cy="1508.5" r="10.3"/><circle cx="870.2" cy="1508.5" r="10.3"/><circle cx="887.7" cy="1508.5" r="10.3"/><circle cx="905.2" cy="1508.5" r="10.3"/><circle cx="922.7" cy="1508.5" r="10.3"/><circle cx="940.2" cy="1508.5" r="10.3"/><circle cx="739" cy="1522" r="10.3"/><circle cx="756.5" cy="1522" r="10.3"/><circle cx="774" cy="1522" r="10.3"/><circle cx="791.5" cy="1522" r="10.3"/><circle cx="809" cy="1522" r="10.3"/><circle cx="826.5" cy="1522" r="10.3"/><circle cx="844" cy="1522" r="10.3"/><circle cx="861.5" cy="1522" r="10.3"/><circle cx="879" cy="1522" r="10.3"/><circle cx="896.5" cy="1522" r="10.3"/><circle cx="914" cy="1522" r="10.3"/><circle cx="931.5" cy="1522" r="10.3"/><circle cx="949" cy="1522" r="10.3"/><circle cx="747.7" cy="1535.5" r="10.3"/><circle cx="765.2" cy="1535.5" r="10.3"/><circle cx="782.7" cy="1535.5" r="10.3"/><circle cx="800.2" cy="1535.5" r="10.3"/><circle cx="817.7" cy="1535.5" r="10.3"/><circle cx="835.2" cy="1535.5" r="10.3"/><circle cx="852.7" cy="1535.5" r="10.3"/><circle cx="870.2" cy="1535.5" r="10.3"/><circle cx="887.7" cy="1535.5" r="10.3"/><circle cx="905.2" cy="1535.5" r="10.3"/><circle cx="922.7" cy="1535.5" r="10.3"/><circle cx="940.2" cy="1535.5" r="10.3"/><circle cx="756.5" cy="1549" r="10.3"/><circle cx="774" cy="1549" r="10.3"/><circle cx="791.5" cy="1549" r="10.3"/><circle cx="809" cy="1549" r="10.3"/><circle cx="826.5" cy="1549" r="10.3"/><circle cx="844" cy="1549" r="10.3"/><circle cx="861.5" cy="1549" r="10.3"/><circle cx="879" cy="1549" r="10.3"/><circle cx="896.5" cy="1549" r="10.3"/><circle cx="914" cy="1549" r="10.3"/><circle cx="931.5" cy="1549" r="10.3"/><circle cx="765.2" cy="1562.5" r="10.3"/><circle cx="782.7" cy="1562.5" r="10.3"/><circle cx="800.2" cy="1562.5" r="10.3"/><circle cx="817.7" cy="1562.5" r="10.3"/><circle cx="835.2" cy="1562.5" r="10.3"/><circle cx="852.7" cy="1562.5" r="10.3"/><circle cx="870.2" cy="1562.5" r="10.3"/><circle cx="887.7" cy="1562.5" r="10.3"/><circle cx="905.2" cy="1562.5" r="10.3"/><circle cx="922.7" cy="1562.5" r="10.3"/><circle cx="809" cy="1576" r="10.3"/><circle cx="826.5" cy="1576" r="10.3"/><circle cx="844" cy="1576" r="10.3"/><circle cx="861.5" cy="1576" r="10.3"/><circle cx="879" cy="1576" r="10.3"/></g>
<g transform="translate(846 1416) rotate(-90)">
<polygon points="-68,-10 18,-10 18,-17 68,0 18,17 18,10 -68,10 -58,0" fill="#F5B000" />
<text x="-8" y="5" font-family="'Liberation Sans', sans-serif" font-size="15" font-weight="normal" fill="#3A2A00" text-anchor="middle" >Assemble</text>
</g>
<path d="M748 1287 H699 V1164 H978 V1291 H930" fill="none" stroke="#2E56D0" stroke-width="2.5"/>
<rect x="748" y="1229" width="171" height="117" fill="#DCE2E2"/>
<ellipse cx="771" cy="1288" rx="24" ry="58" fill="#7A7A7A"/>
<ellipse cx="775" cy="1288" rx="22" ry="57" fill="url(#gDisc)"/>
<ellipse cx="837" cy="1288" rx="6" ry="58" fill="#8A8F8F"/>
<ellipse cx="917" cy="1288" rx="5" ry="58" fill="#6DB84A"/>
<rect x="919" y="1272" width="12" height="38" fill="#B8D4DC" />
<circle cx="794" cy="1241" r="3.5" fill="#8C9090" />
<circle cx="803" cy="1309" r="3.5" fill="#8C9090" />
<circle cx="823" cy="1330" r="3.5" fill="#8C9090" />
<circle cx="862" cy="1250" r="3.5" fill="#8C9090" />
<circle cx="880" cy="1298" r="3.5" fill="#8C9090" />
<circle cx="900" cy="1292" r="3.5" fill="#8C9090" />
<circle cx="906" cy="1340" r="3.5" fill="#8C9090" />
<circle cx="811" cy="1296" r="3.5" fill="#8C9090" />
<circle cx="792" cy="1338" r="3.5" fill="#8C9090" />
<circle cx="837" cy="1143" r="15" fill="#F6B400" stroke="#999" stroke-width="1"/>
<rect x="831" y="1156" width="12" height="8" fill="#888" />
<line x1="820.5" y1="1133.5" x2="817.1" y2="1131.5" stroke="#888" stroke-width="1.3" />
<line x1="832.1" y1="1124.6" x2="831" y2="1120.8" stroke="#888" stroke-width="1.3" />
<line x1="846.5" y1="1126.5" x2="848.5" y2="1123.1" stroke="#888" stroke-width="1.3" />
<line x1="855.4" y1="1138.1" x2="859.2" y2="1137" stroke="#888" stroke-width="1.3" />
<line x1="853.5" y1="1152.5" x2="856.9" y2="1154.5" stroke="#888" stroke-width="1.3" />
<path d="M714 1170 H798 M866 1170 H950 M705 1262 V1188 M971 1184 V1256" stroke="#444" stroke-width="2"/>
<polygon points="802,1170 794,1167 794,1173" fill="#444" />
<polygon points="954,1170 946,1167 946,1173" fill="#444" />
<polygon points="705,1184 702,1192 708,1192" fill="#444" />
<polygon points="971,1260 968,1252 974,1252" fill="#444" />
<text x="748" y="1187" font-family="'Liberation Sans', sans-serif" font-size="20" font-weight="normal" fill="#444" text-anchor="start" >e<tspan font-size="9" dy="-8">-</tspan></text>
<text x="905" y="1187" font-family="'Liberation Sans', sans-serif" font-size="20" font-weight="normal" fill="#444" text-anchor="start" >e<tspan font-size="9" dy="-8">-</tspan></text>
<text x="713" y="1233" font-family="'Liberation Sans', sans-serif" font-size="20" font-weight="normal" fill="#444" text-anchor="start" >e<tspan font-size="9" dy="-8">-</tspan></text>
<text x="943" y="1233" font-family="'Liberation Sans', sans-serif" font-size="20" font-weight="normal" fill="#444" text-anchor="start" >e<tspan font-size="9" dy="-8">-</tspan></text>
<text x="108" y="1635" font-family="'Liberation Sans', sans-serif" font-size="25" font-weight="normal" fill="#222" text-anchor="start" textLength="134" lengthAdjust="spacingAndGlyphs">Ce-MOF-808</text>
<text x="445" y="1635" font-family="'Liberation Sans', sans-serif" font-size="24" font-weight="normal" fill="#222" text-anchor="start" textLength="114" lengthAdjust="spacingAndGlyphs">MOF-CeO<tspan font-size="15" dy="5">2</tspan></text>
<text x="775" y="1633" font-family="'Liberation Sans', sans-serif" font-size="24" font-weight="normal" fill="#222" text-anchor="start" textLength="162" lengthAdjust="spacingAndGlyphs">MOF-CeO<tspan font-size="15" dy="5">2</tspan><tspan dy="-5">@Zn</tspan></text>
<text x="28.4" y="1155.5" font-family="'Liberation Serif', serif" font-size="66" font-weight="bold" fill="#000" text-anchor="start" >(i)</text>
<g clip-path="url(#clipJ)">
<rect x="1004" y="1106" width="728" height="534" fill="#A9A9A9" />
<g filter="url(#temMass)" fill="#000"><rect x="1108" y="1052.6" width="52.5" height="53.9" fill-opacity="0.09"/><rect x="1160" y="1052.6" width="52.5" height="53.9" fill-opacity="0.22"/><rect x="1212" y="1052.6" width="52.5" height="53.9" fill-opacity="0.26"/><rect x="1264" y="1052.6" width="52.5" height="53.9" fill-opacity="0.26"/><rect x="1316" y="1052.6" width="52.5" height="53.9" fill-opacity="0.26"/><rect x="1368" y="1052.6" width="52.5" height="53.9" fill-opacity="0.13"/><rect x="1420" y="1052.6" width="52.5" height="53.9" fill-opacity="0.09"/><rect x="1472" y="1052.6" width="52.5" height="53.9" fill-opacity="0.04"/><rect x="1524" y="1052.6" width="52.5" height="53.9" fill-opacity="0.09"/><rect x="1576" y="1052.6" width="52.5" height="53.9" fill-opacity="0.09"/><rect x="1628" y="1052.6" width="52.5" height="53.9" fill-opacity="0.09"/><rect x="1680" y="1052.6" width="52.5" height="53.9" fill-opacity="0.09"/><rect x="1732" y="1052.6" width="52.5" height="53.9" fill-opacity="0.09"/><rect x="1108" y="1106" width="52.5" height="53.9" fill-opacity="0.09"/><rect x="1160" y="1106" width="52.5" height="53.9" fill-opacity="0.22"/><rect x="1212" y="1106" width="52.5" height="53.9" fill-opacity="0.26"/><rect x="1264" y="1106" width="52.5" height="53.9" fill-opacity="0.26"/><rect x="1316" y="1106" width="52.5" height="53.9" fill-opacity="0.26"/><rect x="1368" y="1106" width="52.5" height="53.9" fill-opacity="0.13"/><rect x="1420" y="1106" width="52.5" height="53.9" fill-opacity="0.09"/><rect x="1472" y="1106" width="52.5" height="53.9" fill-opacity="0.04"/><rect x="1524" y="1106" width="52.5" height="53.9" fill-opacity="0.09"/><rect x="1576" y="1106" width="52.5" height="53.9" fill-opacity="0.09"/><rect x="1628" y="1106" width="52.5" height="53.9" fill-opacity="0.09"/><rect x="1680" y="1106" width="52.5" height="53.9" fill-opacity="0.09"/><rect x="1732" y="1106" width="52.5" height="53.9" fill-opacity="0.09"/><rect x="1056" y="1159.4" width="52.5" height="53.9" fill-opacity="0.04"/><rect x="1108" y="1159.4" width="52.5" height="53.9" fill-opacity="0.13"/><rect x="1160" y="1159.4" width="52.5" height="53.9" fill-opacity="0.48"/><rect x="1212" y="1159.4" width="52.5" height="53.9" fill-opacity="0.62"/><rect x="1264" y="1159.4" width="52.5" height="53.9" fill-opacity="0.53"/><rect x="1316" y="1159.4" width="52.5" height="53.9" fill-opacity="0.48"/><rect x="1368" y="1159.4" width="52.5" height="53.9" fill-opacity="0.31"/><rect x="1420" y="1159.4" width="52.5" height="53.9" fill-opacity="0.18"/><rect x="1472" y="1159.4" width="52.5" height="53.9" fill-opacity="0.04"/><rect x="1524" y="1159.4" width="52.5" height="53.9" fill-opacity="0.18"/><rect x="1576" y="1159.4" width="52.5" height="53.9" fill-opacity="0.18"/><rect x="1628" y="1159.4" width="52.5" height="53.9" fill-opacity="0.18"/><rect x="1680" y="1159.4" width="52.5" height="53.9" fill-opacity="0.18"/><rect x="1732" y="1159.4" width="52.5" height="53.9" fill-opacity="0.18"/><rect x="952" y="1212.8" width="52.5" height="53.9" fill-opacity="0.09"/><rect x="1004" y="1212.8" width="52.5" height="53.9" fill-opacity="0.09"/><rect x="1056" y="1212.8" width="52.5" height="53.9" fill-opacity="0.26"/><rect x="1108" y="1212.8" width="52.5" height="53.9" fill-opacity="0.44"/><rect x="1160" y="1212.8" width="52.5" height="53.9" fill-opacity="0.57"/><rect x="1212" y="1212.8" width="52.5" height="53.9" fill-opacity="0.70"/><rect x="1264" y="1212.8" width="52.5" height="53.9" fill-opacity="0.66"/><rect x="1316" y="1212.8" width="52.5" height="53.9" fill-opacity="0.62"/><rect x="1368" y="1212.8" width="52.5" height="53.9" fill-opacity="0.53"/><rect x="1420" y="1212.8" width="52.5" height="53.9" fill-opacity="0.35"/><rect x="1472" y="1212.8" width="52.5" height="53.9" fill-opacity="0.18"/><rect x="1524" y="1212.8" width="52.5" height="53.9" fill-opacity="0.31"/><rect x="1576" y="1212.8" width="52.5" height="53.9" fill-opacity="0.31"/><rect x="1628" y="1212.8" width="52.5" height="53.9" fill-opacity="0.31"/><rect x="1680" y="1212.8" width="52.5" height="53.9" fill-opacity="0.26"/><rect x="1732" y="1212.8" width="52.5" height="53.9" fill-opacity="0.26"/><rect x="952" y="1266.2" width="52.5" height="53.9" fill-opacity="0.31"/><rect x="1004" y="1266.2" width="52.5" height="53.9" fill-opacity="0.31"/><rect x="1056" y="1266.2" width="52.5" height="53.9" fill-opacity="0.44"/><rect x="1108" y="1266.2" width="52.5" height="53.9" fill-opacity="0.53"/><rect x="1160" y="1266.2" width="52.5" height="53.9" fill-opacity="0.53"/><rect x="1212" y="1266.2" width="52.5" height="53.9" fill-opacity="0.62"/><rect x="1264" y="1266.2" width="52.5" height="53.9" fill-opacity="0.62"/><rect x="1316" y="1266.2" width="52.5" height="53.9" fill-opacity="0.66"/><rect x="1368" y="1266.2" width="52.5" height="53.9" fill-opacity="0.75"/><rect x="1420" y="1266.2" width="52.5" height="53.9" fill-opacity="0.44"/><rect x="1472" y="1266.2" width="52.5" height="53.9" fill-opacity="0.31"/><rect x="1524" y="1266.2" width="52.5" height="53.9" fill-opacity="0.40"/><rect x="1576" y="1266.2" width="52.5" height="53.9" fill-opacity="0.48"/><rect x="1628" y="1266.2" width="52.5" height="53.9" fill-opacity="0.48"/><rect x="1680" y="1266.2" width="52.5" height="53.9" fill-opacity="0.31"/><rect x="1732" y="1266.2" width="52.5" height="53.9" fill-opacity="0.31"/><rect x="952" y="1319.6" width="52.5" height="53.9" fill-opacity="0.35"/><rect x="1004" y="1319.6" width="52.5" height="53.9" fill-opacity="0.35"/><rect x="1056" y="1319.6" width="52.5" height="53.9" fill-opacity="0.44"/><rect x="1108" y="1319.6" width="52.5" height="53.9" fill-opacity="0.62"/><rect x="1160" y="1319.6" width="52.5" height="53.9" fill-opacity="0.53"/><rect x="1212" y="1319.6" width="52.5" height="53.9" fill-opacity="0.57"/><rect x="1264" y="1319.6" width="52.5" height="53.9" fill-opacity="0.62"/><rect x="1316" y="1319.6" width="52.5" height="53.9" fill-opacity="0.62"/><rect x="1368" y="1319.6" width="52.5" height="53.9" fill-opacity="0.57"/><rect x="1420" y="1319.6" width="52.5" height="53.9" fill-opacity="0.40"/><rect x="1472" y="1319.6" width="52.5" height="53.9" fill-opacity="0.35"/><rect x="1524" y="1319.6" width="52.5" height="53.9" fill-opacity="0.44"/><rect x="1576" y="1319.6" width="52.5" height="53.9" fill-opacity="0.44"/><rect x="1628" y="1319.6" width="52.5" height="53.9" fill-opacity="0.44"/><rect x="1680" y="1319.6" width="52.5" height="53.9" fill-opacity="0.31"/><rect x="1732" y="1319.6" width="52.5" height="53.9" fill-opacity="0.31"/><rect x="952" y="1373" width="52.5" height="53.9" fill-opacity="0.13"/><rect x="1004" y="1373" width="52.5" height="53.9" fill-opacity="0.13"/><rect x="1056" y="1373" width="52.5" height="53.9" fill-opacity="0.44"/><rect x="1108" y="1373" width="52.5" height="53.9" fill-opacity="0.62"/><rect x="1160" y="1373" width="52.5" height="53.9" fill-opacity="0.48"/><rect x="1212" y="1373" width="52.5" height="53.9" fill-opacity="0.57"/><rect x="1264" y="1373" width="52.5" height="53.9" fill-opacity="0.66"/><rect x="1316" y="1373" width="52.5" height="53.9" fill-opacity="0.70"/><rect x="1368" y="1373" width="52.5" height="53.9" fill-opacity="0.70"/><rect x="1420" y="1373" width="52.5" height="53.9" fill-opacity="0.53"/><rect x="1472" y="1373" width="52.5" height="53.9" fill-opacity="0.44"/><rect x="1524" y="1373" width="52.5" height="53.9" fill-opacity="0.44"/><rect x="1576" y="1373" width="52.5" height="53.9" fill-opacity="0.40"/><rect x="1628" y="1373" width="52.5" height="53.9" fill-opacity="0.44"/><rect x="1680" y="1373" width="52.5" height="53.9" fill-opacity="0.26"/><rect x="1732" y="1373" width="52.5" height="53.9" fill-opacity="0.26"/><rect x="1056" y="1426.4" width="52.5" height="53.9" fill-opacity="0.04"/><rect x="1108" y="1426.4" width="52.5" height="53.9" fill-opacity="0.40"/><rect x="1160" y="1426.4" width="52.5" height="53.9" fill-opacity="0.44"/><rect x="1212" y="1426.4" width="52.5" height="53.9" fill-opacity="0.31"/><rect x="1264" y="1426.4" width="52.5" height="53.9" fill-opacity="0.44"/><rect x="1316" y="1426.4" width="52.5" height="53.9" fill-opacity="0.66"/><rect x="1368" y="1426.4" width="52.5" height="53.9" fill-opacity="0.70"/><rect x="1420" y="1426.4" width="52.5" height="53.9" fill-opacity="0.75"/><rect x="1472" y="1426.4" width="52.5" height="53.9" fill-opacity="0.53"/><rect x="1524" y="1426.4" width="52.5" height="53.9" fill-opacity="0.44"/><rect x="1576" y="1426.4" width="52.5" height="53.9" fill-opacity="0.35"/><rect x="1628" y="1426.4" width="52.5" height="53.9" fill-opacity="0.26"/><rect x="1680" y="1426.4" width="52.5" height="53.9" fill-opacity="0.09"/><rect x="1732" y="1426.4" width="52.5" height="53.9" fill-opacity="0.09"/><rect x="1108" y="1479.8" width="52.5" height="53.9" fill-opacity="0.18"/><rect x="1160" y="1479.8" width="52.5" height="53.9" fill-opacity="0.26"/><rect x="1212" y="1479.8" width="52.5" height="53.9" fill-opacity="0.31"/><rect x="1264" y="1479.8" width="52.5" height="53.9" fill-opacity="0.57"/><rect x="1316" y="1479.8" width="52.5" height="53.9" fill-opacity="0.62"/><rect x="1368" y="1479.8" width="52.5" height="53.9" fill-opacity="0.75"/><rect x="1420" y="1479.8" width="52.5" height="53.9" fill-opacity="0.79"/><rect x="1472" y="1479.8" width="52.5" height="53.9" fill-opacity="0.66"/><rect x="1524" y="1479.8" width="52.5" height="53.9" fill-opacity="0.40"/><rect x="1576" y="1479.8" width="52.5" height="53.9" fill-opacity="0.18"/><rect x="1628" y="1479.8" width="52.5" height="53.9" fill-opacity="0.04"/><rect x="1160" y="1533.2" width="52.5" height="53.9" fill-opacity="0.09"/><rect x="1212" y="1533.2" width="52.5" height="53.9" fill-opacity="0.40"/><rect x="1264" y="1533.2" width="52.5" height="53.9" fill-opacity="0.57"/><rect x="1316" y="1533.2" width="52.5" height="53.9" fill-opacity="0.57"/><rect x="1368" y="1533.2" width="52.5" height="53.9" fill-opacity="0.66"/><rect x="1420" y="1533.2" width="52.5" height="53.9" fill-opacity="0.62"/><rect x="1472" y="1533.2" width="52.5" height="53.9" fill-opacity="0.53"/><rect x="1524" y="1533.2" width="52.5" height="53.9" fill-opacity="0.09"/><rect x="1212" y="1586.6" width="52.5" height="53.9" fill-opacity="0.35"/><rect x="1264" y="1586.6" width="52.5" height="53.9" fill-opacity="0.57"/><rect x="1316" y="1586.6" width="52.5" height="53.9" fill-opacity="0.62"/><rect x="1368" y="1586.6" width="52.5" height="53.9" fill-opacity="0.48"/><rect x="1420" y="1586.6" width="52.5" height="53.9" fill-opacity="0.31"/><rect x="1472" y="1586.6" width="52.5" height="53.9" fill-opacity="0.04"/><rect x="1212" y="1640" width="52.5" height="53.9" fill-opacity="0.35"/><rect x="1264" y="1640" width="52.5" height="53.9" fill-opacity="0.57"/><rect x="1316" y="1640" width="52.5" height="53.9" fill-opacity="0.62"/><rect x="1368" y="1640" width="52.5" height="53.9" fill-opacity="0.48"/><rect x="1420" y="1640" width="52.5" height="53.9" fill-opacity="0.31"/><rect x="1472" y="1640" width="52.5" height="53.9" fill-opacity="0.04"/></g>
<rect x="1004" y="1106" width="728" height="534" fill="#000" filter="url(#grain)" opacity="0.25"/>
</g>
<g clip-path="url(#clipJi)">
<rect x="1523" y="1106" width="205" height="178" fill="#FAFAFA" />
<circle cx="1624.5" cy="1183" r="99.5" fill="#BC6C88" />
<g fill="url(#gPink)"><ellipse cx="1624.5" cy="1087" rx="7.7" ry="6"/><ellipse cx="1577" cy="1103" rx="8.1" ry="6.4"/><ellipse cx="1596" cy="1103" rx="8.8" ry="7.2"/><ellipse cx="1615" cy="1103" rx="9" ry="7.5"/><ellipse cx="1634" cy="1103" rx="9" ry="7.5"/><ellipse cx="1653" cy="1103" rx="8.8" ry="7.2"/><ellipse cx="1672" cy="1103" rx="8.1" ry="6.4"/><ellipse cx="1567.5" cy="1119" rx="8.7" ry="7.1"/><ellipse cx="1586.5" cy="1119" rx="9.4" ry="7.8"/><ellipse cx="1605.5" cy="1119" rx="9.7" ry="8.2"/><ellipse cx="1624.5" cy="1119" rx="9.8" ry="8.3"/><ellipse cx="1643.5" cy="1119" rx="9.7" ry="8.2"/><ellipse cx="1662.5" cy="1119" rx="9.4" ry="7.8"/><ellipse cx="1681.5" cy="1119" rx="8.7" ry="7.1"/><ellipse cx="1558" cy="1135" rx="9" ry="7.4"/><ellipse cx="1577" cy="1135" rx="9.7" ry="8.2"/><ellipse cx="1596" cy="1135" rx="10.1" ry="8.6"/><ellipse cx="1615" cy="1135" rx="10.2" ry="8.8"/><ellipse cx="1634" cy="1135" rx="10.2" ry="8.8"/><ellipse cx="1653" cy="1135" rx="10.1" ry="8.6"/><ellipse cx="1672" cy="1135" rx="9.7" ry="8.2"/><ellipse cx="1691" cy="1135" rx="9" ry="7.4"/><ellipse cx="1548.5" cy="1151" rx="8.9" ry="7.4"/><ellipse cx="1567.5" cy="1151" rx="9.7" ry="8.3"/><ellipse cx="1586.5" cy="1151" rx="10.2" ry="8.8"/><ellipse cx="1605.5" cy="1151" rx="10.5" ry="9.1"/><ellipse cx="1624.5" cy="1151" rx="10.6" ry="9.2"/><ellipse cx="1643.5" cy="1151" rx="10.5" ry="9.1"/><ellipse cx="1662.5" cy="1151" rx="10.2" ry="8.8"/><ellipse cx="1681.5" cy="1151" rx="9.7" ry="8.3"/><ellipse cx="1700.5" cy="1151" rx="8.9" ry="7.4"/><ellipse cx="1539" cy="1167" rx="8.6" ry="7"/><ellipse cx="1558" cy="1167" rx="9.6" ry="8.1"/><ellipse cx="1577" cy="1167" rx="10.2" ry="8.8"/><ellipse cx="1596" cy="1167" rx="10.6" ry="9.1"/><ellipse cx="1615" cy="1167" rx="10.7" ry="9.3"/><ellipse cx="1634" cy="1167" rx="10.7" ry="9.3"/><ellipse cx="1653" cy="1167" rx="10.6" ry="9.1"/><ellipse cx="1672" cy="1167" rx="10.2" ry="8.8"/><ellipse cx="1691" cy="1167" rx="9.6" ry="8.1"/><ellipse cx="1710" cy="1167" rx="8.6" ry="7"/><ellipse cx="1529.5" cy="1183" rx="7.8" ry="6.2"/><ellipse cx="1548.5" cy="1183" rx="9.3" ry="7.8"/><ellipse cx="1567.5" cy="1183" rx="10" ry="8.6"/><ellipse cx="1586.5" cy="1183" rx="10.5" ry="9"/><ellipse cx="1605.5" cy="1183" rx="10.7" ry="9.3"/><ellipse cx="1624.5" cy="1183" rx="10.8" ry="9.4"/><ellipse cx="1643.5" cy="1183" rx="10.7" ry="9.3"/><ellipse cx="1662.5" cy="1183" rx="10.5" ry="9"/><ellipse cx="1681.5" cy="1183" rx="10" ry="8.6"/><ellipse cx="1700.5" cy="1183" rx="9.3" ry="7.8"/><ellipse cx="1719.5" cy="1183" rx="7.8" ry="6.2"/><ellipse cx="1539" cy="1199" rx="8.6" ry="7"/><ellipse cx="1558" cy="1199" rx="9.6" ry="8.1"/><ellipse cx="1577" cy="1199" rx="10.2" ry="8.8"/><ellipse cx="1596" cy="1199" rx="10.6" ry="9.1"/><ellipse cx="1615" cy="1199" rx="10.7" ry="9.3"/><ellipse cx="1634" cy="1199" rx="10.7" ry="9.3"/><ellipse cx="1653" cy="1199" rx="10.6" ry="9.1"/><ellipse cx="1672" cy="1199" rx="10.2" ry="8.8"/><ellipse cx="1691" cy="1199" rx="9.6" ry="8.1"/><ellipse cx="1710" cy="1199" rx="8.6" ry="7"/><ellipse cx="1548.5" cy="1215" rx="8.9" ry="7.4"/><ellipse cx="1567.5" cy="1215" rx="9.7" ry="8.3"/><ellipse cx="1586.5" cy="1215" rx="10.2" ry="8.8"/><ellipse cx="1605.5" cy="1215" rx="10.5" ry="9.1"/><ellipse cx="1624.5" cy="1215" rx="10.6" ry="9.2"/><ellipse cx="1643.5" cy="1215" rx="10.5" ry="9.1"/><ellipse cx="1662.5" cy="1215" rx="10.2" ry="8.8"/><ellipse cx="1681.5" cy="1215" rx="9.7" ry="8.3"/><ellipse cx="1700.5" cy="1215" rx="8.9" ry="7.4"/><ellipse cx="1558" cy="1231" rx="9" ry="7.4"/><ellipse cx="1577" cy="1231" rx="9.7" ry="8.2"/><ellipse cx="1596" cy="1231" rx="10.1" ry="8.6"/><ellipse cx="1615" cy="1231" rx="10.2" ry="8.8"/><ellipse cx="1634" cy="1231" rx="10.2" ry="8.8"/><ellipse cx="1653" cy="1231" rx="10.1" ry="8.6"/><ellipse cx="1672" cy="1231" rx="9.7" ry="8.2"/><ellipse cx="1691" cy="1231" rx="9" ry="7.4"/><ellipse cx="1567.5" cy="1247" rx="8.7" ry="7.1"/><ellipse cx="1586.5" cy="1247" rx="9.4" ry="7.8"/><ellipse cx="1605.5" cy="1247" rx="9.7" ry="8.2"/><ellipse cx="1624.5" cy="1247" rx="9.8" ry="8.3"/><ellipse cx="1643.5" cy="1247" rx="9.7" ry="8.2"/><ellipse cx="1662.5" cy="1247" rx="9.4" ry="7.8"/><ellipse cx="1681.5" cy="1247" rx="8.7" ry="7.1"/><ellipse cx="1577" cy="1263" rx="8.1" ry="6.4"/><ellipse cx="1596" cy="1263" rx="8.8" ry="7.2"/><ellipse cx="1615" cy="1263" rx="9" ry="7.5"/><ellipse cx="1634" cy="1263" rx="9" ry="7.5"/><ellipse cx="1653" cy="1263" rx="8.8" ry="7.2"/><ellipse cx="1672" cy="1263" rx="8.1" ry="6.4"/><ellipse cx="1624.5" cy="1279" rx="7.7" ry="6"/></g>
<circle cx="1624.5" cy="1183" r="99.5" fill="url(#gPinkShade)" />
</g>
<path d="M1524 1106 V1284.5 H1727 V1106" fill="none" stroke="#111" stroke-width="3.5"/>
<text x="1561" y="1595" font-family="'Liberation Sans', sans-serif" font-size="52" font-weight="normal" fill="#F4F4F4" text-anchor="start" textLength="150" lengthAdjust="spacingAndGlyphs">50 nm</text>
<rect x="1532" y="1601" width="175" height="11" fill="#F4F4F4" />
<text x="1006.4" y="1159.2" font-family="'Liberation Serif', serif" font-size="64" font-weight="bold" fill="#000" text-anchor="start" >(j)</text>
<g clip-path="url(#clipK)">
<circle cx="1919" cy="1165" r="6.5" fill="url(#kZn)" /><line x1="1933.5" y1="1168.9" x2="1940" y2="1164" stroke="#9AD8E0" stroke-width="2" /><circle cx="1940" cy="1164" r="3.2" fill="url(#kH)" /><line x1="1933.5" y1="1168.9" x2="1936.7" y2="1176.3" stroke="#9AD8E0" stroke-width="2" /><circle cx="1936.7" cy="1176.3" r="3.2" fill="url(#kH)" /><circle cx="1933.5" cy="1168.9" r="4.7" fill="url(#kO)" /><line x1="1922.9" y1="1179.5" x2="1930.3" y2="1182.7" stroke="#9AD8E0" stroke-width="2" /><circle cx="1930.3" cy="1182.7" r="3.2" fill="url(#kH)" /><line x1="1922.9" y1="1179.5" x2="1918" y2="1186" stroke="#9AD8E0" stroke-width="2" /><circle cx="1918" cy="1186" r="3.2" fill="url(#kH)" /><circle cx="1922.9" cy="1179.5" r="4.7" fill="url(#kO)" /><line x1="1908.4" y1="1175.6" x2="1909.4" y2="1183.6" stroke="#9AD8E0" stroke-width="2" /><circle cx="1909.4" cy="1183.6" r="3.2" fill="url(#kH)" /><line x1="1908.4" y1="1175.6" x2="1900.4" y2="1174.6" stroke="#9AD8E0" stroke-width="2" /><circle cx="1900.4" cy="1174.6" r="3.2" fill="url(#kH)" /><circle cx="1908.4" cy="1175.6" r="4.7" fill="url(#kO)" /><line x1="1904.5" y1="1161.1" x2="1898" y2="1166" stroke="#9AD8E0" stroke-width="2" /><circle cx="1898" cy="1166" r="3.2" fill="url(#kH)" /><line x1="1904.5" y1="1161.1" x2="1901.3" y2="1153.7" stroke="#9AD8E0" stroke-width="2" /><circle cx="1901.3" cy="1153.7" r="3.2" fill="url(#kH)" /><circle cx="1904.5" cy="1161.1" r="4.7" fill="url(#kO)" /><line x1="1915.1" y1="1150.5" x2="1907.7" y2="1147.3" stroke="#9AD8E0" stroke-width="2" /><circle cx="1907.7" cy="1147.3" r="3.2" fill="url(#kH)" /><line x1="1915.1" y1="1150.5" x2="1920" y2="1144" stroke="#9AD8E0" stroke-width="2" /><circle cx="1920" cy="1144" r="3.2" fill="url(#kH)" /><circle cx="1915.1" cy="1150.5" r="4.7" fill="url(#kO)" /><line x1="1929.6" y1="1154.4" x2="1928.6" y2="1146.4" stroke="#9AD8E0" stroke-width="2" /><circle cx="1928.6" cy="1146.4" r="3.2" fill="url(#kH)" /><line x1="1929.6" y1="1154.4" x2="1937.6" y2="1155.4" stroke="#9AD8E0" stroke-width="2" /><circle cx="1937.6" cy="1155.4" r="3.2" fill="url(#kH)" /><circle cx="1929.6" cy="1154.4" r="4.7" fill="url(#kO)" />
<circle cx="2101" cy="1125" r="6.5" fill="url(#kZn)" /><line x1="2115.5" y1="1128.9" x2="2122" y2="1124" stroke="#9AD8E0" stroke-width="2" /><circle cx="2122" cy="1124" r="3.2" fill="url(#kH)" /><line x1="2115.5" y1="1128.9" x2="2118.7" y2="1136.3" stroke="#9AD8E0" stroke-width="2" /><circle cx="2118.7" cy="1136.3" r="3.2" fill="url(#kH)" /><circle cx="2115.5" cy="1128.9" r="4.7" fill="url(#kO)" /><line x1="2104.9" y1="1139.5" x2="2112.3" y2="1142.7" stroke="#9AD8E0" stroke-width="2" /><circle cx="2112.3" cy="1142.7" r="3.2" fill="url(#kH)" /><line x1="2104.9" y1="1139.5" x2="2100" y2="1146" stroke="#9AD8E0" stroke-width="2" /><circle cx="2100" cy="1146" r="3.2" fill="url(#kH)" /><circle cx="2104.9" cy="1139.5" r="4.7" fill="url(#kO)" /><line x1="2090.4" y1="1135.6" x2="2091.4" y2="1143.6" stroke="#9AD8E0" stroke-width="2" /><circle cx="2091.4" cy="1143.6" r="3.2" fill="url(#kH)" /><line x1="2090.4" y1="1135.6" x2="2082.4" y2="1134.6" stroke="#9AD8E0" stroke-width="2" /><circle cx="2082.4" cy="1134.6" r="3.2" fill="url(#kH)" /><circle cx="2090.4" cy="1135.6" r="4.7" fill="url(#kO)" /><line x1="2086.5" y1="1121.1" x2="2080" y2="1126" stroke="#9AD8E0" stroke-width="2" /><circle cx="2080" cy="1126" r="3.2" fill="url(#kH)" /><line x1="2086.5" y1="1121.1" x2="2083.3" y2="1113.7" stroke="#9AD8E0" stroke-width="2" /><circle cx="2083.3" cy="1113.7" r="3.2" fill="url(#kH)" /><circle cx="2086.5" cy="1121.1" r="4.7" fill="url(#kO)" /><line x1="2097.1" y1="1110.5" x2="2089.7" y2="1107.3" stroke="#9AD8E0" stroke-width="2" /><circle cx="2089.7" cy="1107.3" r="3.2" fill="url(#kH)" /><line x1="2097.1" y1="1110.5" x2="2102" y2="1104" stroke="#9AD8E0" stroke-width="2" /><circle cx="2102" cy="1104" r="3.2" fill="url(#kH)" /><circle cx="2097.1" cy="1110.5" r="4.7" fill="url(#kO)" /><line x1="2111.6" y1="1114.4" x2="2110.6" y2="1106.4" stroke="#9AD8E0" stroke-width="2" /><circle cx="2110.6" cy="1106.4" r="3.2" fill="url(#kH)" /><line x1="2111.6" y1="1114.4" x2="2119.6" y2="1115.4" stroke="#9AD8E0" stroke-width="2" /><circle cx="2119.6" cy="1115.4" r="3.2" fill="url(#kH)" /><circle cx="2111.6" cy="1114.4" r="4.7" fill="url(#kO)" />
<circle cx="2291" cy="1134" r="6.5" fill="url(#kZn)" /><line x1="2305.5" y1="1137.9" x2="2312" y2="1133" stroke="#9AD8E0" stroke-width="2" /><circle cx="2312" cy="1133" r="3.2" fill="url(#kH)" /><line x1="2305.5" y1="1137.9" x2="2308.7" y2="1145.3" stroke="#9AD8E0" stroke-width="2" /><circle cx="2308.7" cy="1145.3" r="3.2" fill="url(#kH)" /><circle cx="2305.5" cy="1137.9" r="4.7" fill="url(#kO)" /><line x1="2294.9" y1="1148.5" x2="2302.3" y2="1151.7" stroke="#9AD8E0" stroke-width="2" /><circle cx="2302.3" cy="1151.7" r="3.2" fill="url(#kH)" /><line x1="2294.9" y1="1148.5" x2="2290" y2="1155" stroke="#9AD8E0" stroke-width="2" /><circle cx="2290" cy="1155" r="3.2" fill="url(#kH)" /><circle cx="2294.9" cy="1148.5" r="4.7" fill="url(#kO)" /><line x1="2280.4" y1="1144.6" x2="2281.4" y2="1152.6" stroke="#9AD8E0" stroke-width="2" /><circle cx="2281.4" cy="1152.6" r="3.2" fill="url(#kH)" /><line x1="2280.4" y1="1144.6" x2="2272.4" y2="1143.6" stroke="#9AD8E0" stroke-width="2" /><circle cx="2272.4" cy="1143.6" r="3.2" fill="url(#kH)" /><circle cx="2280.4" cy="1144.6" r="4.7" fill="url(#kO)" /><line x1="2276.5" y1="1130.1" x2="2270" y2="1135" stroke="#9AD8E0" stroke-width="2" /><circle cx="2270" cy="1135" r="3.2" fill="url(#kH)" /><line x1="2276.5" y1="1130.1" x2="2273.3" y2="1122.7" stroke="#9AD8E0" stroke-width="2" /><circle cx="2273.3" cy="1122.7" r="3.2" fill="url(#kH)" /><circle cx="2276.5" cy="1130.1" r="4.7" fill="url(#kO)" /><line x1="2287.1" y1="1119.5" x2="2279.7" y2="1116.3" stroke="#9AD8E0" stroke-width="2" /><circle cx="2279.7" cy="1116.3" r="3.2" fill="url(#kH)" /><line x1="2287.1" y1="1119.5" x2="2292" y2="1113" stroke="#9AD8E0" stroke-width="2" /><circle cx="2292" cy="1113" r="3.2" fill="url(#kH)" /><circle cx="2287.1" cy="1119.5" r="4.7" fill="url(#kO)" /><line x1="2301.6" y1="1123.4" x2="2300.6" y2="1115.4" stroke="#9AD8E0" stroke-width="2" /><circle cx="2300.6" cy="1115.4" r="3.2" fill="url(#kH)" /><line x1="2301.6" y1="1123.4" x2="2309.6" y2="1124.4" stroke="#9AD8E0" stroke-width="2" /><circle cx="2309.6" cy="1124.4" r="3.2" fill="url(#kH)" /><circle cx="2301.6" cy="1123.4" r="4.7" fill="url(#kO)" />
<circle cx="2192" cy="1227" r="6.5" fill="url(#kZn)" /><line x1="2206.5" y1="1230.9" x2="2213" y2="1226" stroke="#9AD8E0" stroke-width="2" /><circle cx="2213" cy="1226" r="3.2" fill="url(#kH)" /><line x1="2206.5" y1="1230.9" x2="2209.7" y2="1238.3" stroke="#9AD8E0" stroke-width="2" /><circle cx="2209.7" cy="1238.3" r="3.2" fill="url(#kH)" /><circle cx="2206.5" cy="1230.9" r="4.7" fill="url(#kO)" /><line x1="2195.9" y1="1241.5" x2="2203.3" y2="1244.7" stroke="#9AD8E0" stroke-width="2" /><circle cx="2203.3" cy="1244.7" r="3.2" fill="url(#kH)" /><line x1="2195.9" y1="1241.5" x2="2191" y2="1248" stroke="#9AD8E0" stroke-width="2" /><circle cx="2191" cy="1248" r="3.2" fill="url(#kH)" /><circle cx="2195.9" cy="1241.5" r="4.7" fill="url(#kO)" /><line x1="2181.4" y1="1237.6" x2="2182.4" y2="1245.6" stroke="#9AD8E0" stroke-width="2" /><circle cx="2182.4" cy="1245.6" r="3.2" fill="url(#kH)" /><line x1="2181.4" y1="1237.6" x2="2173.4" y2="1236.6" stroke="#9AD8E0" stroke-width="2" /><circle cx="2173.4" cy="1236.6" r="3.2" fill="url(#kH)" /><circle cx="2181.4" cy="1237.6" r="4.7" fill="url(#kO)" /><line x1="2177.5" y1="1223.1" x2="2171" y2="1228" stroke="#9AD8E0" stroke-width="2" /><circle cx="2171" cy="1228" r="3.2" fill="url(#kH)" /><line x1="2177.5" y1="1223.1" x2="2174.3" y2="1215.7" stroke="#9AD8E0" stroke-width="2" /><circle cx="2174.3" cy="1215.7" r="3.2" fill="url(#kH)" /><circle cx="2177.5" cy="1223.1" r="4.7" fill="url(#kO)" /><line x1="2188.1" y1="1212.5" x2="2180.7" y2="1209.3" stroke="#9AD8E0" stroke-width="2" /><circle cx="2180.7" cy="1209.3" r="3.2" fill="url(#kH)" /><line x1="2188.1" y1="1212.5" x2="2193" y2="1206" stroke="#9AD8E0" stroke-width="2" /><circle cx="2193" cy="1206" r="3.2" fill="url(#kH)" /><circle cx="2188.1" cy="1212.5" r="4.7" fill="url(#kO)" /><line x1="2202.6" y1="1216.4" x2="2201.6" y2="1208.4" stroke="#9AD8E0" stroke-width="2" /><circle cx="2201.6" cy="1208.4" r="3.2" fill="url(#kH)" /><line x1="2202.6" y1="1216.4" x2="2210.6" y2="1217.4" stroke="#9AD8E0" stroke-width="2" /><circle cx="2210.6" cy="1217.4" r="3.2" fill="url(#kH)" /><circle cx="2202.6" cy="1216.4" r="4.7" fill="url(#kO)" />
<line x1="1963" y1="1222" x2="1971" y2="1211" stroke="#888" stroke-width="2.5" /><line x1="1963" y1="1222" x2="1949.8" y2="1226.8" stroke="#C03020" stroke-width="2.2" /><circle cx="1949.8" cy="1226.8" r="4.6" fill="url(#kO)" /><line x1="1963" y1="1222" x2="1954" y2="1211.3" stroke="#C03020" stroke-width="2.2" /><circle cx="1954" cy="1211.3" r="4.6" fill="url(#kO)" /><line x1="1963" y1="1222" x2="1970" y2="1234.1" stroke="#C03020" stroke-width="2.2" /><circle cx="1970" cy="1234.1" r="4.6" fill="url(#kO)" /><line x1="1971" y1="1211" x2="1968.9" y2="1199.2" stroke="#8A3AA8" stroke-width="2.2" /><circle cx="1968.9" cy="1199.2" r="4.2" fill="url(#kF)" /><line x1="1971" y1="1211" x2="1982.3" y2="1206.9" stroke="#8A3AA8" stroke-width="2.2" /><circle cx="1982.3" cy="1206.9" r="4.2" fill="url(#kF)" /><line x1="1971" y1="1211" x2="1959.7" y2="1206.9" stroke="#8A3AA8" stroke-width="2.2" /><circle cx="1959.7" cy="1206.9" r="4.2" fill="url(#kF)" /><circle cx="1971" cy="1211" r="5" fill="url(#kC)" /><circle cx="1963" cy="1222" r="5.6" fill="url(#kS)" />
<line x1="2262" y1="1190" x2="2270" y2="1179" stroke="#888" stroke-width="2.5" /><line x1="2262" y1="1190" x2="2248.8" y2="1194.8" stroke="#C03020" stroke-width="2.2" /><circle cx="2248.8" cy="1194.8" r="4.6" fill="url(#kO)" /><line x1="2262" y1="1190" x2="2253" y2="1179.3" stroke="#C03020" stroke-width="2.2" /><circle cx="2253" cy="1179.3" r="4.6" fill="url(#kO)" /><line x1="2262" y1="1190" x2="2269" y2="1202.1" stroke="#C03020" stroke-width="2.2" /><circle cx="2269" cy="1202.1" r="4.6" fill="url(#kO)" /><line x1="2270" y1="1179" x2="2267.9" y2="1167.2" stroke="#8A3AA8" stroke-width="2.2" /><circle cx="2267.9" cy="1167.2" r="4.2" fill="url(#kF)" /><line x1="2270" y1="1179" x2="2281.3" y2="1174.9" stroke="#8A3AA8" stroke-width="2.2" /><circle cx="2281.3" cy="1174.9" r="4.2" fill="url(#kF)" /><line x1="2270" y1="1179" x2="2258.7" y2="1174.9" stroke="#8A3AA8" stroke-width="2.2" /><circle cx="2258.7" cy="1174.9" r="4.2" fill="url(#kF)" /><circle cx="2270" cy="1179" r="5" fill="url(#kC)" /><circle cx="2262" cy="1190" r="5.6" fill="url(#kS)" />
<line x1="2222" y1="1106" x2="2229.2" y2="1096.1" stroke="#888" stroke-width="2.2" /><line x1="2222" y1="1106" x2="2210.2" y2="1110.3" stroke="#C03020" stroke-width="2" /><circle cx="2210.2" cy="1110.3" r="4.1" fill="url(#kO)" /><line x1="2222" y1="1106" x2="2213.9" y2="1096.3" stroke="#C03020" stroke-width="2" /><circle cx="2213.9" cy="1096.3" r="4.1" fill="url(#kO)" /><line x1="2222" y1="1106" x2="2228.3" y2="1116.9" stroke="#C03020" stroke-width="2" /><circle cx="2228.3" cy="1116.9" r="4.1" fill="url(#kO)" /><line x1="2229.2" y1="1096.1" x2="2227.3" y2="1085.5" stroke="#8A3AA8" stroke-width="2" /><circle cx="2227.3" cy="1085.5" r="3.8" fill="url(#kF)" /><line x1="2229.2" y1="1096.1" x2="2239.3" y2="1092.4" stroke="#8A3AA8" stroke-width="2" /><circle cx="2239.3" cy="1092.4" r="3.8" fill="url(#kF)" /><line x1="2229.2" y1="1096.1" x2="2219.1" y2="1092.4" stroke="#8A3AA8" stroke-width="2" /><circle cx="2219.1" cy="1092.4" r="3.8" fill="url(#kF)" /><circle cx="2229.2" cy="1096.1" r="4.5" fill="url(#kC)" /><circle cx="2222" cy="1106" r="5" fill="url(#kS)" />
<line x1="2011" y1="1127" x2="2013.8" y2="1118.4" stroke="#9AD8E0" stroke-width="2.2" /><circle cx="2013.8" cy="1118.4" r="3.6" fill="url(#kH)" /><line x1="2011" y1="1127" x2="2018.6" y2="1131.8" stroke="#9AD8E0" stroke-width="2.2" /><circle cx="2018.6" cy="1131.8" r="3.6" fill="url(#kH)" /><circle cx="2011" cy="1127" r="5.2" fill="url(#kO)" />
<line x1="2183" y1="1152" x2="2184.3" y2="1143.1" stroke="#9AD8E0" stroke-width="2.2" /><circle cx="2184.3" cy="1143.1" r="3.6" fill="url(#kH)" /><line x1="2183" y1="1152" x2="2191.3" y2="1155.4" stroke="#9AD8E0" stroke-width="2.2" /><circle cx="2191.3" cy="1155.4" r="3.6" fill="url(#kH)" /><circle cx="2183" cy="1152" r="5.2" fill="url(#kO)" />
<line x1="2106" y1="1190" x2="2104.1" y2="1181.2" stroke="#9AD8E0" stroke-width="2.2" /><circle cx="2104.1" cy="1181.2" r="3.6" fill="url(#kH)" /><line x1="2106" y1="1190" x2="2115" y2="1190.3" stroke="#9AD8E0" stroke-width="2.2" /><circle cx="2115" cy="1190.3" r="3.6" fill="url(#kH)" /><circle cx="2106" cy="1190" r="5.2" fill="url(#kO)" />
<line x1="2341" y1="1177" x2="2333.1" y2="1172.8" stroke="#9AD8E0" stroke-width="2.2" /><circle cx="2333.1" cy="1172.8" r="3.6" fill="url(#kH)" /><line x1="2341" y1="1177" x2="2347" y2="1170.3" stroke="#9AD8E0" stroke-width="2.2" /><circle cx="2347" cy="1170.3" r="3.6" fill="url(#kH)" /><circle cx="2341" cy="1177" r="5.2" fill="url(#kO)" />
<line x1="2086" y1="1241" x2="2085.7" y2="1232" stroke="#9AD8E0" stroke-width="2.2" /><circle cx="2085.7" cy="1232" r="3.6" fill="url(#kH)" /><line x1="2086" y1="1241" x2="2094.8" y2="1242.9" stroke="#9AD8E0" stroke-width="2.2" /><circle cx="2094.8" cy="1242.9" r="3.6" fill="url(#kH)" /><circle cx="2086" cy="1241" r="5.2" fill="url(#kO)" />
<line x1="2273" y1="1258" x2="2269.6" y2="1249.7" stroke="#9AD8E0" stroke-width="2.2" /><circle cx="2269.6" cy="1249.7" r="3.6" fill="url(#kH)" /><line x1="2273" y1="1258" x2="2281.9" y2="1256.7" stroke="#9AD8E0" stroke-width="2.2" /><circle cx="2281.9" cy="1256.7" r="3.6" fill="url(#kH)" /><circle cx="2273" cy="1258" r="5.2" fill="url(#kO)" />
<line x1="1856" y1="1270" x2="1848.9" y2="1264.5" stroke="#9AD8E0" stroke-width="2.2" /><circle cx="1848.9" cy="1264.5" r="3.6" fill="url(#kH)" /><line x1="1856" y1="1270" x2="1863.1" y2="1264.5" stroke="#9AD8E0" stroke-width="2.2" /><circle cx="1863.1" cy="1264.5" r="3.6" fill="url(#kH)" /><circle cx="1856" cy="1270" r="5.2" fill="url(#kO)" />
<line x1="1872" y1="1270" x2="1864.9" y2="1264.5" stroke="#9AD8E0" stroke-width="2.2" /><circle cx="1864.9" cy="1264.5" r="3.6" fill="url(#kH)" /><line x1="1872" y1="1270" x2="1879.1" y2="1264.5" stroke="#9AD8E0" stroke-width="2.2" /><circle cx="1879.1" cy="1264.5" r="3.6" fill="url(#kH)" /><circle cx="1872" cy="1270" r="5.2" fill="url(#kO)" />
<line x1="1908" y1="1300" x2="1902" y2="1293.3" stroke="#9AD8E0" stroke-width="2.2" /><circle cx="1902" cy="1293.3" r="3.6" fill="url(#kH)" /><line x1="1908" y1="1300" x2="1915.9" y2="1295.8" stroke="#9AD8E0" stroke-width="2.2" /><circle cx="1915.9" cy="1295.8" r="3.6" fill="url(#kH)" /><circle cx="1908" cy="1300" r="5.2" fill="url(#kO)" />
<line x1="2112" y1="1281" x2="2107.2" y2="1273.4" stroke="#9AD8E0" stroke-width="2.2" /><circle cx="2107.2" cy="1273.4" r="3.6" fill="url(#kH)" /><line x1="2112" y1="1281" x2="2120.6" y2="1278.2" stroke="#9AD8E0" stroke-width="2.2" /><circle cx="2120.6" cy="1278.2" r="3.6" fill="url(#kH)" /><circle cx="2112" cy="1281" r="5.2" fill="url(#kO)" />
<line x1="2245" y1="1290" x2="2241.6" y2="1281.7" stroke="#9AD8E0" stroke-width="2.2" /><circle cx="2241.6" cy="1281.7" r="3.6" fill="url(#kH)" /><line x1="2245" y1="1290" x2="2253.9" y2="1288.7" stroke="#9AD8E0" stroke-width="2.2" /><circle cx="2253.9" cy="1288.7" r="3.6" fill="url(#kH)" /><circle cx="2245" cy="1290" r="5.2" fill="url(#kO)" />
<line x1="2120" y1="1290" x2="2112.1" y2="1285.8" stroke="#9AD8E0" stroke-width="2.2" /><circle cx="2112.1" cy="1285.8" r="3.6" fill="url(#kH)" /><line x1="2120" y1="1290" x2="2126" y2="1283.3" stroke="#9AD8E0" stroke-width="2.2" /><circle cx="2126" cy="1283.3" r="3.6" fill="url(#kH)" /><circle cx="2120" cy="1290" r="5.2" fill="url(#kO)" />
</g>
<polygon points="1831,1306 1886,1295 1960,1302 2015,1300 2070,1290 2143,1288 2216,1290 2271,1284 2326,1275 2392,1277 2392,1317 2326,1324 2253,1322 2179,1328 2106,1330 2033,1328 1960,1332 1886,1343 1831,1346" fill="#D9A520" />
<polygon points="1831,1306 1886,1295 1960,1302 2015,1300 2070,1290 2143,1288 2216,1290 2271,1284 2326,1275 2392,1277 2392,1317 2326,1324 2253,1322 2179,1328 2106,1330 2033,1328 1960,1332 1886,1343 1831,1346" fill="url(#kMof)" />
<circle cx="1910" cy="1310" r="5.5" fill="url(#kZn)" />
<circle cx="1928" cy="1322" r="5.5" fill="url(#kZn)" />
<circle cx="2003" cy="1315" r="5.5" fill="url(#kZn)" />
<circle cx="2050" cy="1305" r="5.5" fill="url(#kZn)" />
<circle cx="2095" cy="1302" r="5.5" fill="url(#kZn)" />
<circle cx="2180" cy="1303" r="5.5" fill="url(#kZn)" />
<circle cx="2210" cy="1296" r="5.5" fill="url(#kZn)" />
<circle cx="2300" cy="1295" r="5.5" fill="url(#kZn)" />
<circle cx="2325" cy="1300" r="5.5" fill="url(#kZn)" />
<circle cx="2360" cy="1300" r="5.5" fill="url(#kZn)" />
<circle cx="1864" cy="1319" r="10.5" fill="none" stroke="#E81818" stroke-width="2.6"/><rect x="1858.5" y="1317.4" width="11" height="3.2" fill="#E81818" />
<circle cx="1974" cy="1312" r="10.5" fill="none" stroke="#E81818" stroke-width="2.6"/><rect x="1968.5" y="1310.4" width="11" height="3.2" fill="#E81818" />
<circle cx="2066" cy="1310" r="10.5" fill="none" stroke="#E81818" stroke-width="2.6"/><rect x="2060.5" y="1308.4" width="11" height="3.2" fill="#E81818" />
<circle cx="2167" cy="1306" r="10.5" fill="none" stroke="#E81818" stroke-width="2.6"/><rect x="2161.5" y="1304.4" width="11" height="3.2" fill="#E81818" />
<circle cx="2287" cy="1306" r="10.5" fill="none" stroke="#E81818" stroke-width="2.6"/><rect x="2281.5" y="1304.4" width="11" height="3.2" fill="#E81818" />
<circle cx="2368" cy="1284" r="10.5" fill="none" stroke="#E81818" stroke-width="2.6"/><rect x="2362.5" y="1282.4" width="11" height="3.2" fill="#E81818" />
<path d="M1976 1268 Q2000 1300 2020 1268" fill="none" stroke="#C8282A" stroke-width="5" stroke-linecap="round" opacity="0.85"/>
<polygon points="2014,1268 2028,1266 2022,1255" fill="#C8282A" />
<path d="M2077 1262 Q2062 1300 2040 1268" fill="none" stroke="#C8282A" stroke-width="5" stroke-linecap="round" opacity="0.85"/>
<polygon points="2034,1270 2046,1270 2036,1256" fill="#C8282A" />
<circle cx="1975" cy="1258" r="9" fill="none" stroke="#E81818" stroke-width="2.6"/><rect x="1969.5" y="1256.4" width="11" height="3.2" fill="#E81818" />
<circle cx="2077" cy="1251" r="9" fill="none" stroke="#E81818" stroke-width="2.6"/><rect x="2071.5" y="1249.4" width="11" height="3.2" fill="#E81818" />
<path d="M2262 1280 Q2320 1300 2325 1250" fill="none" stroke="#C8282A" stroke-width="5" stroke-linecap="round" opacity="0.85"/>
<polygon points="2318,1252 2332,1252 2326,1240" fill="#C8282A" />
<text x="1996" y="1216" font-family="'Liberation Sans', sans-serif" font-size="15" font-weight="bold" fill="#E8743A" text-anchor="start" textLength="92" lengthAdjust="spacingAndGlyphs">Electrostatic</text>
<text x="1996" y="1236" font-family="'Liberation Sans', sans-serif" font-size="15" font-weight="bold" fill="#E8743A" text-anchor="start" textLength="68" lengthAdjust="spacingAndGlyphs">shielding</text>
<text x="2297" y="1239" font-family="'Liberation Sans', sans-serif" font-size="15" font-weight="bold" fill="#4A70C0" text-anchor="start" textLength="88" lengthAdjust="spacingAndGlyphs">Desolvation</text>
<path d="M1930 1318 L1931.6 1320.4 L1932.2 1322.8 L1931.6 1325.1 L1930 1327.5 L1928.4 1329.9 L1927.8 1332.2 L1928.4 1334.6 L1930 1337 L1931.6 1339.4 L1932.2 1341.8 L1931.6 1344.1 L1930 1346.5 L1928.4 1348.9 L1927.8 1351.2 L1928.4 1353.6 L1930 1356 L1931.6 1358.4 L1932.2 1360.8 L1931.6 1363.1 L1930 1365.5 L1928.4 1367.9 L1927.8 1370.2 L1928.4 1372.6 L1930 1375" fill="none" stroke="#3E6EC8" stroke-width="7.5" stroke-linecap="round"/><path d="M1930 1318 L1931.6 1320.4 L1932.2 1322.8 L1931.6 1325.1 L1930 1327.5 L1928.4 1329.9 L1927.8 1332.2 L1928.4 1334.6 L1930 1337 L1931.6 1339.4 L1932.2 1341.8 L1931.6 1344.1 L1930 1346.5 L1928.4 1348.9 L1927.8 1351.2 L1928.4 1353.6 L1930 1356 L1931.6 1358.4 L1932.2 1360.8 L1931.6 1363.1 L1930 1365.5 L1928.4 1367.9 L1927.8 1370.2 L1928.4 1372.6 L1930 1375" fill="none" stroke="#B8D4F4" stroke-width="4"/><polygon points="1922,1373 1938,1373 1930,1385" fill="#B8D4F4" stroke="#3E6EC8" stroke-width="1.8"/>
<path d="M2035 1318 L2036.6 1320.4 L2037.2 1322.8 L2036.6 1325.1 L2035 1327.5 L2033.4 1329.9 L2032.8 1332.2 L2033.4 1334.6 L2035 1337 L2036.6 1339.4 L2037.2 1341.8 L2036.6 1344.1 L2035 1346.5 L2033.4 1348.9 L2032.8 1351.2 L2033.4 1353.6 L2035 1356 L2036.6 1358.4 L2037.2 1360.8 L2036.6 1363.1 L2035 1365.5 L2033.4 1367.9 L2032.8 1370.2 L2033.4 1372.6 L2035 1375" fill="none" stroke="#3E6EC8" stroke-width="7.5" stroke-linecap="round"/><path d="M2035 1318 L2036.6 1320.4 L2037.2 1322.8 L2036.6 1325.1 L2035 1327.5 L2033.4 1329.9 L2032.8 1332.2 L2033.4 1334.6 L2035 1337 L2036.6 1339.4 L2037.2 1341.8 L2036.6 1344.1 L2035 1346.5 L2033.4 1348.9 L2032.8 1351.2 L2033.4 1353.6 L2035 1356 L2036.6 1358.4 L2037.2 1360.8 L2036.6 1363.1 L2035 1365.5 L2033.4 1367.9 L2032.8 1370.2 L2033.4 1372.6 L2035 1375" fill="none" stroke="#B8D4F4" stroke-width="4"/><polygon points="2027,1373 2043,1373 2035,1385" fill="#B8D4F4" stroke="#3E6EC8" stroke-width="1.8"/>
<path d="M2108 1318 L2109.6 1320.4 L2110.2 1322.8 L2109.6 1325.1 L2108 1327.5 L2106.4 1329.9 L2105.8 1332.2 L2106.4 1334.6 L2108 1337 L2109.6 1339.4 L2110.2 1341.8 L2109.6 1344.1 L2108 1346.5 L2106.4 1348.9 L2105.8 1351.2 L2106.4 1353.6 L2108 1356 L2109.6 1358.4 L2110.2 1360.8 L2109.6 1363.1 L2108 1365.5 L2106.4 1367.9 L2105.8 1370.2 L2106.4 1372.6 L2108 1375" fill="none" stroke="#3E6EC8" stroke-width="7.5" stroke-linecap="round"/><path d="M2108 1318 L2109.6 1320.4 L2110.2 1322.8 L2109.6 1325.1 L2108 1327.5 L2106.4 1329.9 L2105.8 1332.2 L2106.4 1334.6 L2108 1337 L2109.6 1339.4 L2110.2 1341.8 L2109.6 1344.1 L2108 1346.5 L2106.4 1348.9 L2105.8 1351.2 L2106.4 1353.6 L2108 1356 L2109.6 1358.4 L2110.2 1360.8 L2109.6 1363.1 L2108 1365.5 L2106.4 1367.9 L2105.8 1370.2 L2106.4 1372.6 L2108 1375" fill="none" stroke="#B8D4F4" stroke-width="4"/><polygon points="2100,1373 2116,1373 2108,1385" fill="#B8D4F4" stroke="#3E6EC8" stroke-width="1.8"/>
<path d="M2214 1318 L2215.6 1320.4 L2216.2 1322.8 L2215.6 1325.1 L2214 1327.5 L2212.4 1329.9 L2211.8 1332.2 L2212.4 1334.6 L2214 1337 L2215.6 1339.4 L2216.2 1341.8 L2215.6 1344.1 L2214 1346.5 L2212.4 1348.9 L2211.8 1351.2 L2212.4 1353.6 L2214 1356 L2215.6 1358.4 L2216.2 1360.8 L2215.6 1363.1 L2214 1365.5 L2212.4 1367.9 L2211.8 1370.2 L2212.4 1372.6 L2214 1375" fill="none" stroke="#3E6EC8" stroke-width="7.5" stroke-linecap="round"/><path d="M2214 1318 L2215.6 1320.4 L2216.2 1322.8 L2215.6 1325.1 L2214 1327.5 L2212.4 1329.9 L2211.8 1332.2 L2212.4 1334.6 L2214 1337 L2215.6 1339.4 L2216.2 1341.8 L2215.6 1344.1 L2214 1346.5 L2212.4 1348.9 L2211.8 1351.2 L2212.4 1353.6 L2214 1356 L2215.6 1358.4 L2216.2 1360.8 L2215.6 1363.1 L2214 1365.5 L2212.4 1367.9 L2211.8 1370.2 L2212.4 1372.6 L2214 1375" fill="none" stroke="#B8D4F4" stroke-width="4"/><polygon points="2206,1373 2222,1373 2214,1385" fill="#B8D4F4" stroke="#3E6EC8" stroke-width="1.8"/>
<path d="M2289 1318 L2290.6 1320.4 L2291.2 1322.8 L2290.6 1325.1 L2289 1327.5 L2287.4 1329.9 L2286.8 1332.2 L2287.4 1334.6 L2289 1337 L2290.6 1339.4 L2291.2 1341.8 L2290.6 1344.1 L2289 1346.5 L2287.4 1348.9 L2286.8 1351.2 L2287.4 1353.6 L2289 1356 L2290.6 1358.4 L2291.2 1360.8 L2290.6 1363.1 L2289 1365.5 L2287.4 1367.9 L2286.8 1370.2 L2287.4 1372.6 L2289 1375" fill="none" stroke="#3E6EC8" stroke-width="7.5" stroke-linecap="round"/><path d="M2289 1318 L2290.6 1320.4 L2291.2 1322.8 L2290.6 1325.1 L2289 1327.5 L2287.4 1329.9 L2286.8 1332.2 L2287.4 1334.6 L2289 1337 L2290.6 1339.4 L2291.2 1341.8 L2290.6 1344.1 L2289 1346.5 L2287.4 1348.9 L2286.8 1351.2 L2287.4 1353.6 L2289 1356 L2290.6 1358.4 L2291.2 1360.8 L2290.6 1363.1 L2289 1365.5 L2287.4 1367.9 L2286.8 1370.2 L2287.4 1372.6 L2289 1375" fill="none" stroke="#B8D4F4" stroke-width="4"/><polygon points="2281,1373 2297,1373 2289,1385" fill="#B8D4F4" stroke="#3E6EC8" stroke-width="1.8"/>
<circle cx="1888" cy="1374" r="5.8" fill="url(#kZn)" />
<circle cx="1952" cy="1374" r="5.8" fill="url(#kZn)" />
<circle cx="2013" cy="1374" r="5.8" fill="url(#kZn)" />
<circle cx="2073" cy="1374" r="5.8" fill="url(#kZn)" />
<circle cx="2136" cy="1374" r="5.8" fill="url(#kZn)" />
<circle cx="2198" cy="1374" r="5.8" fill="url(#kZn)" />
<circle cx="2260" cy="1374" r="5.8" fill="url(#kZn)" />
<circle cx="2326" cy="1374" r="5.8" fill="url(#kZn)" />
<text x="2013" y="1411" font-family="'Liberation Sans', sans-serif" font-size="20" font-weight="bold" fill="#3A5BA8" text-anchor="start" >selective  Zn<tspan font-size="12" dy="-7">2+</tspan><tspan dy="7"> transport</tspan></text>
<polygon points="1839,1466 2394,1466 2394,1496 1839,1496" fill="#3CC4CC" />
<rect x="1839" y="1490" width="555" height="6" fill="#2AA8B0" />
<rect x="1837" y="1414" width="10" height="56" rx="5" fill="url(#kPil)"/>
<circle cx="1842" cy="1468" r="3" fill="#7FE0E6" />
<rect x="1851.8" y="1414" width="10" height="56" rx="5" fill="url(#kPil)"/>
<circle cx="1856.8" cy="1468" r="3" fill="#7FE0E6" />
<rect x="1866.6" y="1414" width="10" height="56" rx="5" fill="url(#kPil)"/>
<circle cx="1871.6" cy="1468" r="3" fill="#7FE0E6" />
<rect x="1881.4" y="1414" width="10" height="56" rx="5" fill="url(#kPil)"/>
<circle cx="1886.4" cy="1468" r="3" fill="#7FE0E6" />
<rect x="1896.2" y="1414" width="10" height="56" rx="5" fill="url(#kPil)"/>
<circle cx="1901.2" cy="1468" r="3" fill="#7FE0E6" />
<rect x="1911.1" y="1414" width="10" height="56" rx="5" fill="url(#kPil)"/>
<circle cx="1916.1" cy="1468" r="3" fill="#7FE0E6" />
<rect x="1925.9" y="1414" width="10" height="56" rx="5" fill="url(#kPil)"/>
<circle cx="1930.9" cy="1468" r="3" fill="#7FE0E6" />
<rect x="1940.7" y="1414" width="10" height="56" rx="5" fill="url(#kPil)"/>
<circle cx="1945.7" cy="1468" r="3" fill="#7FE0E6" />
<rect x="1955.5" y="1414" width="10" height="56" rx="5" fill="url(#kPil)"/>
<circle cx="1960.5" cy="1468" r="3" fill="#7FE0E6" />
<rect x="1970.3" y="1414" width="10" height="56" rx="5" fill="url(#kPil)"/>
<circle cx="1975.3" cy="1468" r="3" fill="#7FE0E6" />
<rect x="1985.1" y="1414" width="10" height="56" rx="5" fill="url(#kPil)"/>
<circle cx="1990.1" cy="1468" r="3" fill="#7FE0E6" />
<rect x="1999.9" y="1414" width="10" height="56" rx="5" fill="url(#kPil)"/>
<circle cx="2004.9" cy="1468" r="3" fill="#7FE0E6" />
<rect x="2014.7" y="1414" width="10" height="56" rx="5" fill="url(#kPil)"/>
<circle cx="2019.7" cy="1468" r="3" fill="#7FE0E6" />
<rect x="2029.5" y="1414" width="10" height="56" rx="5" fill="url(#kPil)"/>
<circle cx="2034.5" cy="1468" r="3" fill="#7FE0E6" />
<rect x="2044.4" y="1414" width="10" height="56" rx="5" fill="url(#kPil)"/>
<circle cx="2049.4" cy="1468" r="3" fill="#7FE0E6" />
<rect x="2059.2" y="1414" width="10" height="56" rx="5" fill="url(#kPil)"/>
<circle cx="2064.2" cy="1468" r="3" fill="#7FE0E6" />
<rect x="2074" y="1414" width="10" height="56" rx="5" fill="url(#kPil)"/>
<circle cx="2079" cy="1468" r="3" fill="#7FE0E6" />
<rect x="2088.8" y="1414" width="10" height="56" rx="5" fill="url(#kPil)"/>
<circle cx="2093.8" cy="1468" r="3" fill="#7FE0E6" />
<rect x="2103.6" y="1414" width="10" height="56" rx="5" fill="url(#kPil)"/>
<circle cx="2108.6" cy="1468" r="3" fill="#7FE0E6" />
<rect x="2118.4" y="1414" width="10" height="56" rx="5" fill="url(#kPil)"/>
<circle cx="2123.4" cy="1468" r="3" fill="#7FE0E6" />
<rect x="2133.2" y="1414" width="10" height="56" rx="5" fill="url(#kPil)"/>
<circle cx="2138.2" cy="1468" r="3" fill="#7FE0E6" />
<rect x="2148" y="1414" width="10" height="56" rx="5" fill="url(#kPil)"/>
<circle cx="2153" cy="1468" r="3" fill="#7FE0E6" />
<rect x="2162.8" y="1414" width="10" height="56" rx="5" fill="url(#kPil)"/>
<circle cx="2167.8" cy="1468" r="3" fill="#7FE0E6" />
<rect x="2177.6" y="1414" width="10" height="56" rx="5" fill="url(#kPil)"/>
<circle cx="2182.6" cy="1468" r="3" fill="#7FE0E6" />
<rect x="2192.5" y="1414" width="10" height="56" rx="5" fill="url(#kPil)"/>
<circle cx="2197.5" cy="1468" r="3" fill="#7FE0E6" />
<rect x="2207.3" y="1414" width="10" height="56" rx="5" fill="url(#kPil)"/>
<circle cx="2212.3" cy="1468" r="3" fill="#7FE0E6" />
<rect x="2222.1" y="1414" width="10" height="56" rx="5" fill="url(#kPil)"/>
<circle cx="2227.1" cy="1468" r="3" fill="#7FE0E6" />
<rect x="2236.9" y="1414" width="10" height="56" rx="5" fill="url(#kPil)"/>
<circle cx="2241.9" cy="1468" r="3" fill="#7FE0E6" />
<rect x="2251.7" y="1414" width="10" height="56" rx="5" fill="url(#kPil)"/>
<circle cx="2256.7" cy="1468" r="3" fill="#7FE0E6" />
<rect x="2266.5" y="1414" width="10" height="56" rx="5" fill="url(#kPil)"/>
<circle cx="2271.5" cy="1468" r="3" fill="#7FE0E6" />
<rect x="2281.3" y="1414" width="10" height="56" rx="5" fill="url(#kPil)"/>
<circle cx="2286.3" cy="1468" r="3" fill="#7FE0E6" />
<rect x="2296.1" y="1414" width="10" height="56" rx="5" fill="url(#kPil)"/>
<circle cx="2301.1" cy="1468" r="3" fill="#7FE0E6" />
<rect x="2310.9" y="1414" width="10" height="56" rx="5" fill="url(#kPil)"/>
<circle cx="2315.9" cy="1468" r="3" fill="#7FE0E6" />
<rect x="2325.8" y="1414" width="10" height="56" rx="5" fill="url(#kPil)"/>
<circle cx="2330.8" cy="1468" r="3" fill="#7FE0E6" />
<rect x="2340.6" y="1414" width="10" height="56" rx="5" fill="url(#kPil)"/>
<circle cx="2345.6" cy="1468" r="3" fill="#7FE0E6" />
<rect x="2355.4" y="1414" width="10" height="56" rx="5" fill="url(#kPil)"/>
<circle cx="2360.4" cy="1468" r="3" fill="#7FE0E6" />
<rect x="2370.2" y="1414" width="10" height="56" rx="5" fill="url(#kPil)"/>
<circle cx="2375.2" cy="1468" r="3" fill="#7FE0E6" />
<rect x="2385" y="1414" width="10" height="56" rx="5" fill="url(#kPil)"/>
<circle cx="2390" cy="1468" r="3" fill="#7FE0E6" />
<text x="2168" y="1490" font-family="'Liberation Sans', sans-serif" font-size="20" font-weight="bold" fill="#E82020" text-anchor="start" textLength="211" lengthAdjust="spacingAndGlyphs">Uniform &amp; compact Zn</text>
<circle cx="1799" cy="1531" r="14" fill="url(#kO)" />
<text x="1822" y="1542" font-family="'Liberation Sans', sans-serif" font-size="30" font-weight="bold" fill="#111" text-anchor="start" >O</text>
<circle cx="1945" cy="1531" r="14" fill="url(#kF)" />
<text x="1969" y="1542" font-family="'Liberation Sans', sans-serif" font-size="30" font-weight="bold" fill="#111" text-anchor="start" >F</text>
<circle cx="2092" cy="1531" r="14" fill="url(#kS)" />
<text x="2113" y="1542" font-family="'Liberation Sans', sans-serif" font-size="30" font-weight="bold" fill="#111" text-anchor="start" >S</text>
<circle cx="2238" cy="1531" r="14" fill="url(#kC)" />
<text x="2262" y="1542" font-family="'Liberation Sans', sans-serif" font-size="30" font-weight="bold" fill="#111" text-anchor="start" >C</text>
<circle cx="2383" cy="1531" r="14" fill="url(#kZn)" />
<text x="2406" y="1542" font-family="'Liberation Sans', sans-serif" font-size="30" font-weight="bold" fill="#111" text-anchor="start" >Zn<tspan font-size="17" dy="-11">2+</tspan></text>
<circle cx="1778" cy="1612" r="15" fill="url(#kMofBall)" />
<text x="1810" y="1622" font-family="'Liberation Sans', sans-serif" font-size="29" font-weight="bold" fill="#111" text-anchor="start" >MOF-CeO<tspan font-size="19" dy="6">2</tspan></text>
<line x1="2031" y1="1619" x2="2009" y2="1616" stroke="#9AD8E0" stroke-width="3" /><line x1="2031" y1="1619" x2="2037" y2="1594" stroke="#9AD8E0" stroke-width="3" />
<circle cx="2009" cy="1616" r="6.5" fill="url(#kH)" /><circle cx="2037" cy="1594" r="6.5" fill="url(#kH)" /><circle cx="2031" cy="1619" r="7.5" fill="url(#kO)" />
<text x="2057" y="1622" font-family="'Liberation Sans', sans-serif" font-size="29" font-weight="bold" fill="#111" text-anchor="start" >H<tspan font-size="19" dy="6">2</tspan><tspan dy="-6">O</tspan></text>
<circle cx="2183" cy="1611" r="13" fill="url(#kH2)" stroke="#3050A0" stroke-width="2"/>
<text x="2211" y="1620" font-family="'Liberation Sans', sans-serif" font-size="29" font-weight="bold" fill="#111" text-anchor="start" >H<tspan font-size="19" dy="6">2</tspan></text>
<line x1="2318" y1="1618" x2="2326.8" y2="1605.9" stroke="#888" stroke-width="2.8" /><line x1="2318" y1="1618" x2="2303.5" y2="1623.3" stroke="#C03020" stroke-width="2.4" /><circle cx="2303.5" cy="1623.3" r="5.1" fill="url(#kO)" /><line x1="2318" y1="1618" x2="2308.1" y2="1606.2" stroke="#C03020" stroke-width="2.4" /><circle cx="2308.1" cy="1606.2" r="5.1" fill="url(#kO)" /><line x1="2318" y1="1618" x2="2325.7" y2="1631.3" stroke="#C03020" stroke-width="2.4" /><circle cx="2325.7" cy="1631.3" r="5.1" fill="url(#kO)" /><line x1="2326.8" y1="1605.9" x2="2324.5" y2="1592.9" stroke="#8A3AA8" stroke-width="2.4" /><circle cx="2324.5" cy="1592.9" r="4.6" fill="url(#kF)" /><line x1="2326.8" y1="1605.9" x2="2339.2" y2="1601.4" stroke="#8A3AA8" stroke-width="2.4" /><circle cx="2339.2" cy="1601.4" r="4.6" fill="url(#kF)" /><line x1="2326.8" y1="1605.9" x2="2314.4" y2="1601.4" stroke="#8A3AA8" stroke-width="2.4" /><circle cx="2314.4" cy="1601.4" r="4.6" fill="url(#kF)" /><circle cx="2326.8" cy="1605.9" r="5.5" fill="url(#kC)" /><circle cx="2318" cy="1618" r="6.2" fill="url(#kS)" />
<text x="2359" y="1622" font-family="'Liberation Sans', sans-serif" font-size="29" font-weight="bold" fill="#111" text-anchor="start" >Tfo<tspan font-size="19" dy="-12">-</tspan></text>
<text x="1752.4" y="1156.8" font-family="'Liberation Serif', serif" font-size="65" font-weight="bold" fill="#000" text-anchor="start" >(k)</text>
<polyline points="177,1784.7 177.4,1786.1 177.9,1787.7 178.4,1789.6 179,1791.7 179.6,1794 180.3,1796.4 181,1799 181.8,1801.7 182.5,1804.5 183.4,1807.3 184.2,1810.3 185.1,1813.2 186,1816.2 187,1819.2 187.9,1822.2 188.9,1825.1 189.9,1827.9 191,1830.6 192,1833.3 193.1,1835.8 194.2,1838.2 195.3,1840.7 196.4,1843.1 197.6,1845.6 198.8,1848 200,1850.4 201.2,1852.9 202.5,1855.3 203.8,1857.7 205.1,1860.1 206.5,1862.4 207.9,1864.7 209.3,1867 210.7,1869.3 212.2,1871.5 213.7,1873.6 215.2,1875.8 216.7,1877.8 218.3,1879.8 219.9,1881.8 221.5,1883.7 223.1,1885.5 224.8,1887.3 226.4,1889 228.1,1890.6 229.8,1892.3 231.6,1893.8 233.3,1895.4 235.1,1896.9 237,1898.4 238.8,1899.8 240.7,1901.3 242.7,1902.7 244.6,1904.1 246.6,1905.5 248.7,1906.9 250.8,1908.3 253,1909.7 255.2,1911 257.4,1912.4 259.7,1913.8 262.1,1915.2 264.6,1916.6 267.1,1917.9 269.7,1919.2 272.3,1920.5 275,1921.8 277.7,1923 280.4,1924.3 283.2,1925.5 286,1926.8 288.8,1928 291.6,1929.3 294.4,1930.5 297.2,1931.7 300,1933 302.8,1934.2 305.6,1935.5 308.3,1936.7 311,1938 313.7,1939.3 316.4,1940.6 319.1,1941.8 321.7,1943.1 324.4,1944.4 327.1,1945.7 329.8,1946.9 332.5,1948.2 335.1,1949.5 337.8,1950.8 340.5,1952.1 343.2,1953.3 345.9,1954.6 348.5,1955.9 351.2,1957.2 353.9,1958.4 356.6,1959.7 359.3,1961 361.9,1962.3 364.6,1963.6 367.3,1964.8 370,1966.1 372.7,1967.4 375.3,1968.7 378,1969.9 380.7,1971.2 383.4,1972.5 386.1,1973.8 388.7,1975.1 391.4,1976.3 394.1,1977.6 396.8,1978.9 399.5,1980.2 402.1,1981.4 404.8,1982.7 407.5,1984 410.2,1985.3 412.9,1986.6 415.5,1987.8 418.2,1989.1 420.9,1990.4 423.6,1991.7 426.3,1993 428.9,1994.3 431.6,1995.7 434.3,1997 437,1998.4 439.7,1999.7 442.3,2001 445,2002.4 447.7,2003.7 450.4,2005 453.1,2006.3 455.7,2007.6 458.4,2008.8 461.1,2010 463.8,2011.2 466.5,2012.4 469.1,2013.6 471.8,2014.7 474.5,2015.7 477.2,2016.8 479.9,2017.8 482.5,2018.8 485.2,2019.7 487.9,2020.7 490.6,2021.6 493.3,2022.5 495.9,2023.4 498.6,2024.2 501.3,2025.1 504,2026 506.7,2026.8 509.3,2027.6 512,2028.4 514.7,2029.3 517.4,2030.1 520.1,2030.9 522.7,2031.7 525.4,2032.6 528.1,2033.4 530.8,2034.2 533.5,2035 536.2,2035.7 538.8,2036.5 541.5,2037.3 544.2,2038 546.9,2038.8 549.6,2039.5 552.2,2040.2 554.9,2041 557.6,2041.7 560.3,2042.4 563,2043.2 565.6,2043.9 568.3,2044.7 571,2045.5 573.7,2046.3 576.4,2047.1 579,2047.9 581.7,2048.7 584.4,2049.6 587.2,2050.4 589.9,2051.3 592.7,2052.1 595.5,2053 598.2,2053.9 601,2054.7 603.8,2055.6 606.5,2056.5 609.2,2057.4 612,2058.3 614.7,2059.2 617.3,2060.1 620,2061.1 622.6,2062 625.2,2062.9 627.7,2063.9 630.2,2064.8 632.6,2065.8 635,2066.7 637.4,2067.7 639.7,2068.6 642,2069.5 644.2,2070.5 646.5,2071.4 648.7,2072.3 650.8,2073.3 653,2074.2 655.1,2075.2 657.2,2076.2 659.3,2077.2 661.3,2078.2 663.4,2079.3 665.4,2080.3 667.5,2081.4 669.5,2082.6 671.5,2083.8 673.5,2085 675.5,2086.2 677.6,2087.6 679.7,2089 681.8,2090.6 684,2092.2 686.2,2093.9 688.4,2095.6 690.5,2097.4 692.7,2099.2 694.9,2101 697,2102.8 699,2104.6 701,2106.3 702.9,2108 704.7,2109.6 706.4,2111.1 708,2112.6 709.5,2113.9 710.8,2115 712,2116 713,2116.9" fill="none" stroke="#4B3F9E" stroke-width="2.2" stroke-linejoin="round"/>
<polyline points="177,2053 177.1,2052.3 177.2,2051.4 177.4,2050.5 177.5,2049.4 177.6,2048.2 177.7,2047 177.8,2045.6 178,2044.2 178.1,2042.8 178.3,2041.3 178.6,2039.8 178.8,2038.3 179.1,2036.8 179.4,2035.4 179.8,2033.9 180.2,2032.5 180.6,2031.1 181.1,2029.8 181.7,2028.6 182.3,2027.4 183,2026.4 183.7,2025.4 184.4,2024.4 185.1,2023.5 185.8,2022.6 186.6,2021.8 187.4,2020.9 188.2,2020.1 189.1,2019.3 190,2018.5 191,2017.7 192.1,2016.9 193.2,2016.1 194.4,2015.2 195.7,2014.4 197.1,2013.5 198.6,2012.6 200.2,2011.6 201.9,2010.6 203.7,2009.6 205.6,2008.5 207.6,2007.4 209.7,2006.2 211.9,2005.1 214.2,2003.9 216.6,2002.8 219,2001.6 221.5,2000.4 224.1,1999.1 226.8,1997.9 229.5,1996.6 232.3,1995.3 235.2,1994 238.2,1992.7 241.2,1991.3 244.3,1989.9 247.4,1988.5 250.6,1987 253.8,1985.5 257.2,1984 260.6,1982.4 264.3,1980.8 268.1,1979.1 272.1,1977.3 276.2,1975.5 280.4,1973.6 284.7,1971.7 289.1,1969.8 293.5,1967.9 297.9,1966 302.3,1964 306.7,1962.1 311,1960.2 315.2,1958.3 319.3,1956.5 323.3,1954.7 327.1,1953 330.7,1951.3 334.1,1949.7 337.3,1948.2 340.3,1946.8 343,1945.4 345.6,1944.1 347.9,1942.8 350.1,1941.5 352.2,1940.3 354.2,1939.1 356.1,1938 357.9,1936.9 359.7,1935.8 361.5,1934.7 363.2,1933.6 365,1932.6 366.9,1931.5 368.8,1930.5 370.8,1929.5 372.9,1928.4 375.1,1927.4 377.5,1926.3 380.1,1925.2 382.8,1924.1 385.6,1923.1 388.4,1922 391.3,1920.9 394.2,1919.9 397.2,1918.8 400.3,1917.8 403.4,1916.7 406.6,1915.7 409.8,1914.7 413.1,1913.7 416.4,1912.6 419.7,1911.6 423.1,1910.6 426.5,1909.6 430,1908.7 433.5,1907.7 437,1906.7 440.6,1905.7 444.2,1904.8 447.9,1903.8 451.6,1902.9 455.4,1902 459.2,1901.2 463.1,1900.3 467.1,1899.5 471.1,1898.6 475.1,1897.8 479.2,1897 483.3,1896.2 487.4,1895.3 491.5,1894.5 495.7,1893.6 499.8,1892.7 504,1891.8 508.1,1890.9 512.2,1890 516.3,1889 520.3,1888 524.4,1886.9 528.4,1885.8 532.5,1884.6 536.6,1883.5 540.8,1882.3 545,1881 549.3,1879.8 553.5,1878.5 557.7,1877.2 561.9,1875.9 566.1,1874.6 570.3,1873.3 574.4,1871.9 578.4,1870.6 582.4,1869.2 586.4,1867.9 590.2,1866.6 594,1865.2 597.6,1863.9 601.1,1862.6 604.5,1861.3 607.8,1860.1 611.1,1858.8 614.2,1857.5 617.3,1856.3 620.3,1855.1 623.2,1853.8 626.1,1852.6 628.9,1851.4 631.6,1850.1 634.3,1848.9 636.9,1847.6 639.4,1846.4 641.9,1845.1 644.4,1843.8 646.7,1842.5 649.1,1841.2 651.4,1839.9 653.6,1838.5 655.8,1837.2 658,1835.8 660.1,1834.4 662.1,1833 664,1831.6 665.9,1830.2 667.7,1828.8 669.5,1827.4 671.2,1826 672.8,1824.6 674.4,1823.2 676,1821.7 677.5,1820.2 679,1818.7 680.5,1817.2 681.9,1815.6 683.3,1814 684.6,1812.3 686,1810.6 687.4,1808.8 688.7,1807 690,1805.1 691.4,1803.1 692.7,1800.9 694,1798.6 695.3,1796.2 696.6,1793.6 697.9,1791 699.2,1788.3 700.4,1785.6 701.6,1782.9 702.7,1780.2 703.8,1777.5 704.9,1774.9 705.9,1772.4 706.9,1770 707.8,1767.7 708.7,1765.6 709.5,1763.7 710.2,1761.9 710.8,1760.4 711.4,1759.1" fill="none" stroke="#4B3F9E" stroke-width="2.2" stroke-linejoin="round"/>
<polyline points="177,1784.7 177.4,1786.1 177.8,1787.8 178.3,1789.7 178.9,1791.8 179.4,1794.1 180.1,1796.6 180.7,1799.2 181.4,1802 182.1,1804.8 182.9,1807.7 183.7,1810.7 184.5,1813.7 185.3,1816.8 186.2,1819.8 187.1,1822.8 188,1825.8 188.9,1828.7 189.9,1831.5 190.9,1834.2 191.9,1836.7 192.9,1839.2 193.9,1841.7 194.9,1844.3 196,1846.8 197.1,1849.3 198.2,1851.8 199.4,1854.3 200.6,1856.8 201.8,1859.3 203,1861.7 204.2,1864.2 205.5,1866.6 206.8,1868.9 208.1,1871.3 209.5,1873.6 210.9,1875.8 212.3,1878 213.7,1880.2 215.1,1882.3 216.6,1884.3 218.1,1886.3 219.6,1888.2 221.1,1890.1 222.7,1891.9 224.2,1893.7 225.8,1895.4 227.4,1897.1 229.1,1898.7 230.7,1900.3 232.4,1901.9 234.1,1903.5 235.9,1905 237.7,1906.5 239.5,1908.1 241.3,1909.6 243.2,1911.1 245.2,1912.6 247.2,1914.1 249.2,1915.6 251.3,1917.1 253.4,1918.6 255.6,1920.1 257.9,1921.6 260.2,1923 262.6,1924.5 265,1925.9 267.5,1927.3 270,1928.7 272.6,1930.1 275.1,1931.5 277.7,1932.9 280.3,1934.2 282.9,1935.6 285.5,1937 288.1,1938.4 290.7,1939.7 293.2,1941.1 295.8,1942.5 298.3,1943.8 300.8,1945.2 303.3,1946.6 305.7,1948 308.2,1949.4 310.7,1950.8 313.2,1952.2 315.7,1953.5 318.1,1954.9 320.6,1956.3 323.1,1957.7 325.6,1959 328,1960.4 330.5,1961.8 333,1963.2 335.5,1964.5 337.9,1965.9 340.4,1967.2 342.9,1968.6 345.4,1970 347.8,1971.3 350.3,1972.7 352.8,1974 355.3,1975.4 357.7,1976.7 360.2,1978 362.7,1979.4 365.2,1980.7 367.6,1982.1 370.1,1983.4 372.6,1984.7 375.1,1986.1 377.6,1987.4 380,1988.7 382.5,1990 385,1991.3 387.5,1992.7 389.9,1994 392.4,1995.3 394.9,1996.6 397.4,1997.9 399.8,1999.2 402.3,2000.5 404.8,2001.8 407.3,2003.2 409.7,2004.5 412.2,2005.9 414.7,2007.2 417.2,2008.6 419.6,2009.9 422.1,2011.3 424.6,2012.6 427.1,2013.9 429.5,2015.2 432,2016.5 434.5,2017.8 437,2019 439.4,2020.2 441.9,2021.4 444.4,2022.6 446.9,2023.7 449.4,2024.8 451.8,2025.8 454.3,2026.8 456.8,2027.8 459.3,2028.8 461.7,2029.7 464.2,2030.6 466.7,2031.5 469.2,2032.3 471.6,2033.1 474.1,2034 476.6,2034.8 479.1,2035.6 481.5,2036.3 484,2037.1 486.5,2037.9 489,2038.6 491.4,2039.4 493.9,2040.2 496.4,2040.9 498.9,2041.7 501.3,2042.4 503.8,2043.1 506.3,2043.9 508.8,2044.5 511.3,2045.2 513.7,2045.9 516.2,2046.6 518.7,2047.2 521.2,2047.8 523.6,2048.5 526.1,2049.1 528.6,2049.8 531.1,2050.4 533.5,2051.1 536,2051.7 538.5,2052.4 541,2053 543.4,2053.7 545.9,2054.4 548.4,2055.1 550.9,2055.8 553.4,2056.6 555.9,2057.3 558.5,2058 561,2058.7 563.6,2059.5 566.1,2060.2 568.7,2061 571.2,2061.7 573.8,2062.5 576.3,2063.2 578.8,2064 581.3,2064.8 583.8,2065.6 586.2,2066.4 588.6,2067.2 591,2068 593.4,2068.8 595.7,2069.6 597.9,2070.4 600.1,2071.2 602.3,2072.1 604.4,2072.9 606.5,2073.7 608.6,2074.5 610.7,2075.3 612.7,2076.1 614.7,2076.9 616.7,2077.8 618.6,2078.6 620.6,2079.5 622.5,2080.4 624.4,2081.3 626.3,2082.2 628.2,2083.1 630.1,2084.1 631.9,2085.2 633.8,2086.2 635.7,2087.3 637.5,2088.5 639.4,2089.7 641.3,2091 643.3,2092.4 645.3,2093.9 647.4,2095.5 649.4,2097.1 651.4,2098.8 653.4,2100.4 655.4,2102.1 657.3,2103.8 659.2,2105.4 661.1,2107.1 662.8,2108.6 664.5,2110.1 666.1,2111.5 667.6,2112.9 668.9,2114.1 670.1,2115.2 671.2,2116.1 672.2,2116.9" fill="none" stroke="#F58A07" stroke-width="2.2" stroke-linejoin="round"/>
<polyline points="177,2053 177.1,2052.3 177.2,2051.4 177.3,2050.5 177.4,2049.4 177.5,2048.2 177.7,2046.9 177.8,2045.6 177.9,2044.2 178.1,2042.7 178.2,2041.2 178.4,2039.7 178.7,2038.2 178.9,2036.7 179.2,2035.2 179.5,2033.7 179.9,2032.2 180.3,2030.8 180.8,2029.5 181.3,2028.2 181.9,2027 182.6,2025.9 183.2,2024.9 183.8,2023.9 184.5,2022.9 185.1,2021.9 185.8,2021 186.6,2020.1 187.3,2019.3 188.2,2018.4 189,2017.5 190,2016.6 190.9,2015.8 192,2014.8 193.1,2013.9 194.3,2013 195.6,2012 197,2011 198.4,2009.9 200,2008.7 201.7,2007.6 203.4,2006.3 205.3,2005.1 207.2,2003.8 209.3,2002.5 211.4,2001.2 213.5,1999.8 215.8,1998.4 218.1,1997.1 220.5,1995.6 223,1994.2 225.5,1992.7 228.1,1991.2 230.8,1989.7 233.5,1988.1 236.3,1986.5 239.1,1984.9 242,1983.3 245,1981.6 248,1979.9 251,1978.2 254.2,1976.4 257.6,1974.5 261.1,1972.6 264.8,1970.6 268.6,1968.5 272.5,1966.4 276.5,1964.3 280.5,1962.1 284.6,1959.9 288.7,1957.7 292.7,1955.6 296.8,1953.4 300.7,1951.3 304.6,1949.2 308.4,1947.1 312.1,1945.1 315.6,1943.2 319,1941.3 322.1,1939.6 325.1,1937.9 327.8,1936.3 330.3,1934.8 332.7,1933.3 334.9,1931.9 336.9,1930.6 338.8,1929.3 340.7,1928 342.4,1926.8 344.1,1925.6 345.7,1924.4 347.4,1923.3 349,1922.2 350.6,1921.1 352.3,1920 354.1,1918.9 355.9,1917.8 357.9,1916.7 360,1915.6 362.2,1914.5 364.6,1913.3 367,1912.2 369.6,1911.1 372.2,1909.9 374.9,1908.8 377.6,1907.7 380.4,1906.6 383.2,1905.4 386.1,1904.3 389,1903.3 392,1902.2 395,1901.1 398.1,1900 401.2,1899 404.3,1897.9 407.5,1896.9 410.7,1895.9 413.9,1894.9 417.2,1893.9 420.5,1893 423.8,1892 427.1,1891.1 430.6,1890.2 434.1,1889.3 437.6,1888.5 441.2,1887.7 444.9,1886.9 448.6,1886.1 452.3,1885.3 456.1,1884.5 459.9,1883.8 463.7,1883 467.5,1882.2 471.3,1881.5 475.1,1880.7 479,1879.9 482.8,1879.1 486.6,1878.2 490.3,1877.3 494.1,1876.4 497.8,1875.5 501.5,1874.5 505.3,1873.5 509.2,1872.5 513,1871.5 516.9,1870.5 520.8,1869.4 524.7,1868.3 528.6,1867.2 532.5,1866.1 536.4,1865 540.2,1863.9 544,1862.8 547.8,1861.6 551.4,1860.5 555.1,1859.4 558.6,1858.3 562.1,1857.1 565.4,1856 568.7,1854.9 571.8,1853.8 574.9,1852.7 577.9,1851.7 580.8,1850.6 583.6,1849.5 586.4,1848.5 589.1,1847.4 591.7,1846.4 594.3,1845.4 596.8,1844.3 599.3,1843.2 601.7,1842.2 604.1,1841.1 606.4,1840 608.6,1838.9 610.8,1837.8 613,1836.6 615.1,1835.5 617.2,1834.3 619.2,1833.1 621.2,1831.8 623.1,1830.6 625,1829.3 626.8,1828.1 628.5,1826.8 630.2,1825.6 631.8,1824.3 633.4,1823 634.9,1821.7 636.4,1820.4 637.9,1819.1 639.3,1817.7 640.6,1816.3 642,1814.9 643.3,1813.4 644.6,1811.9 645.8,1810.3 647.1,1808.7 648.3,1807 649.6,1805.3 650.8,1803.5 652,1801.6 653.3,1799.5 654.5,1797.3 655.7,1794.9 656.9,1792.5 658.1,1790 659.2,1787.4 660.4,1784.8 661.5,1782.2 662.5,1779.5 663.6,1777 664.6,1774.4 665.5,1772 666.4,1769.7 667.2,1767.5 668,1765.4 668.8,1763.5 669.4,1761.8 670,1760.3 670.6,1759.1" fill="none" stroke="#F58A07" stroke-width="2.2" stroke-linejoin="round"/>
<polyline points="177,1784.7 177.4,1786.1 177.8,1787.8 178.3,1789.7 178.8,1791.9 179.4,1794.2 180,1796.7 180.6,1799.3 181.3,1802 182,1804.9 182.7,1807.8 183.4,1810.8 184.2,1813.9 185.1,1816.9 185.9,1820 186.8,1823 187.6,1826 188.6,1828.9 189.5,1831.7 190.4,1834.4 191.4,1837 192.3,1839.5 193.3,1842 194.3,1844.6 195.4,1847.1 196.5,1849.6 197.5,1852.2 198.7,1854.7 199.8,1857.2 201,1859.7 202.1,1862.2 203.3,1864.6 204.6,1867 205.8,1869.4 207.1,1871.8 208.4,1874.1 209.8,1876.4 211.1,1878.6 212.5,1880.8 213.9,1882.9 215.3,1885 216.8,1887 218.2,1888.9 219.7,1890.8 221.2,1892.6 222.7,1894.4 224.2,1896.2 225.8,1897.9 227.3,1899.5 228.9,1901.2 230.6,1902.8 232.2,1904.4 233.9,1906 235.7,1907.5 237.4,1909.1 239.2,1910.6 241.1,1912.1 242.9,1913.6 244.9,1915.2 246.8,1916.7 248.8,1918.2 250.9,1919.8 253,1921.3 255.2,1922.8 257.5,1924.3 259.8,1925.8 262.1,1927.2 264.5,1928.7 266.9,1930.1 269.4,1931.6 271.9,1933 274.4,1934.4 276.9,1935.8 279.4,1937.2 281.9,1938.6 284.4,1940 286.9,1941.4 289.4,1942.8 291.9,1944.2 294.3,1945.6 296.7,1947 299.1,1948.5 301.5,1949.9 303.9,1951.3 306.3,1952.7 308.7,1954.1 311.1,1955.5 313.5,1956.9 315.9,1958.3 318.3,1959.7 320.7,1961.1 323,1962.5 325.4,1963.9 327.8,1965.3 330.2,1966.7 332.6,1968.1 335,1969.4 337.4,1970.8 339.8,1972.2 342.2,1973.6 344.6,1974.9 347,1976.3 349.4,1977.7 351.8,1979 354.2,1980.4 356.6,1981.7 359,1983.1 361.4,1984.4 363.7,1985.8 366.1,1987.1 368.5,1988.5 370.9,1989.8 373.3,1991.2 375.7,1992.5 378.1,1993.8 380.5,1995.1 382.9,1996.5 385.3,1997.8 387.7,1999.1 390.1,2000.4 392.5,2001.7 394.9,2003 397.3,2004.4 399.7,2005.7 402.1,2007.1 404.5,2008.4 406.8,2009.8 409.2,2011.1 411.6,2012.5 414,2013.8 416.4,2015.1 418.8,2016.5 421.2,2017.8 423.6,2019.1 426,2020.3 428.4,2021.6 430.8,2022.8 433.2,2023.9 435.6,2025.1 438,2026.2 440.4,2027.3 442.8,2028.3 445.2,2029.3 447.5,2030.3 449.9,2031.2 452.3,2032.2 454.7,2033.1 457.1,2033.9 459.5,2034.8 461.9,2035.6 464.3,2036.4 466.7,2037.2 469.1,2038 471.5,2038.7 473.9,2039.5 476.3,2040.2 478.7,2041 481.1,2041.7 483.5,2042.5 485.9,2043.2 488.2,2043.9 490.6,2044.7 493,2045.4 495.4,2046.1 497.8,2046.7 500.2,2047.4 502.6,2048.1 505,2048.7 507.4,2049.3 509.8,2049.9 512.2,2050.6 514.6,2051.2 517,2051.8 519.4,2052.4 521.8,2053 524.2,2053.6 526.6,2054.3 529,2054.9 531.3,2055.6 533.7,2056.2 536.1,2056.9 538.5,2057.6 541,2058.3 543.4,2059 545.9,2059.7 548.3,2060.4 550.8,2061.1 553.3,2061.8 555.7,2062.5 558.2,2063.3 560.7,2064 563.1,2064.7 565.6,2065.4 568,2066.2 570.4,2066.9 572.7,2067.7 575.1,2068.4 577.4,2069.2 579.6,2070 581.8,2070.8 584,2071.6 586.2,2072.4 588.3,2073.2 590.3,2073.9 592.4,2074.7 594.4,2075.5 596.4,2076.3 598.3,2077.1 600.3,2077.8 602.2,2078.7 604.1,2079.5 605.9,2080.3 607.8,2081.2 609.7,2082 611.5,2082.9 613.3,2083.9 615.1,2084.8 616.9,2085.8 618.7,2086.8 620.5,2087.9 622.3,2089 624.2,2090.2 626,2091.5 627.9,2092.9 629.9,2094.4 631.8,2095.9 633.8,2097.5 635.7,2099.1 637.7,2100.7 639.6,2102.4 641.5,2104 643.3,2105.7 645.1,2107.2 646.8,2108.8 648.4,2110.2 649.9,2111.6 651.4,2112.9 652.7,2114.1 653.9,2115.2 654.9,2116.1 655.8,2116.9" fill="none" stroke="#1F7FC0" stroke-width="2.2" stroke-linejoin="round"/>
<polyline points="177,2053 177.1,2052.3 177.2,2051.4 177.3,2050.5 177.4,2049.4 177.5,2048.2 177.6,2046.9 177.8,2045.6 177.9,2044.2 178.1,2042.7 178.2,2041.2 178.4,2039.7 178.7,2038.2 178.9,2036.7 179.2,2035.2 179.5,2033.7 179.9,2032.2 180.3,2030.8 180.8,2029.5 181.3,2028.2 181.9,2027 182.5,2025.9 183.2,2024.9 183.8,2023.9 184.4,2022.9 185.1,2021.9 185.8,2021 186.5,2020.1 187.3,2019.3 188.1,2018.4 189,2017.5 189.9,2016.6 190.9,2015.8 191.9,2014.8 193.1,2013.9 194.3,2013 195.5,2012 196.9,2011 198.4,2009.9 199.9,2008.7 201.6,2007.6 203.4,2006.3 205.2,2005.1 207.1,2003.8 209.2,2002.5 211.2,2001.2 213.4,1999.8 215.7,1998.4 218,1997.1 220.4,1995.6 222.8,1994.2 225.3,1992.7 227.9,1991.2 230.6,1989.7 233.3,1988.1 236.1,1986.5 238.9,1984.9 241.8,1983.3 244.7,1981.6 247.7,1979.9 250.8,1978.2 254,1976.4 257.3,1974.5 260.9,1972.6 264.5,1970.6 268.3,1968.5 272.2,1966.4 276.2,1964.3 280.2,1962.1 284.2,1959.9 288.3,1957.7 292.3,1955.6 296.4,1953.4 300.3,1951.3 304.2,1949.2 308,1947.1 311.6,1945.1 315.1,1943.2 318.5,1941.3 321.6,1939.6 324.6,1937.9 327.3,1936.3 329.8,1934.8 332.2,1933.3 334.3,1931.9 336.4,1930.6 338.3,1929.3 340.1,1928 341.9,1926.8 343.5,1925.6 345.2,1924.4 346.8,1923.3 348.4,1922.2 350.1,1921.1 351.8,1920 353.5,1918.9 355.4,1917.8 357.3,1916.7 359.4,1915.6 361.6,1914.5 363.9,1913.3 366.4,1912.2 369,1911.1 371.6,1909.9 374.2,1908.8 377,1907.7 379.7,1906.6 382.5,1905.4 385.4,1904.3 388.3,1903.3 391.3,1902.2 394.3,1901.1 397.3,1900 400.4,1899 403.5,1897.9 406.7,1896.9 409.9,1895.9 413.1,1894.9 416.4,1893.9 419.7,1893 423,1892 426.3,1891.1 429.7,1890.2 433.2,1889.3 436.8,1888.5 440.4,1887.7 444,1886.9 447.7,1886.1 451.4,1885.3 455.2,1884.5 458.9,1883.8 462.7,1883 466.5,1882.2 470.3,1881.5 474.1,1880.7 478,1879.9 481.8,1879.1 485.5,1878.2 489.3,1877.3 493,1876.4 496.7,1875.5 500.5,1874.5 504.2,1873.5 508.1,1872.5 511.9,1871.5 515.8,1870.5 519.7,1869.4 523.6,1868.3 527.4,1867.2 531.3,1866.1 535.2,1865 539,1863.9 542.8,1862.8 546.5,1861.6 550.2,1860.5 553.8,1859.4 557.4,1858.3 560.8,1857.1 564.2,1856 567.4,1854.9 570.5,1853.8 573.6,1852.7 576.5,1851.7 579.4,1850.6 582.3,1849.5 585,1848.5 587.7,1847.4 590.4,1846.4 592.9,1845.4 595.4,1844.3 597.9,1843.2 600.3,1842.2 602.6,1841.1 604.9,1840 607.2,1838.9 609.4,1837.8 611.5,1836.6 613.7,1835.5 615.7,1834.3 617.7,1833.1 619.7,1831.8 621.7,1830.6 623.5,1829.3 625.3,1828.1 627,1826.8 628.7,1825.6 630.3,1824.3 631.9,1823 633.4,1821.7 634.9,1820.4 636.3,1819.1 637.7,1817.7 639.1,1816.3 640.4,1814.9 641.7,1813.4 643,1811.9 644.3,1810.3 645.5,1808.7 646.8,1807 648,1805.3 649.2,1803.5 650.5,1801.6 651.7,1799.5 652.9,1797.3 654.1,1794.9 655.3,1792.5 656.5,1790 657.6,1787.4 658.8,1784.8 659.9,1782.2 660.9,1779.5 662,1777 662.9,1774.4 663.9,1772 664.8,1769.7 665.6,1767.5 666.4,1765.4 667.1,1763.5 667.8,1761.8 668.4,1760.3 668.9,1759.1" fill="none" stroke="#1F7FC0" stroke-width="2.2" stroke-linejoin="round"/>
<polyline points="177,1784.7 177.4,1786.1 177.8,1787.8 178.2,1789.8 178.7,1791.9 179.3,1794.3 179.8,1796.8 180.4,1799.5 181.1,1802.2 181.8,1805.1 182.5,1808.1 183.2,1811.1 183.9,1814.2 184.7,1817.3 185.5,1820.4 186.4,1823.5 187.2,1826.5 188.1,1829.4 189,1832.3 189.9,1835.1 190.8,1837.7 191.7,1840.3 192.7,1842.8 193.6,1845.4 194.6,1848 195.7,1850.6 196.7,1853.2 197.8,1855.8 198.9,1858.3 200,1860.9 201.1,1863.4 202.3,1865.9 203.5,1868.4 204.7,1870.9 205.9,1873.3 207.1,1875.7 208.4,1878 209.7,1880.3 211,1882.5 212.4,1884.7 213.7,1886.9 215.1,1888.9 216.5,1890.9 217.9,1892.9 219.4,1894.8 220.8,1896.7 222.3,1898.5 223.8,1900.3 225.3,1902 226.8,1903.8 228.4,1905.4 230,1907.1 231.6,1908.8 233.2,1910.4 234.9,1912 236.7,1913.6 238.4,1915.2 240.2,1916.9 242.1,1918.5 244,1920.1 245.9,1921.7 247.9,1923.4 249.9,1925 252,1926.6 254.2,1928.2 256.4,1929.7 258.6,1931.3 260.9,1932.8 263.3,1934.4 265.6,1935.9 268,1937.4 270.4,1939 272.8,1940.5 275.2,1942 277.6,1943.5 280,1945 282.4,1946.5 284.8,1948 287.2,1949.5 289.5,1951 291.8,1952.5 294.1,1954 296.4,1955.5 298.7,1956.9 301,1958.4 303.3,1959.9 305.6,1961.4 307.9,1962.9 310.2,1964.4 312.5,1965.8 314.8,1967.3 317.1,1968.8 319.4,1970.2 321.7,1971.7 324,1973.2 326.3,1974.6 328.5,1976 330.8,1977.5 333.1,1978.9 335.4,1980.3 337.7,1981.8 340,1983.2 342.3,1984.6 344.6,1986 346.9,1987.4 349.2,1988.8 351.5,1990.2 353.8,1991.6 356.1,1993 358.4,1994.4 360.7,1995.8 363,1997.1 365.3,1998.5 367.6,1999.9 369.9,2001.2 372.2,2002.6 374.5,2004 376.8,2005.3 379.1,2006.6 381.4,2008 383.7,2009.3 386,2010.6 388.2,2012 390.5,2013.3 392.8,2014.7 395.1,2016.1 397.4,2017.4 399.7,2018.8 402,2020.1 404.3,2021.5 406.6,2022.8 408.9,2024.1 411.2,2025.4 413.5,2026.7 415.8,2028 418.1,2029.2 420.4,2030.4 422.7,2031.6 425,2032.7 427.3,2033.8 429.6,2034.9 431.9,2035.9 434.2,2036.9 436.5,2037.8 438.8,2038.7 441.1,2039.6 443.4,2040.5 445.7,2041.3 447.9,2042.1 450.2,2042.9 452.5,2043.7 454.8,2044.4 457.1,2045.2 459.4,2045.9 461.7,2046.6 464,2047.3 466.3,2048 468.6,2048.7 470.9,2049.4 473.2,2050.1 475.5,2050.8 477.8,2051.4 480.1,2052.1 482.4,2052.7 484.7,2053.3 487,2053.9 489.3,2054.5 491.6,2055.1 493.9,2055.7 496.2,2056.2 498.5,2056.8 500.8,2057.3 503.1,2057.8 505.4,2058.4 507.6,2058.9 509.9,2059.5 512.2,2060 514.5,2060.6 516.8,2061.2 519.1,2061.7 521.4,2062.3 523.7,2063 526.1,2063.6 528.4,2064.2 530.8,2064.8 533.1,2065.4 535.5,2066 537.9,2066.6 540.2,2067.2 542.6,2067.8 545,2068.4 547.3,2069.1 549.6,2069.7 552,2070.3 554.2,2071 556.5,2071.6 558.8,2072.3 561,2073 563.1,2073.7 565.3,2074.4 567.3,2075.1 569.4,2075.8 571.4,2076.5 573.4,2077.1 575.4,2077.8 577.3,2078.5 579.2,2079.2 581.1,2079.9 582.9,2080.6 584.8,2081.3 586.6,2082 588.4,2082.8 590.2,2083.5 591.9,2084.3 593.7,2085.1 595.4,2086 597.2,2086.8 598.9,2087.7 600.6,2088.7 602.4,2089.7 604.1,2090.7 605.8,2091.8 607.6,2093 609.5,2094.3 611.3,2095.7 613.2,2097.1 615.1,2098.6 617,2100.1 618.8,2101.7 620.7,2103.2 622.5,2104.8 624.2,2106.3 625.9,2107.8 627.5,2109.2 629.1,2110.6 630.6,2111.9 631.9,2113.2 633.2,2114.3 634.3,2115.3 635.4,2116.2 636.2,2116.9" fill="none" stroke="#E8407A" stroke-width="2.2" stroke-linejoin="round"/>
<polyline points="177,2053 177.1,2052.3 177.2,2051.4 177.3,2050.4 177.4,2049.4 177.5,2048.2 177.6,2046.9 177.7,2045.6 177.9,2044.2 178,2042.7 178.2,2041.2 178.4,2039.7 178.6,2038.2 178.8,2036.7 179.1,2035.1 179.4,2033.6 179.8,2032.2 180.2,2030.8 180.6,2029.4 181.1,2028.2 181.7,2027 182.2,2025.8 182.8,2024.8 183.4,2023.8 184,2022.8 184.7,2021.8 185.3,2020.9 186,2020 186.8,2019.1 187.5,2018.2 188.4,2017.3 189.2,2016.4 190.2,2015.5 191.1,2014.6 192.2,2013.7 193.3,2012.7 194.6,2011.7 195.8,2010.6 197.2,2009.5 198.7,2008.4 200.3,2007.2 202,2005.9 203.7,2004.6 205.5,2003.3 207.4,2002 209.4,2000.6 211.5,1999.2 213.6,1997.8 215.8,1996.4 218,1994.9 220.4,1993.4 222.8,1991.9 225.2,1990.4 227.7,1988.8 230.3,1987.2 232.9,1985.6 235.6,1983.9 238.3,1982.3 241.1,1980.5 244,1978.8 246.9,1977 249.9,1975.2 253.1,1973.3 256.4,1971.3 259.9,1969.2 263.5,1967.1 267.1,1965 270.9,1962.8 274.7,1960.6 278.5,1958.3 282.4,1956.1 286.2,1953.9 290,1951.7 293.8,1949.5 297.4,1947.3 301,1945.2 304.5,1943.2 307.8,1941.2 311,1939.3 313.9,1937.5 316.7,1935.8 319.3,1934.2 321.7,1932.7 323.9,1931.2 326,1929.7 327.9,1928.4 329.7,1927.1 331.4,1925.8 333.1,1924.5 334.7,1923.3 336.2,1922.2 337.8,1921 339.3,1919.9 340.9,1918.8 342.5,1917.7 344.1,1916.6 345.9,1915.5 347.7,1914.4 349.7,1913.2 351.7,1912.1 354,1911 356.4,1909.8 358.8,1908.7 361.2,1907.5 363.8,1906.4 366.3,1905.2 369,1904.1 371.6,1903 374.3,1901.9 377.1,1900.8 379.9,1899.7 382.7,1898.6 385.6,1897.5 388.5,1896.5 391.5,1895.4 394.5,1894.4 397.5,1893.4 400.6,1892.4 403.6,1891.4 406.8,1890.4 409.9,1889.4 413.1,1888.5 416.3,1887.6 419.6,1886.8 423,1885.9 426.4,1885.1 429.8,1884.3 433.3,1883.6 436.8,1882.8 440.4,1882 443.9,1881.3 447.5,1880.5 451.1,1879.8 454.7,1879 458.4,1878.3 462,1877.5 465.6,1876.7 469.1,1875.9 472.7,1875 476.2,1874.1 479.8,1873.2 483.3,1872.3 486.8,1871.3 490.5,1870.3 494.1,1869.4 497.8,1868.3 501.4,1867.3 505.1,1866.3 508.8,1865.2 512.5,1864.2 516.1,1863.1 519.8,1862 523.3,1860.9 526.9,1859.9 530.4,1858.8 533.8,1857.7 537.1,1856.6 540.4,1855.5 543.6,1854.4 546.6,1853.4 549.6,1852.3 552.5,1851.3 555.3,1850.2 558,1849.2 560.7,1848.2 563.3,1847.2 565.9,1846.2 568.4,1845.2 570.8,1844.2 573.2,1843.1 575.5,1842.1 577.8,1841.1 580,1840 582.2,1839 584.3,1837.9 586.4,1836.8 588.4,1835.7 590.4,1834.6 592.4,1833.4 594.3,1832.3 596.2,1831 598,1829.8 599.8,1828.6 601.5,1827.4 603.1,1826.1 604.7,1824.9 606.2,1823.7 607.7,1822.4 609.2,1821.2 610.6,1819.9 611.9,1818.5 613.2,1817.2 614.5,1815.8 615.8,1814.4 617,1812.9 618.2,1811.4 619.4,1809.9 620.6,1808.3 621.8,1806.7 623,1805 624.1,1803.2 625.3,1801.3 626.5,1799.2 627.6,1797 628.8,1794.7 629.9,1792.3 631,1789.8 632.1,1787.2 633.2,1784.6 634.2,1782 635.2,1779.4 636.2,1776.8 637.1,1774.3 638,1771.9 638.8,1769.6 639.6,1767.4 640.4,1765.4 641.1,1763.5 641.7,1761.8 642.3,1760.3 642.8,1759.1" fill="none" stroke="#E8407A" stroke-width="2.2" stroke-linejoin="round"/>
<rect x="177" y="1708" width="572" height="460" fill="none" stroke="#000" stroke-width="3.5"/>
<line x1="169" y1="2168" x2="177" y2="2168" stroke="#000" stroke-width="2.5" />
<text x="162" y="2178.5" font-family="'Liberation Sans', sans-serif" font-size="29" font-weight="bold" fill="#111" text-anchor="end" >0.0</text>
<line x1="173" y1="2129.7" x2="177" y2="2129.7" stroke="#000" stroke-width="2.5" />
<line x1="169" y1="2091.3" x2="177" y2="2091.3" stroke="#000" stroke-width="2.5" />
<text x="162" y="2101.8" font-family="'Liberation Sans', sans-serif" font-size="29" font-weight="bold" fill="#111" text-anchor="end" >0.3</text>
<line x1="173" y1="2053" x2="177" y2="2053" stroke="#000" stroke-width="2.5" />
<line x1="169" y1="2014.7" x2="177" y2="2014.7" stroke="#000" stroke-width="2.5" />
<text x="162" y="2025.2" font-family="'Liberation Sans', sans-serif" font-size="29" font-weight="bold" fill="#111" text-anchor="end" >0.6</text>
<line x1="173" y1="1976.3" x2="177" y2="1976.3" stroke="#000" stroke-width="2.5" />
<line x1="169" y1="1938" x2="177" y2="1938" stroke="#000" stroke-width="2.5" />
<text x="162" y="1948.5" font-family="'Liberation Sans', sans-serif" font-size="29" font-weight="bold" fill="#111" text-anchor="end" >0.9</text>
<line x1="173" y1="1899.7" x2="177" y2="1899.7" stroke="#000" stroke-width="2.5" />
<line x1="169" y1="1861.3" x2="177" y2="1861.3" stroke="#000" stroke-width="2.5" />
<text x="162" y="1871.8" font-family="'Liberation Sans', sans-serif" font-size="29" font-weight="bold" fill="#111" text-anchor="end" >1.2</text>
<line x1="173" y1="1823" x2="177" y2="1823" stroke="#000" stroke-width="2.5" />
<line x1="169" y1="1784.7" x2="177" y2="1784.7" stroke="#000" stroke-width="2.5" />
<text x="162" y="1795.2" font-family="'Liberation Sans', sans-serif" font-size="29" font-weight="bold" fill="#111" text-anchor="end" >1.5</text>
<line x1="173" y1="1746.3" x2="177" y2="1746.3" stroke="#000" stroke-width="2.5" />
<line x1="169" y1="1708" x2="177" y2="1708" stroke="#000" stroke-width="2.5" />
<text x="162" y="1718.5" font-family="'Liberation Sans', sans-serif" font-size="29" font-weight="bold" fill="#111" text-anchor="end" >1.8</text>
<line x1="177" y1="2168" x2="177" y2="2176" stroke="#000" stroke-width="2.5" />
<text x="177" y="2209" font-family="'Liberation Sans', sans-serif" font-size="29" font-weight="bold" fill="#111" text-anchor="middle" >0</text>
<line x1="217.9" y1="2168" x2="217.9" y2="2172" stroke="#000" stroke-width="2.5" />
<line x1="258.7" y1="2168" x2="258.7" y2="2176" stroke="#000" stroke-width="2.5" />
<text x="258.7" y="2209" font-family="'Liberation Sans', sans-serif" font-size="29" font-weight="bold" fill="#111" text-anchor="middle" >50</text>
<line x1="299.6" y1="2168" x2="299.6" y2="2172" stroke="#000" stroke-width="2.5" />
<line x1="340.4" y1="2168" x2="340.4" y2="2176" stroke="#000" stroke-width="2.5" />
<text x="340.4" y="2209" font-family="'Liberation Sans', sans-serif" font-size="29" font-weight="bold" fill="#111" text-anchor="middle" >100</text>
<line x1="381.3" y1="2168" x2="381.3" y2="2172" stroke="#000" stroke-width="2.5" />
<line x1="422.1" y1="2168" x2="422.1" y2="2176" stroke="#000" stroke-width="2.5" />
<text x="422.1" y="2209" font-family="'Liberation Sans', sans-serif" font-size="29" font-weight="bold" fill="#111" text-anchor="middle" >150</text>
<line x1="463" y1="2168" x2="463" y2="2172" stroke="#000" stroke-width="2.5" />
<line x1="503.9" y1="2168" x2="503.9" y2="2176" stroke="#000" stroke-width="2.5" />
<text x="503.9" y="2209" font-family="'Liberation Sans', sans-serif" font-size="29" font-weight="bold" fill="#111" text-anchor="middle" >200</text>
<line x1="544.7" y1="2168" x2="544.7" y2="2172" stroke="#000" stroke-width="2.5" />
<line x1="585.6" y1="2168" x2="585.6" y2="2176" stroke="#000" stroke-width="2.5" />
<text x="585.6" y="2209" font-family="'Liberation Sans', sans-serif" font-size="29" font-weight="bold" fill="#111" text-anchor="middle" >250</text>
<line x1="626.4" y1="2168" x2="626.4" y2="2172" stroke="#000" stroke-width="2.5" />
<line x1="667.3" y1="2168" x2="667.3" y2="2176" stroke="#000" stroke-width="2.5" />
<text x="667.3" y="2209" font-family="'Liberation Sans', sans-serif" font-size="29" font-weight="bold" fill="#111" text-anchor="middle" >300</text>
<line x1="708.1" y1="2168" x2="708.1" y2="2172" stroke="#000" stroke-width="2.5" />
<line x1="749" y1="2168" x2="749" y2="2176" stroke="#000" stroke-width="2.5" />
<text x="749" y="2209" font-family="'Liberation Sans', sans-serif" font-size="29" font-weight="bold" fill="#111" text-anchor="middle" >350</text>
<text x="463" y="2255" font-family="'Liberation Sans', sans-serif" font-size="33" font-weight="bold" fill="#111" text-anchor="middle" textLength="443" lengthAdjust="spacingAndGlyphs">Specific Capacity (mAh g<tspan font-size="19" dy="-13">-1</tspan><tspan dy="13">)</tspan></text>
<text x="0" y="0" font-family="'Liberation Sans', sans-serif" font-size="33" font-weight="bold" fill="#111" text-anchor="middle" transform="translate(109 1939) rotate(-90)" textLength="360" lengthAdjust="spacingAndGlyphs">Voltage (V) vs Zn<tspan font-size="20" dy="-13">2+</tspan><tspan dy="13">/Zn</tspan></text>
<text x="201" y="1755" font-family="'Liberation Sans', sans-serif" font-size="24" font-weight="bold" fill="#222" text-anchor="start" textLength="274" lengthAdjust="spacingAndGlyphs">MOF-CeO<tspan font-size="16" dy="5">2</tspan><tspan dy="-5">@Zn//MnVO</tspan></text>
<line x1="412" y1="1936" x2="470" y2="1936" stroke="#4B3F9E" stroke-width="2.6" />
<text x="478" y="1945" font-family="'Liberation Sans', sans-serif" font-size="25" font-weight="bold" fill="#111" text-anchor="start" >5 th</text>
<line x1="412" y1="1968" x2="470" y2="1968" stroke="#1F7FC0" stroke-width="2.6" />
<text x="478" y="1977" font-family="'Liberation Sans', sans-serif" font-size="25" font-weight="bold" fill="#111" text-anchor="start" >400 th</text>
<line x1="596" y1="1936" x2="654" y2="1936" stroke="#F58A07" stroke-width="2.6" />
<text x="662" y="1945" font-family="'Liberation Sans', sans-serif" font-size="25" font-weight="bold" fill="#111" text-anchor="start" >100 th</text>
<line x1="596" y1="1968" x2="654" y2="1968" stroke="#E8407A" stroke-width="2.6" />
<text x="662" y="1977" font-family="'Liberation Sans', sans-serif" font-size="25" font-weight="bold" fill="#111" text-anchor="start" >600 th</text>
<text x="29.4" y="1695.5" font-family="'Liberation Serif', serif" font-size="66" font-weight="bold" fill="#000" text-anchor="start" >(l)</text>
<rect x="950" y="1751" width="1330" height="32" fill="url(#pinkCE)" />
<polyline points="951,1770 951,1769 952,1771 953,1767 954,1770 955,1768 955,1766 956,1769 957,1766 958,1767 959,1768 959,1768 960,1768 961,1770 962,1765 963,1769 963,1765 964,1766 965,1772 966,1770 967,1769 967,1767 968,1771 969,1768 970,1770 971,1767 971,1766 972,1767 973,1771 974,1767 975,1769 975,1766 976,1769 977,1766 978,1765 979,1767 979,1767 980,1767 981,1768 982,1771 983,1765 983,1769 984,1772 985,1769 986,1769 987,1771 987,1766 988,1771 989,1766 990,1768 991,1771 991,1770 992,1769 993,1771 994,1767 995,1768 995,1765 996,1766 997,1767 998,1765 999,1766 999,1768 1000,1768 1001,1769 1002,1767 1003,1766 1003,1766 1004,1766 1005,1772 1006,1769 1007,1771 1007,1768 1008,1768 1009,1768 1010,1766 1011,1771 1011,1767 1012,1768 1013,1771 1014,1765 1015,1772 1015,1769 1016,1768 1017,1768 1018,1765 1019,1768 1019,1766 1020,1770 1021,1769 1022,1771 1023,1768 1023,1769 1024,1767 1025,1771 1026,1769 1027,1766 1027,1772 1028,1768 1029,1768 1030,1767 1031,1768 1031,1769 1032,1766 1033,1770 1034,1767 1035,1768 1035,1767 1036,1769 1037,1772 1038,1767 1039,1770 1039,1767 1040,1765 1041,1767 1042,1769 1043,1766 1043,1769 1044,1770 1045,1768 1046,1768 1047,1767 1047,1768 1048,1769 1049,1767 1050,1770 1051,1768 1051,1772 1052,1771 1053,1766 1054,1771 1055,1769 1055,1772 1056,1767 1057,1770 1058,1772 1059,1770 1059,1766 1060,1767 1061,1772 1062,1766 1063,1772 1063,1769 1064,1768 1065,1767 1066,1771 1067,1767 1067,1770 1068,1767 1069,1766 1070,1768 1071,1772 1071,1768 1072,1769 1073,1767 1074,1767 1075,1771 1075,1768 1076,1768 1077,1766 1078,1768 1079,1768 1079,1767 1080,1771 1081,1766 1082,1768 1083,1768 1083,1771 1084,1769 1085,1769 1086,1771 1087,1766 1087,1766 1088,1769 1089,1772 1090,1765 1091,1771 1091,1769 1092,1768 1093,1766 1094,1768 1095,1768 1095,1769 1096,1765 1097,1767 1098,1770 1099,1767 1099,1766 1100,1769 1101,1771 1102,1772 1103,1766 1103,1771 1104,1767 1105,1771 1106,1771 1107,1771 1107,1767 1108,1771 1109,1769 1110,1767 1111,1769 1111,1772 1112,1772 1113,1766 1114,1770 1115,1771 1115,1769 1116,1767 1117,1770 1118,1771 1119,1771 1119,1769 1120,1767 1121,1771" fill="none" stroke="#1F5A5A" stroke-width="12" stroke-linecap="round" stroke-linejoin="round" />
<polyline points="1124,1767 1125,1768 1126,1770 1128,1773 1129,1778 1130,1771 1131,1772 1132,1768 1134,1777 1135,1776 1136,1778 1137,1771 1138,1777 1140,1770 1141,1772 1142,1773 1143,1775 1144,1764 1146,1771 1147,1777 1148,1770 1149,1767 1150,1771 1152,1765 1153,1766 1154,1768 1155,1778 1156,1772 1158,1771 1159,1776 1160,1771 1161,1768 1162,1767 1164,1767 1165,1767 1166,1774 1167,1769 1168,1771 1170,1767 1171,1776 1172,1776 1173,1768 1174,1767 1176,1775 1177,1767 1178,1767 1179,1769 1180,1771 1182,1777 1183,1775 1184,1767 1185,1764 1186,1776 1188,1778 1189,1773 1190,1764 1191,1775 1192,1764 1194,1767 1195,1766 1196,1763 1197,1768 1198,1775 1200,1772 1201,1772 1202,1768 1203,1773 1204,1767 1206,1778 1207,1775 1208,1775 1209,1776 1210,1767 1212,1765 1213,1777 1214,1771 1215,1778 1216,1775 1218,1776 1219,1768 1220,1766 1221,1766 1222,1774 1224,1772 1225,1775 1226,1768 1227,1775 1228,1767 1230,1771 1231,1770 1232,1765 1233,1764 1234,1774 1236,1767 1237,1774 1238,1778 1239,1765 1240,1775 1242,1774 1243,1767 1244,1766 1245,1772 1246,1768 1248,1772 1249,1778 1250,1770 1251,1776 1252,1775 1254,1772 1255,1769 1256,1775 1257,1775 1258,1770 1260,1774 1261,1770 1262,1768 1263,1774 1264,1765 1266,1764 1267,1778 1268,1777 1269,1777 1270,1771 1272,1774 1273,1767 1274,1763 1275,1771 1276,1774 1278,1775 1279,1765 1280,1766 1281,1765 1282,1763 1284,1771 1285,1767 1286,1773 1287,1776 1288,1768 1290,1773 1291,1770 1292,1770 1293,1775 1294,1778 1296,1767 1297,1767 1298,1767 1299,1773 1300,1773 1302,1769 1303,1773 1304,1767 1305,1770 1306,1770 1308,1765 1309,1777 1310,1775 1311,1770 1312,1765 1314,1764 1315,1765 1316,1775 1317,1774 1318,1775 1320,1775 1321,1776 1322,1776 1323,1766 1324,1770 1326,1764 1327,1769 1328,1767 1329,1764 1330,1770 1332,1775 1333,1772 1334,1772 1335,1776 1336,1770 1338,1767 1339,1773 1340,1778 1341,1777 1342,1773 1344,1775 1345,1771 1346,1764 1347,1775 1348,1773 1349,1769 1351,1776 1352,1765 1353,1764 1354,1778 1355,1772 1357,1766 1358,1778 1359,1770 1360,1766 1361,1764 1363,1775 1364,1764 1365,1769 1366,1767 1367,1775 1369,1778 1370,1771 1371,1764 1372,1774 1373,1764 1375,1764 1376,1771 1377,1771 1378,1764 1379,1778 1381,1770 1382,1776 1383,1767 1384,1771 1385,1769 1387,1772 1388,1765 1389,1766 1390,1778 1391,1770 1393,1775 1394,1764 1395,1765 1396,1766 1397,1768 1399,1765 1400,1775 1401,1774 1402,1765 1403,1768 1405,1774 1406,1766 1407,1768 1408,1778 1409,1764 1411,1767 1412,1767 1413,1777 1414,1778 1415,1777 1417,1767 1418,1778 1419,1774 1420,1773 1421,1772 1423,1774 1424,1777 1425,1771 1426,1777 1427,1772 1429,1774 1430,1777 1431,1777 1432,1767 1433,1777 1435,1771 1436,1769 1437,1765 1438,1769 1439,1767 1441,1765 1442,1777 1443,1778 1444,1766 1445,1774 1447,1771 1448,1773 1449,1776 1450,1772 1451,1771 1453,1766 1454,1775 1455,1777 1456,1769 1457,1765 1459,1772 1460,1774 1461,1765 1462,1766 1463,1778 1465,1777 1466,1769 1467,1772 1468,1771 1469,1772 1471,1777 1472,1767 1473,1765 1474,1769 1475,1774 1477,1768 1478,1774 1479,1777 1480,1769 1481,1770 1483,1765 1484,1772 1485,1776 1486,1770 1487,1777 1489,1774 1490,1764 1491,1773 1492,1773 1493,1764 1495,1777 1496,1767 1497,1767 1498,1765 1499,1776 1501,1772 1502,1773 1503,1778 1504,1776 1505,1776 1507,1777 1508,1768 1509,1768 1510,1772 1511,1766 1513,1766 1514,1766 1515,1775 1516,1773 1517,1776 1519,1778 1520,1763 1521,1770 1522,1768 1523,1770 1525,1774 1526,1778 1527,1774 1528,1772 1529,1777 1531,1774 1532,1765 1533,1777 1534,1769 1535,1772 1537,1768 1538,1769 1539,1772 1540,1763 1541,1767 1543,1772 1544,1766 1545,1767 1546,1763 1547,1772 1549,1775 1550,1771 1551,1768 1552,1772 1553,1777 1555,1771 1556,1778 1557,1778 1558,1768 1559,1775 1561,1765 1562,1765 1563,1767 1564,1777 1565,1775 1567,1771 1568,1770 1569,1771 1570,1778 1571,1776 1573,1764 1574,1772" fill="none" stroke="#F39020" stroke-width="12.4" stroke-linecap="round" stroke-linejoin="round" />
<circle cx="1356.5" cy="1796.2" r="5.2" fill="#FFF8EC" stroke="#F39020" stroke-width="2.2"/>
<circle cx="1311.6" cy="1781.1" r="5.2" fill="#FFF8EC" stroke="#F39020" stroke-width="2.2"/>
<circle cx="1317.3" cy="1786.7" r="5.2" fill="#FFF8EC" stroke="#F39020" stroke-width="2.2"/>
<circle cx="1454" cy="1799.9" r="5.2" fill="#FFF8EC" stroke="#F39020" stroke-width="2.2"/>
<circle cx="1167.1" cy="1769" r="5.2" fill="#FFF8EC" stroke="#F39020" stroke-width="2.2"/>
<circle cx="1157.4" cy="1773.5" r="5.2" fill="#FFF8EC" stroke="#F39020" stroke-width="2.2"/>
<circle cx="1286.3" cy="1773.8" r="5.2" fill="#FFF8EC" stroke="#F39020" stroke-width="2.2"/>
<circle cx="1384.2" cy="1783.1" r="5.2" fill="#FFF8EC" stroke="#F39020" stroke-width="2.2"/>
<circle cx="1270.2" cy="1774.1" r="5.2" fill="#FFF8EC" stroke="#F39020" stroke-width="2.2"/>
<circle cx="1226.9" cy="1764.9" r="5.2" fill="#FFF8EC" stroke="#F39020" stroke-width="2.2"/>
<circle cx="1338.3" cy="1770.2" r="5.2" fill="#FFF8EC" stroke="#F39020" stroke-width="2.2"/>
<circle cx="1461.5" cy="1774" r="5.2" fill="#FFF8EC" stroke="#F39020" stroke-width="2.2"/>
<circle cx="1463.3" cy="1769.7" r="5.2" fill="#FFF8EC" stroke="#F39020" stroke-width="2.2"/>
<circle cx="1263.5" cy="1773.3" r="5.2" fill="#FFF8EC" stroke="#F39020" stroke-width="2.2"/>
<circle cx="1559.9" cy="1780.6" r="5.2" fill="#FFF8EC" stroke="#F39020" stroke-width="2.2"/>
<circle cx="1566" cy="1781.6" r="5.2" fill="#FFF8EC" stroke="#F39020" stroke-width="2.2"/>
<circle cx="1430.4" cy="1767.7" r="5.2" fill="#FFF8EC" stroke="#F39020" stroke-width="2.2"/>
<circle cx="1214.7" cy="1795.2" r="5.2" fill="#FFF8EC" stroke="#F39020" stroke-width="2.2"/>
<circle cx="1201.9" cy="1781.2" r="5.2" fill="#FFF8EC" stroke="#F39020" stroke-width="2.2"/>
<circle cx="1299.4" cy="1786.1" r="5.2" fill="#FFF8EC" stroke="#F39020" stroke-width="2.2"/>
<circle cx="1429.7" cy="1787.1" r="5.2" fill="#FFF8EC" stroke="#F39020" stroke-width="2.2"/>
<circle cx="1284.4" cy="1787.2" r="5.2" fill="#FFF8EC" stroke="#F39020" stroke-width="2.2"/>
<circle cx="1137.4" cy="1770.2" r="5.2" fill="#FFF8EC" stroke="#F39020" stroke-width="2.2"/>
<circle cx="1389.2" cy="1780" r="5.2" fill="#FFF8EC" stroke="#F39020" stroke-width="2.2"/>
<circle cx="1344.8" cy="1764.7" r="5.2" fill="#FFF8EC" stroke="#F39020" stroke-width="2.2"/>
<circle cx="1157.3" cy="1763.6" r="5.2" fill="#FFF8EC" stroke="#F39020" stroke-width="2.2"/>
<circle cx="1382.7" cy="1781.5" r="5.2" fill="#FFF8EC" stroke="#F39020" stroke-width="2.2"/>
<circle cx="1328.8" cy="1787.4" r="5.2" fill="#FFF8EC" stroke="#F39020" stroke-width="2.2"/>
<circle cx="1155.9" cy="1781" r="5.2" fill="#FFF8EC" stroke="#F39020" stroke-width="2.2"/>
<circle cx="1395.9" cy="1775.2" r="5.2" fill="#FFF8EC" stroke="#F39020" stroke-width="2.2"/>
<circle cx="1285.4" cy="1775.3" r="5.2" fill="#FFF8EC" stroke="#F39020" stroke-width="2.2"/>
<circle cx="1256" cy="1764" r="5.2" fill="#FFF8EC" stroke="#F39020" stroke-width="2.2"/>
<circle cx="1401" cy="1791.6" r="5.2" fill="#FFF8EC" stroke="#F39020" stroke-width="2.2"/>
<circle cx="1366.9" cy="1776.6" r="5.2" fill="#FFF8EC" stroke="#F39020" stroke-width="2.2"/>
<circle cx="1338.4" cy="1791.9" r="5.2" fill="#FFF8EC" stroke="#F39020" stroke-width="2.2"/>
<circle cx="1421.6" cy="1798.5" r="5.2" fill="#FFF8EC" stroke="#F39020" stroke-width="2.2"/>
<circle cx="1147.6" cy="1782.4" r="5.2" fill="#FFF8EC" stroke="#F39020" stroke-width="2.2"/>
<circle cx="1325.5" cy="1773.6" r="5.2" fill="#FFF8EC" stroke="#F39020" stroke-width="2.2"/>
<circle cx="1321.4" cy="1768.9" r="5.2" fill="#FFF8EC" stroke="#F39020" stroke-width="2.2"/>
<circle cx="1552.9" cy="1774.3" r="5.2" fill="#FFF8EC" stroke="#F39020" stroke-width="2.2"/>
<circle cx="1288.5" cy="1796.2" r="5.2" fill="#FFF8EC" stroke="#F39020" stroke-width="2.2"/>
<circle cx="1142.2" cy="1787.7" r="5.2" fill="#FFF8EC" stroke="#F39020" stroke-width="2.2"/>
<circle cx="1339.4" cy="1779.3" r="5.2" fill="#FFF8EC" stroke="#F39020" stroke-width="2.2"/>
<circle cx="1341.9" cy="1782.4" r="5.2" fill="#FFF8EC" stroke="#F39020" stroke-width="2.2"/>
<circle cx="1280.6" cy="1782.8" r="5.2" fill="#FFF8EC" stroke="#F39020" stroke-width="2.2"/>
<polyline points="1575,1771 1575,1769 1576,1768 1577,1767 1578,1771 1579,1766 1579,1770 1580,1772 1581,1768 1582,1766 1583,1766 1583,1769 1584,1766 1585,1766 1586,1769 1587,1768 1587,1767 1588,1767 1589,1772 1590,1769 1591,1772 1591,1772 1592,1769 1593,1771 1594,1772 1595,1765 1595,1771 1596,1767 1597,1769 1598,1769 1599,1768 1599,1768 1600,1771 1601,1766 1602,1766 1603,1767 1603,1769 1604,1768 1605,1772 1606,1769 1607,1768 1607,1768 1608,1766 1609,1771 1610,1766 1611,1772 1611,1771 1612,1767 1613,1772 1614,1765 1614,1767 1615,1770 1616,1769 1617,1771 1618,1769 1618,1771 1619,1767 1620,1766 1621,1768 1622,1769 1622,1767 1623,1766 1624,1770 1625,1767 1626,1766 1626,1768 1627,1771 1628,1766 1629,1771 1630,1770 1630,1770 1631,1770 1632,1767 1633,1771 1634,1769 1634,1769 1635,1766 1636,1769 1637,1769 1638,1771 1638,1768 1639,1767 1640,1770 1641,1767 1642,1771 1642,1771 1643,1772 1644,1771 1645,1770 1646,1770 1646,1769 1647,1768 1648,1767 1649,1772 1650,1771 1650,1768 1651,1766 1652,1771 1653,1768 1654,1771 1654,1766 1655,1765 1656,1767 1657,1768 1658,1767 1658,1766 1659,1770 1660,1766 1661,1769 1662,1771 1662,1771 1663,1769 1664,1772 1665,1767 1666,1770 1666,1766 1667,1767 1668,1769 1669,1766 1670,1769 1670,1770 1671,1768 1672,1766 1673,1767 1674,1770 1674,1771 1675,1769 1676,1766 1677,1770 1678,1770 1678,1765 1679,1767 1680,1769 1681,1768 1682,1771 1682,1768 1683,1769 1684,1771 1685,1770 1686,1771 1686,1771 1687,1768 1688,1770 1689,1768 1690,1767 1690,1771 1691,1767 1692,1770 1693,1767 1694,1771 1694,1766 1695,1768 1696,1767 1697,1769 1698,1769 1698,1772 1699,1771 1700,1766 1701,1769 1702,1770 1702,1766 1703,1766 1704,1767 1705,1770 1706,1770 1706,1767 1707,1769 1708,1767 1709,1771 1710,1771 1710,1770 1711,1766 1712,1770 1713,1769 1714,1772 1714,1768 1715,1771 1716,1769 1717,1768 1718,1767 1718,1767 1719,1769 1720,1766 1721,1769 1722,1769 1722,1766 1723,1767 1724,1771 1725,1770 1726,1766 1726,1766 1727,1769 1728,1772 1729,1766 1730,1770 1730,1769 1731,1767 1732,1770 1733,1766 1734,1770 1734,1769 1735,1771 1736,1768 1737,1771 1738,1765 1738,1767 1739,1772 1740,1772 1741,1771 1742,1767 1742,1768 1743,1767 1744,1768 1745,1769 1746,1768 1746,1767 1747,1770 1748,1767 1749,1766 1750,1767 1750,1770 1751,1768 1752,1769 1753,1769 1754,1772 1754,1771 1755,1768 1756,1770 1757,1769 1758,1767 1758,1770 1759,1769 1760,1771 1761,1771 1762,1766 1762,1766 1763,1768 1764,1767 1765,1769 1766,1769 1766,1765 1767,1771 1768,1768 1769,1769 1770,1767 1770,1771 1771,1770 1772,1771 1773,1767 1774,1772 1774,1771 1775,1769 1776,1766 1777,1767 1778,1767 1778,1770 1779,1769 1780,1766 1781,1770 1782,1770 1782,1770 1783,1769 1784,1772 1785,1771 1786,1772 1786,1769 1787,1768 1788,1766 1789,1766 1790,1771 1790,1769 1791,1768 1792,1767 1793,1767 1794,1769 1794,1767 1795,1768 1796,1768 1797,1766 1798,1766 1798,1771 1799,1767 1800,1772 1801,1769 1802,1770 1802,1768 1803,1767 1804,1770 1805,1771 1806,1772 1806,1766 1807,1767" fill="none" stroke="#1A80B8" stroke-width="12" stroke-linecap="round" stroke-linejoin="round" />
<circle cx="1124" cy="1768.7" r="4" fill="#fff" />
<circle cx="1807.8" cy="1768.7" r="4" fill="#fff" />
<polyline points="948,1945 949,1945 950,1946 951,1940 952,1943 953,1946 954,1944 955,1942 957,1946 958,1942 959,1946 960,1945 961,1942 962,1941 963,1941 964,1939 965,1944 966,1944 967,1945 968,1940 969,1944 970,1944 971,1939 973,1939 974,1943 975,1942 976,1938 977,1941 978,1939 979,1941 980,1937 981,1940 982,1938 983,1939 984,1943 985,1944 986,1939 987,1938 989,1942 990,1937 991,1938 992,1938 993,1939 994,1939 995,1943 996,1938 997,1939 998,1940 999,1943 1000,1937 1001,1941 1002,1939 1003,1945 1005,1944 1006,1944 1007,1941 1008,1944 1009,1939 1010,1942 1011,1941 1012,1947 1013,1944 1014,1942 1015,1945 1016,1944 1017,1946 1018,1943 1019,1944 1021,1943 1022,1948 1023,1946 1024,1947 1025,1944 1026,1944 1027,1944 1028,1945 1029,1948 1030,1946 1031,1946 1032,1947 1033,1948 1034,1947 1035,1945 1037,1953 1038,1951 1039,1948 1040,1952 1041,1946 1042,1948 1043,1950 1044,1951 1045,1948 1046,1953 1047,1951 1048,1949 1049,1956 1050,1950 1051,1952 1053,1955 1054,1955 1055,1953 1056,1950 1057,1954 1058,1951 1059,1954 1060,1954 1061,1956 1062,1959 1063,1952 1064,1956 1065,1958 1066,1958 1067,1956 1069,1957 1070,1960 1071,1961 1072,1956 1073,1959 1074,1955 1075,1960 1076,1957 1077,1961 1078,1961 1079,1958 1080,1961 1081,1960 1082,1960 1083,1961 1084,1957 1086,1957 1087,1959 1088,1959 1089,1964 1090,1964 1091,1963 1092,1958 1093,1962 1094,1960 1095,1963 1096,1959 1097,1959 1098,1960 1099,1966 1100,1962 1102,1967 1103,1963 1104,1962 1105,1960 1106,1967 1107,1965 1108,1966 1109,1967 1110,1968 1111,1967 1112,1963 1113,1967 1114,1963 1115,1966 1116,1961 1118,1968 1119,1966 1120,1967 1121,1967 1122,1969 1123,1963 1124,1965 1125,1966 1126,1966 1127,1970 1128,1971 1129,1968 1130,1970 1131,1969 1132,1966 1134,1967 1135,1971 1136,1971 1137,1966 1138,1972 1139,1968 1140,1966 1141,1970 1142,1970 1143,1966 1144,1968 1145,1970 1146,1969 1147,1970 1148,1970 1150,1968 1151,1968 1152,1967 1153,1971 1154,1974 1155,1972 1156,1973 1157,1974 1158,1973 1159,1970 1160,1970 1161,1975 1162,1975 1163,1969 1164,1976 1166,1977 1167,1976 1168,1971 1169,1977 1170,1970 1171,1975 1172,1971 1173,1978 1174,1978 1175,1978 1176,1971 1177,1971 1178,1973 1179,1975 1180,1971 1182,1974 1183,1972 1184,1973 1185,1976 1186,1973 1187,1974 1188,1979 1189,1979 1190,1975 1191,1979 1192,1978 1193,1975 1194,1975 1195,1978 1196,1976 1198,1980 1199,1974 1200,1979 1201,1975 1202,1974 1203,1980 1204,1973 1205,1978 1206,1980 1207,1981 1208,1977 1209,1976 1210,1980 1211,1975 1212,1981 1214,1975 1215,1980 1216,1979 1217,1974 1218,1982 1219,1981 1220,1981 1221,1976 1222,1977 1223,1978 1224,1980 1225,1976 1226,1980 1227,1976 1228,1975 1230,1980 1231,1982 1232,1975 1233,1976 1234,1976 1235,1978 1236,1981 1237,1977 1238,1979 1239,1978 1240,1983 1241,1983 1242,1979 1243,1982 1244,1984 1246,1979 1247,1979 1248,1977 1249,1978 1250,1980 1251,1979 1252,1983 1253,1984 1254,1983 1255,1983 1256,1978 1257,1983 1258,1980 1259,1980 1260,1979 1262,1986 1263,1979 1264,1984 1265,1978 1266,1983 1267,1986 1268,1979 1269,1985 1270,1980 1271,1985 1272,1985 1273,1985 1274,1986 1275,1979 1276,1979 1278,1979 1279,1985 1280,1982 1281,1984 1282,1982 1283,1980 1284,1986 1285,1982 1286,1985 1287,1983 1288,1982 1289,1981 1290,1982 1291,1982 1292,1984 1294,1982 1295,1985 1296,1988 1297,1988 1298,1984 1299,1984 1300,1982 1301,1985 1302,1985 1303,1983 1304,1984 1305,1988 1306,1988 1307,1989 1308,1986 1310,1984 1311,1987 1312,1985 1313,1989 1314,1988 1315,1990 1316,1991 1317,1985 1318,1985 1319,1986 1320,1984 1321,1989 1322,1988 1323,1986 1324,1986 1326,1990 1327,1987 1328,1989 1329,1991 1330,1987 1331,1987 1332,1990 1333,1984 1334,1989 1335,1990 1336,1990 1337,1986 1338,1987 1339,1988 1340,1992 1342,1987 1343,1993 1344,1990 1345,1987 1346,1988 1347,1993 1348,1993 1349,1993 1350,1986 1351,1989 1352,1989 1353,1991 1354,1987 1355,1989 1356,1990 1357,1986 1359,1991 1360,1987 1361,1988 1362,1988 1363,1992 1364,1988 1365,1992 1366,1989 1367,1988 1368,1989 1369,1987 1370,1990 1371,1993 1372,1988 1373,1991 1375,1988 1376,1989 1377,1991 1378,1989 1379,1993 1380,1989 1381,1988 1382,1993 1383,1988 1384,1986 1385,1988 1386,1988 1387,1988 1388,1988 1389,1988 1391,1988 1392,1992 1393,1992 1394,1990 1395,1990 1396,1988 1397,1993 1398,1989 1399,1987 1400,1986 1401,1988 1402,1991 1403,1986 1404,1990 1405,1992 1407,1991 1408,1993 1409,1993 1410,1992 1411,1992 1412,1988 1413,1986 1414,1993 1415,1990 1416,1990 1417,1987 1418,1987 1419,1987 1420,1985 1421,1989 1423,1987 1424,1987 1425,1993 1426,1990 1427,1986 1428,1991 1429,1991 1430,1985 1431,1986 1432,1985 1433,1988 1434,1989 1435,1991 1436,1989 1437,1987 1439,1989 1440,1987 1441,1988 1442,1991 1443,1987 1444,1989 1445,1988 1446,1986 1447,1987 1448,1991 1449,1986 1450,1991 1451,1988 1452,1989 1453,1989 1455,1987 1456,1991 1457,1986 1458,1989 1459,1985 1460,1987 1461,1990 1462,1986 1463,1992 1464,1989 1465,1991 1466,1992 1467,1991 1468,1986 1469,1989 1471,1994 1472,1993 1473,1992 1474,1991 1475,1994 1476,1988 1477,1988 1478,1994 1479,1994 1480,1993 1481,1990 1482,1996 1483,1989 1484,1991 1485,1990 1487,1992 1488,1997 1489,1996 1490,1994 1491,1993 1492,1996 1493,1991 1494,1993 1495,1992 1496,1992 1497,1998 1498,1996 1499,1993 1500,1997 1501,1994 1503,1995 1504,1999 1505,1998 1506,1993 1507,1997 1508,1998 1509,1999 1510,1998 1511,2001 1512,1996 1513,2001 1514,2000 1515,2000 1516,1995 1517,2001 1519,1997 1520,2001 1521,1997 1522,1996 1523,1998 1524,2004 1525,2003 1526,2001 1527,2001 1528,2000 1529,2002 1530,2000 1531,2005 1532,2002 1533,2001 1535,2002 1536,1998 1537,2005 1538,2002 1539,2001 1540,2006 1541,2006 1542,2005 1543,2006 1544,2001 1545,2003 1546,2007 1547,2003 1548,2004 1549,2002 1551,2001 1552,2007 1553,2002 1554,2007 1555,2002 1556,2004 1557,2003 1558,2005 1559,2007 1560,2004 1561,2003 1562,2003 1563,2010 1564,2005 1565,2010 1567,2010 1568,2003 1569,2010 1570,2007 1571,2005 1572,2008 1573,2006 1574,2007 1575,2011 1576,2006 1577,2009 1578,2008 1579,2013 1580,2008 1581,2010 1583,2009 1584,2011 1585,2015 1586,2015 1587,2017 1588,2016 1589,2018 1590,2014 1591,2016 1592,2014 1593,2017 1594,2018 1595,2022 1596,2021 1597,2016 1599,2022 1600,2020 1601,2020 1602,2026 1603,2024 1604,2025 1605,2021 1606,2023 1607,2025 1608,2025 1609,2028 1610,2030 1611,2030 1612,2027 1613,2027 1614,2035 1616,2029 1617,2032 1618,2037 1619,2034 1620,2038 1621,2038 1622,2038 1623,2041 1624,2034 1625,2043 1626,2040 1627,2041 1628,2043 1629,2042 1630,2039 1632,2039 1633,2042 1634,2041 1635,2046 1636,2047 1637,2049 1638,2049 1639,2046 1640,2050 1641,2047 1642,2044 1643,2044 1644,2047 1645,2047 1646,2046 1648,2045 1649,2052 1650,2046 1651,2050 1652,2051 1653,2050 1654,2046 1655,2045 1656,2049 1657,2049 1658,2052 1659,2045 1660,2048 1661,2051 1662,2051 1664,2048 1665,2049 1666,2049 1667,2050 1668,2045 1669,2043 1670,2046 1671,2044 1672,2051 1673,2049 1674,2047 1675,2043 1676,2044 1677,2051 1678,2051 1680,2050 1681,2047 1682,2046 1683,2043 1684,2050 1685,2049 1686,2045 1687,2048 1688,2049 1689,2047 1690,2050 1691,2049 1692,2043 1693,2044 1694,2049 1696,2044 1697,2046 1698,2046 1699,2048 1700,2047 1701,2047 1702,2045 1703,2043 1704,2050 1705,2044 1706,2043 1707,2048 1708,2050 1709,2047 1710,2045 1712,2043 1713,2044 1714,2046 1715,2044 1716,2043 1717,2045 1718,2049 1719,2045 1720,2044 1721,2046 1722,2044 1723,2048 1724,2042 1725,2042 1726,2041 1728,2049 1729,2046 1730,2048 1731,2048 1732,2042 1733,2049 1734,2048 1735,2050 1736,2048 1737,2050 1738,2047 1739,2045 1740,2047 1741,2050 1742,2048 1744,2048 1745,2045 1746,2048 1747,2048 1748,2044 1749,2044 1750,2048 1751,2050 1752,2050 1753,2045 1754,2046 1755,2050 1756,2048 1757,2049 1758,2049 1760,2048 1761,2048 1762,2044 1763,2046 1764,2051 1765,2045 1766,2049 1767,2051 1768,2043 1769,2050 1770,2046 1771,2045 1772,2047 1773,2045 1774,2046 1776,2046 1777,2050 1778,2050 1779,2047 1780,2052 1781,2052 1782,2048 1783,2052 1784,2047 1785,2047 1786,2048 1787,2048 1788,2048 1789,2049 1790,2055 1792,2053 1793,2049 1794,2053 1795,2055 1796,2054 1797,2053 1798,2053 1799,2052 1800,2053 1801,2055 1802,2055 1803,2057 1804,2054 1805,2054 1806,2057 1808,2057 1809,2062 1810,2055" fill="none" stroke="#1A80B8" stroke-width="12" stroke-linecap="round" stroke-linejoin="round" />
<polyline points="1758,2009 1761,2016 1765,2021 1768,2025" fill="none" stroke="#1A80B8" stroke-width="13" stroke-linecap="round" stroke-linejoin="round" />
<polyline points="948,1946 949,1941 950,1947 951,1938 952,1939 953,1939 954,1946 955,1940 957,1944 958,1944 959,1941 960,1942 961,1950 962,1944 963,1940 964,1941 965,1947 966,1943 967,1946 968,1942 969,1944 970,1949 971,1947 973,1943 974,1944 975,1944 976,1947 977,1947 978,1946 979,1951 980,1946 981,1950 982,1954 983,1954 984,1955 985,1955 986,1949 987,1950 989,1951 990,1954 991,1951 992,1954 993,1955 994,1956 995,1952 996,1952 997,1955 998,1956 999,1957 1000,1954 1001,1953 1002,1958 1003,1956 1005,1954 1006,1956 1007,1958 1008,1957 1009,1955 1010,1954 1011,1959 1012,1959 1013,1956 1014,1957 1015,1957 1016,1951 1017,1959 1018,1956 1019,1951 1021,1954 1022,1954 1023,1957 1024,1953 1025,1957 1026,1951 1027,1952 1028,1957 1029,1957 1030,1958 1031,1949 1032,1957 1033,1952 1034,1953 1035,1955 1037,1955 1038,1949 1039,1947 1040,1948 1041,1950 1042,1947 1043,1954 1044,1953 1045,1950 1046,1948 1047,1946 1048,1951 1049,1947 1050,1949 1051,1948 1053,1951 1054,1949 1055,1948 1056,1945 1057,1950 1058,1953 1059,1945 1060,1947 1061,1947 1062,1948 1063,1953 1064,1946 1065,1945 1066,1948 1067,1951 1069,1945 1070,1946 1071,1943 1072,1944 1073,1951 1074,1948 1075,1950 1076,1943 1077,1948 1078,1950 1079,1943 1080,1949 1081,1942 1082,1943 1083,1943 1084,1949 1086,1948 1087,1950 1088,1949 1089,1941 1090,1946 1091,1947 1092,1945 1093,1942 1094,1948 1095,1942 1096,1945 1097,1947 1098,1949 1099,1942 1100,1941 1102,1946 1103,1945 1104,1945 1105,1950 1106,1943 1107,1941 1108,1942 1109,1948 1110,1949 1111,1940 1112,1940 1113,1946 1114,1947 1115,1946 1116,1941 1118,1942 1119,1943 1120,1945 1121,1942 1122,1942 1123,1939 1124,1943 1125,1946 1126,1944 1127,1944 1128,1945 1129,1943 1130,1941 1131,1947 1132,1947 1134,1942 1135,1938 1136,1944 1137,1937 1138,1942 1139,1941 1140,1937 1141,1944 1142,1939 1143,1941 1144,1943 1145,1940 1146,1945 1147,1944 1148,1938 1150,1943 1151,1942 1152,1939 1153,1937 1154,1944 1155,1937 1156,1939 1157,1938 1158,1936 1159,1940 1160,1941 1161,1942 1162,1943 1163,1937 1164,1938 1166,1942 1167,1942 1168,1935 1169,1939 1170,1940 1171,1936 1172,1937 1173,1943 1174,1943 1175,1937 1176,1945 1177,1945 1178,1944 1179,1947 1180,1938 1182,1942 1183,1940 1184,1944 1185,1940 1186,1948 1187,1943 1188,1945 1189,1945 1190,1948 1191,1946 1192,1948 1193,1941 1194,1947 1195,1946 1196,1944 1198,1948 1199,1946 1200,1944 1201,1951 1202,1944 1203,1948 1204,1952 1205,1951 1206,1951 1207,1948 1208,1951 1209,1948 1210,1947 1211,1953 1212,1951 1214,1945 1215,1946 1216,1950 1217,1948 1218,1954 1219,1950 1220,1956 1221,1947 1222,1951 1223,1952 1224,1948 1225,1955 1226,1954 1227,1959 1228,1953 1230,1955 1231,1957 1232,1961 1233,1957 1234,1963 1235,1963 1236,1956 1237,1960 1238,1957 1239,1961 1240,1961 1241,1959 1242,1968 1243,1959 1244,1968 1246,1967 1247,1961 1248,1964 1249,1964 1250,1970 1251,1968 1252,1970 1253,1971 1254,1972 1255,1968 1256,1966 1257,1975 1258,1968 1259,1976 1260,1978 1262,1977 1263,1972 1264,1977 1265,1972 1266,1980 1267,1978 1268,1978 1269,1976 1270,1981 1271,1977 1272,1983 1273,1976 1274,1982 1275,1982 1276,1982 1278,1987 1279,1982 1280,1988 1281,1984 1282,1984 1283,1981 1284,1985 1285,1984 1286,1985 1287,1984 1288,1993 1289,1991 1290,1992 1291,1987 1292,1991 1294,1991 1295,1992 1296,1989 1297,1993 1298,1997 1299,1989 1300,1993 1301,1998 1302,1991 1303,2000 1304,1999 1305,1993 1306,2000 1307,2003 1308,1997 1310,1996 1311,1997 1312,2004 1313,2005 1314,2005 1315,1999 1316,2007 1317,1999 1318,2004 1319,2009 1320,2005 1321,2004 1322,2012 1323,2009 1324,2013 1326,2012 1327,2009 1328,2013 1329,2007 1330,2014 1331,2015 1332,2016 1333,2017 1334,2013 1335,2019 1336,2019 1337,2020 1338,2014 1339,2020 1340,2016 1342,2017 1343,2022 1344,2024 1345,2018 1346,2024 1347,2019 1348,2018 1349,2021 1350,2018 1351,2018 1352,2015 1353,2018 1354,2013 1355,2012 1356,2012 1357,2013 1359,2009 1360,2015 1361,2007 1362,2013 1363,2007 1364,2004 1365,2008 1366,2012 1367,2007 1368,2009 1369,2004 1370,2009 1371,2000 1372,2004 1373,2007 1375,1998 1376,2007 1377,2007 1378,1999 1379,2005 1380,1998 1381,2002 1382,1998 1383,2001 1384,2001 1385,2001 1386,2008 1387,2002 1388,2008 1389,2000 1391,1999 1392,2000 1393,2005 1394,2005 1395,2000 1396,2004 1397,2007 1398,2004 1399,2008 1400,2008 1401,2007 1402,2008 1403,2008 1404,2007 1405,2009 1407,2004 1408,2001 1409,2002 1410,2001 1411,2002 1412,2004 1413,2001 1414,2007 1415,2006 1416,2002 1417,2003 1418,2000 1419,2000 1420,2005 1421,2007 1423,2008 1424,2001 1425,2003 1426,2003 1427,2005 1428,2007 1429,2003 1430,2002 1431,2008 1432,2005 1433,2004 1434,2007 1435,2003 1436,2008 1437,2002 1439,2008 1440,2007 1441,2007 1442,2011 1443,2008 1444,2004 1445,2005 1446,2005 1447,2006 1448,2006 1449,2006 1450,2005 1451,2006 1452,2011 1453,2013 1455,2011 1456,2007 1457,2007 1458,2012 1459,2012 1460,2009 1461,2012 1462,2016 1463,2017 1464,2015 1465,2017 1466,2013 1467,2013 1468,2016 1469,2012 1471,2020 1472,2021 1473,2022 1474,2020 1475,2019 1476,2018 1477,2016 1478,2015 1479,2017 1480,2020 1481,2020 1482,2021 1483,2021 1484,2023 1485,2023 1487,2017 1488,2026 1489,2024 1490,2020 1491,2016 1492,2023 1493,2020 1494,2022 1495,2021 1496,2025 1497,2022 1498,2021 1499,2025 1500,2023 1501,2024 1503,2021 1504,2026 1505,2020 1506,2024 1507,2026 1508,2027 1509,2021 1510,2018 1511,2021 1512,2027 1513,2027 1514,2021 1515,2020 1516,2019 1517,2020 1519,2025 1520,2022 1521,2019 1522,2021 1523,2026 1524,2026 1525,2019 1526,2018 1527,2020 1528,2021 1529,2019 1530,2021 1531,2022 1532,2025 1533,2022 1535,2020 1536,2027 1537,2021 1538,2020 1539,2019 1540,2024 1541,2021 1542,2029 1543,2026 1544,2027 1545,2022 1546,2021 1547,2020 1548,2025 1549,2025 1551,2027 1552,2022 1553,2028 1554,2020 1555,2025 1556,2027 1557,2029 1558,2027 1559,2024 1560,2021 1561,2028 1562,2027 1563,2025 1564,2021 1565,2021 1567,2025 1568,2028 1569,2029 1570,2024 1571,2030 1572,2021 1573,2029 1574,2022" fill="none" stroke="#F39020" stroke-width="12" stroke-linecap="round" stroke-linejoin="round" />
<polyline points="948,1913 949,1911 951,1910 952,1914 953,1908 955,1912 956,1912 957,1912 959,1912 960,1911 961,1911 963,1910 964,1915 965,1913 967,1911 968,1914 969,1913 971,1913 972,1917 973,1913 975,1916 976,1913 977,1914 979,1913 980,1914 981,1915 983,1913 984,1913 985,1918 987,1917 988,1919 989,1918 991,1920 992,1918 993,1916 995,1917 996,1917 997,1917 999,1921 1000,1916 1001,1921 1003,1920 1004,1920 1005,1917 1007,1919 1008,1921 1009,1923 1011,1919 1012,1923 1013,1918 1015,1921 1016,1923 1017,1920 1019,1919 1020,1922 1021,1925 1023,1923 1024,1923 1025,1922 1027,1924 1028,1920 1029,1922 1031,1925 1032,1924 1033,1922 1035,1923 1036,1923 1037,1925 1039,1923 1040,1927 1041,1923 1043,1925 1044,1928 1045,1924 1047,1924 1048,1924 1049,1927 1051,1928 1052,1927 1053,1925 1055,1929 1056,1926 1057,1926 1059,1928 1060,1927 1061,1925 1063,1926 1064,1931 1065,1928 1067,1931 1068,1927 1069,1932 1071,1932 1072,1931 1073,1932 1075,1929 1076,1927 1077,1933 1079,1928 1080,1933 1081,1934 1083,1929 1084,1930 1085,1930 1087,1931 1088,1930 1089,1929 1091,1932 1092,1935 1093,1930 1095,1931 1096,1932 1097,1934 1099,1931 1100,1933 1101,1933 1103,1933 1104,1934 1105,1934 1107,1937 1108,1936 1109,1937 1111,1933 1112,1935 1113,1933 1115,1936 1116,1936 1117,1937 1119,1934 1120,1933 1121,1937 1123,1936 1124,1934 1125,1939 1127,1938 1128,1936 1129,1938 1131,1939 1132,1938 1133,1939 1135,1936 1136,1939 1137,1938 1139,1938 1140,1940 1141,1940 1143,1935 1144,1939 1145,1936 1147,1937 1148,1941 1149,1939 1151,1939 1152,1939 1153,1938 1155,1939 1156,1941 1157,1939 1159,1938 1160,1942 1161,1941 1163,1941 1164,1942 1165,1938 1167,1941 1168,1942 1169,1938 1171,1938 1172,1944 1173,1943 1175,1940 1176,1943 1177,1944 1179,1944 1180,1939 1181,1945 1183,1939 1184,1943 1185,1943 1187,1943 1188,1943 1189,1941 1191,1946 1192,1943 1193,1946 1195,1944 1196,1943 1197,1941 1199,1945 1200,1943 1201,1941 1203,1945 1204,1942 1205,1944 1207,1945 1208,1946 1209,1948 1211,1946 1212,1945 1213,1944 1215,1944 1216,1945 1217,1945 1219,1947 1220,1948 1221,1945 1223,1944 1224,1944 1225,1946 1227,1944 1228,1948 1229,1948 1231,1946 1232,1946 1233,1946 1235,1948 1236,1949 1237,1950 1239,1949 1240,1951 1241,1947 1243,1951 1244,1952 1245,1952 1247,1952 1248,1950 1249,1952 1251,1953 1252,1953 1253,1951 1255,1951 1256,1951 1257,1951 1259,1950 1260,1950 1261,1948 1263,1949 1264,1950 1265,1954 1267,1953 1268,1951 1269,1954 1271,1951 1272,1953 1273,1954 1275,1955 1276,1952 1277,1954 1279,1952 1280,1956 1281,1956 1283,1954 1284,1954 1285,1952 1287,1954 1288,1955 1289,1957 1291,1952 1292,1955 1293,1955 1295,1954 1296,1955 1297,1954 1299,1953 1300,1954 1301,1954 1303,1958 1304,1958 1305,1956 1307,1959 1308,1959 1309,1956 1311,1955 1312,1958 1313,1957 1315,1960 1316,1958 1317,1955 1319,1959 1320,1957 1321,1961 1323,1956 1324,1957 1325,1958 1327,1956 1328,1961 1329,1962 1331,1959 1332,1962 1333,1961 1335,1961 1336,1962 1337,1963 1339,1961 1340,1961 1341,1962 1343,1959 1344,1964 1345,1960 1347,1964 1348,1959 1349,1961 1351,1961 1352,1960 1353,1965 1355,1964 1356,1965 1357,1960 1359,1964 1360,1966 1361,1961 1363,1963 1364,1965 1365,1963 1367,1965 1368,1962 1369,1966 1371,1965 1372,1966 1373,1964 1375,1963 1376,1963 1377,1966 1379,1962 1380,1962 1381,1962 1383,1963 1384,1964 1385,1964 1387,1967 1388,1964 1389,1964 1391,1965 1392,1969 1393,1968 1395,1965 1396,1967 1397,1964 1399,1966 1400,1964 1401,1967 1403,1965 1404,1965 1405,1969 1407,1967 1408,1966 1409,1965 1411,1968 1412,1966 1413,1969 1415,1966 1416,1968 1417,1969 1419,1966 1420,1967 1421,1971 1423,1970 1424,1968 1425,1967 1427,1968 1428,1969 1429,1968 1431,1971 1432,1972 1433,1970 1435,1972 1436,1968 1437,1968 1439,1969 1440,1969 1441,1970 1443,1969 1444,1971 1445,1970 1447,1969 1448,1974 1449,1973 1451,1970 1452,1973 1453,1970 1455,1973 1456,1972 1457,1970 1459,1972 1460,1975 1461,1970 1463,1975 1464,1971 1465,1973 1467,1971 1468,1972 1469,1972 1471,1972 1472,1972 1473,1977 1475,1974 1476,1972 1477,1973 1479,1974 1480,1975 1481,1978 1483,1977 1484,1977 1485,1973 1487,1972 1488,1977 1489,1975 1491,1978 1492,1975 1493,1973 1495,1977 1496,1974 1497,1977 1499,1977 1500,1977 1501,1976 1503,1977 1504,1975 1505,1974 1507,1975 1508,1977 1509,1979 1511,1975 1512,1977 1513,1976 1515,1977 1516,1976 1517,1976 1519,1976 1520,1978 1521,1976 1523,1975 1524,1980 1525,1979 1527,1979 1528,1975 1529,1978 1531,1979 1532,1979 1533,1976 1535,1981 1536,1980 1537,1980 1539,1978 1540,1979 1541,1979 1543,1981 1544,1981 1545,1978 1547,1979 1548,1977 1549,1979 1551,1982 1552,1982 1553,1982 1555,1983 1556,1981 1557,1982 1559,1982 1560,1982 1561,1980 1563,1980 1564,1982 1565,1980 1567,1980 1568,1979 1569,1983 1571,1980 1572,1981 1573,1978 1575,1983 1576,1983 1577,1981 1579,1979 1580,1980 1581,1984 1583,1982 1584,1979 1585,1982 1587,1980 1588,1984 1589,1983 1591,1979 1592,1980 1593,1981 1595,1982 1596,1985 1597,1980 1599,1982 1600,1982 1601,1983 1603,1982 1604,1983 1605,1983 1607,1984 1608,1985 1609,1986 1611,1985 1612,1986 1613,1981 1614,1986 1616,1982 1617,1985 1618,1984 1620,1983 1621,1987 1622,1987 1624,1985 1625,1985 1626,1987 1628,1987 1629,1983 1630,1987 1632,1987 1633,1985 1634,1987 1636,1984 1637,1988 1638,1987 1640,1988 1641,1986 1642,1987 1644,1986 1645,1985 1646,1984 1648,1986 1649,1984 1650,1986 1652,1985 1653,1987 1654,1989 1656,1987 1657,1984 1658,1987 1660,1987 1661,1987 1662,1986 1664,1988 1665,1989 1666,1986 1668,1988 1669,1985 1670,1985 1672,1986 1673,1987 1674,1987 1676,1989 1677,1990 1678,1987 1680,1988 1681,1989 1682,1988 1684,1989 1685,1989 1686,1990 1688,1989 1689,1991 1690,1989 1692,1988 1693,1989 1694,1991 1696,1987 1697,1991 1698,1986 1700,1990 1701,1989 1702,1992 1704,1987 1705,1987 1706,1989 1708,1989 1709,1987 1710,1988 1712,1988 1713,1989 1714,1990 1716,1992 1717,1991 1718,1988 1720,1988 1721,1992 1722,1988 1724,1991 1725,1992 1726,1989 1728,1989 1729,1993 1730,1989 1732,1992 1733,1990 1734,1989 1736,1992 1737,1989 1738,1994 1740,1989 1741,1991 1742,1992 1744,1990 1745,1993 1746,1994 1748,1988 1749,1992 1750,1993 1752,1991 1753,1992 1754,1989 1756,1993 1757,1995 1758,1989 1760,1993 1761,1992 1762,1994 1764,1992 1765,1991 1766,1993 1768,1995 1769,1991 1770,1991 1772,1993 1773,1995 1774,1993 1776,1995 1777,1990 1778,1995 1780,1990 1781,1992 1782,1995 1784,1995 1785,1990 1786,1996 1788,1992 1789,1993 1790,1990 1792,1994 1793,1996 1794,1995 1796,1993 1797,1996 1798,1994 1800,1992 1801,1992 1802,1995 1804,1991 1805,1997 1806,1996 1808,1992 1809,1994 1810,1993 1812,1995 1813,1994 1814,1994 1816,1995 1817,1994 1818,1997 1820,1996 1821,1997 1822,1997 1824,1996 1825,1992 1826,1996 1828,1997 1829,1997 1830,1998 1832,1997 1833,1994 1834,1996 1836,1999 1837,1995 1838,1996 1840,1996 1841,1994 1842,1997 1844,1998 1845,1994 1846,1999 1848,1996 1849,2000 1850,1999 1852,1999 1853,1999 1854,1999 1856,1998 1857,1995 1858,2000 1860,1998 1861,1997 1862,1996 1864,1995 1865,1995 1866,1999 1868,1998 1869,1998 1870,1999 1872,1997 1873,1997 1874,1996 1876,1997 1877,1999 1878,1996 1880,1998 1881,2001 1882,1996 1884,1996 1885,1996 1886,1998 1888,2000 1889,1997 1890,2000 1892,1999 1893,1998 1894,1998 1896,2002 1897,1999 1898,2001 1900,2001 1901,2001 1902,1998 1904,1998 1905,1997 1906,1997 1908,2000 1909,1997 1910,2002 1912,2001 1913,2002 1914,1998 1916,1999 1917,2003 1918,2000 1920,2002 1921,2000 1922,2002 1924,1998 1925,1998 1926,1998 1928,1999 1929,2003 1930,2002 1932,2003 1933,1999 1934,2002 1936,1999 1937,1999 1938,1999 1940,2003 1941,2003 1942,2001 1944,2003 1945,2002 1946,1999 1948,2004 1949,2004 1950,2000 1952,1999 1953,1999 1954,2003 1956,2003 1957,2001 1958,1999 1960,2000 1961,2005 1962,2002 1964,2004 1965,2003 1966,2000 1968,2001 1969,2002 1970,2004 1972,2001 1973,2005 1974,2005 1976,2000 1977,2005 1978,2002 1980,2004 1981,2002 1982,2005 1984,2006 1985,2003 1986,2000 1988,2005 1989,2004 1990,2001 1992,2006 1993,2003 1994,2001 1996,2007 1997,2001 1998,2005 2000,2007 2001,2005 2002,2002 2004,2006 2005,2004 2006,2006 2008,2006 2009,2004 2010,2007 2012,2004 2013,2003 2014,2003 2016,2008 2017,2003 2018,2005 2020,2005 2021,2005 2022,2002 2024,2005 2025,2004 2026,2002 2028,2006 2029,2003 2030,2005 2032,2002 2033,2006 2034,2005 2036,2006 2037,2004 2038,2006 2040,2008 2041,2003 2042,2007 2044,2008 2045,2009 2046,2007 2048,2004 2049,2007 2050,2004 2052,2005 2053,2007 2054,2009 2056,2007 2057,2007 2058,2008 2060,2008 2061,2006 2062,2005 2064,2005 2065,2006 2066,2009 2068,2008 2069,2006 2070,2004 2072,2005 2073,2008 2074,2007 2076,2005 2077,2008 2078,2006 2080,2007 2081,2005 2082,2009 2084,2004 2085,2008 2086,2006 2088,2006 2089,2006 2090,2009 2092,2005 2093,2006 2094,2007 2096,2005 2097,2008 2098,2007 2100,2008 2101,2005 2102,2007 2104,2009 2105,2006 2106,2006 2108,2009 2109,2006 2110,2006 2112,2008 2113,2006 2114,2011 2116,2008 2117,2009 2118,2009 2120,2008 2121,2009 2122,2006 2124,2006 2125,2011 2126,2009 2128,2010 2129,2008 2130,2011 2132,2008 2133,2009 2134,2010 2136,2007 2137,2008 2138,2007 2140,2012 2141,2011 2142,2009 2144,2007 2145,2008 2146,2007 2148,2011 2149,2008 2150,2013 2152,2012 2153,2008 2154,2012 2156,2008 2157,2009 2158,2011 2160,2013 2161,2012 2162,2013 2164,2013 2165,2009 2166,2010 2168,2008 2169,2010 2170,2007 2172,2010 2173,2013 2174,2012 2176,2010 2177,2010 2178,2008 2180,2013 2181,2009 2182,2008 2184,2010 2185,2008 2186,2013 2188,2008 2189,2009 2190,2009 2192,2009 2193,2011 2194,2009 2196,2010 2197,2013 2198,2010 2200,2009 2201,2010 2202,2011 2204,2013 2205,2014 2206,2009 2208,2013 2209,2014 2210,2012 2212,2012 2213,2012 2214,2014 2216,2014 2217,2013 2218,2012 2220,2013 2221,2015 2222,2011 2224,2009 2225,2009 2226,2011 2228,2013 2229,2012 2230,2014 2232,2011 2233,2012 2234,2010 2236,2015 2237,2013 2238,2013 2240,2014 2241,2014 2242,2011 2244,2013 2245,2011 2246,2012 2248,2011 2249,2015 2250,2010 2252,2011 2253,2013 2254,2011 2256,2015 2257,2010 2258,2016 2260,2011 2261,2016 2262,2012 2264,2011 2265,2014 2266,2013 2268,2015 2269,2012 2270,2013 2272,2014 2273,2012 2274,2014 2276,2016 2277,2015 2278,2012 2280,2015 2281,2014" fill="none" stroke="#EE6A90" stroke-width="12" stroke-linecap="round" stroke-linejoin="round" />
<polyline points="948,2059 949,2054 950,2055 950,2046 951,2041 952,2044 953,2039 954,2037 954,2032 955,2024 956,2022 957,2014 958,2011 958,2014 959,2013 960,2007 961,1999 962,1999 962,1998 963,1995 964,1990 965,1988 966,1986 966,1991 967,1993 968,1992 969,1991 970,1988 970,1987 971,1988 972,1988 973,1985 974,1983 974,1986 975,1987 976,1990 977,1990 978,1983 978,1985 979,1984 980,1987 981,1986 982,1985 982,1982 983,1985 984,1980 985,1987 986,1981 986,1979 987,1981 988,1980 989,1986 990,1984 990,1986 991,1980 992,1984 993,1983 994,1983 994,1981 995,1986 996,1985 997,1984 998,1986 998,1984 999,1984 1000,1982 1001,1980 1002,1986 1002,1981 1003,1984 1004,1984 1005,1987 1006,1985 1006,1987 1007,1982 1008,1987 1009,1981 1010,1982 1010,1982 1011,1981 1012,1984 1013,1984 1014,1987 1014,1986 1015,1982 1016,1981 1017,1984 1018,1983 1018,1984 1019,1983 1020,1985 1021,1981 1022,1986 1022,1986 1023,1985 1024,1989 1025,1984 1026,1985 1026,1983 1027,1982 1028,1983 1029,1983 1030,1987 1030,1983 1031,1983 1032,1984 1033,1987 1034,1984 1034,1987 1035,1983 1036,1986 1037,1988 1038,1989 1038,1987 1039,1983 1040,1985 1041,1983 1042,1989 1042,1988 1043,1990 1044,1983 1045,1984 1046,1985 1046,1988 1047,1988 1048,1983 1049,1984 1050,1984 1050,1986 1051,1987 1052,1984 1053,1985 1054,1984 1054,1985 1055,1990 1056,1986 1057,1984 1058,1986 1058,1986 1059,1984 1060,1987 1061,1987 1062,1990 1062,1986 1063,1992 1064,1989 1065,1990 1066,1989 1066,1987 1067,1985 1068,1990 1069,1991 1070,1989 1070,1989 1071,1988 1072,1987 1073,1987 1074,1987 1074,1988 1075,1986 1076,1990 1077,1988 1078,1987 1078,1986 1079,1987 1080,1992 1081,1986 1082,1993 1082,1987 1083,1989 1084,1993 1085,1993 1086,1989 1086,1992 1087,1988 1088,1992 1089,1989 1090,1991 1090,1994 1091,1991 1092,1991 1093,1989 1094,1993 1094,1992 1095,1993 1096,1990 1097,1993 1098,1994 1098,1993 1099,1990 1100,1991 1101,1995 1102,1992 1102,1995 1103,1993 1104,1993 1105,1995 1106,1995 1106,1997 1107,1993 1108,1990 1109,1991 1110,1991 1110,1998 1111,1994 1112,1995 1113,1992 1114,1995 1114,1997 1115,1995 1116,1997 1117,1996 1118,2001 1118,2001 1119,2001 1120,1997 1121,2002" fill="none" stroke="#1F5A5A" stroke-width="12" stroke-linecap="round" stroke-linejoin="round" />
<polyline points="1121,2082 1121,2074 1121,2066 1120,2058 1121,2049" fill="none" stroke="#1F5A5A" stroke-width="12" stroke-linecap="round" stroke-linejoin="round" />
<rect x="948" y="1724" width="1333" height="461" fill="none" stroke="#000" stroke-width="4"/>
<line x1="938" y1="2184" x2="948" y2="2184" stroke="#000" stroke-width="3" />
<text x="923" y="2199" font-family="'Liberation Sans', sans-serif" font-size="42" font-weight="bold" fill="#111" text-anchor="end" >0</text>
<line x1="943" y1="2133" x2="948" y2="2133" stroke="#000" stroke-width="3" />
<line x1="938" y1="2082" x2="948" y2="2082" stroke="#000" stroke-width="3" />
<text x="923" y="2097" font-family="'Liberation Sans', sans-serif" font-size="42" font-weight="bold" fill="#111" text-anchor="end" >100</text>
<line x1="943" y1="2031" x2="948" y2="2031" stroke="#000" stroke-width="3" />
<line x1="938" y1="1980" x2="948" y2="1980" stroke="#000" stroke-width="3" />
<text x="923" y="1995" font-family="'Liberation Sans', sans-serif" font-size="42" font-weight="bold" fill="#111" text-anchor="end" >200</text>
<line x1="943" y1="1929" x2="948" y2="1929" stroke="#000" stroke-width="3" />
<line x1="938" y1="1878" x2="948" y2="1878" stroke="#000" stroke-width="3" />
<text x="923" y="1893" font-family="'Liberation Sans', sans-serif" font-size="42" font-weight="bold" fill="#111" text-anchor="end" >300</text>
<line x1="943" y1="1827" x2="948" y2="1827" stroke="#000" stroke-width="3" />
<line x1="938" y1="1776" x2="948" y2="1776" stroke="#000" stroke-width="3" />
<text x="923" y="1791" font-family="'Liberation Sans', sans-serif" font-size="42" font-weight="bold" fill="#111" text-anchor="end" >400</text>
<line x1="943" y1="1725" x2="948" y2="1725" stroke="#000" stroke-width="3" />
<line x1="2281" y1="2185" x2="2291" y2="2185" stroke="#000" stroke-width="3" />
<text x="2303" y="2200" font-family="'Liberation Sans', sans-serif" font-size="42" font-weight="bold" fill="#111" text-anchor="start" >0</text>
<line x1="2281" y1="2143.2" x2="2286" y2="2143.2" stroke="#000" stroke-width="3" />
<line x1="2281" y1="2101.3" x2="2291" y2="2101.3" stroke="#000" stroke-width="3" />
<text x="2303" y="2116.3" font-family="'Liberation Sans', sans-serif" font-size="42" font-weight="bold" fill="#111" text-anchor="start" >20</text>
<line x1="2281" y1="2059.5" x2="2286" y2="2059.5" stroke="#000" stroke-width="3" />
<line x1="2281" y1="2017.6" x2="2291" y2="2017.6" stroke="#000" stroke-width="3" />
<text x="2303" y="2032.6" font-family="'Liberation Sans', sans-serif" font-size="42" font-weight="bold" fill="#111" text-anchor="start" >40</text>
<line x1="2281" y1="1975.8" x2="2286" y2="1975.8" stroke="#000" stroke-width="3" />
<line x1="2281" y1="1934" x2="2291" y2="1934" stroke="#000" stroke-width="3" />
<text x="2303" y="1949" font-family="'Liberation Sans', sans-serif" font-size="42" font-weight="bold" fill="#111" text-anchor="start" >60</text>
<line x1="2281" y1="1892.1" x2="2286" y2="1892.1" stroke="#000" stroke-width="3" />
<line x1="2281" y1="1850.3" x2="2291" y2="1850.3" stroke="#000" stroke-width="3" />
<text x="2303" y="1865.3" font-family="'Liberation Sans', sans-serif" font-size="42" font-weight="bold" fill="#111" text-anchor="start" >80</text>
<line x1="2281" y1="1808.4" x2="2286" y2="1808.4" stroke="#000" stroke-width="3" />
<line x1="2281" y1="1766.6" x2="2291" y2="1766.6" stroke="#000" stroke-width="3" />
<text x="2303" y="1781.6" font-family="'Liberation Sans', sans-serif" font-size="42" font-weight="bold" fill="#111" text-anchor="start" >100</text>
<line x1="2281" y1="1724.8" x2="2286" y2="1724.8" stroke="#000" stroke-width="3" />
<line x1="948" y1="2185" x2="948" y2="2195" stroke="#000" stroke-width="3" />
<text x="948" y="2241" font-family="'Liberation Sans', sans-serif" font-size="42" font-weight="bold" fill="#111" text-anchor="middle" >0</text>
<line x1="1081.3" y1="2185" x2="1081.3" y2="2190" stroke="#000" stroke-width="3" />
<line x1="1214.6" y1="2185" x2="1214.6" y2="2195" stroke="#000" stroke-width="3" />
<text x="1214.6" y="2241" font-family="'Liberation Sans', sans-serif" font-size="42" font-weight="bold" fill="#111" text-anchor="middle" >2000</text>
<line x1="1347.9" y1="2185" x2="1347.9" y2="2190" stroke="#000" stroke-width="3" />
<line x1="1481.2" y1="2185" x2="1481.2" y2="2195" stroke="#000" stroke-width="3" />
<text x="1481.2" y="2241" font-family="'Liberation Sans', sans-serif" font-size="42" font-weight="bold" fill="#111" text-anchor="middle" >4000</text>
<line x1="1614.5" y1="2185" x2="1614.5" y2="2190" stroke="#000" stroke-width="3" />
<line x1="1747.8" y1="2185" x2="1747.8" y2="2195" stroke="#000" stroke-width="3" />
<text x="1747.8" y="2241" font-family="'Liberation Sans', sans-serif" font-size="42" font-weight="bold" fill="#111" text-anchor="middle" >6000</text>
<line x1="1881.1" y1="2185" x2="1881.1" y2="2190" stroke="#000" stroke-width="3" />
<line x1="2014.4" y1="2185" x2="2014.4" y2="2195" stroke="#000" stroke-width="3" />
<text x="2014.4" y="2241" font-family="'Liberation Sans', sans-serif" font-size="42" font-weight="bold" fill="#111" text-anchor="middle" >8000</text>
<line x1="2147.7" y1="2185" x2="2147.7" y2="2190" stroke="#000" stroke-width="3" />
<line x1="2281" y1="2185" x2="2281" y2="2195" stroke="#000" stroke-width="3" />
<text x="2281" y="2241" font-family="'Liberation Sans', sans-serif" font-size="42" font-weight="bold" fill="#111" text-anchor="middle" >10000</text>
<text x="1614" y="2296" font-family="'Liberation Sans', sans-serif" font-size="46" font-weight="bold" fill="#111" text-anchor="middle" textLength="325" lengthAdjust="spacingAndGlyphs">Cycle Number</text>
<text x="0" y="0" font-family="'Liberation Sans', sans-serif" font-size="35" font-weight="bold" fill="#111" text-anchor="middle" transform="translate(838 1956) rotate(-90)" textLength="485" lengthAdjust="spacingAndGlyphs">Specific Capacity (mAh g<tspan font-size="21" dy="-14">-1</tspan><tspan dy="14">)</tspan></text>
<text x="0" y="0" font-family="'Liberation Sans', sans-serif" font-size="33" font-weight="bold" fill="#111" text-anchor="middle" transform="translate(2420 1955) rotate(-90)" textLength="443" lengthAdjust="spacingAndGlyphs">Coulombic Efficiency (%)</text>
<text x="2168" y="2159" font-family="'Liberation Sans', sans-serif" font-size="26" font-weight="bold" fill="#111" text-anchor="start" textLength="87" lengthAdjust="spacingAndGlyphs">5 A g<tspan font-size="15" dy="-10">-1</tspan></text>
<path d="M2100 1784 V1839 H2262" fill="none" stroke="#000" stroke-width="2.8"/>
<polygon points="2281,1839 2258,1832 2258,1846" fill="#000" />
<circle cx="1011" cy="2097" r="7" fill="#1F5A5A" />
<text x="1057" y="2108" font-family="'Liberation Sans', sans-serif" font-size="31" font-weight="bold" fill="#1F4A50" text-anchor="start" textLength="38" lengthAdjust="spacingAndGlyphs">Zn</text>
<circle cx="1011" cy="2150" r="7" fill="#F39020" />
<text x="1057" y="2162" font-family="'Liberation Sans', sans-serif" font-size="31" font-weight="bold" fill="#F39020" text-anchor="start" textLength="270" lengthAdjust="spacingAndGlyphs">MOF-CeO<tspan font-size="19" dy="6">2</tspan><tspan dy="-6">/C@Zn</tspan></text>
<circle cx="1367" cy="2097" r="6" fill="none" stroke="#EE6A90" stroke-width="3"/>
<text x="1417" y="2108" font-family="'Liberation Sans', sans-serif" font-size="31" font-weight="bold" fill="#EE6A90" text-anchor="start" textLength="238" lengthAdjust="spacingAndGlyphs">MOF-CeO<tspan font-size="19" dy="6">2</tspan><tspan dy="-6">@Zn</tspan></text>
<circle cx="1367" cy="2150" r="7" fill="#1A80B8" />
<text x="1417" y="2162" font-family="'Liberation Sans', sans-serif" font-size="31" font-weight="bold" fill="#1A80B8" text-anchor="start" textLength="268" lengthAdjust="spacingAndGlyphs">Ce-MOF-808@Zn</text>
<text x="850.4" y="1696.5" font-family="'Liberation Serif', serif" font-size="66" font-weight="bold" fill="#000" text-anchor="start" >(m)</text>
</svg></body></html>
